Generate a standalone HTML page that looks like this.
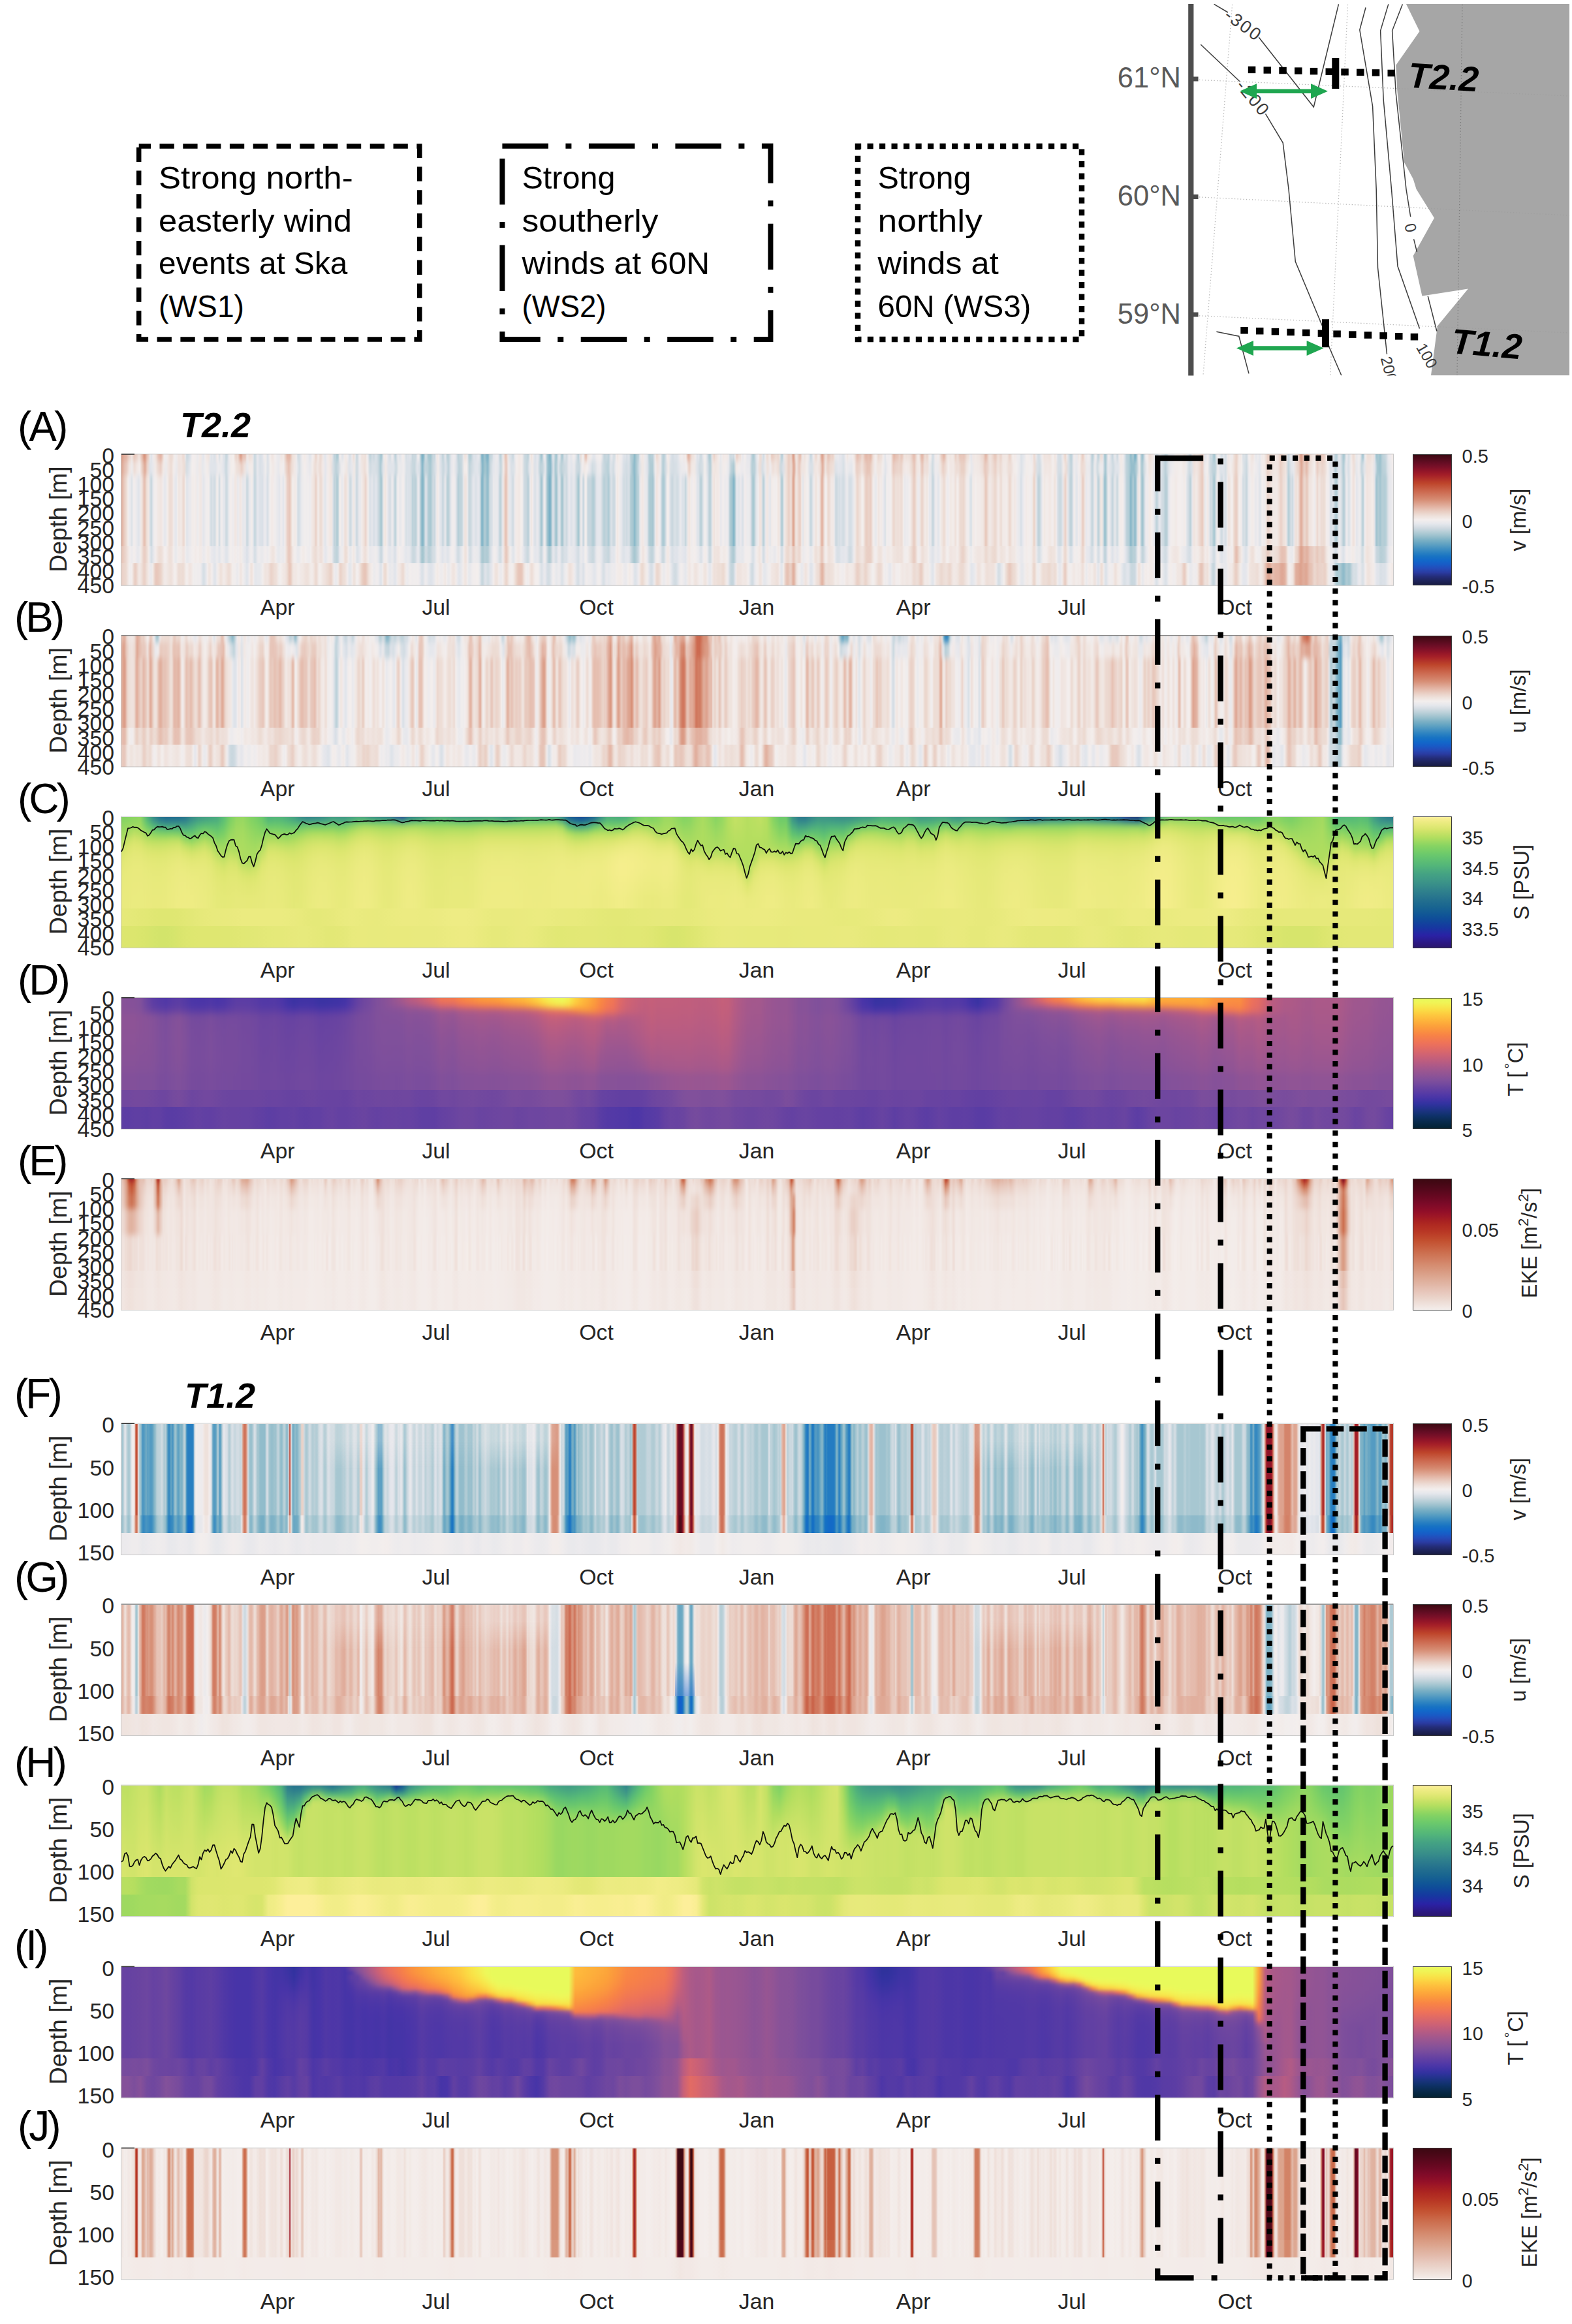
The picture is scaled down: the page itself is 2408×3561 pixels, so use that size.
<!DOCTYPE html><html><head><meta charset="utf-8"><title>Figure</title><style>
html,body{margin:0;padding:0;background:#fff}
body{width:2408px;height:3561px;position:relative;overflow:hidden;font-family:"Liberation Sans", sans-serif}
.p{position:absolute;overflow:hidden;left:186px;width:1948px;height:200.5px}
.p div{position:absolute;left:0;width:100%}
.bl{position:absolute;left:0;top:-40px;width:100%;height:280.5px;filter:url(#vb)}
.bl2{position:absolute;left:0;top:-40px;width:100%;height:280.5px;filter:url(#vb2)}
.cb{position:absolute;left:2164px;width:60px;height:201.5px;border:1px solid #3a3a3a;box-sizing:border-box}
svg{position:absolute;left:0;top:0}
text{font-family:"Liberation Sans", sans-serif}
</style></head><body>
<svg width="0" height="0"><defs><filter id="vb" x="0" y="-0.1" width="1" height="1.2" color-interpolation-filters="sRGB"><feGaussianBlur stdDeviation="0 5"/></filter><filter id="vb2" x="0" y="-0.1" width="1" height="1.2" color-interpolation-filters="sRGB"><feGaussianBlur stdDeviation="0 2.6"/></filter></defs></svg>
<div class="p" style="top:696.3px">
<div class="bl">
<div style="top:-5px;height:55px;background:linear-gradient(90deg,#d99781,#dda28e,#e0ac9a,#e1b09f,#e3b5a6,#e7c4b7,#ead0c6,#ecd9d1,#f0e6e2,#ead2c8,#e7c5b8,#e9cec4,#ead2c9,#eee0da,#eee0da,#e8cabf,#e4b8a8,#da9a84,#d8927a,#e1af9e,#e7c5b8,#ebd4cb,#eae9ec,#dde2e8,#eeebed,#f1e9e6,#efe4df,#ecd8d0,#e7c3b7,#e4b8a9,#e2b1a1,#e5beb0,#eddcd5,#f2eded,#edebed,#f2ebe9,#f0e5e1,#eddcd5,#ecdbd3,#ecdbd4,#f1e8e5,#f1eded,#edebed,#f1e9e7,#efe2dd,#f0e6e3,#f0e5e1,#ecdad3,#eddcd5,#eae9ec,#cbd8df,#cfdae1,#d8dfe6,#e0e4ea,#f0eced,#f3edec,#f0eded,#f2eceb,#eae9ec,#eeebed,#f1e9e6,#f1e8e5,#e7e7ec,#e3e5eb,#f1eded,#f1e8e5,#f0e5e1,#efe3de,#e7e8ec,#dce2e8,#e6e7ec,#d9e0e6,#dee2e9,#f1e8e5,#f2eded,#d5dde4,#ebeaec,#efeced,#dee2e9,#dee3e9,#c6d6dd,#c9d7de,#e3e5eb,#f1eded,#f2ebe8,#f2eded,#f3eeec,#ecdbd3,#ead3ca,#ecdad2,#e6c2b5,#db9d88,#dda18d,#e6c0b3,#e6c0b3,#e7c3b7,#f0e6e2,#f0e6e3,#edddd6,#efe2dd,#efe3de,#e5e6ec,#c6d6dd,#d3dce3,#e8e8ec,#e4e6ec,#d8dfe6,#dae0e7,#dfe3e9,#eeeced,#f2ebe9,#e9e9ec,#d8dfe6,#e8e8ec,#f3eeed,#f0e6e2,#f0e4e0,#f2eceb,#f3eeed,#edebed,#ebeaec,#e8e8ec,#f1e7e4,#f0e5e1,#f2ebe9,#eddcd5,#e8c9bd,#e3b5a5,#e3b6a6,#e2b4a4,#e8cabf,#eee1db,#efe3de,#f0e5e1,#f2eded,#d4dde4,#d1dbe2,#dce1e8,#eae9ec,#f3eeed,#f1e9e6,#f2ebe9,#eeebed,#ebeaec,#e1e4ea,#e4e6ec,#f0eced,#f2ebea,#efe3de,#ead1c7,#efe2dd,#f2eae7,#ecdbd3,#ecdad3,#f0e6e2,#eae9ec,#e0e4ea,#eceaed,#f2ebe9,#f1e8e4,#efe3df,#f0e7e3,#dbe1e8,#bdd2da,#c2d4dc,#a8c8d1,#b0cbd4,#eeebed,#f1eded,#dee3e9,#e6e7ec,#f2ebe8,#f1e9e6,#f1eded,#e5e7ec,#d6dee5,#e6e7ec,#f1e8e5,#ecdbd3,#edebed,#c8d7de,#d1dbe2,#edebed,#f0eced,#efe3de,#efe2dd,#efe3de,#edded8,#f3eeec,#e4e6ec,#c3d4dc,#c2d4dc,#d4dde4,#cad7df,#d0dbe2,#dce1e8,#d0dbe2,#c2d4dc,#b3ccd5,#9cc1ce,#c6d6dd,#f2eeed,#f0e6e2,#f3edec,#e6e7ec,#d8dfe6,#d6dee4,#eceaed,#edebed,#cdd9e0,#b8cfd8,#dce1e8,#ebeaec,#e0e4ea,#e5e7ec,#f1eded,#f2ebe9,#e9e9ec,#d5dde4,#dde2e8,#dce1e8,#e1e4ea,#dbe1e7,#c1d3db,#ced9e0,#c6d6dd,#d6dee5,#f2eeed,#edebed,#bad0d8,#86b6c8,#77afc4,#a5c6d0,#d5dee4,#c6d6dd,#a7c7d1,#a4c6d0,#a3c5cf,#bdd1d9,#cad8df,#c5d5dd,#ebe9ec,#f0e6e2,#f1eded,#dee3e9,#d7dfe5,#bed2da,#ccd9e0,#e9e8ec,#c9d7de,#b5ced6,#c5d5dd,#d9e0e6,#e9e9ec,#eceaed,#edebed,#e8e8ec,#d1dbe2,#b9cfd8,#c5d5dd,#c8d7de,#cdd9e0,#eae9ec,#eee1db,#efe3df,#eae9ec,#bcd1d9,#b1ccd5,#bcd1d9,#d2dce3,#dfe3ea,#dae0e7,#dee2e9,#e6e7ec,#e6e7ec,#c6d6dd,#7db2c6,#83b4c7,#9fc3ce,#91bccb,#78afc5,#81b4c7,#bfd2da,#c7d6de,#cbd8df,#e6e7ec,#e6e7ec,#eceaed,#eeebed,#dfe3ea,#bad0d8,#c8d7de,#e6e7ec,#eee0da,#e6c2b4,#e8cabe,#f0e6e2,#dfe3e9,#dce2e8,#d4dde4,#c6d6dd,#e3e6ec,#f1eded,#f1eded,#f2ebe8,#f1e9e6,#f2eceb,#f2ecea,#dae0e7,#c8d7de,#c9d7df,#bdd2da,#c4d5dd,#f2eeed,#eee0da,#f2ebe9,#e3e6ec,#d8dfe6,#e3e6ec,#e5e7ec,#d2dce3,#adcad3,#9cc1ce,#d6dee5,#f3eeed,#dce2e8,#a9c8d2,#92bccb,#7bb1c5,#93bdcb,#d7dee5,#dee3e9,#bed2da,#9bc1ce,#c5d5dd,#e7e8ec,#e0e4ea,#afcbd4,#aac8d2,#d8dfe6,#dbe1e7,#cdd9e0,#e1e4ea,#edebed,#e6e7ec,#e8e8ec,#f1eded,#efeced,#e4e6ec,#cfdae1,#b4cdd6,#dee2e9,#ecdbd4,#f2ecea,#eeebed,#e7c7ba,#e3b7a8,#eee0da,#f1e8e5,#f2ebe8,#efeced,#e6e7ec,#e2e5eb,#e9e9ec,#f1eded,#f0eded,#f3eeed,#f3edec,#e9e9ec,#d1dbe2,#c0d3db,#c7d6de,#c9d7df,#bbd0d9,#d1dbe2,#e9e9ec,#e2e5eb,#d5dee4,#d5dee4,#f3edec,#f0e5e1,#f3edeb,#f0eced,#efeced,#e5e7ec,#dce1e8,#e0e4ea,#d5dde4,#dee2e9,#dbe1e7,#b6ced7,#b3ccd5,#a8c8d1,#87b7c8,#a1c4cf,#b5cdd6,#b8cfd8,#e3e5ec,#f2ebe8,#f0e6e3,#f2eae8,#e9e8ec,#e9e9ec,#dbe1e7,#b7ced7,#b3ccd5,#b9cfd8,#b9cfd8,#d8dfe6,#f1e9e7,#ebd7ce,#eedfd9,#f0e5e1,#eceaed,#cad7df,#b6ced7,#bed2da,#d8dfe6,#f3eeec,#f1e8e5,#eae9ec,#dce1e8,#d3dce3,#d8dfe6,#dde2e9,#dae0e7,#dee3e9,#e8e8ec,#f2ebe9,#f1eded,#f0eced,#f1e7e4,#f3eeec,#ebd7cf,#e1af9d,#e3b4a4,#e9cdc3,#eee0da,#eee1dc,#f1e7e4,#edebed,#dce1e8,#e5e6ec,#d5dde4,#cbd8df,#dfe3e9,#edebed,#f3eeec,#e7e8ec,#d0dbe2,#afcbd4,#acc9d3,#d8dfe6,#eee1db,#e9cec4,#eedfd9,#efe2dd,#f1e9e7,#f2eeed,#e6e7ec,#f1eded,#f1e7e4,#f2ebe9,#f2eae8,#f1e8e5,#eeebed,#d0dbe2,#d0dbe1,#d5dee4,#ced9e0,#edebed,#ead1c7,#ead1c7,#eedfd9,#edded7,#f2eceb,#e6e7ec,#f1eded,#f3edec,#e7e7ec,#e5e7ec,#e6e7ec,#dae0e7,#b9cfd8,#a9c8d1,#bbd1d9,#dce2e8,#e7e8ec,#f3eeed,#ecdbd4,#eddcd5,#e0e4ea,#ced9e0,#eeebed,#eedfd8,#ecdbd3,#f0e7e3,#f1e8e4,#e8c9bd,#e9cdc2,#ead3c9,#ecd9d1,#ecdbd3,#ebd4cb,#efe2dd,#cfdae1,#adcad3,#dce2e8,#f1e8e5,#eee1db,#ecdad2,#e9ccc1,#ead0c6,#ecdad2,#dfaa98,#db9c87,#ebd7cf,#f0e5e1,#ecdad2,#e6c3b6,#e4baab,#eddcd5,#eeebed,#eee1db,#f0e5e1,#f2ebe9,#f2eae8,#dfe3ea,#c3d4dc,#d8dfe6,#f0eced,#efe2dd,#ebd5cc,#efe3de,#f2ecea,#edddd7,#e0ad9b,#dc9f8a,#e5bdaf,#ecdad2,#eddcd5,#e7c5b9,#e6c3b6,#e9cfc5,#ebd5cc,#ead0c6,#efe2dc,#eae9ec,#e9e9ec,#eceaed,#e4e6ec,#e7e7ec,#dee2e9,#dbe1e7,#e5e6ec,#f3eeed,#efe4df,#f2eceb,#f0eced,#eeebed,#f3eeed,#f1e9e6,#ecdbd3,#e7c5b9,#e5bbad,#e7c7bb,#e8c9be,#ebd7ce,#ecd8d0,#e7c5b8,#e4b8a9,#e4b8a9,#e5bfb1,#e4bbac,#e3b5a5,#e9cfc4,#efe2dd,#f2eae8,#f2eded,#eee1db,#ebd6cd,#eedfd9,#edded7,#f1e9e6,#eeebed,#dee3e9,#f2eded,#f0eced,#eeebed,#f2eeed,#eee1db,#e6c0b2,#e3b6a6,#e6c1b3,#e6c3b6,#e8c9bd,#ead3ca,#e8c9bd,#e7c6b9,#ecdbd4,#f0e5e1,#eedfd8,#efe1dc,#eee0da,#edded8,#ebd5cc,#e7c7bb,#e5bcae,#e8c8bc,#edddd6,#f2ebe9,#f1e7e4,#e8cbc0,#e3b4a4,#e5bdaf,#ebd6cd,#eddcd5,#ead2c9,#eee0da,#f1eded,#f3eeed,#d6dee5,#d4dde3,#eceaed,#f2eae7,#f0eced,#efeced,#eee0da,#e9ccc1,#e6c1b4,#e2b3a2,#e7c6ba,#eedfd9,#f1e8e5,#f1e7e4,#f0e5e0,#f1e9e6,#f1e9e6,#edddd6,#e9ccc1,#eddcd5,#ebd7cf,#e7c6ba,#e7c6b9,#e8c8bc,#e7c4b8,#e8c9be,#ebd6cd,#edded7,#eee1db,#ebe9ec,#e3e5eb,#f1e8e5,#f0e6e3,#f1e9e7,#f0e7e3,#f0e5e1,#f0e4e0,#eedfd9,#ecdbd3,#ecd8d0,#e7c7ba,#e2b3a3,#e6c2b5,#ecdad2,#efe3de,#eee1db,#ecd9d1,#e9cfc5,#e7c7ba,#e8cbc0,#eddcd4,#eedfd9,#ebd5cc,#ebd6ce,#f0e6e3,#f0e6e2,#f0e5e1,#f1e8e4,#efe2dc,#ead1c8,#ebd6cd,#f0e7e3,#f3eeed,#f1e8e6,#f2ebe9,#eceaed,#edebed,#ebeaec,#dbe1e7,#e0e4ea,#e4e6ec,#eae9ec,#f3eeed,#f3eeed,#f3edec,#efeced,#eae9ec,#f2ebe9,#ebd7cf,#efe3df,#e6e7ec,#d3dce3,#d4dde4,#e3e5eb,#eeebed,#f1e8e4,#eee1dc,#f0e4e0,#efe3df,#efe2dd,#efe1dc,#f0e7e3,#f1eded,#f3edec,#efe2dd,#f3edec,#dce1e8,#d5dee4,#d5dde4,#dfe3ea,#eceaed,#edded7,#ead3c9,#f1e9e6,#e0e4ea,#cdd9e0,#bcd1d9,#c1d3db,#e6e7ec,#f2ebe9,#eae9ec,#e8e8ec,#f0e5e1,#f2eeed,#eee0da,#e9ccc1,#ebd4cb,#f1e9e6,#e7e7ec,#f2eded,#f1eded,#e6e7ec,#c5d5dd,#b6ced7,#d9e0e6,#f3edeb,#e4e6ec,#bbd0d9,#cedae1,#eee1db,#eeded8,#e0e4ea,#a7c7d1,#aac8d2,#d4dde4,#f2eded,#e7e8ec,#d8dfe6,#c3d4dc,#d9e0e7,#eceaed,#d7dfe5,#ccd8df,#eceaed,#f2eae7,#f1e9e6,#f3edeb,#e3e6ec,#cedae1,#b6ced7,#b8cfd8,#afcbd4,#8bb9c9,#a1c4cf,#abc9d2,#7ab0c5,#7ab0c5,#c1d3db,#f1eded,#e9e8ec,#b3ccd5,#97bfcd,#b9cfd8,#e4e6ec,#f3eeed,#f3edec,#efe1dc,#edddd7,#efe4df,#f1e7e4,#efeced,#dde2e9,#c6d6dd,#d8dfe6,#e9e8ec,#e1e4ea,#d4dde4,#d4dde4,#c4d5dc,#bbd0d9,#c4d5dc,#e1e4eb,#e4e6ec,#e4e6ec,#e6e7ec,#eae9ec,#f1eded,#f2ebe9,#f2eceb,#f2ebe9,#f2ecea,#f3edec,#f2ecea,#efe2dd,#f0e5e1,#ebeaec,#e4e6ec,#d0dbe1,#c1d3db,#e7e7ec,#eee0db,#edddd6,#efe3de,#efe3df,#eee0d9,#ecdad3,#ead1c7,#e8c8bd,#eee1dc,#e1e4ea,#e8e8ec,#f2eded,#e4e6ec,#cad8df,#d0dbe2,#b9d0d8,#9dc2ce,#c6d6dd,#ebeaec,#f0eced,#ebeaec,#dbe1e7,#d2dce3,#e6e7ec,#dce2e8,#d4dde4,#edebed,#f0e6e3,#f2ebe9,#edebed,#efeced,#eee0da,#ebd8cf,#ead0c6,#ecdad2,#f2ebe9,#f1e7e4,#f3eeed,#d7dfe5,#dde2e8,#d5dee4,#d0dae1,#eeebed,#f2eceb,#f1e9e6,#efe2dd,#f0e5e1,#f0eced,#e3e6ec,#edebed,#ebeaec,#e5e6ec,#f0eced,#f1e9e6,#f3eeec,#efe3de,#ecdbd4,#e9ccc1,#e9cfc5,#ebd7ce,#ecdad2,#eee1db,#eee1db,#f0e5e1,#f1e7e3,#eee0db,#ebd7ce,#e8c8bc,#e9cec3,#ecdad2,#edded7,#efe3de,#dee3e9,#c8d6de,#e0e4ea,#ebeaec,#e1e4ea,#efeced,#ecd9d1,#ebd7ce,#edddd6,#e6c2b4,#dca08c,#dc9f8a,#e4baab,#e7c7bb,#e5bdaf,#e0ab99,#e5bcad,#ebd6ce,#eddcd5,#efe3de,#f0e5e1,#f2ebe9,#ecd9d1,#e6c0b3,#ead4ca,#ead0c6,#e7c4b7,#e8c9be,#e8cabe,#ecd9d1,#f1e8e5,#f2ecea,#f3edec,#e0e4ea,#dee2e9,#e4e6ec,#ccd8e0,#b8cfd8,#b6ced7,#e0e4ea,#e8e8ec,#d8dfe6,#bfd2da,#a5c6d0,#b6ced7,#e8e8ec,#e6e7ec,#d5dee4,#e5e7ec,#f2eae7,#edded8,#ecdbd4,#f1e8e5,#e7e8ec,#edebed,#f1eded,#e5e7ec,#bad0d9,#9dc2ce,#dbe1e7,#f2eeed,#eee1db,#eeded8,#eee0db,#eee1db,#f1e7e4,#efe2dd,#e1e5eb,#9fc3cf,#a4c5d0,#abc9d2,#97bfcc,#acc9d3,#bdd1da,#c1d4db,#c7d6de,#d1dbe2,#e5e6ec,#eceaed,#eeebed,#f3edec,#f1e9e7)"></div>
<div style="top:50px;height:22px;background:linear-gradient(90deg,#dca18c,#e4bbac,#e8cbc0,#f0e4e0,#edebed,#eddcd5,#f1e7e4,#f3edec,#e8cbbf,#dfaa97,#ebd6ce,#dfe3ea,#e8e8ec,#f1e9e7,#ecd9d1,#e9cec4,#f1e8e5,#ebeaec,#f0e4e0,#eddcd4,#f3edec,#eae9ec,#efe3df,#f0e5e1,#edddd6,#d5dee4,#e2e5eb,#f3eeed,#f2eded,#ebeaec,#f1e8e5,#e7e8ec,#efeced,#f2ebe8,#e1e4ea,#e0e4ea,#e0e4ea,#eceaed,#ebeaec,#e2e5eb,#cad8df,#e6e7ec,#f3edeb,#f3eeec,#eee1db,#eddcd5,#e9cfc5,#eee1dc,#e8e8ec,#f2ebe9,#f2ecea,#c8d7de,#e6e7ec,#dae0e7,#dfe3e9,#eeeced,#dbe1e7,#f3eeec,#f1e9e6,#efeced,#e8e8ec,#f3edeb,#f0eced,#ead3c9,#e6c0b2,#ecdad2,#f1e7e4,#ebeaec,#d5dee4,#ebeaec,#f3edec,#eeebed,#e8e8ec,#f2ebe9,#eddcd5,#f0e5e1,#ecdbd4,#f2eae8,#e5e6ec,#f2ebe9,#f0e5e1,#d3dce3,#bcd1d9,#ced9e0,#edebed,#f1eded,#f0e7e3,#dfe3e9,#e6e7ec,#f1e9e6,#cdd9e0,#eceaed,#f0e6e2,#edded7,#f3edec,#d0dbe2,#d9e0e6,#d9e0e6,#cfdae1,#acc9d3,#dee3e9,#f1e8e5,#e1e4ea,#e0e4ea,#e0e4ea,#ccd9e0,#ebeaec,#ebeaec,#efeced,#d9e0e6,#dce2e8,#ccd9e0,#c4d5dc,#e0e4ea,#d6dee5,#83b5c7,#c3d4dc,#bdd2da,#a7c7d1,#c7d6de,#dae0e7,#f2ebe9,#dde2e9,#c9d7df,#dce1e8,#bdd1da,#e5e6ec,#eeebed,#dce1e8,#bcd1d9,#c7d6de,#f2ecea,#f3edec,#c0d3db,#d1dbe2,#dee3e9,#e2e5eb,#d3dde3,#84b5c7,#a3c5cf,#8ab8c9,#cbd8df,#e2e5eb,#e9e9ec,#e4e6ec,#c3d4dc,#f2eae8,#e7c5b9,#eeebed,#dae0e7,#dce2e8,#f3edec,#f1e9e6,#f3edec,#d0dbe2,#c1d3db,#e4e6ec,#f1eae7,#dce1e8,#e6e7ec,#bed2da,#c4d5dd,#e5e7ec,#97bfcc,#88b7c9,#d9e0e7,#a5c6d0,#dbe1e7,#bcd1d9,#c9d7de,#d0dae1,#e9e8ec,#e3e6ec,#eae9ec,#cdd9e0,#c8d6de,#efeced,#f1e9e6,#f3eeed,#e5e6ec,#d1dce2,#d9e0e6,#eae9ec,#eceaed,#cedae1,#c2d4dc,#b7cfd7,#dee3e9,#d2dce3,#eeebed,#f2ecea,#eceaed,#d8dfe6,#d2dce3,#d8dfe6,#b0cbd4,#8cb9ca,#b1ccd5,#dbe1e8,#f0e7e3,#ebeaec,#dee2e9,#b0cbd4,#afcbd4,#eeebed,#efe3de,#eae9ec,#b2ccd5,#d3dce3,#f2ebe9,#d7dfe5,#d5dde4,#d7dfe5,#e1e4ea,#ebeaec,#eceaed,#f1eded,#e9cfc4,#f1e8e5,#f1e9e6,#dfe3e9,#cfdae1,#d6dee4,#f2eeed,#d8dfe6,#b2ccd5,#f1e7e4,#f0e5e0,#f1e9e6,#e7e8ec,#f2ecea,#f1eded,#e8e8ec,#bcd1d9,#aac8d2,#f2eae7,#f1eded,#eceaed,#efeced,#eae9ec,#e9e8ec,#b7cfd7,#bbd0d9,#e7e8ec,#edded7,#d6dee5,#e9e9ec,#eee1db,#eeebed,#eedfd9,#f0e5e1,#edddd6,#cbd8df,#dce1e8,#eee1db,#e9cec3,#ecdbd4,#dda38f,#f0e5e1,#e8c9be,#f0e5e1,#f0e5e1,#f3eeec,#dce1e8,#d9e0e6,#f0e5e1,#f1e8e5,#edddd6,#e0ac9a,#efe4df,#ead1c7,#eddcd4,#eee0da,#dde2e8,#e4e6ec,#e2e5eb,#d7dfe5,#eeebed,#e9e9ec,#e5e7ec,#f3eeed,#ead0c6,#ebd5cc,#efe2dd,#ead1c7,#e6c3b6,#e7c5b8,#edddd5,#f0eced,#f0e5e0,#f0e5e0,#f1eded,#e1e4ea,#f0eced,#f3edec,#e8cbc0,#ead2c9,#ebd6cd,#ead3c9,#f1e7e4,#f2eae8,#f1e8e4,#ecdbd3,#e7c6ba,#f0e5e0,#f1e9e6,#e7c5b9,#eee0db,#eedfd9,#ebeaec,#d0dbe1,#eceaed,#ebeaec,#f0e5e0,#ead0c6,#eddcd5,#f3edec,#f1e7e4,#f1e8e5,#eddcd5,#edddd6,#e9d0c5,#e9d0c5,#efe3de,#f1eded,#e8e8ec,#f1e9e7,#f1e9e6,#f0e6e3,#eee0db,#e8c9bd,#ead2c9,#f0e5e1,#eddcd4,#ead0c6,#efe3de,#ecdbd3,#f1e8e5,#f1e9e6,#edded8,#edded8,#f2ebe9,#f2eeed,#eae9ec,#dde2e8,#ebeaec,#f2edeb,#f2eeed,#f2eded,#ecdbd4,#d9e0e6,#d1dbe2,#efeced,#f0e6e2,#f1e7e4,#f0e6e2,#f3edec,#f1e7e3,#d7dee5,#d4dde4,#f2ebea,#edddd6,#d8dfe6,#bfd2da,#eeebed,#e7e7ec,#f3eeed,#ecdad2,#eedfd9,#ebeaec,#eae9ec,#c2d4dc,#edebed,#d0dbe1,#ebeaec,#eceaed,#a4c5d0,#e6e7ec,#dfe3e9,#cedae1,#e0e4ea,#e0e4ea,#f2ebe8,#ebeaec,#c3d4dc,#b1ccd5,#95becc,#96becc,#b5ced6,#efeced,#a6c6d0,#d4dde3,#f0eced,#efe4df,#f2ebe9,#dfe3ea,#cedae1,#e3e6ec,#d2dce3,#bbd0d9,#d7dfe5,#eae9ec,#efeced,#f2ebe9,#f2edeb,#f3eeed,#f1e9e6,#ebeaec,#d0dbe2,#dae0e7,#efe1dc,#f0e5e1,#ecdbd3,#e8cabf,#edebed,#f3eeed,#d4dde3,#c1d3db,#bed2da,#efeced,#dee3e9,#e0e4ea,#d7dfe5,#f1e8e5,#f2eded,#efe2dd,#e9d0c5,#f1e8e5,#f2eeed,#d9e0e6,#ccd9e0,#f0eced,#f1e8e5,#f1eded,#eceaed,#e3e6ec,#f3edec,#f1e9e6,#ead3c9,#ecdbd3,#efe4df,#f0e7e3,#efe3de,#e9cfc4,#eddcd4,#f0e4e0,#c1d3db,#e1e5eb,#e8e8ec,#eddcd5,#e9cec3,#dfa895,#e9cdc2,#e4bbac,#edddd6,#f0e5e1,#f2eeed,#e9cdc3,#eddcd4,#ebd4cb,#eddcd5,#f3eeed,#dfe3e9,#e3e5eb,#b8cfd8,#dce1e8,#dce2e8,#aecad4,#e8e8ec,#d8dfe6,#f3edec,#eedfd8,#e6e7ec,#f0eced,#c5d5dd,#e0e4ea,#efe3de,#f0e4e0,#f1eae7,#e1e4eb,#a6c6d0,#9dc2ce,#bad0d9,#bdd2da,#e0e4ea,#ebeaec,#f3edec)"></div>
<div style="top:72px;height:155px;background:linear-gradient(90deg,#dfaa98,#e4baab,#e8c9bd,#ead3c9,#edded7,#f2ecea,#eceaed,#e8e8ec,#dae1e7,#efeced,#f2eceb,#eceaed,#e8e8ec,#dfe3e9,#e6e7ec,#f1e8e5,#edddd7,#e7c6ba,#e5bfb1,#ecd9d0,#efe3de,#f1e8e5,#d3dce3,#c4d5dc,#e1e4ea,#efeced,#f1eded,#f2eceb,#f1e8e4,#f0e7e3,#f0e4e0,#f1e7e4,#efeced,#e5e6ec,#e7e8ec,#f3edec,#f0e5e0,#ecdbd4,#eddcd5,#eee0da,#f0eced,#e7e7ec,#e4e6ec,#f3eeed,#efe4df,#f1e8e5,#f1e8e5,#eddcd5,#ecd8d0,#f3eeed,#dfe3e9,#e4e6ec,#e9e8ec,#eae9ec,#f2ecea,#f2ebe8,#f2eded,#f2eae8,#ebeaec,#efeced,#f1e8e5,#f0e6e2,#e9e9ec,#e2e5eb,#ebeaec,#efeced,#f0eded,#f3edec,#dbe1e7,#d1dbe2,#dde2e8,#d0dbe2,#d7dee5,#f2ecea,#edebed,#ccd9e0,#e9e9ec,#f1eded,#e5e7ec,#e5e7ec,#cdd9e0,#cedae1,#e5e7ec,#f1eded,#f3edec,#edebed,#eeebed,#f0e5e0,#f1e8e5,#e8e8ec,#eceaed,#f0e4e0,#f1e9e7,#e6e7ec,#e8e8ec,#eae9ec,#c8d7de,#d1dbe2,#e9e8ec,#eceaed,#f2ecea,#e1e5eb,#c4d5dc,#cedae1,#e5e6ec,#e4e6ec,#dce1e8,#dce1e8,#d8dfe6,#e5e6ec,#eceaed,#e2e5eb,#d5dde4,#e8e8ec,#f1eded,#f2eae8,#f2eae8,#f0eced,#efeced,#eae9ec,#e7e8ec,#e0e4ea,#efeced,#eceaed,#e1e4ea,#f0eced,#efe3de,#ead0c6,#e8cbc0,#e7c5b9,#ecdbd3,#f2edeb,#f2ecea,#f1e8e5,#f2eded,#d6dee5,#d3dde3,#dee3e9,#e9e9ec,#edebed,#f0eced,#f0eded,#eeebed,#f1eded,#eceaed,#efeced,#f1e7e3,#f0e4e0,#edded8,#e9cec4,#efe3df,#f2eceb,#edddd6,#ecdad2,#f0e4e0,#eceaed,#e0e4ea,#eceaed,#f2eceb,#f2eae7,#f0e6e2,#f1e7e3,#dde2e8,#bfd2da,#c6d6dd,#afcbd4,#b9d0d8,#f2eeed,#f2eceb,#e6e7ec,#efeced,#eee0da,#eedfd8,#f1e9e6,#e7e7ec,#ccd9e0,#d3dde3,#eae9ec,#f0e7e3,#e8e8ec,#cad7df,#d5dde4,#eae9ec,#e8e8ec,#f2ecea,#f0e5e1,#eedfd8,#ead2c8,#efe2dd,#f1eded,#dce2e8,#dce1e8,#e6e7ec,#d8dfe6,#dae0e7,#e3e5ec,#d7dfe5,#c9d7de,#b7cfd7,#a1c4cf,#cad8df,#f2ecea,#efe3de,#f2ecea,#e6e7ec,#d8dfe6,#d5dde4,#eae9ec,#eae9ec,#c9d7df,#bbd1d9,#e5e7ec,#f3eeed,#e9e9ec,#e9e9ec,#f1eded,#f3edec,#e8e8ec,#d5dee4,#dee3e9,#dae0e7,#dbe1e7,#d4dde3,#b8cfd8,#c3d4dc,#b8cfd7,#c5d5dd,#e9e9ec,#e7e7ec,#b6ced7,#8cb9ca,#83b5c7,#b1ccd5,#e1e4ea,#d3dce3,#b2ccd5,#abc9d3,#a9c8d2,#c4d5dd,#d1dbe2,#c7d6de,#e9e9ec,#f1e8e5,#f1eded,#e2e5eb,#dfe3e9,#c7d6de,#d3dce3,#eceaed,#cbd8df,#b4cdd6,#c4d5dc,#dce1e8,#edebed,#f0eced,#f0eced,#e7e8ec,#ccd8e0,#b2ccd5,#bed2da,#c0d3db,#c6d6dd,#e8e8ec,#efe2dd,#efe3de,#eeebed,#ccd8df,#c7d6de,#d1dbe2,#e0e4ea,#e6e7ec,#dbe1e8,#dce1e8,#e5e6ec,#e4e6ec,#c3d4dc,#7eb2c6,#8dbaca,#b1cbd5,#abc9d2,#94bdcc,#97bfcc,#ccd9e0,#d4dde4,#d8dfe6,#edebed,#e8e8ec,#e9e9ec,#eae9ec,#d9e0e6,#b8cfd7,#cbd8df,#e8e8ec,#eedfd9,#e6c1b4,#e7c6ba,#efe1dc,#e6e7ec,#e3e6ec,#dae0e7,#ced9e0,#e8e8ec,#f2ebe9,#f2eae8,#f1e7e4,#f1e8e5,#f3eeed,#f3eeed,#dae0e7,#cbd8df,#ccd8df,#bbd0d9,#bdd1da,#edebed,#f0e5e1,#f2eded,#e0e4ea,#d9e0e6,#e6e7ec,#e8e8ec,#d8dfe6,#b5cdd6,#a0c3cf,#d6dee5,#f2eeed,#dbe1e7,#a6c6d0,#8cb9ca,#75aec4,#8cb9ca,#d1dce2,#dae0e7,#b9d0d8,#97bfcc,#c0d3db,#e3e5eb,#dae1e7,#aac8d2,#a6c6d0,#d4dde4,#d7dfe5,#c9d7de,#dee2e9,#eae9ec,#dfe3ea,#dde2e8,#e6e7ec,#e3e6ec,#d4dde3,#bdd2da,#9ec3ce,#c6d6dd,#f3edec,#dbe1e7,#c3d4dc,#efeced,#f3eeed,#ced9e0,#c4d5dd,#c8d6de,#bed2da,#b2ccd5,#b5cdd6,#cdd9e0,#e3e5eb,#e4e6ec,#e5e7ec,#e3e5eb,#d3dce3,#bfd2da,#b7cfd7,#c1d3db,#bfd2da,#abc9d3,#c0d3db,#dce2e8,#d3dce3,#cad8df,#d0dbe2,#f3eeed,#f0e6e2,#f2eeed,#eae9ec,#e7e8ec,#d8dfe6,#d0dbe1,#d6dee5,#cbd8df,#d6dee5,#d5dee4,#b0cbd4,#acc9d3,#a4c5d0,#85b6c8,#a0c4cf,#b4cdd6,#b7cfd7,#e3e5eb,#f2eae8,#f0e6e2,#f1eae7,#e9e9ec,#e9e9ec,#dbe1e7,#b3cdd6,#abc9d2,#abc9d2,#a4c5d0,#c3d4dc,#edebed,#efe2dd,#f1e9e7,#f2eded,#e2e5eb,#bad0d8,#a9c8d2,#b6ced7,#d6dee4,#f2eeed,#f3edec,#e0e4ea,#ced9e0,#c8d6de,#d4dde3,#dbe1e7,#d3dde3,#d2dce3,#dae0e7,#eae9ec,#e3e6ec,#dae0e7,#dde2e8,#c1d3db,#dae1e7,#f1e7e4,#efe4df,#f2ecea,#eeebed,#f3edec,#f2ebe9,#eeebed,#dee3e9,#e0e4ea,#c5d5dd,#b5ced6,#d0dbe2,#e8e8ec,#f2eeed,#eae9ec,#dde2e9,#c1d3db,#b7cfd7,#d6dee5,#f1eae7,#eee0db,#f2ecea,#f1e8e5,#f1e8e5,#f2ecea,#e7e7ec,#edebed,#f2eded,#eceaed,#eceaed,#eeebed,#e0e4ea,#b4cdd6,#a7c7d1,#9ac0cd,#7db2c6,#a9c8d2,#e3e6ec,#e6e7ec,#dee3e9,#eae9ec,#e3e5ec,#d8dfe6,#eeebed,#f2ebea,#eceaed,#ecebed,#ebeaec,#dce1e8,#b5cdd6,#a4c6d0,#bbd1d9,#dee3e9,#e8e8ec,#f1eded,#eee0db,#f0e6e2,#ccd9e0,#b6ced7,#e3e6ec,#f1e8e5,#f0e7e3,#e9e8ec,#e0e4ea,#f2eae8,#f2edeb,#f2eded,#f0eded,#f3eeed,#efe3de,#f1e8e5,#cad8df,#a8c8d1,#d7dfe5,#f1eae7,#eee1db,#ecdad3,#e9d0c5,#ebd7cf,#eee0da,#e2b4a3,#dda28e,#ecd9d0,#f0e6e2,#edded7,#ead0c6,#e9cfc4,#f2ebe9,#e1e5eb,#f1e9e6,#f2ebe9,#f1eded,#f3eeed,#dce2e8,#c2d4dc,#d6dee5,#ebeaec,#f2eae8,#eee1db,#f2ebe9,#efeced,#efe3de,#e4b9aa,#e2b2a2,#ebd7ce,#f3edec,#f2eeed,#eddcd5,#ecd9d1,#efe3df,#f2eae8,#f1e8e5,#ebeaec,#ccd9e0,#cdd9e0,#d9e0e6,#d4dde4,#dde2e9,#d4dde4,#d1dbe2,#d9e0e6,#e7e7ec,#ebeaec,#dbe1e7,#d4dde4,#d6dee5,#e0e4ea,#e9e9ec,#f1eae7,#eddcd5,#ebd5cb,#eee0da,#efe2dd,#f3edeb,#f3eeed,#eedfd9,#e9cfc5,#e9ccc1,#ead2c9,#ead1c7,#e9ccc1,#eee1dc,#f2eded,#ebeaec,#e7e8ec,#f2eceb,#efe3de,#f2ebe9,#f1e9e6,#eeebed,#e6e7ec,#d7dfe5,#f1eded,#f1eded,#efeced,#f0eded,#f1e9e6,#ecd8d0,#ebd7cf,#eee1db,#eedfd9,#edded7,#efe2dc,#eddcd5,#edded7,#f2eeed,#e7e8ec,#edebed,#eceaed,#f0eced,#f2edeb,#efe3de,#ecd8d0,#e8cbc0,#ead4ca,#f0e5e0,#eceaed,#eceaed,#efe2dc,#ead2c8,#ecd9d1,#f1e7e4,#f2ebe8,#efe4df,#f2eeed,#e3e6ec,#e9e8ec,#c9d7df,#c9d7df,#e6e7ec,#efeced,#e7e7ec,#e2e5eb,#f1eded,#f0e6e3,#efe3de,#ecd9d1,#efe2dd,#f1eded,#eceaed,#f2eded,#f1e8e4,#f2eae7,#f2eceb,#f0e6e2,#eedfd9,#f3edec,#f1eae7,#eddcd5,#ecd9d1,#ecd9d1,#ebd6cd,#edded7,#f1e9e7,#f0eced,#efeced,#dce2e8,#d8dfe6,#f2ecea,#f2eae7,#f3eeed,#f2ecea,#f2eae8,#f2ebe9,#f1eae7,#f1e8e4,#f0e6e2,#ecd9d1,#e7c5b8,#ead2c8,#efe3de,#f1e9e6,#f0e6e3,#efe2dc,#edded7,#ebd7ce,#ecdbd3,#f1e7e4,#f2ebe9,#eedfd9,#eddcd5,#f1eae7,#f2eae8,#f2eae8,#f2ecea,#f0e5e1,#ebd7ce,#ecd9d1,#f1e7e3,#f2eceb,#f0e6e3,#f2eae7,#eceaed,#e9e9ec,#e6e7ec,#d6dee5,#e4e6ec,#eceaed,#f2eded,#f1e9e7,#f3edeb,#f3edeb,#f1eded,#eeebed,#f0e5e0,#e9cfc4,#efe2dd,#e0e4ea,#c1d3db,#bfd2da,#d2dce2,#e6e7ec,#f3edec,#f0e7e3,#f2ecea,#f2ecea,#f2eae8,#f1e7e4,#f1e9e7,#f2eeed,#f2eae7,#eee0da,#f3edec,#dae0e7,#cfdae1,#c9d7df,#d2dce3,#e6e7ec,#edded7,#e9cdc3,#f0e4e0,#e3e6ec,#cdd9e0,#bdd1d9,#c3d4dc,#e6e7ec,#f3edeb,#e6e7ec,#e1e4eb,#f3edec,#eae9ec,#f0e6e2,#e9cec4,#ead2c8,#f1e7e4,#e5e7ec,#eeebed,#edebed,#e3e6ec,#cbd8df,#c5d5dd,#e6e7ec,#f1e8e5,#e6e7ec,#bad0d8,#cad8df,#f0e6e2,#f0e7e3,#d2dce2,#98bfcd,#a3c5cf,#d1dbe2,#f0eded,#e6e7ec,#d7dfe5,#c0d3db,#d5dee4,#e9e9ec,#d4dde3,#cad8df,#ebeaec,#f2ecea,#f2ecea,#f3edec,#e5e7ec,#d3dce3,#bad0d8,#b8cfd8,#aac8d2,#82b4c7,#9cc1ce,#b0cbd5,#90bbcb,#9bc1cd,#dae0e7,#f0e6e2,#eeebed,#b8cfd7,#9cc1ce,#bad0d8,#e1e4eb,#eeebed,#eceaed,#f2ebe9,#f1e8e4,#f3eeed,#efeced,#e5e7ec,#d0dbe2,#bbd1d9,#d2dce3,#e6e7ec,#dfe3e9,#d1dbe2,#d0dbe2,#bed2da,#b4cdd6,#bfd2da,#e3e6ec,#eceaed,#f2eded,#f2eceb,#f2edeb,#f1eae7,#f1e9e6,#f3edec,#f3eeed,#f3eeed,#f1eded,#f1eded,#f1eae7,#f2eded,#dee3e9,#d5dde4,#c3d4dc,#bad0d8,#e4e6ec,#f0e5e1,#f0e4e0,#f1eae7,#f0e6e3,#eeded8,#ebd7ce,#e9cfc4,#e8c8bc,#eedfd9,#e8e8ec,#f0eded,#f1e8e5,#e8e8ec,#cdd9e0,#d1dbe2,#bbd1d9,#a2c5cf,#ccd9e0,#eeebed,#f1eded,#eae9ec,#d6dee5,#ced9e0,#e4e6ec,#dce2e8,#d6dee5,#efeced,#efe2dd,#f0e6e2,#f2eeed,#f3edec,#ecdbd3,#ead0c6,#e9ccc1,#ecdad3,#f3eeed,#f2ecea,#eeebed,#d1dbe2,#d9e0e6,#cfdae1,#c5d5dd,#e7e8ec,#eeebed,#f1eded,#f2eae8,#f2ecea,#edebed,#e6e7ec,#efeced,#e8e8ec,#dde2e8,#ebeaec,#f3eeed,#eceaed,#f2ebe9,#efe2dd,#ead3ca,#ecd8d0,#eee0da,#f0e4e0,#f1eae7,#f1e8e4,#f1e9e6,#f1e9e7,#efe3de,#eddcd4,#ead0c6,#ebd7cf,#eee0da,#efe2dd,#f1e8e5,#d0dbe2,#b1ccd5,#c9d7de,#d8dfe6,#cbd8df,#e4e6ec,#efe2dd,#eee0da,#f0e6e2,#ead1c7,#e2b2a1,#e1af9e,#e8c8bd,#ebd7ce,#ead3c9,#e7c7ba,#ebd8cf,#f0e6e2,#f0e5e1,#f1e9e6,#f2eceb,#edebed,#f0e4e0,#ebd5cc,#f0e5e1,#efe3de,#ecdbd4,#edded7,#ecdbd3,#eee0db,#f3edec,#f0eced,#eeebed,#d8dfe6,#d9e0e6,#e2e5eb,#cad7df,#b5ced7,#b3cdd6,#dee3e9,#e9e9ec,#dee3e9,#cbd8df,#b3ccd5,#c1d3db,#eceaed,#e9e9ec,#d7dfe5,#e3e5eb,#f3eeed,#f0e4e0,#efe1dc,#f3edec,#e1e4ea,#e7e8ec,#efeced,#e9e9ec,#ccd9e0,#b4cdd6,#e8e8ec,#f2ebe9,#efe3df,#f0e5e2,#f1e8e5,#f1e8e4,#f3edeb,#f0e7e3,#dee3e9,#a0c3cf,#a8c7d1,#b2ccd5,#a1c4cf,#b1ccd5,#b8cfd8,#b3cdd5,#b3cdd6,#c0d3db,#dae1e7,#e7e7ec,#e8e8ec,#eceaed,#efeced)"></div>
</div>
<div style="top:140.5px;height:27px;background:linear-gradient(90deg,#e6c3b6,#e8c8bc,#e9cfc5,#ebd4cb,#eddcd5,#f0e4e0,#f2ebe9,#f0eced,#eceaed,#f1eded,#f3edec,#eeebed,#e8e8ec,#e7e7ec,#edebed,#f1e8e4,#edddd6,#ead0c6,#e9cdc3,#ebd7cf,#eee0da,#f2ebe9,#e2e5eb,#d4dde4,#dfe3e9,#eae9ec,#f1eded,#f1e8e5,#eee1dc,#edded7,#edddd6,#eee0da,#f1e7e4,#f3eeed,#f2eded,#f1e9e7,#efe3de,#eedfd8,#eee0da,#f0e5e1,#f2eeed,#eae9ec,#e9e9ec,#f0eded,#f2ebe9,#f2ebe9,#f1eae7,#f0e4e0,#f0e4e0,#f1eded,#e7e8ec,#e9e8ec,#edebed,#eeebed,#f1eded,#f3eeed,#f2ecea,#f2eae8,#f3edec,#f3edec,#f1e9e6,#f2eae8,#eeebed,#e9e9ec,#eeebed,#f3eeed,#f1eae7,#f1eae7,#efeced,#e9e8ec,#e7e7ec,#e3e6ec,#e6e7ec,#edebed,#e9e9ec,#e1e4ea,#e9e9ec,#efeced,#edebed,#e8e8ec,#e0e4ea,#e0e4ea,#e9e9ec,#f1eded,#f3eeed,#f0eced,#f1eded,#f2ebe9,#f3edeb,#eeebed,#f1eded,#f1e9e6,#f2ecea,#ebeaec,#e7e7ec,#e4e6ec,#dae0e7,#e0e3ea,#eae9ec,#efeced,#efeced,#e5e6ec,#d5dee4,#dae0e7,#e9e8ec,#eeebed,#edebed,#eae9ec,#eae9ec,#eeebed,#f2eded,#efeced,#eceaed,#f0eded,#f2eae8,#f0e5e1,#efe3de,#f0e5e1,#f2eceb,#eceaed,#e7e8ec,#e8e8ec,#edebed,#eceaed,#e9e8ec,#efeced,#f0e4e0,#ebd5cc,#e8c9be,#e8c8bd,#ebd6cd,#f0e4e0,#f2ecea,#f2eeed,#eeebed,#e8e8ec,#e9e9ec,#efeced,#f3edec,#f2ebe8,#f2ebe9,#f3eeed,#f0eced,#eeeced,#eeebed,#f2eeed,#f0e6e3,#eee1db,#edddd5,#ecdbd4,#efe3de,#f1e7e4,#efe2dd,#eedfd9,#f0e5e1,#eeebed,#e5e6ec,#e7e8ec,#efeced,#f2eceb,#f2ebe8,#efeced,#dce2e8,#c9d7de,#c4d5dc,#bdd2da,#c8d7de,#e5e6ec,#ecebed,#edebed,#f2ebe9,#eedfd8,#eddcd4,#efe3de,#f1eded,#e7e8ec,#e9e9ec,#f3edeb,#f0e6e2,#f0eded,#e0e4ea,#dbe1e7,#e4e6ec,#e9e9ec,#f2eded,#f1e7e4,#efe1dc,#eedfd9,#f0e6e2,#f2eded,#e9e9ec,#e9e8ec,#eceaed,#eceaed,#eeebed,#efeced,#eae9ec,#e2e5eb,#d2dce3,#c8d6de,#d8dfe6,#eeebed,#f2ecea,#f2eded,#eae9ec,#e5e6ec,#e4e6ec,#e9e9ec,#e7e8ec,#dce1e8,#dbe1e7,#eceaed,#f2ecea,#f3eeed,#f0eced,#f0eced,#edebed,#e7e8ec,#e4e6ec,#e7e8ec,#e7e8ec,#e4e6ec,#d8dfe6,#cbd8df,#cad8df,#cfdae1,#dce1e8,#e8e8ec,#e2e5eb,#c5d5dd,#a8c7d1,#a3c5cf,#b9d0d8,#d0dbe2,#ccd8e0,#bdd2da,#bbd0d9,#c1d3db,#cfdae1,#d4dde3,#d5dee4,#e6e7ec,#f1eded,#f1eded,#ebeaec,#e6e7ec,#dfe3ea,#e4e6ec,#e9e9ec,#e4e6ec,#dfe3e9,#e6e7ec,#eeebed,#f2eded,#f2eded,#eeeced,#e7e8ec,#d8dfe6,#d0dbe2,#d8dfe6,#e2e5eb,#e9e9ec,#f3edeb,#efe2dc,#efe2dd,#f2eded,#dfe3e9,#d3dde3,#dae0e7,#e6e7ec,#eceaed,#ebeaec,#e9e9ec,#e9e9ec,#e3e6ec,#cbd8df,#abc9d3,#a9c8d1,#b4cdd6,#b4cdd6,#afcbd4,#b6ced7,#cdd9e0,#dae0e7,#e6e7ec,#f0eced,#f1eded,#eeebed,#e8e8ec,#dce2e8,#d1dce2,#dae0e7,#eceaed,#efe1dc,#e9ccc1,#e7c7bb,#ebd7cf,#f0e7e3,#f1eded,#e8e8ec,#e0e4ea,#e7e8ec,#f1eded,#f2eae8,#f1e7e4,#f1e9e7,#f3eeed,#edebed,#e4e6ec,#dae0e7,#d3dce3,#cad8df,#d2dce2,#e9e9ec,#f3edec,#f0eded,#e8e8ec,#e4e6ec,#e6e7ec,#e7e7ec,#dce2e8,#cbd8df,#cad8df,#e5e6ec,#f2eded,#e9e9ec,#cfdae1,#b7ced7,#adcad3,#bdd1d9,#dce2e8,#e6e7ec,#dbe1e7,#d2dce3,#e1e4eb,#eceaed,#e8e8ec,#d4dde4,#cdd9e0,#d8dfe5,#dae0e7,#d9e0e6,#e4e6ec,#ebeaec,#eae9ec,#e8e8ec,#e7e8ec,#e5e6ec,#dfe3ea,#d8dfe6,#d2dce3,#e0e4ea,#ebeaec,#e6e7ec,#e4e6ec,#f1eded,#f2eeed,#e5e6ec,#d7dfe5,#d3dce3,#cdd9e0,#c8d7de,#ced9e0,#dee2e9,#eae9ec,#edebed,#eeebed,#eae9ec,#e3e6ec,#d6dee5,#cfdae1,#ced9e0,#cad8df,#c4d5dd,#d0dae1,#e0e4ea,#e4e6ec,#e1e5eb,#e7e8ec,#f3edec,#f1e7e4,#f2eceb,#edebed,#e6e7ec,#dfe3e9,#dee3e9,#e3e6ec,#e4e6ec,#e6e7ec,#e1e4ea,#cfdae1,#bfd2da,#b0cbd4,#a6c6d0,#b0cbd4,#bed2da,#ccd9e0,#e4e6ec,#f3edec,#f0e5e1,#f0e5e1,#f2ecea,#efeced,#e5e6ec,#d1dbe2,#c6d6dd,#c1d3db,#c2d4dc,#d4dde4,#eae9ec,#f3edec,#f3eeed,#eeebed,#e5e6ec,#d1dbe2,#c9d7de,#d5dee4,#eae9ec,#f1e8e5,#f1e8e5,#eceaed,#dee3e9,#d8dfe6,#dde2e8,#e1e4ea,#dfe3ea,#e1e4ea,#e6e7ec,#eae9ec,#e8e8ec,#e5e6ec,#e3e5ec,#dfe3ea,#eae9ec,#f1e9e7,#f0e7e3,#f2ecea,#f1eded,#f2eeed,#f3edec,#f1eded,#edebed,#eae9ec,#e1e4ea,#dbe1e7,#e6e7ec,#f1eded,#f2ebe9,#f2eded,#e7e8ec,#d2dce2,#cad7df,#dfe3e9,#f2ecea,#efe2dd,#efe4df,#efe3df,#efe2dd,#f0e5e1,#f2ecea,#f2eceb,#f1eae7,#f1e9e7,#f2ebe9,#f2eeed,#e6e7ec,#cedae1,#bcd1d9,#b1cbd5,#adcad3,#c4d5dd,#e1e5eb,#e8e8ec,#e8e8ec,#e9e9ec,#e7e8ec,#e6e7ec,#edebed,#f2eded,#f1eded,#f1eded,#f1eded,#eae9ec,#dde2e8,#d8dfe6,#e4e6ec,#efeced,#f2ecea,#f0e7e3,#efe3de,#f3edeb,#dde2e8,#d1dbe2,#e7e7ec,#f2eae8,#f1e8e4,#f0eced,#ebeaec,#efeced,#edebed,#e9e8ec,#e9e9ec,#f1eded,#f1e8e5,#f3edec,#dfe3e9,#d1dbe2,#e7e7ec,#f1e7e4,#edddd6,#ecd9d0,#ecd9d1,#eee0da,#efe1dc,#ead0c6,#e7c6ba,#ebd8cf,#eee0da,#eddcd5,#ebd7cf,#eddcd5,#f2ebe9,#ebeaec,#eeebed,#f0eced,#f2eded,#f3edec,#edebed,#e7e7ec,#ebeaec,#f2ecea,#efe3de,#eedfd8,#efe3de,#f0e5e0,#eddcd4,#e8c9bd,#e8c9be,#edded7,#f2ecea,#f3edec,#f0e5e0,#eee0da,#efe3de,#f0e5e1,#f1e7e3,#f1eded,#e3e6ec,#dae0e7,#d9e0e6,#dbe1e8,#e2e5eb,#e3e6ec,#e3e5eb,#e5e6ec,#e6e7ec,#e1e4ea,#d4dde4,#cfdae1,#d3dce3,#dfe3e9,#eceaed,#f1e8e5,#edddd6,#ecdad2,#eeded8,#efe2dd,#f0e5e1,#f0e4e0,#edddd6,#ead4ca,#e9cfc5,#e9cfc5,#e9cec4,#ead0c6,#edddd5,#f1e7e4,#f2eded,#f1eded,#f1e9e6,#efe2dd,#efe2dc,#efe4df,#f2eae8,#f0eced,#eeebed,#f2ebe9,#f1e8e5,#f1eae7,#f2ebe9,#f2eae7,#f0e5e1,#efe3de,#efe3de,#eee1db,#eee0db,#efe2dc,#eee0da,#eee1dc,#f1e9e6,#f1eded,#f1eded,#f3edec,#f1e9e6,#efe3de,#edddd5,#ead2c9,#e8cbc0,#ead1c7,#eee0db,#f3edec,#f1eded,#f1e8e6,#eee0da,#eedfd9,#efe4df,#f0e6e2,#f0e6e3,#f3eeec,#eae9ec,#e6e7ec,#dfe3e9,#e1e4ea,#eae9ec,#edebed,#e8e8ec,#e7e7ec,#eeebed,#f2ebe8,#efe4df,#eee0da,#f0e5e1,#f3edec,#f2eeed,#f1e9e7,#f0e4e0,#f0e5e1,#f1e7e4,#f1e7e3,#f1e7e4,#f2ecea,#f1e8e5,#eedfd9,#ebd7cf,#ead2c9,#ead2c8,#ecdad2,#efe2dd,#f1e8e5,#f2edeb,#edebed,#ebeaec,#f3eeed,#f2eae8,#f1e9e6,#f0e7e3,#f0e5e1,#f0e5e1,#f0e5e1,#f1e7e3,#f0e7e3,#eee0da,#ebd8cf,#ecdbd3,#eee1db,#efe3de,#eedfd9,#eddcd4,#ecd9d1,#ebd8cf,#edddd6,#f0e6e3,#f2eae8,#f0e5e1,#efe2dc,#efe4df,#f0e5e1,#f1e8e5,#f3edec,#f2ebe9,#efe4df,#efe2dc,#f0e5e1,#f0e7e3,#f0e7e3,#f2ebe9,#efeced,#eeebed,#eceaed,#e8e8ec,#e8e8ec,#edebed,#f2eeed,#f2ecea,#f3edec,#f2eeed,#f2eded,#f2ecea,#efe2dd,#eddcd4,#f0e4e0,#eae9ec,#d9e0e6,#d5dee4,#dfe3e9,#e9e9ec,#f1eded,#f3edec,#f3edec,#f2ebe9,#f0e6e2,#efe2dd,#eee1db,#efe3de,#efe3de,#efe4df,#f3eeed,#e6e7ec,#dfe3e9,#e1e4eb,#e9e9ec,#f2eceb,#edddd6,#ebd7ce,#efe2dd,#efeced,#e4e6ec,#dae0e7,#dee3e9,#eceaed,#f3edec,#f1eded,#f0eded,#f3edec,#f2ecea,#efe2dd,#ebd6cd,#ecdad2,#f2eae8,#e9e8ec,#e6e7ec,#e6e7ec,#dfe3e9,#d5dee4,#d8dfe6,#eae9ec,#f3eeed,#e9e9ec,#d5dde4,#dbe1e7,#efeced,#f0eded,#dbe1e7,#bfd2da,#c3d4dc,#e1e4eb,#f1eded,#f0eced,#e7e7ec,#dde2e8,#e5e6ec,#ebeaec,#e7e8ec,#e5e6ec,#ecebed,#f3eeed,#f3edec,#f2eded,#eceaed,#e4e6ec,#d7dfe5,#cfdae1,#bed2da,#acc9d3,#b1ccd5,#bad0d8,#b7cfd7,#c5d5dd,#e5e7ec,#f3eeed,#eceaed,#d3dce3,#c1d3db,#c8d7de,#dae0e7,#e7e7ec,#ecebed,#f3edec,#f1e9e6,#f1eae7,#f2ebe9,#f2eded,#e8e8ec,#dce2e8,#dee2e9,#e6e7ec,#e6e7ec,#e1e4ea,#dbe1e7,#d2dce3,#d1dbe2,#dce1e8,#ebe9ec,#f2eded,#f2ebe9,#f1e8e5,#f0e6e3,#f0e5e1,#f0e5e1,#f1e7e3,#f2eae7,#f3eeed,#eeebed,#ebeaec,#eae9ec,#e7e8ec,#dfe3e9,#d9e0e6,#d5dde4,#d8dfe6,#eae9ec,#f2ebe9,#f1e8e5,#f2ebe9,#f2ecea,#f1eae7,#f0e5e1,#eedfd9,#ecdbd3,#efe1dc,#f2ebe9,#f1e9e7,#f0e6e3,#f2eeed,#e8e8ec,#e3e5eb,#d6dee5,#cfdae1,#e0e3ea,#f0eced,#f3eeed,#ebeaec,#e1e4ea,#dfe3e9,#e6e7ec,#e6e7ec,#e7e8ec,#f0eced,#f1e9e7,#f2eceb,#efeced,#f3edec,#edddd5,#e7c6ba,#e5bcae,#e7c7bb,#ecdbd3,#efe2dd,#f2ebe8,#eae9ec,#e3e6ec,#dce2e8,#dfe3e9,#eeebed,#f1e9e6,#efe3de,#eedfd9,#eee1db,#f1e8e5,#f2eeed,#f1eded,#efeced,#efeced,#f1e9e6,#eee1db,#eedfd9,#eddcd4,#ead2c9,#e8cabf,#e9cfc4,#ecdad3,#eee0da,#efe2dd,#eee0da,#edded7,#eddcd5,#ecd8d0,#e9cec4,#e7c4b7,#e6c0b3,#e6c2b5,#e7c3b7,#e9cec3,#efe4df,#efeced,#eceaed,#ebeaec,#eae9ec,#f3edeb,#edddd6,#ebd5cb,#e9cfc5,#e5bcad,#dea592,#dda28d,#e1ae9d,#e4b8a9,#e3b6a6,#e1b09f,#e4b8a9,#e7c4b8,#e8c9be,#e9ccc2,#ead2c8,#ebd6cd,#e9cdc2,#e7c7bb,#e9d0c5,#ead3ca,#e9cfc5,#e9cdc2,#e9cfc5,#ecdad3,#f0e5e1,#f2ebe9,#f2eeed,#eceaed,#ebeaec,#e9e9ec,#dee3e9,#d5dde4,#dce2e8,#ebeaec,#f0eced,#eae9ec,#e2e5eb,#dbe1e7,#e5e7ec,#f2eded,#f2eeed,#edebed,#eeeced,#f3edec,#f1eae7,#f2ebe9,#efeced,#e9e9ec,#ebeaec,#edebed,#e7e8ec,#d5dee4,#d3dde3,#ebeaec,#f1e7e4,#efe2dc,#efe3de,#f0e6e2,#f1e8e5,#f2eae8,#f3eeec,#e5e7ec,#cbd8df,#c5d5dd,#c2d4dc,#b8cfd7,#b7ced7,#bad0d8,#bcd1d9,#c3d4dc,#d1dbe2,#e1e5eb,#eae9ec,#eeebed,#f1eded,#f2eeed)"></div>
<div style="top:167px;height:34.5px;background:linear-gradient(90deg,#e9cfc4,#ead2c9,#ebd6cd,#ebd7ce,#eddcd5,#f0e6e2,#f3eeed,#f0eced,#f3edec,#eedfd9,#e9cfc5,#e9cdc3,#ecd9d1,#f0e4e0,#f1e8e5,#efe3de,#eddcd4,#ead1c8,#ead1c7,#eddcd5,#efe4df,#f2eae8,#eceaed,#eae9ec,#f2ebe8,#ecdad2,#e8cabf,#e7c6ba,#e8c9bd,#e9cdc2,#ead1c7,#ecd9d1,#efe3de,#f1e9e7,#f1e9e7,#f0e7e3,#efe4df,#eee1db,#eee0da,#f0e4e0,#f2eae8,#f3eeed,#f2eae8,#eee1dc,#ecdbd4,#edddd5,#edddd6,#ecdbd3,#eedfd8,#f1e9e6,#f3eeed,#f2eae8,#f0e5e1,#f0e4e0,#f1e8e5,#f2eeed,#efeced,#f0eded,#efeced,#efeced,#f0eced,#ebeaec,#dde2e8,#d5dee4,#dce2e8,#e8e8ec,#f3edec,#efe4df,#f0e6e2,#f3edec,#eceaed,#e1e4ea,#e0e4ea,#edebed,#f2ebe9,#f0e6e2,#eee0da,#efe3de,#f2eae7,#f1e9e7,#f0e5e1,#eee0da,#eddcd4,#edddd6,#f0e4e0,#f3edeb,#f0eded,#f1eded,#edebed,#eae9ec,#f1eded,#f0e5e1,#f0e6e2,#f2eded,#eceaed,#e7e8ec,#dee3e9,#e5e6ec,#f2eded,#efe4df,#efe2dc,#f3edec,#e7e8ec,#e4e6ec,#e7e8ec,#e7e8ec,#e7e8ec,#ebeaec,#f1eded,#f1e9e6,#efe4df,#f0e4e0,#f0e4e0,#eeded8,#ebd6ce,#ead2c9,#ebd7ce,#eddcd5,#edded7,#efe1dc,#f1eae7,#f0eded,#f3eeed,#f2eae8,#f1e8e5,#f0e6e2,#efe2dd,#ecdbd3,#e9cdc2,#e7c4b8,#e9cfc4,#eee0da,#f1e8e4,#f1e7e4,#f1e8e4,#f2ecea,#f2ecea,#f1e9e7,#f1e8e5,#f1e7e3,#f0e4e0,#efe2dc,#eee0db,#efe2dc,#f0e7e3,#f2ebe9,#f2ebe9,#f1e7e4,#eedfd8,#ebd7cf,#eedfd9,#f2ebe9,#f3eeed,#f2ebe9,#f0e7e3,#efe3df,#efe1dc,#edddd7,#ecdad2,#ebd6cd,#ead1c7,#ebd4cb,#efe3df,#f0eced,#eae9ec,#ebeaec,#f2ebe9,#ecd8d0,#ead0c6,#ecd9d1,#edddd6,#eedfd8,#f0e4e0,#f3edec,#e8e8ec,#e2e5eb,#e9e9ec,#f2eae8,#eee0da,#efe4df,#f3eeed,#f2eded,#f1e7e4,#edded7,#ead2c8,#e8cabe,#e7c5b8,#e7c5b8,#e9cfc5,#eddcd4,#f0e4e0,#f1e9e6,#f3edeb,#edebed,#ebeaec,#f0eced,#f1eded,#eceaed,#e1e4ea,#dee2e9,#efeced,#eedfd9,#ecd9d0,#eee1db,#f3edec,#eae9ec,#e8e8ec,#ebeaec,#eae9ec,#e3e5eb,#e2e5eb,#eeebed,#f1e9e6,#f1e7e4,#efe2dd,#ecdbd3,#ecdad3,#f0e6e2,#eeeced,#eceaed,#efeced,#f2eeed,#f2eded,#efeced,#f1eded,#f1eded,#f0eded,#f2eded,#eeebed,#e5e6ec,#dbe1e7,#dce1e8,#e8e8ec,#efeced,#ebeaec,#e3e6ec,#dfe3e9,#dee2e9,#e1e4eb,#e6e7ec,#ebeaec,#f3edeb,#f1e9e6,#f3edec,#efeced,#eeebed,#efeced,#f2ebe9,#f0e6e2,#f3eeed,#eae9ec,#eae9ec,#f1eded,#f1e7e4,#efe4df,#f0e5e1,#f2ebe8,#eceaed,#e3e6ec,#e1e4ea,#e5e7ec,#eceaed,#f2ecea,#f0e5e0,#f0e6e3,#f1eded,#e7e8ec,#e7e8ec,#eceaed,#f0eded,#f2eded,#f2eded,#f3eeed,#f3eeed,#edebed,#dce2e8,#c6d6dd,#c9d7de,#dae0e7,#dfe3e9,#d7dfe5,#d3dde3,#dce1e8,#e2e5eb,#e9e8ec,#f3edec,#f0e5e1,#efe2dc,#efe4df,#f2eceb,#eceaed,#eceaed,#f2eded,#f0e4e0,#ecd9d0,#ebd4cb,#eedfd8,#f2ebe9,#f2eded,#f2eeed,#f2ecea,#efe3de,#ecd9d0,#e9cec3,#e7c6ba,#e7c3b7,#e7c4b7,#e8cabf,#eddcd4,#f1e7e4,#f3eeed,#efeced,#f1eded,#f0e4e0,#edddd6,#eee0da,#f1e8e5,#f3edec,#f3eeed,#f3eeed,#ecebed,#e0e4ea,#d9e0e6,#e4e6ec,#eae9ec,#e4e6ec,#d7dee5,#d3dde3,#d6dee4,#e0e4ea,#edebed,#f2eded,#edebed,#e7e8ec,#e9e9ec,#edebed,#e9e8ec,#dce2e8,#dce2e8,#e8e8ec,#edebed,#f0eded,#f1e8e5,#eee1db,#eee1dc,#f0e5e0,#f2eae8,#edebed,#e4e6ec,#d9e0e6,#d5dde4,#e1e4ea,#e9e9ec,#e1e4ea,#dae0e7,#e9e9ec,#f2eded,#efeced,#edebed,#edebed,#ebeaec,#e6e7ec,#e2e5eb,#e4e6ec,#ebeaec,#f1eded,#f2eeed,#edebed,#e2e5eb,#d7dfe5,#dbe1e7,#e7e7ec,#eae9ec,#e6e7ec,#e7e8ec,#ebeaec,#edebed,#eceaed,#eceaed,#f2eded,#f2ebe9,#f2ebe8,#f2eae8,#f2ebe9,#f1eded,#eceaed,#eae9ec,#eceaed,#f3eeed,#f2eae7,#f2ecea,#f2eded,#eae9ec,#dee3e9,#dde2e8,#e5e6ec,#edebed,#f1e7e4,#eddcd4,#ebd8cf,#edded7,#f0e6e2,#f2ebe9,#efeced,#e5e6ec,#dae0e7,#d6dee5,#dce1e8,#eceaed,#efe3de,#ebd7ce,#ebd7ce,#edddd6,#f0e5e1,#f1eded,#ebeaec,#eceaed,#f1eded,#f2eae8,#f2ebe8,#f0eced,#e7e8ec,#dde2e8,#d5dde4,#d1dbe2,#d4dde3,#dde2e8,#e8e8ec,#f0eced,#f1eded,#eeebed,#eae9ec,#e5e7ec,#ebeaec,#f1e9e7,#f0e5e1,#f1e9e7,#f3edec,#f2ebe8,#f0e4e0,#efe3de,#f0e6e3,#f2eae8,#f1eded,#efeced,#f3edec,#f0e7e3,#efe3de,#f1e8e4,#f0eced,#e6e7ec,#e4e6ec,#eeebed,#f0e6e2,#eee0da,#efe1dc,#eee0da,#edded7,#edded7,#eedfd8,#ecdbd3,#ecd9d0,#eedfd9,#f1e8e4,#f1eded,#e5e6ec,#d0dbe2,#c5d5dd,#c3d4dc,#cbd8df,#e5e6ec,#f1e9e7,#efe2dd,#efe3df,#efe3df,#f0e5e1,#f1e8e5,#f1e7e4,#f0e7e3,#f1e9e7,#f3eeed,#e9e9ec,#d9e0e6,#cfdae1,#d6dee5,#e6e7ec,#eeeced,#f2eded,#f1eae7,#efe2dd,#f0e4e0,#efeced,#e5e7ec,#e5e7ec,#eae9ec,#eeeced,#f1eded,#f2eceb,#f0e6e3,#f0e5e1,#f0e4e0,#efe2dc,#eee0da,#efe1dc,#f2ebea,#e6e7ec,#e2e5eb,#f3eeed,#ecdbd3,#e8c8bd,#e6c1b3,#e7c5b8,#ead0c6,#e9cec3,#e3b6a6,#e0ae9c,#e7c7bb,#eee0da,#f1eae7,#f2eeed,#edebed,#e7e7ec,#ebe9ec,#f1e8e5,#efe2dd,#f0e6e2,#f3edec,#e8e8ec,#dee2e9,#e2e5eb,#eceaed,#f2eae8,#efe2dd,#eedfd8,#eddcd5,#e9cec3,#e4b8a8,#e2b3a2,#e7c6b9,#ecdbd4,#eee1db,#edded8,#edded7,#eee0da,#eee1db,#efe2dd,#f1e8e5,#f3edeb,#f2ebe8,#f1e9e6,#f2eceb,#f2eded,#f0eced,#f0eced,#f3edec,#f1e7e4,#f0e5e1,#f1e8e5,#f2eae7,#f1eae7,#f1e8e6,#f0e5e1,#edddd7,#ead3c9,#e9cec4,#ead4ca,#ecdbd3,#eee0da,#eee0da,#ecd8d0,#ead3c9,#ecd9d1,#eee0da,#f0e4e0,#f1e9e6,#f2eeed,#f2eeed,#f2eae7,#f0e4e0,#edddd7,#ebd8cf,#ecd8d0,#eddcd5,#f0e5e0,#f3eeed,#eeebed,#f1eded,#eeebed,#e7e7ec,#e6e7ec,#efeced,#f1e8e6,#f1e7e4,#f2eceb,#f2eded,#f2eded,#f3eeed,#f2eae7,#f1e7e4,#f1e8e5,#f1e9e6,#f0e7e3,#f0e6e2,#f1e7e4,#f1e9e6,#f0e6e3,#eedfd9,#ecdad2,#ecdbd4,#edded8,#edddd6,#ebd6cd,#e9ccc2,#e9cec3,#eddcd4,#f1e7e4,#f2ebe9,#f1e9e6,#f2eae8,#f0eded,#e9e9ec,#e0e4ea,#e4e6ec,#f1eded,#f0e5e1,#efe2dc,#eee0da,#ecdbd3,#ebd7cf,#ecdbd3,#edded7,#eee0da,#eee0da,#eddcd5,#ebd7ce,#ecd9d0,#eee0db,#f1e8e4,#f1e9e6,#f1e7e4,#f0e6e2,#efe2dc,#eddcd4,#ecd9d1,#ecd9d1,#ecdbd4,#eee1db,#f0e6e3,#f1e9e7,#f3edec,#eae9ec,#e2e5eb,#e4e6ec,#e7e8ec,#eeebed,#f1e9e6,#efe2dd,#efe2dd,#f0e6e3,#f2ebe8,#f2eceb,#f1e8e6,#efe2dc,#eedfd9,#eee0da,#efe1dc,#efe2dd,#efe1dc,#efe2dc,#f0e6e2,#efeced,#dee3e9,#d3dde3,#dbe1e7,#e6e7ec,#ebeaec,#f3eeec,#efe3de,#ecdad2,#ead0c6,#e8c8bd,#e8cabf,#ead3c9,#ecd9d1,#ecdbd3,#eee0da,#f1e7e4,#f3edec,#eeebed,#e7e8ec,#e5e7ec,#e9e9ec,#f0eced,#f2ebe9,#f1eae7,#f2ecea,#f2eeed,#f2ebe8,#edded7,#ead3c9,#edddd6,#f2ecea,#eeeced,#f2eded,#f1e8e4,#eee1db,#edddd5,#eddcd5,#edddd6,#ecdbd4,#ebd8cf,#ebd8cf,#edddd5,#eee0db,#edded8,#ecdbd3,#efe2dc,#f1eded,#e8e8ec,#e6e7ec,#eeebed,#f0e5e1,#ead2c8,#e8cbc0,#edddd6,#f2ebe9,#f0eded,#f2eded,#f2ecea,#f1e8e5,#f1e8e5,#f2ecea,#f2ecea,#f1e9e7,#f2ebe9,#f0e6e2,#eeded8,#efe2dd,#f2eded,#e9e9ec,#efeced,#f2eae8,#f1e9e7,#f2edeb,#f2ebe8,#efe3de,#efe3df,#eeebed,#e1e4ea,#ebeaec,#efe1dc,#eddcd4,#f2eae7,#e5e7ec,#dae1e7,#e4e6ec,#eeebed,#f1eded,#efeced,#efeced,#f1e9e6,#eee0da,#efe3de,#f2eae7,#f2ecea,#f1eded,#e9e9ec,#e0e4ea,#d9e0e6,#dbe1e7,#e0e4ea,#e2e5eb,#dae1e7,#ccd9e0,#c8d7de,#cad8df,#cad7df,#d7dfe5,#efeced,#eee1db,#efe2dd,#f1eded,#e7e8ec,#eceaed,#f3edeb,#f2ebe9,#f3eeed,#f3edec,#f2eae8,#f1e9e6,#f2ebe9,#edebed,#e0e4ea,#d9e0e6,#e5e7ec,#f0eced,#f2eeed,#eeebed,#e7e8ec,#dee3e9,#dbe1e7,#e4e6ec,#efeced,#f3edec,#f3edeb,#f2eded,#efeced,#f1eded,#f1eae7,#f0e5e1,#f0e6e2,#f0e6e3,#eee1dc,#ebd4cb,#e8c9be,#ead3ca,#f0e5e0,#f2eeed,#eceaed,#e8e8ec,#ebeaec,#f0eced,#efeced,#eeebed,#f2eae8,#eddcd4,#e8cabf,#e6c3b6,#e7c7bb,#ebd7cf,#efe2dd,#eee1db,#eedfd9,#f1eae7,#e7e8ec,#d5dde4,#c6d6dd,#c7d6de,#dfe3e9,#f0eced,#f2ebe8,#f3eeec,#eceaed,#e8e8ec,#eae9ec,#e8e8ec,#e6e7ec,#eeebed,#f2ebe9,#f1e9e7,#f2eae8,#f0e6e2,#eddcd4,#ead0c6,#e9cec3,#ebd7cf,#efe3de,#f2ebe9,#edebed,#e5e7ec,#e4e6ec,#e5e6ec,#e8e8ec,#f3eeed,#f0e5e1,#efe2dc,#eee1dc,#eee1db,#eee0da,#edded8,#eddcd5,#efe1dc,#f1e8e5,#f1e8e5,#efe2dc,#ecd8d0,#e7c6ba,#e2b4a4,#dea692,#dda490,#e0ad9b,#e4b9a9,#e5beb0,#e4b9aa,#e3b5a5,#e3b5a5,#e3b5a6,#e1b1a0,#dfa997,#dfa795,#dfaa98,#e1b09e,#e6c0b2,#edddd6,#f2ecea,#f3edec,#f2eae8,#f0e6e2,#ebd6ce,#e4b9aa,#e0ac9a,#e0ac9a,#dea794,#dda28e,#dea592,#e0ac9a,#e0ac9a,#dea794,#dfa996,#e3b6a6,#e6bfb2,#e6c2b4,#e7c7bb,#ead1c8,#ecd8d0,#ead3c9,#e9cdc3,#ead1c8,#ead3ca,#ead3ca,#ebd5cc,#ead2c8,#ead1c7,#eddcd4,#f0e7e3,#f0eced,#e9e9ec,#eae9ec,#e8e8ec,#d5dee4,#bad0d8,#abc9d2,#adcad3,#aecad3,#a4c6d0,#96becc,#8dbaca,#99c0cd,#adcad3,#acc9d3,#a3c5cf,#aac8d2,#bfd3db,#d1dbe2,#d7dfe5,#d5dee4,#d7dfe5,#e3e5ec,#eae9ec,#e8e8ec,#dde2e8,#d9e0e6,#e8e8ec,#f3edec,#f0e5e1,#efe2dd,#efe4df,#f1e7e4,#f2eae8,#f2ebe8,#eeebed,#e4e6ec,#e1e4eb,#e0e4ea,#d9e0e6,#d8dfe6,#dce1e8,#dbe1e7,#dce1e8,#e3e6ec,#ebeaec,#f1eded,#f3edec,#f2eae7,#f1e8e5)"></div>
</div>
<div class="p" style="top:974px">
<div class="bl">
<div style="top:-5px;height:55px;background:linear-gradient(90deg,#e5bfb1,#e4bbac,#e1b09f,#e4b9aa,#ebd5cc,#efe1dc,#f0e4e0,#f0e6e3,#f0e6e3,#f0e6e2,#eedfd8,#e7c4b8,#e1ae9d,#e2b2a1,#e4bbac,#e9cdc2,#ead2c8,#e9cec4,#ecdbd4,#f0e4e0,#f2eeed,#f1e7e4,#e8cabf,#e8cbc0,#eee0da,#eceaed,#cad8df,#a5c6d0,#abc9d2,#d8dfe6,#f1e8e5,#eddcd5,#edded7,#edddd5,#eddcd4,#eddcd4,#ecdbd3,#eedfd9,#efe4df,#eee0da,#e9cfc4,#e8cbc0,#ebd6ce,#ecdbd3,#ecd8d0,#edded7,#f2ebe9,#eeebed,#f1e9e6,#eee0da,#edddd7,#f1e9e6,#f2eceb,#f1e7e4,#f2ebea,#edebed,#e8e8ec,#e7e7ec,#efeced,#f0e6e2,#eeded8,#f0e4e0,#f1eae7,#f2eeed,#efeced,#eeebed,#f2eeed,#f0e5e1,#efe2dd,#f0e4e0,#eeeced,#dde2e8,#eae9ec,#f0e5e1,#eee0da,#eee0da,#ead3ca,#e5bdaf,#e8c8bd,#f0e4e0,#eae9ec,#dde2e9,#c8d7de,#b4cdd6,#a0c4cf,#8ab8c9,#9bc1cd,#bcd1d9,#dce1e8,#f3edec,#f1e7e4,#f1eded,#e2e5eb,#eae9ec,#f0e6e2,#f0e6e3,#f0eced,#e8e8ec,#ebeaec,#f1eded,#f2ebe9,#f3edec,#eceaed,#efeced,#f3edeb,#f0e5e1,#eee0da,#eee0da,#eee0db,#f0e6e2,#edebed,#e4e6ec,#ebeaec,#efe3de,#e9ccc2,#e7c4b8,#e7c7bb,#e8c8bc,#ead2c8,#edddd7,#efe3de,#eee1db,#eee1db,#f0e6e2,#f1e9e7,#efeced,#e4e6ec,#dde2e9,#d3dce3,#bed2da,#bdd1da,#c9d7df,#bbd0d9,#90bbcb,#a6c6d0,#d3dce3,#e9e9ec,#f3edec,#f0e5e1,#eddcd5,#ebd7ce,#ead3c9,#ebd7ce,#eee1db,#eee1db,#ebd5cc,#ecd8d0,#edddd6,#ecdbd3,#eeded8,#f0e6e2,#eedfd9,#edded8,#f0e5e0,#f0e4e0,#f0e5e1,#eee0da,#f0e6e2,#e9e9ec,#e9e9ec,#f3eeed,#f1e9e7,#f3edeb,#e6e7ec,#cedae1,#bfd3db,#cfdae1,#e4e6ec,#edebed,#e9e9ec,#d9e0e6,#cdd9e0,#c7d6de,#d5dee4,#e1e4ea,#dde2e9,#d6dee4,#c5d5dd,#cfdae1,#e6e7ec,#eeebed,#f1e9e6,#f1e7e3,#f3edec,#f2eae8,#edded8,#efe3de,#f1eded,#f2eceb,#f1e8e5,#f2eeed,#f1eded,#f1eded,#f2eeed,#ebeaec,#e1e4eb,#dfe3ea,#cedae1,#b8cfd7,#bcd1d9,#cdd9e0,#cbd8df,#a9c8d2,#84b5c8,#83b5c7,#94bdcc,#b3cdd6,#c8d7de,#cdd9e0,#c2d4dc,#c2d4db,#cfdae1,#d4dde3,#cedae1,#c3d4dc,#bed2da,#c3d4dc,#d0dae1,#d2dce3,#d4dde4,#e3e5eb,#eae9ec,#f3eeed,#f1e7e4,#f1e9e6,#e9e9ec,#e1e4ea,#f2eceb,#ebd4cb,#e8cabf,#e7c6ba,#ebd7cf,#f1e9e6,#f0eded,#ebeaec,#dce1e8,#d3dce3,#d7dfe5,#d9e0e6,#d7dee5,#dbe1e7,#eceaed,#f2ecea,#f1eded,#edebed,#f1eded,#efeced,#e9e9ec,#e6e7ec,#edebed,#f2eae8,#eee0db,#eeded8,#f0e5e1,#eee1db,#efe1dc,#ebeaec,#dce1e8,#d3dde3,#d4dde4,#e6e7ec,#f0eced,#f2eae8,#f0e5e1,#f0e5e1,#f0e6e2,#eddcd4,#e7c4b7,#e6c2b5,#ecdbd4,#f0e5e1,#efe2dc,#edddd5,#ebd7ce,#e7c5b9,#e6c1b3,#eee1db,#ebeaec,#eae9ec,#eceaed,#efeced,#e8e8ec,#e8e8ec,#f2ebe9,#efe3de,#f1e7e4,#f0e4e0,#eee0da,#efe2dd,#f1e7e4,#f1eded,#dbe1e7,#c6d6dd,#d2dce2,#eae9ec,#eedfd8,#e7c7bb,#ead0c6,#ead2c8,#e8c8bc,#ebd6cd,#efe3df,#f1e8e5,#f3eeed,#efeced,#f2ecea,#f1e9e6,#f2ecea,#f1e7e4,#ebd7cf,#e8c9be,#e5beb0,#e4b8a9,#e6bfb2,#ebd6cd,#efe3df,#f1e8e5,#ebeaec,#e5e6ec,#f3eeed,#efe2dc,#ebd7cf,#ead1c7,#e8cbbf,#e8c8bc,#ead3ca,#f0e6e2,#f3eeed,#f2ecea,#efe3df,#ebd7cf,#e6c0b2,#e6c2b5,#edddd7,#f1e8e5,#efe3de,#eee0db,#f0e5e0,#f1e9e7,#ebeaec,#dce1e8,#c6d6dd,#afcbd4,#96becc,#96becc,#a8c8d1,#9bc1cd,#9bc1ce,#bed2da,#dfe3ea,#e8e8ec,#e1e4ea,#dfe3e9,#e6e7ec,#e6e7ec,#eae9ec,#f0eced,#f2eded,#eceaed,#e9e9ec,#f0e7e3,#ead0c6,#e8cbc0,#ebd6cd,#eedfd9,#eedfd9,#eddcd5,#ecdad2,#eddcd4,#ecdbd3,#ebd4cb,#ebd8cf,#e8cbbf,#e4b9aa,#e0ad9b,#e0ab98,#ead0c6,#f1e8e6,#f1eded,#efe3df,#e8c9bd,#e3b6a7,#e6c1b3,#e9cfc5,#e8c9bd,#e8cabe,#ecd9d1,#edddd6,#ebd6cd,#e8c9bd,#e4bbac,#e3b5a5,#ebd7ce,#f3edec,#f1e8e5,#efe2dc,#f2eae7,#f2eded,#f2eeed,#f1e7e4,#eee1db,#efe2dc,#efe2dd,#f2eae8,#f0eced,#f2ebe9,#ecdbd3,#e4bbac,#dfa895,#dfa896,#e3b7a7,#e3b4a4,#dfaa98,#e7c6ba,#edded7,#edded7,#edded7,#f0e6e2,#f2ebe8,#f1e8e5,#f2eded,#e5e7ec,#eeebed,#e9cdc2,#e0ad9b,#e2b1a0,#e5beb1,#e4baac,#e1b1a0,#e0ab99,#dea693,#e0ac9b,#e8c8bd,#eee0da,#eedfd9,#e9cdc2,#e5bcae,#e3b5a5,#dfa895,#da9983,#d0775d,#cd6b51,#cc694f,#cc674d,#cf7359,#d38269,#d78e75,#d78e76,#d78f77,#dca08b,#e4b8a9,#e6c2b4,#e6c2b5,#eee0da,#ead1c7,#e8cabf,#ebd5cc,#e9ccc1,#e6c1b4,#ead2c9,#efe2dd,#efe3de,#ecd9d1,#ecdad2,#f0e5e1,#f2eceb,#f2ebe9,#f0e5e1,#f1e8e5,#f3edec,#f3eeed,#efeced,#f0eded,#f3edeb,#f3edec,#f2ebe9,#f3eeed,#f3eeed,#f2ebea,#f3eeed,#f0e5e1,#f0e5e1,#f2eae8,#edded7,#ebd6cd,#ebd7cf,#ebd8cf,#ecdad2,#eeded8,#f0e6e2,#f2eceb,#f2ebe9,#f0e4e0,#eedfd8,#f0e6e3,#eeeced,#eae9ec,#f2eeed,#f0e6e2,#efe3df,#efe4df,#f2eceb,#f1e7e4,#efe4df,#f2eae8,#f2eae7,#f0e6e2,#f2ecea,#f0eced,#eeebed,#f1e9e6,#eee0da,#eee0db,#edddd7,#ecdad2,#ebd8cf,#eee0db,#f3eeed,#eeebed,#f2edeb,#f1e8e6,#f1e9e6,#e7e8ec,#d9e0e6,#eae9ec,#efe1dc,#eee0da,#f2ecea,#f2ecea,#f1e9e6,#f2ebe9,#e9e9ec,#e6e7ec,#f3eeed,#f1e8e4,#f2eae8,#f1eded,#edebed,#f2eae8,#eddcd5,#ebd5cc,#eddcd4,#efe3de,#eeebed,#ebeaec,#f3edec,#f2eae8,#f2eae8,#f3edec,#e1e4ea,#b8cfd8,#88b7c9,#68a6c3,#68a7c3,#80b3c7,#7bb1c5,#7bb1c5,#b0cbd4,#e4e6ec,#f1eded,#ebeaec,#e0e4ea,#e8e8ec,#f0eded,#e1e5eb,#d4dde3,#dfe3e9,#e5e7ec,#eeebed,#f2eae8,#f0eced,#e4e6ec,#dde2e8,#dde2e8,#dce2e8,#f2eded,#edded7,#eee1db,#f0e5e0,#f2eae8,#eeeced,#f2ebe8,#f0e5e1,#f2ebe8,#f2eded,#edebed,#eeeced,#f2eceb,#f3edec,#efeced,#e3e6ec,#ccd9e0,#c7d6de,#d8dfe6,#dae0e7,#ccd9e0,#c4d5dd,#cfdae1,#d8dfe6,#d5dde4,#dde2e8,#dce1e8,#dfe3e9,#eeeced,#f1e8e5,#eee0db,#edddd6,#eedfd8,#f3edec,#ebeaec,#e6e7ec,#edebed,#f1eded,#eae9ec,#f0eded,#f0e6e2,#f0e4e0,#f1e9e6,#f0eced,#eeebed,#e8e8ec,#eceaed,#f1e8e5,#f0e4e0,#f0e4e0,#efe3de,#eee0da,#e9cdc2,#ecdbd3,#cad8df,#65a5c3,#368ac0,#2c83c1,#3e8ec1,#85b6c8,#cad8df,#e3e6ec,#edebed,#efeced,#e4e6ec,#dfe3ea,#dde2e8,#e2e5eb,#f1eded,#efe3de,#f2ecea,#ebeaec,#ebeaec,#e0e4ea,#d7dfe5,#eae9ec,#f1e7e4,#f2eae8,#efeced,#eae9ec,#edebed,#eceaed,#dbe1e7,#e9e9ec,#edddd6,#ebd5cc,#eddcd4,#eddcd5,#efe3df,#f0e6e2,#f3edec,#eceaed,#efeced,#eeebed,#f3eeed,#f2eeed,#edebed,#eeebed,#f0eced,#f0eced,#efe2dd,#edddd6,#eee1db,#edded8,#f0e5e0,#f1eded,#e2e5eb,#d6dee5,#e4e6ec,#f3eeed,#efe4df,#efe2dd,#f1e7e4,#efe2dd,#ead2c8,#ecd9d1,#f0e4e0,#f1e7e4,#f2eded,#efeced,#f3edec,#f2eae7,#efe2dd,#eddcd5,#efe4df,#f2eded,#eceaed,#eae9ec,#f1eded,#f1eae7,#eee0d9,#ecdad2,#ecd8d0,#e9cec4,#e8c8bc,#ebd4cb,#f2ebe9,#e0e4ea,#dfe3ea,#e6e7ec,#dfe3e9,#dee3e9,#e7e7ec,#eae9ec,#f1eded,#f3eeed,#eceaed,#e5e7ec,#e2e5eb,#e0e4ea,#e2e5eb,#e4e6ec,#eceaed,#f2eae8,#f1e8e5,#efe2dd,#edddd6,#ead3c9,#ead0c6,#ecdbd3,#f1e9e6,#f2ebe8,#edded8,#edded8,#f1e7e4,#f3eeed,#f3eeed,#f2eded,#efeced,#f2eded,#f1e7e4,#efe3de,#efe3de,#f2ebe9,#e8e8ec,#e0e4ea,#e0e4ea,#e3e5eb,#e9e9ec,#eceaed,#e9e8ec,#e3e6ec,#d9e0e6,#dce1e8,#e7e8ec,#e6e7ec,#e2e5eb,#dde2e8,#d9e0e6,#e7e8ec,#f2eeed,#f0e4e0,#f3edec,#f1eded,#eedfd8,#e8c8bc,#ead2c8,#f3eeec,#eeebed,#efeced,#f1eded,#f1e8e5,#f0e5e2,#f1e9e7,#eae9ec,#d6dee5,#cedae1,#d9e0e6,#e7e7ec,#e9e8ec,#e0e4ea,#e6e7ec,#ebeaec,#e9e9ec,#f0eced,#f0e5e1,#efe1dc,#efe2dd,#f0e6e2,#f0e6e3,#f1e9e6,#f2ebe9,#f0e7e3,#f1e8e4,#eeebed,#eae9ec,#f2edeb,#f1e9e6,#eeebed,#e6e7ec,#ebeaec,#f2eded,#efeced,#ebeaec,#f1e8e4,#ead1c7,#eedfd9,#eae9ec,#e9e8ec,#f1eded,#eeebed,#e5e7ec,#e6e7ec,#edebed,#efe3de,#e8cabf,#e5beb0,#e8c9be,#ead0c6,#ecdad3,#f2eae8,#eceaed,#e6e7ec,#dde2e8,#dae0e7,#cbd8df,#bad0d8,#d1dbe2,#e5e7ec,#e8e8ec,#e6e7ec,#e9e9ec,#f1e8e4,#ebd6cd,#eddcd4,#f3edec,#e8e8ec,#dae1e7,#dfe3ea,#edebed,#f0e7e3,#efe3de,#f2eae8,#ebeaec,#d7dee5,#d2dce3,#e6e7ec,#f2eded,#edddd6,#e9cec3,#ead4ca,#ead3c9,#e9cdc3,#eddcd5,#f2ecea,#f3edec,#efe1dc,#eedfd9,#ecd9d0,#e8c8bc,#e9cfc4,#eee1db,#f2ecea,#f2ebea,#efe3df,#eddcd4,#ebd4cb,#ead1c7,#ead2c8,#edddd6,#edddd6,#ead1c7,#e9cdc2,#ebd7ce,#eddcd4,#eee0db,#f1eded,#edebed,#f1eded,#f2ecea,#eeebed,#e6e7ec,#ebeaec,#eceaed,#f0eced,#f0e5e1,#ecdad3,#e9cfc5,#e7c7ba,#e6c1b4,#e9cec4,#eee1db,#efe4df,#ecdbd3,#ebd7ce,#f0e5e0,#f0e5e0,#ebd5cb,#e3b5a5,#db9b85,#d4836a,#d0765c,#ce7056,#cc674d,#ce7057,#d4866d,#dea794,#e8c9bd,#ead4ca,#e6c1b4,#e4baab,#e8cbc0,#ebd5cc,#ebd5cc,#edddd6,#f0e6e3,#efe3de,#ecdbd4,#ead2c8,#ead3ca,#edebed,#cfdae1,#c4d5dc,#d1dbe2,#d7dfe5,#c9d7de,#aecad3,#97bfcc,#7cb1c5,#6da9c3,#aecad4,#d8dfe6,#cedae1,#d7dfe5,#d0dbe2,#cfdae1,#e6e7ec,#f1e9e6,#efe2dd,#edded7,#ecd9d1,#edded7,#ecd9d0,#e8c9bd,#e8c9bd,#eee1db,#f1e9e7,#f2eae8,#f1e9e6,#f3edec,#edebed,#f3edec,#f2ebe9,#f2ecea,#efe4df,#f1e9e6,#ebeaec,#e2e5eb,#d7dfe5,#b7ced7,#a3c5cf,#afcbd4,#d1dbe2,#e5e7ec,#dde2e9,#d1dbe2,#d5dee4,#e1e4ea,#e7e8ec,#ebeaec)"></div>
<div style="top:50px;height:24px;background:linear-gradient(90deg,#e1b09f,#dc9f8a,#e8cabf,#eee0da,#efe3df,#ecdad2,#dea794,#e5bdaf,#e8c8bc,#e8cabf,#efe3df,#e3b4a4,#ebd5cc,#eae9ec,#efeced,#e8c9bd,#e9cdc2,#e9ccc1,#ead2c8,#eee1db,#e6c2b4,#e7c4b7,#e6c2b5,#f1e8e5,#efe2dd,#e8cbc0,#ecdad1,#ecd8d0,#f1e8e5,#efe1dc,#e9ccc1,#f0e5e1,#f3eeec,#efe3de,#ead2c8,#f1e7e4,#efe2dd,#e8cabf,#e7c3b7,#e5bcad,#f1e9e6,#e8e8ec,#d3dde3,#c0d3db,#e3e5eb,#f1e8e5,#dee3e9,#f1e8e5,#efeced,#f0eded,#f0e6e3,#f2eeed,#efe2dd,#ebd5cb,#ead2c9,#f2ebe9,#f2eae8,#e7c5b9,#e7c4b8,#e8c7bc,#ead2c8,#e9cdc3,#eedfd9,#efeced,#eceaed,#f1eded,#eceaed,#dee3e9,#efe2dd,#e9cdc3,#e8c9be,#ead2c8,#ecdad2,#e8ccc0,#e8cabf,#eedfd8,#edddd6,#f0e7e3,#eedfd9,#ecebed,#f3eeed,#eae9ec,#c0d3db,#d9e0e7,#f3edec,#e1e5eb,#d8dfe6,#ebeaec,#e2e5eb,#e7e8ec,#f1e7e4,#eedfd9,#edddd6,#f0e4e0,#f2ebe8,#f1eded,#f1e8e5,#f3edec,#eeeced,#dce1e8,#eae9ec,#c9d7df,#c3d4dc,#dce1e8,#d7dfe5,#e7e7ec,#f2edeb,#d9e0e6,#d2dce3,#e0e4ea,#f2eeed,#ecdad3,#f1e8e4,#eeebed,#e7c4b8,#e8cabe,#f2edeb,#eceaed,#e5e7ec,#e6e7ec,#eceaed,#efe2dd,#f0e6e2,#f2ecea,#f2eded,#eee0da,#eee1db,#edddd7,#eae9ec,#dee3e9,#edebed,#f2ecea,#f0e5e1,#e6c2b5,#e8c9bd,#efe1dc,#ebd7cf,#e3b5a5,#f1e9e6,#f2ebe9,#f0e6e2,#efe1dc,#ecdbd3,#ecdbd3,#edddd6,#f0eced,#e0e4ea,#edddd6,#e5bfb1,#e7c4b7,#ebd6ce,#edddd6,#eeded8,#efe3de,#ebd8cf,#e6c2b5,#e4baac,#e9cdc2,#f0e5e1,#f1eded,#ead1c7,#e2b3a3,#e5bbad,#f3eeed,#f1e8e5,#e6c2b5,#ebd5cc,#eddbd4,#ebd8cf,#f1e8e4,#ebeaec,#cad8df,#dce1e8,#d7dfe5,#f2ecea,#f2ecea,#ebeaec,#edebed,#f0e5e0,#eeeced,#ead1c7,#e7c3b7,#e9ccc1,#e9ccc1,#ebd4cb,#ead0c6,#e1b0a0,#da9a84,#eee0da,#edddd5,#dea794,#e7c6ba,#e5bcae,#e7c4b7,#e2b1a0,#db9b86,#ecdbd3,#e9cdc2,#efe2dd,#efe2dc,#ecd8d0,#edddd6,#f1e7e4,#e5bdaf,#dc9f8a,#e0ac9a,#e3b5a5,#ebd7cf,#edddd7,#eee0da,#e7e7ec,#ead1c7,#e3b5a5,#e2b3a3,#d68c73,#d4866d,#e7c7bb,#e5bdaf,#dfaa98,#d8927a,#cd6a50,#cc6a50,#d4866d,#d9967f,#db9d87,#e4b9aa,#edded7,#e9cdc2,#ead2c8,#e9cdc2,#efe3de,#e9cfc5,#f0e4e0,#efe3de,#f3edec,#f3edec,#efe2dd,#eddcd5,#eee0da,#f1e7e3,#edddd6,#ebd6cd,#e8c9be,#e6c3b6,#eedfd8,#f0e7e3,#e9cdc2,#f1e9e6,#f0e6e2,#ecd9d1,#f1e8e4,#eee0da,#f1e8e5,#f2ebe9,#eae9ec,#ecdbd4,#ead2c9,#e8cabf,#f2ebea,#f3edeb,#f0e5e1,#e9e9ec,#e8c8bd,#efe1dc,#ecd9d1,#f2ebe9,#edded7,#efe3de,#eeebed,#ebd4cb,#ebd5cc,#eeebed,#f0e6e3,#edded7,#f3eeed,#cdd9e0,#d7dfe5,#dee2e9,#f0eded,#ecd9d1,#eae9ec,#f1e9e7,#d9e0e6,#f0eced,#eee0d9,#efeced,#eceaed,#f2eae7,#ecdbd4,#ecdad3,#eddcd5,#f0e5e1,#f1e9e7,#efe4df,#eeebed,#ccd9e0,#eae9ec,#e5e6ec,#e9e9ec,#e7e8ec,#e7e8ec,#f0e6e2,#ebd7ce,#eedfd8,#eceaed,#f0eced,#eeebed,#edded8,#efe2dd,#f2eded,#f3eeed,#eedfd8,#edded7,#e4bbac,#e5e7ec,#b8cfd8,#c6d6dd,#f0eced,#f2eae8,#eae9ec,#e7e7ec,#efe4df,#f3edeb,#e8e8ec,#dde2e9,#efe3df,#efeced,#eeebed,#dde2e8,#ead2c9,#ecdad2,#f1e8e5,#f3eeed,#f2ebe9,#f3eeed,#eeebed,#f0e6e2,#ead4ca,#edddd6,#f0e4e0,#eeebed,#f0e6e2,#edddd7,#f0e7e3,#ead1c7,#efe2dc,#f1e9e6,#f1e9e6,#eddcd5,#efe1dc,#f1eded,#f1e9e6,#ebd6ce,#e8cabf,#e6c2b5,#f3edeb,#efeced,#eae9ec,#ebeaec,#f2ebe8,#f3eeed,#eeebed,#ebeaec,#f0e6e2,#f0e5e1,#edded7,#ead1c7,#f1e7e4,#ecdad2,#f0e6e2,#f0e7e3,#f2ecea,#eeded8,#ecd8d0,#f3edec,#efeced,#f1e8e5,#f1e8e5,#f1e9e7,#eee1db,#f1e9e6,#f2ebe9,#edddd6,#f3edeb,#e9ccc1,#eee1db,#f2ebe9,#f0e5e0,#efe4df,#e8e8ec,#e7e8ec,#f0e5e1,#f1e9e6,#f0e6e2,#eddcd4,#ebd5cc,#eedfd8,#f1e9e6,#efe3de,#eeeced,#f0e5e1,#efeced,#f1e9e6,#eeebed,#e9cec3,#f1e7e4,#f1e9e6,#f2eeed,#eeeced,#e8c8bc,#e2b1a0,#e6c2b5,#f1e7e4,#eceaed,#e6e7ec,#e3e6ec,#f3edec,#eceaed,#e9cec3,#eee1db,#eae9ec,#efeced,#edddd6,#f2ebe9,#dfe3e9,#efe3de,#e3b7a8,#e7c6b9,#e7c5b8,#edddd6,#e9cec4,#e2b2a1,#e6c1b4,#eedfd9,#ead2c8,#e8c8bc,#ead1c8,#e6c1b4,#e6c2b5,#e9cdc3,#f1e9e7,#efe3de,#efeced,#f2ecea,#eee0da,#e9cfc4,#e3b6a7,#e9cec4,#e8c8bc,#ebd4cb,#e8cbbf,#e0ac9a,#e1af9e,#dda38f,#dda38f,#e8c7bc,#e3b7a8,#e4b9aa,#e7c6ba,#eedfd9,#ebd5cc,#ead1c8,#c2d4dc,#c3d4dc,#b1ccd5,#7cb1c5,#569cc2,#dae0e7,#e5e7ec,#d7dee5,#efe2dd,#ebd4cb,#eddcd5,#e6c1b4,#ebd7cf,#f0e5e1,#f3edeb,#f2eae8,#eeded8,#ebd6cd,#f1e9e6,#eceaed,#e4e6ec,#f3eeed,#dbe1e7,#ebeaec,#f3edeb)"></div>
<div style="top:74px;height:153px;background:linear-gradient(90deg,#e0ad9b,#dfa997,#db9c86,#dea491,#e7c7bb,#ecdad2,#edded7,#eee1db,#efe2dd,#efe2dd,#ecdad2,#e4bbac,#e0ab99,#e5bcad,#e7c7bb,#ead2c8,#e7c7bb,#e3b6a7,#e6c0b3,#e8cabe,#ecdbd4,#ead1c8,#dfaa98,#e2b2a1,#e9ccc1,#edded7,#efe3de,#edded7,#e7c7bb,#e2b3a2,#e0ad9b,#e3b6a7,#e6c3b6,#e6c1b4,#e6c3b6,#e8c9bd,#e9cec3,#ecdbd3,#eee1db,#ecdad2,#e5beb1,#e3b6a6,#e4bbac,#e3b7a7,#e2b3a3,#e7c7bb,#f0e5e0,#f1eded,#eee0da,#e9ccc1,#e5bdaf,#e7c7bb,#e7c7ba,#e4bbac,#e6c1b3,#e9cfc5,#ecd9d1,#edded7,#ebd5cc,#e6c3b6,#e5bdaf,#ead1c8,#eee0db,#f1e9e7,#f2eae8,#f0e6e2,#edddd6,#e8cbc0,#e7c4b7,#e6c2b5,#ecdad2,#f1e9e7,#ebd6cd,#e2b4a3,#e4b8a8,#e9ccc1,#e7c4b7,#dfa996,#e1af9e,#e8cabe,#ecdbd3,#eedfd8,#f0e4e0,#f0e5e1,#f1e8e5,#e9e9ec,#e1e4eb,#dde2e9,#e2e5eb,#f3eeed,#f0e6e2,#f3eeed,#dbe1e7,#e3e6ec,#f2ebe9,#f1eae7,#f0eded,#ecebed,#f3eeed,#f0e7e3,#efe2dd,#efe4df,#f2ebe9,#efe3de,#edded7,#ebd4cb,#e9cdc2,#e8cbc0,#e7c6b9,#e8c9be,#eedfd8,#f3edeb,#f1e9e6,#ecd9d0,#e7c7bb,#e8c9bd,#e8cbc0,#e6c1b4,#e6c1b3,#e7c7bb,#e7c7bb,#e4bbac,#e4baab,#e8c9bd,#ead0c6,#edded7,#f1e8e5,#f0e5e1,#eee1db,#efe2dd,#ebd5cc,#e4b8a8,#e6c1b4,#f2eae8,#f2eceb,#eedfd8,#ebd4cb,#e7c4b7,#e5bcae,#e5bdaf,#e7c5b8,#e7c6b9,#e8c9be,#ecdbd4,#edded7,#e8cabf,#e7c5b9,#e7c3b7,#e5bcad,#e8c9be,#edded7,#ebd6cd,#ecd8d0,#f0e6e2,#f1e9e6,#f2eae8,#eedfd9,#eedfd8,#f1eded,#efeced,#f3eeec,#f0eded,#eae9ec,#d9e0e6,#c4d5dc,#bbd1d9,#d7dee5,#efeced,#f0e5e0,#f1e7e4,#eeebed,#e6e7ec,#e1e4eb,#eceaed,#f2eceb,#f3eeed,#f2eded,#e8e8ec,#edebed,#f1e8e5,#f0e5e1,#ecdad2,#ebd4cb,#edded7,#eddcd4,#e8c9be,#ecdad2,#f2eded,#f2eceb,#f1e9e6,#efeced,#f2eded,#f0e6e3,#edddd6,#eee0da,#f0e7e3,#eee1db,#f0e5e1,#f1eded,#f3edec,#efe4df,#efe3de,#f1eded,#e7e8ec,#eceaed,#efeced,#f3eeed,#f0eced,#e9e8ec,#e4e6ec,#f0eced,#ecdbd3,#e9ccc1,#ecd8d0,#f3edec,#e1e4ea,#d9e0e6,#e5e7ec,#eae9ec,#eceaed,#f1e9e6,#edded8,#e9ccc1,#e7c5b8,#ead3ca,#f2eded,#e6e7ec,#efe4df,#e7c3b7,#e6bfb2,#e6c1b3,#ecd8d0,#f2ebe9,#f3eeed,#f2ebe9,#eeebed,#eeebed,#f3edec,#f3eeed,#eceaed,#ebeaec,#f0e5e1,#ebd6cd,#ecdad2,#edddd6,#eddcd4,#efe1dc,#f1e8e5,#f2ecea,#f0e5e0,#eee0da,#eddcd4,#edddd6,#f0e5e1,#eedfd8,#ecdad2,#f3edeb,#edebed,#e9e9ec,#e7e8ec,#efeced,#f0eded,#eeebed,#f3eeed,#f1e9e6,#efe4df,#e9cec3,#e2b1a0,#e3b6a6,#ebd7cf,#efe3de,#eee0da,#edddd6,#ebd6cd,#e4b9aa,#e0ac9a,#ebd8cf,#f1eded,#f1e9e6,#edddd6,#ead2c8,#eddcd5,#edded7,#e8cabf,#e7c5b9,#ecdad2,#ecdbd4,#ead3c9,#ebd4cb,#ecd9d1,#eedfd8,#f3eeed,#e9e9ec,#f0eced,#efe3de,#e6c3b6,#e0ac9a,#e6c2b5,#e8cbc0,#e6c0b2,#e8cbc0,#ebd5cb,#e9cdc3,#e9cdc2,#ead2c9,#e9cdc3,#ebd5cb,#efe2dd,#eee0db,#e9cdc2,#e8c8bc,#e8cabe,#e7c6b9,#e5beb0,#e5beb0,#e6c1b4,#e7c5b9,#f0e4e0,#eceaed,#f1e9e6,#ecdbd3,#e7c4b7,#e1b0a0,#dca08b,#db9e89,#e5bbad,#f0e6e2,#ebeaec,#eeeced,#f0e6e2,#ebd6cd,#e5bcad,#e6c2b5,#eee0d9,#efe3de,#e8cbc0,#e6c3b6,#ead2c8,#ecdbd3,#eee1db,#eee0db,#f0e4e0,#f3edeb,#e9e8ec,#efeced,#eeded8,#efe2dd,#f1e8e5,#eeded8,#e9cec4,#e9cec3,#eee1dc,#f3edeb,#f1eded,#ebeaec,#f3edec,#eee0da,#ecdbd3,#f0e6e2,#f0eced,#efe3de,#e8c8bc,#e5bdaf,#e5bdae,#e6bfb2,#e5bfb1,#e6c2b5,#e7c6ba,#e9cfc4,#ebd4cb,#e9cdc2,#ead0c6,#e6bfb2,#dfaa98,#db9c86,#d9967f,#e7c4b8,#efe4df,#f0e6e2,#e9cec3,#dfaa97,#dc9f8a,#e4b8a9,#e9ccc1,#e5bfb1,#e3b6a7,#e5bbad,#e2b3a3,#dea693,#dda38f,#db9b85,#d78e75,#e1af9e,#ead2c9,#e7c5b8,#e4b9ab,#e9cdc2,#ecdbd4,#eee0da,#eddcd5,#ead3c9,#ead1c7,#e8cabf,#ebd5cc,#efe2dd,#f0e4e0,#eddcd4,#e5beb0,#dea693,#dda38f,#e2b3a3,#e0ad9c,#da9983,#e3b7a8,#ebd6cd,#ebd4cb,#ead1c7,#ecdad2,#eddcd5,#ecd9d1,#f1e7e3,#e6e7ec,#edebed,#e9cdc2,#e3b5a5,#e6c3b6,#e9cdc2,#e2b3a3,#d79179,#d27f66,#d0765c,#d1785f,#d9947d,#e5bcad,#e6c3b6,#e2b2a2,#dfa996,#e0ab99,#dda28e,#da9781,#d0775e,#d0785e,#d27f65,#d17b62,#d4866d,#db9b85,#e0ac9a,#dfa996,#dca18c,#dfa896,#e4b9aa,#e4bbac,#e4b8a9,#efe2dd,#ebd6cd,#ebd5cc,#efe4df,#ecdbd3,#e6c2b5,#e9cfc5,#efe2dd,#f0e4e0,#ebd4cb,#e8cbbf,#ebd6ce,#eedfd9,#efe4df,#efe2dc,#f1e8e5,#f3edec,#f2eae8,#f1eae7,#efe3de,#ecdad2,#ebd7ce,#e9ccc2,#ead1c7,#ead3ca,#ebd6ce,#efe2dd,#ecdad2,#ebd7ce,#eedfd8,#ead1c7,#e8c9be,#e7c4b7,#e4b8a8,#e3b6a6,#e7c4b7,#ecdbd3,#f0e7e3,#f0e4e0,#ebd5cb,#e6c1b3,#e8cbc0,#efe1dc,#f2eae8,#eee0da,#ead1c7,#ead0c6,#ebd6ce,#f0e5e1,#eee0da,#edddd7,#f1e8e4,#f1e7e4,#eee1db,#f2ebe8,#eceaed,#e7e8ec,#f2eae8,#ecdad2,#ebd5cc,#e9cdc2,#e8c8bc,#e7c3b7,#ead2c8,#f1e8e5,#efeced,#f3eeec,#f1e8e5,#efe2dd,#f3edeb,#f2eeed,#ecd9d1,#e3b5a5,#e5beb0,#ecdad2,#ebd7ce,#e8c9bd,#e8c9bd,#eedfd9,#efe2dd,#e9cec3,#e8cabf,#eddcd5,#f2ecea,#eeebed,#f1e7e3,#ead3c9,#e8c8bc,#ead0c6,#edddd6,#efeced,#edebed,#efe3de,#ecd9d0,#ead2c8,#e9cec3,#eddcd5,#f0e5e1,#f1e9e6,#f0e5e1,#ead3c9,#e4b8a9,#e9ccc1,#eee0db,#e9cec4,#e1b1a0,#e4b8a9,#eddcd5,#f0eded,#f1e9e7,#eedfd8,#eeebed,#dee3e9,#ebeaec,#f2ebe9,#eedfd8,#ead3ca,#edded7,#f1e7e4,#f0e6e2,#f1e7e4,#ecebed,#f2ebe9,#ecdbd4,#ecdad1,#e8cbc0,#e7c5b8,#ead2c9,#e9cec3,#ead3ca,#eee1db,#eee1db,#efe1dc,#eedfd9,#eddcd4,#efe3de,#f3eeed,#e4e6ec,#d1dbe2,#dee2e9,#f2ebe9,#f0e4e0,#f2ecea,#f2eded,#f1e8e6,#f0e5e1,#f3eeed,#f3eeec,#efeced,#f0eded,#eee0da,#ebd5cc,#ead0c6,#ead3ca,#ecd9d1,#f2eae8,#efeced,#eae9ec,#f1eded,#f2ebe9,#efeced,#f1eae7,#ecdbd3,#ebd5cb,#ecd9d0,#efe2dc,#f1e7e3,#efeced,#f1eded,#eedfd8,#eddcd4,#edddd6,#edddd6,#ecd9d1,#e2b2a1,#dfa996,#ecdad2,#f2ebe9,#ecdbd4,#e8cbc0,#ecd9d0,#ecd9d1,#ecdad1,#efe2dd,#efe2dd,#efe3df,#f1eded,#f0eded,#eeebed,#eeebed,#efe3de,#ead2c9,#f0e5e1,#eae9ec,#ecebed,#e3e6ec,#d7dfe5,#edebed,#eedfd9,#efe3de,#f3eeed,#edebed,#f1eded,#eeebed,#d6dee5,#e9e9ec,#ead3c9,#e8cabf,#ecd9d1,#eedfd8,#f2ecea,#f3eeed,#f3eeed,#f2eae8,#efe2dd,#f1e9e7,#f2ecea,#efeced,#ebeaec,#f2ebe9,#edded8,#ecdbd3,#e8c8bc,#e9cfc4,#edddd7,#ecdbd3,#eedfd9,#f0e5e0,#f1e7e4,#f0e6e2,#ecdbd3,#ead0c6,#ebd5cc,#eee1db,#f2ecea,#f0e5e1,#e9d0c5,#ecd9d0,#efe2dd,#edddd7,#efe1dc,#f0e6e2,#f0e5e1,#f1e8e5,#eee1db,#ead1c7,#ebd6ce,#efe3de,#f1eae7,#f2ebea,#f1e7e4,#efe3df,#ecd8d0,#e9cec3,#e9ccc1,#e7c3b7,#e5bcae,#e7c5b8,#edded7,#f1eded,#f2ecea,#efe3de,#f2ecea,#efeced,#f0eced,#efeced,#f2ebe9,#efe3de,#f0e4e0,#f0e5e1,#f0e6e2,#f2ebe8,#f3eeed,#f3edec,#efe2dd,#ecd9d0,#efe3de,#f1e9e6,#f1eae7,#eeded8,#ead1c7,#ead4ca,#f0e5e1,#f1e7e3,#ebd7cf,#ecd8d0,#eee0db,#efe3df,#eee0da,#efe2dc,#f1e8e5,#f1e9e6,#eee0da,#ebd4cb,#e7c7bb,#e8cbc0,#edddd5,#efe3de,#f0e5e1,#f0e6e2,#eedfd9,#ecd9d1,#ecd8d0,#ebd6cd,#ebd5cc,#e9ccc1,#e6c0b2,#e8c9bd,#ead0c6,#ebd4cb,#eddcd5,#ebd8cf,#ebd5cc,#e9d0c5,#f0e5e1,#f2eeed,#eddcd4,#e6c1b4,#e9ccc1,#f2ebe9,#f1e9e6,#efe3de,#efe3de,#edded7,#eedfd9,#efe3de,#f3edec,#ebeaec,#eceaed,#f1e8e5,#ebd8cf,#e9cec3,#ecdbd3,#ebd5cc,#ead0c6,#ecdbd3,#ebd7cf,#e7c7bb,#e7c7bb,#e9cdc2,#ebd7ce,#ecdbd4,#f0e4e0,#f2ebe9,#efe3de,#eedfd8,#f2ebe9,#efeced,#f0e7e3,#eee0da,#f1e8e5,#f3eeed,#f0e6e2,#eee1db,#f2ebe9,#eceaed,#efe2dd,#e4b8a9,#e8c8bc,#f2ebe9,#f2eae8,#eddcd4,#edddd6,#f2eae8,#f2eded,#f3eeed,#eddcd5,#e4b8a9,#dda38f,#e0ab99,#e1af9e,#e4b9aa,#ebd5cc,#efe2dd,#f1e8e5,#f2ebe9,#f0e6e3,#f3eeed,#e8e8ec,#f2eae8,#edddd7,#efe4df,#f0eded,#efeced,#edddd6,#e5beb0,#e7c7bb,#efe1dc,#f1e8e5,#f1eded,#f0eded,#f2ecea,#eedfd9,#ebd6ce,#eddcd5,#f0e6e3,#eae9ec,#e9e9ec,#f0e4e0,#e9cec3,#e1ae9d,#dea592,#e5beb0,#e6c2b5,#e2b4a4,#e4bbac,#e9cec4,#e9cdc2,#e5bfb1,#e7c4b7,#e4bbac,#dc9e89,#db9e89,#e2b2a2,#e8cbc0,#ebd6ce,#ead1c7,#e8cabe,#e7c6ba,#e7c6ba,#e7c6ba,#e9cfc5,#e8c9bd,#e2b4a4,#e1ae9d,#e4bbac,#e5beb0,#e6c2b4,#eddcd5,#efe2dd,#edded8,#ecdbd4,#f0e5e1,#f3eeec,#f0e5e1,#f0e4e0,#efe2dd,#ecd9d1,#ead4ca,#ead2c8,#e7c6ba,#e2b1a0,#e2b2a2,#e7c7bb,#e9ccc1,#e4b9aa,#e2b2a1,#e9ccc1,#ead1c7,#e6c3b6,#e4b8a8,#e7c3b7,#ebd7cf,#f1e8e5,#f1eded,#efe1dc,#ebd4cb,#e8cabe,#e7c6ba,#ead2c8,#ead1c7,#e2b1a1,#dda18d,#e3b5a5,#e6c0b3,#e5bfb1,#e8cabe,#edddd6,#ecd9d1,#ead2c9,#e9cfc4,#ebd6cd,#e2e5eb,#b7cfd7,#b0cbd4,#c2d4dc,#c0d3db,#a3c5d0,#80b3c7,#75aec4,#65a5c3,#549cc2,#aac8d2,#e6e7ec,#e5e6ec,#f0eced,#e9e9ec,#e1e5eb,#f0eded,#eddcd4,#ead1c8,#e9cec4,#e9d0c5,#edded7,#ecd9d1,#e6c0b3,#e4b8a8,#ead3c9,#eedfd8,#efe2dd,#f0e4e0,#f3edeb,#eceaed,#f1e8e4,#eddcd5,#ead1c7,#e4baac,#e6c3b6,#ebd6cd,#ebd5cc,#e8cabf,#ebd4cb,#edddd7,#eee0da,#edded7,#efe1dc,#f0eced,#e6e7ec,#ebeaec,#f2edeb,#f1e8e5,#f0e5e1)"></div>
</div>
<div style="top:140.5px;height:27px;background:linear-gradient(90deg,#e5bfb1,#e5bcae,#e4b8a9,#e5bfb1,#ead4ca,#efe4df,#f3edeb,#f0eced,#f0eced,#f2ecea,#eee1dc,#ead4ca,#e9cfc4,#ebd7ce,#edddd6,#eddcd5,#ebd5cb,#e9ccc1,#e9cfc5,#ecdad2,#efe2dd,#eedfd9,#ead2c8,#e9cec3,#ebd6cd,#eddcd4,#ecdbd3,#ebd5cb,#e8cbc0,#e6c2b4,#e5bdaf,#e6c2b5,#e8cabf,#e9ccc1,#e8cabf,#e9cec4,#ecd8d0,#eee0da,#eee1dc,#ecd8d0,#e7c7bb,#e6bfb2,#e6c1b4,#e6c0b3,#e6c1b4,#e9cec4,#eedfd9,#f0e5e1,#eedfd9,#ead2c9,#e7c7bb,#e7c6ba,#e7c6ba,#e7c4b7,#e7c7bb,#e9cdc2,#ead3ca,#ecdad2,#eddcd5,#eddcd4,#edddd5,#efe1dc,#f0e6e2,#f0e6e3,#efe3de,#eedfd9,#edded7,#eddcd5,#ecdad2,#ebd8cf,#edddd6,#efe3df,#eee0da,#ebd6ce,#ebd6cd,#edded8,#eee1db,#eeded8,#edded8,#eee0da,#eee0db,#efe3df,#f2ebe8,#f0eced,#edebed,#edebed,#f0eced,#f2eded,#f2eeed,#f3edeb,#f2ecea,#f3eeed,#eeebed,#f1eded,#f1e9e6,#f0e7e3,#f1e8e5,#f2eae7,#f1eae7,#f1e8e5,#f0e6e2,#f0e5e1,#f0e7e3,#f0e6e2,#efe3de,#edded7,#ecdbd3,#edddd5,#eee1db,#f0e5e1,#f1e9e6,#f1e8e5,#efe3df,#eedfd9,#eedfd9,#efe1dc,#eee0db,#eddbd4,#ebd7ce,#ebd7ce,#ebd7ce,#ebd4cb,#ebd4cb,#ebd8cf,#ecd9d1,#ecdbd4,#edddd6,#edddd6,#eedfd8,#eee1db,#edddd6,#ebd6ce,#edddd7,#f2ecea,#f0eced,#f2ebea,#f0e4e0,#edded8,#ecdad3,#ebd7cf,#ebd7cf,#ecdbd4,#efe2dc,#f1e8e5,#f1e7e4,#edded7,#ebd6cd,#ead1c8,#ead0c6,#ead2c9,#ebd4cb,#ead3c9,#ecdbd3,#f0e5e1,#f2ebea,#f2eae8,#f0e5e1,#f0e6e2,#f3edec,#f0eced,#f0eced,#eeeced,#e9e9ec,#e0e3ea,#d8dfe6,#dde2e8,#eae9ec,#f2eeed,#f2eeed,#eceaed,#e7e8ec,#e9e9ec,#f0eced,#f2eae8,#f1e9e6,#f2ecea,#f1eded,#edebed,#f2eded,#f0e5e0,#eddcd5,#ebd6cd,#ebd8cf,#eddcd5,#eddcd5,#ecdbd4,#efe1dc,#f1e7e4,#f0e5e0,#efe2dd,#f0e4e0,#f0e4e0,#efe2dd,#eee1db,#efe2dd,#efe4df,#efe2dc,#eee0da,#eee0da,#eee1db,#f0e5e0,#f2ecea,#edebed,#e9e9ec,#eae9ec,#edebed,#f1eded,#f2eceb,#f2eae7,#f2eae7,#f1e7e3,#eedfd8,#ebd6cd,#ebd8cf,#efe3de,#f1eded,#e9e9ec,#e7e8ec,#e7e7ec,#e8e8ec,#eeeced,#f1e9e6,#edded8,#ebd7ce,#ecdad2,#efe4df,#f2eae8,#f0e5e1,#edddd6,#ecdbd4,#edded7,#f0e4e0,#f2eae8,#f1e9e6,#f0e6e2,#f0e6e3,#f1e9e7,#f2ecea,#f3eeec,#f3edec,#f0e7e3,#eddcd5,#ebd5cc,#ecdad2,#edded7,#edded7,#eedfd9,#efe3df,#f0e5e1,#efe3de,#eee0da,#eedfd9,#efe2dd,#f0e6e2,#efe3de,#efe2dc,#f1e8e5,#f2eeed,#edebed,#ebeaec,#edebed,#eeebed,#f1eded,#f1e9e6,#eee0da,#ebd7ce,#e8cabf,#e6c0b3,#e7c4b8,#ebd7ce,#efe3df,#f1e8e5,#f0e7e3,#eee1db,#ebd5cc,#e9cec3,#ecdad3,#f0e4e0,#efe3df,#edddd6,#ecdbd4,#eee1db,#f0e5e1,#efe2dd,#efe2dd,#f0e7e3,#f0e4e0,#edddd7,#edddd6,#efe2dd,#f0e7e3,#f1e8e5,#f1e7e4,#efe3de,#eddcd5,#e9cec4,#e7c7bb,#ead1c7,#ecdbd4,#edddd6,#edded7,#eddcd4,#ebd5cc,#ead2c8,#ead2c9,#ead2c8,#ebd6cd,#edddd6,#eedfd9,#eddbd4,#ecd9d0,#ebd6cd,#ead3ca,#ead2c9,#ecd8d0,#eedfd9,#f1e7e4,#f0eded,#eeebed,#f1e9e6,#eddcd4,#e9cdc2,#e7c4b8,#e6c1b4,#e6c3b6,#ead0c6,#efe2dc,#f2eceb,#f2eded,#f2ecea,#efe3de,#ebd6ce,#ead2c8,#edddd7,#f0e4e0,#efe3de,#eedfd9,#eedfd9,#eee1db,#efe4df,#f0e6e2,#f1e8e5,#f2ecea,#f3eeed,#f2eae7,#f0e4e0,#f0e6e2,#f1e8e5,#f0e5e1,#efe1dc,#efe3de,#f1eae7,#f2eeed,#f3eeed,#f2eae8,#f0e5e0,#efe2dd,#f0e6e2,#f2eded,#edebed,#f2ecea,#edddd6,#e9ccc1,#e7c6ba,#e9cdc2,#ebd7cf,#eedfd8,#efe2dd,#f0e4e0,#efe4df,#eee1db,#edded7,#ebd7ce,#e9cfc4,#e8cbc0,#ead1c7,#efe2dd,#f2eeed,#f2eded,#f0e4e0,#ebd6ce,#e9cfc4,#ead1c7,#ead0c6,#e7c6b9,#e5bdaf,#e4baab,#e3b7a7,#e4b7a8,#e5bdaf,#e6bfb2,#e5beb0,#e8c8bc,#ead3c9,#ead3ca,#ebd5cd,#eedfd9,#f0e4e0,#efe2dd,#ecd9d1,#e9cec3,#e8c9bd,#e8cbc0,#ebd6ce,#eee0da,#efe1dc,#edddd6,#ead4ca,#e9cec4,#ead1c7,#ebd6cd,#ead2c8,#e9ccc1,#ebd4cb,#edddd7,#eedfd9,#efe3de,#f2eae8,#f3eeed,#f2eded,#eceaed,#e6e7ec,#eeebed,#efe2dc,#ebd8cf,#ecdbd3,#ecd9d1,#e7c6ba,#e0ad9c,#db9d88,#da9983,#dc9f8a,#e2b3a2,#e9ccc1,#ecd9d1,#ebd4cb,#e8c9be,#e6c2b5,#e5bdaf,#e4b9a9,#e1b09f,#e1ae9d,#e1b09f,#e1ae9d,#e1b09f,#e3b5a6,#e4b9aa,#e4b8a9,#e4baab,#e7c5b8,#ead3ca,#ecdbd3,#edded7,#efe4df,#efe3de,#efe4df,#f1e8e5,#f0e5e0,#eedfd9,#efe2dd,#f2eae8,#f2eceb,#f1e9e6,#f1e8e4,#f2ebe8,#f3eeec,#f3edeb,#f1e9e6,#f1e9e6,#f2ebe9,#f2eae8,#f1e9e6,#f0e4e0,#ecdbd4,#e9cdc3,#e6c3b6,#e7c4b7,#e9cdc2,#ecd8d0,#eedfd8,#eedfd9,#eee1db,#efe2dd,#eedfd8,#ecd9d0,#ead2c8,#ead1c7,#ecd8d0,#efe2dd,#f2eae8,#f2ecea,#f0e5e1,#eddcd5,#ebd6cd,#eddcd4,#f0e6e3,#f3edec,#f2eae8,#efe4df,#eee0db,#efe2dd,#f0e5e1,#efe3de,#eedfd9,#eee0db,#eee1db,#eee0db,#efe4df,#f1e9e7,#f3eeed,#f2ebea,#f0e6e2,#eee1db,#ecdbd4,#ead3c9,#e9cec3,#ebd5cb,#efe2dd,#f2edeb,#f0eced,#efeced,#eeeced,#ebeaec,#efeced,#efe2dd,#e9cfc5,#ead1c7,#eee0da,#f1e7e4,#f0e6e2,#eee1dc,#edded7,#ecdad2,#ead4ca,#ebd8cf,#eee1db,#f1e8e5,#f2eae8,#f0e5e1,#eedfd9,#eedfd9,#f0e5e1,#f3eeec,#eceaed,#efeced,#f1e7e4,#eedfd8,#ecdbd3,#ecd9d1,#edded7,#f0e5e1,#f2ebea,#f3edeb,#efe4df,#ebd6cd,#ead1c8,#ebd6cd,#ebd4cb,#ead3ca,#edded7,#f1e9e7,#f3eeed,#f1e8e5,#f0e6e2,#f0eded,#e6e7ec,#e8e8ec,#f3eeed,#eee0db,#ecd9d0,#edded7,#f0e6e2,#f1e9e6,#f1e8e5,#f0e6e2,#eee0da,#edddd6,#eedfd8,#eee0da,#efe3dd,#f0e6e3,#f1e7e3,#f1e8e5,#f2ebe9,#f2eae8,#f0e6e2,#efe3de,#efe3de,#f1e8e5,#f2eded,#ebeaec,#e8e8ec,#eceaed,#f2ecea,#f1e7e3,#f2ebe8,#efeced,#ebeaec,#eae9ec,#edebed,#f1eded,#f2eeed,#f2eae8,#eeded8,#e9cfc4,#e8c8bc,#e9cec3,#ecdbd3,#f0e5e0,#f2ebe9,#f2eceb,#f1eae7,#f2eae8,#f0eced,#f0eced,#f1e9e6,#eee0db,#edded7,#eee0da,#efe1dc,#eee1dc,#edded7,#ecdbd3,#edddd6,#eedfd9,#eedfd9,#ecd8d0,#e7c7bb,#e7c4b7,#ebd5cc,#eedfd9,#edddd6,#ecdad2,#eddcd5,#eedfd9,#f0e4e0,#f3edeb,#efeced,#eceaed,#eae9ec,#eae9ec,#e9e9ec,#ebeaec,#f3edeb,#efe1dc,#efe2dc,#f1e9e7,#f0eced,#e7e8ec,#e3e5eb,#e9e9ec,#f1eded,#f0eded,#eae9ec,#e8e8ec,#eae9ec,#e7e8ec,#dfe3ea,#e6e7ec,#f1eded,#f2ecea,#f3edec,#f3eeed,#f1eded,#eeebed,#edebed,#f0eded,#f2eae8,#f1e8e5,#f2ebe8,#efeced,#eae9ec,#efeced,#f1e9e6,#eee1dc,#eddcd4,#edddd6,#eee0db,#efe4df,#f1e9e7,#f3edeb,#f2ebe8,#f0e4e0,#edddd6,#ecd9d1,#ecdbd4,#efe2dd,#f2eae8,#f2eae8,#f0e6e2,#f1e9e6,#f3edeb,#f2eae8,#f0e7e3,#f0e5e1,#f0e5e1,#f0e6e2,#efe2dd,#edded8,#eee1db,#f0e7e3,#f2ecea,#f3eeed,#f3edeb,#f1e8e5,#eee1db,#ecdbd4,#ecdad2,#ecdad2,#ecdbd3,#efe1dc,#f3edec,#eae9ec,#eae9ec,#eeebed,#efeced,#f0eced,#f3eeed,#f2ebe9,#f1e7e4,#f0e4e0,#efe3de,#efe2dd,#efe2dd,#efe4df,#efe4df,#eee1db,#edded7,#eee0da,#f1e8e5,#f3eeed,#f3edeb,#f0e5e1,#edded7,#eddcd5,#eee0da,#eeded8,#ecd9d0,#ecdbd3,#efe3de,#f1e9e6,#f2eae7,#f2ebe9,#f3edeb,#f2eceb,#f1e7e3,#eedfd9,#ecd9d0,#ebd6cd,#ebd7ce,#ecd9d0,#ecdbd4,#eedfd8,#efe1dc,#efe2dd,#eee1db,#edddd6,#eddcd4,#edddd6,#eedfd9,#efe4df,#f0e6e2,#efe4df,#eee0da,#ecdbd3,#ecd8d0,#edddd6,#f1e7e4,#f3edeb,#f0e6e3,#edddd6,#eddcd5,#efe3de,#f0e7e3,#f1e9e7,#f3edec,#f3eeed,#f2eeed,#f2eded,#efeced,#eeebed,#f1eded,#f2eae7,#f0e4e0,#f0e5e1,#f2ebe8,#f3edec,#f3eeed,#f2eded,#f2ecea,#f0e6e3,#f0e5e1,#f1e8e4,#f2eae8,#f2ebe9,#f3edeb,#f2ecea,#f1e8e5,#f1e9e6,#f0eced,#edebed,#f3edec,#f1e8e5,#f2ecea,#f2eeed,#f1eae7,#f0e5e0,#f1e8e5,#f2eded,#f2ebe9,#eee1dc,#eedfd9,#efe3de,#eee1db,#eedfd8,#efe4df,#f2eae7,#f2ebe9,#f1e8e5,#efe2dd,#edddd5,#ecdbd3,#eddcd5,#eddcd5,#eeded8,#efe4df,#f1e8e5,#f2ebe8,#f2eae8,#f1e8e5,#f2eae8,#f3eeed,#f2edeb,#f1e9e6,#f1e8e4,#f0e7e3,#efe4df,#edded7,#eddcd5,#efe4df,#f1eded,#e9e9ec,#e6e7ec,#e7e8ec,#efeced,#f0e7e3,#eedfd8,#eee0db,#f2eae8,#eceaed,#edebed,#f0e7e3,#ebd5cc,#e7c4b7,#e6c1b3,#e8c8bc,#e8cabe,#e8c8bc,#e9cec4,#ebd5cc,#ead3ca,#e9cec3,#e9cdc2,#e7c7bb,#e4bbac,#e3b7a7,#e6c0b2,#e9cfc5,#ecdbd4,#eedfd9,#eedfd9,#edddd7,#edddd6,#eee0da,#efe4df,#eee0da,#ead3ca,#e8cabf,#e9cec3,#ebd5cc,#edded7,#f1e9e7,#f0eded,#efeced,#eeebed,#eae9ec,#e8e8ec,#edebed,#f1eded,#f3edec,#f1eae7,#f0e5e1,#edded7,#e9cfc5,#e6c2b4,#e6c3b6,#e9cec3,#ead4ca,#ead1c7,#ead3ca,#edddd5,#eee1db,#eeded8,#ecdad3,#ecdbd4,#efe2dc,#f1e9e6,#f2eae7,#efe3de,#eddbd4,#ecd9d1,#edddd6,#eee1db,#eddcd4,#e7c6ba,#e5bbad,#e7c4b7,#e9cec4,#ead1c8,#ebd6cd,#ecdbd3,#ecdbd3,#ecdbd3,#eeded8,#f2eae7,#e1e4eb,#c7d6de,#c4d5dc,#cedae1,#d0dbe2,#c2d4dc,#afcbd4,#9cc1ce,#8bb9c9,#92bccb,#bfd2da,#e3e6ec,#eae9ec,#ebeaec,#e7e8ec,#e3e5eb,#e8e8ec,#f3eeed,#f0e6e2,#eee1db,#eedfd9,#eee1db,#edddd6,#ead1c7,#e8c9bd,#ead0c6,#edddd6,#f0e5e0,#f2eae7,#f3eeed,#f1eded,#f3edec,#f1e8e5,#efe1dc,#ebd6cd,#ead0c6,#ead3ca,#ebd7ce,#ecdad2,#eedfd9,#f0e5e1,#f1e8e5,#f1eae7,#f2eceb,#eeebed,#e9e9ec,#eae9ec,#edebed,#efeced,#f0eced)"></div>
<div style="top:167px;height:34.5px;background:linear-gradient(90deg,#e8cbc0,#e8c9be,#e7c6ba,#e9cdc3,#edded7,#f1e8e5,#f1e8e5,#efe4df,#efe3de,#f0e7e3,#f1e9e6,#f0e6e2,#efe4df,#f0e5e1,#f0e6e2,#efe4df,#ecdbd4,#e9cfc5,#ead0c6,#ecd9d1,#eedfd8,#eddcd5,#ecd9d0,#eedfd9,#f1e9e7,#f1eded,#f1eded,#f2ebe8,#efe3df,#efe2dd,#f1e8e5,#f3edec,#f2ecea,#f0e5e1,#efe2dd,#f0e4e0,#f1e7e4,#f1eae7,#f2eae8,#f1e9e6,#f0e7e3,#f0e6e2,#f0e4e0,#efe4df,#f0e6e2,#f2eae8,#f1eded,#f0eced,#f2eceb,#f0e5e1,#eedfd9,#eedfd8,#eeded8,#edded7,#efe3de,#f2eeed,#e7e7ec,#e7e7ec,#f2ebe9,#ecd9d1,#ead2c9,#eedfd8,#f2ebe9,#eceaed,#e9e9ec,#efeced,#f0e5e1,#ebd6cd,#e9ccc1,#ead2c8,#eedfd9,#f1e8e5,#f0e7e3,#efe2dd,#efe2dc,#eedfd9,#ebd5cb,#e8c8bc,#e9ccc1,#ecdbd3,#f0e6e3,#eeeced,#dfe3e9,#d0dae1,#cad8df,#c9d7de,#ccd8e0,#d1dce2,#dbe1e7,#e6e7ec,#ebeaec,#e8e8ec,#e5e6ec,#e8e8ec,#efeced,#f1eded,#f0eced,#edebed,#ecebed,#efeced,#f2eded,#f0eded,#eeebed,#f0eced,#f3edec,#f1e9e7,#f1e9e6,#f2eae8,#f1e9e6,#f0e7e3,#f1e8e5,#f2ebe8,#f1e8e5,#eee0da,#ebd7cf,#ebd5cc,#ebd6cd,#ead3ca,#ead0c6,#ead3ca,#ecdbd4,#eedfd9,#efe3df,#f2eae7,#f1eded,#eeebed,#f3eeed,#efe3de,#eddcd4,#ecd9d1,#ead3ca,#e9cec4,#ebd4cb,#eee0da,#f0e5e1,#f1e9e6,#f2ecea,#f2ecea,#f1e8e4,#efe2dc,#eedfd8,#edded8,#eee0db,#f0e6e2,#f1eae7,#f0e7e3,#efe2dd,#eedfd9,#edddd6,#eee0db,#f0e7e3,#f2eae8,#f3edec,#f0eced,#ebeaec,#e6e7ec,#e5e6ec,#e3e5eb,#dee3e9,#dfe3ea,#e7e8ec,#efeced,#f3edeb,#f2eceb,#f2eded,#edebed,#e9e9ec,#e9e8ec,#edebed,#f2eceb,#f1eae7,#f1eded,#e6e7ec,#e0e4ea,#e7e7ec,#ecebed,#efeced,#efeced,#f0eded,#f2ecea,#f0e6e2,#eedfd9,#edded7,#eee0da,#edddd6,#ebd5cc,#ebd4cb,#ebd7cf,#ebd5cb,#ead4ca,#ecd9d1,#edddd6,#eedfd9,#eedfd8,#edddd7,#eddcd5,#edddd6,#f0e5e1,#f2eded,#edebed,#efeced,#f0eced,#ecebed,#eae9ec,#eceaed,#e9e9ec,#e2e5eb,#dde2e8,#e2e5eb,#e8e8ec,#ebeaec,#ebeaec,#eceaed,#efeced,#f3edec,#f2eae8,#f1e9e6,#f2ecea,#eeeced,#eae9ec,#eceaed,#efeced,#f2ebe8,#efe4df,#f0e4e0,#f2eded,#e9e9ec,#eeebed,#f0e5e1,#ecd9d1,#ead0c6,#ebd4cb,#edded8,#f0e5e1,#f1e8e5,#f2ebe9,#f2eeed,#eeeced,#e8e8ec,#e5e7ec,#eae9ec,#f2eeed,#f3eeec,#eceaed,#e1e4ea,#d9e0e6,#dee2e9,#e9e9ec,#f3edec,#f0e6e2,#f0e5e0,#f1e8e5,#f2ebe9,#f2ecea,#f1e8e5,#f1e7e3,#f2eae8,#f1e9e7,#f0e6e2,#f0e6e2,#f1e8e5,#f2ebe9,#f2eded,#eceaed,#e8e8ec,#e8e8ec,#eceaed,#f1eded,#f0eced,#eceaed,#e9e9ec,#eceaed,#f3edec,#efe1dc,#ead3ca,#e9cec3,#ebd5cc,#ecd9d0,#ead2c8,#e9cec3,#ebd7ce,#f0e6e3,#eae9ec,#e0e4ea,#e2e5eb,#edebed,#efe4df,#ebd5cc,#e9cec3,#ead3c9,#eedfd9,#f2ebe9,#edebed,#ebeaec,#ebeaec,#f0eded,#f2ebe8,#f0e5e1,#edddd7,#ebd7cf,#edddd7,#f0e5e1,#f1e8e4,#f1e7e4,#f1e7e4,#f0e7e3,#f0e6e2,#efe1dc,#ecdad1,#ebd4cb,#ecdbd3,#eee1db,#eee1db,#eedfd9,#eee0da,#efe3de,#f1e9e6,#f0eced,#eeebed,#f1e7e4,#ebd6cd,#e7c6ba,#e6c3b6,#e6c3b6,#e8cabe,#edded7,#eeebed,#dbe1e7,#d9e0e6,#e6e7ec,#f1eded,#f2eae8,#f2ebe9,#f2eae8,#eedfd9,#e9cfc5,#e8cbc0,#ead3c9,#ebd7ce,#ebd6cd,#ecdad1,#efe2dd,#f2ebe9,#f1eded,#f2eeed,#f3eeed,#eeebed,#eae9ec,#eae9ec,#eceaed,#eceaed,#eceaed,#eeebed,#efeced,#edebed,#edebed,#efeced,#f0eced,#ebeaec,#e9e8ec,#eeebed,#f2ebe9,#f0e7e3,#f0e5e1,#efe4df,#f0e5e0,#f0e6e3,#efe4df,#edddd6,#ebd6cd,#ebd5cc,#ebd7cf,#ead0c6,#e6c1b4,#e3b6a7,#e4b9aa,#e8cabf,#edddd5,#f0e5e0,#f0e5e1,#edded7,#ebd4cb,#ead2c9,#ebd6cd,#ebd6ce,#ebd7cf,#eddcd5,#eee0da,#efe3df,#f0e4e0,#eee0da,#eddcd5,#efe1dc,#f1e7e4,#f0e7e3,#f0e5e1,#f1e8e5,#f0e7e3,#eedfd9,#eddcd4,#edded8,#eedfd8,#edddd6,#efe1dc,#f1e9e7,#f2eae8,#efe3df,#ecdbd3,#ead0c6,#e8cabe,#e7c7bb,#e7c4b7,#e7c4b8,#ead2c8,#eee0da,#f0e5e1,#f0e6e2,#efe2dd,#edddd6,#edddd6,#f1e7e4,#f0eced,#f3eeec,#edddd6,#e8c9be,#e7c7ba,#e8cbc0,#e8cbc0,#e7c7bb,#e7c6ba,#e8c9be,#ead0c6,#ecdad1,#edded7,#eee0da,#eee0da,#edddd6,#ebd4cb,#e7c4b8,#e3b6a6,#e0ad9c,#e2b3a3,#e5bfb1,#e7c4b8,#e7c7bb,#e9ccc1,#ead1c7,#e9cfc5,#e7c6ba,#e6c1b4,#e7c4b8,#e9cdc2,#edddd5,#f2eded,#e6e7ec,#e4e6ec,#eceaed,#f1e9e6,#efe1dc,#f0e4e0,#f1e9e7,#f1e9e6,#efe2dd,#eeded8,#eee0da,#efe2dc,#eee0da,#edddd7,#edded7,#eee0da,#eee1dc,#efe3de,#efe3de,#eddcd5,#e8c8bd,#e4baac,#e5bfb1,#e9cec3,#edded7,#f1e8e5,#f2ebe9,#f2eeed,#eeebed,#eeebed,#f3eeec,#efe3df,#ecdad3,#ecdbd3,#f0e4e0,#f3edeb,#f2ebe9,#edded8,#e8c9bd,#e3b6a7,#e1b09f,#e3b7a7,#e6c2b5,#e7c7bb,#e8c9be,#ead2c9,#efe1dc,#f3eeed,#f1eded,#f2ecea,#f2eae7,#f1e9e6,#f1e8e5,#f1e9e6,#f2eae8,#f1e9e6,#efe4df,#efe1dc,#efe2dd,#efe2dc,#eedfd9,#eeded8,#efe2dd,#f1eae7,#f1eded,#f0eced,#f3eeed,#f2eceb,#edebed,#e4e6ec,#e6e7ec,#f0eced,#f2ebe9,#f1eae7,#f2ebe9,#f2eded,#f0eced,#f3eeed,#efe3df,#ecd9d0,#ebd6cd,#edded7,#f0e6e2,#f1e9e6,#f0e6e3,#f0e5e0,#f2eae7,#f0eced,#edebed,#eceaed,#efeced,#f3eeed,#f2ecea,#f2eae8,#f1e9e7,#f2ebe9,#f3edeb,#f2eae8,#efe3df,#ecdad3,#ead1c7,#ebd7cf,#efe3de,#f2eae8,#f3edec,#f2eeed,#f3edec,#f1e8e4,#eee1db,#eee1db,#f1e8e5,#f3edeb,#f2eae8,#f1e8e5,#f2eae7,#f3eeec,#f2eded,#f2eae8,#efe2dd,#eee1dc,#f1e9e6,#f3eeed,#f3eeed,#f1e9e7,#eedfd9,#ebd6cd,#ead2c8,#ead0c6,#ebd6cd,#eee0da,#f0e6e2,#f1e8e5,#f1e9e7,#f3eeed,#eceaed,#ebeaec,#edebed,#f0eded,#f2ebea,#f1e7e4,#f1e8e5,#f1e9e6,#f0e5e0,#edddd6,#eddcd4,#efe3df,#f3eeed,#ebeaec,#e9e9ec,#f0eced,#f0e7e3,#edddd6,#ebd7ce,#ecdbd3,#efe2dd,#f2eae8,#eeeced,#e7e8ec,#e3e6ec,#e8e8ec,#f1e8e5,#ead2c8,#e8c8bc,#ebd4cb,#efe4df,#f2eceb,#f3edec,#f0e4e0,#ebd7ce,#e9cec4,#ebd7ce,#f0e4e0,#f2eceb,#f1e7e4,#eee0da,#eee0da,#efe3df,#f1e7e3,#f2eeed,#eae9ec,#ebeaec,#f3eeed,#f0e5e1,#eee1db,#efe3de,#f1e9e6,#f2ebe9,#f2ecea,#f2ecea,#f0e7e3,#efe2dd,#f0e6e2,#f1e9e7,#f1e9e6,#f3eeed,#eae9ec,#e6e7ec,#e5e7ec,#e4e6ec,#e4e6ec,#e8e8ec,#edebed,#eae9ec,#e6e7ec,#eeebed,#f0e6e2,#efe3de,#f2ebe9,#eceaed,#e7e7ec,#e8e8ec,#eceaed,#f2eded,#f1e9e6,#f1e8e5,#f2ebe9,#f2eded,#f0eded,#f3edec,#f1e7e4,#efe3de,#eee0da,#eee1db,#f0e4e0,#f2eae8,#ebeaec,#dbe1e7,#d4dde4,#e0e4ea,#f1eded,#eedfd9,#ebd4cb,#ebd6cd,#eedfd9,#f0e5e1,#f1e8e4,#f2eceb,#f0eced,#eeebed,#edebed,#f2eded,#f0e4e0,#ecdbd3,#ebd5cc,#ecdad1,#efe3de,#f2eceb,#f1eded,#f1eded,#f2ebe9,#f0e5e1,#eee0da,#eee0da,#eee1db,#edddd6,#ead2c8,#e8cbc0,#ead1c7,#edddd6,#f0e5e0,#f3edec,#ebeaec,#e7e7ec,#e5e6ec,#dee2e9,#d7dfe5,#dae0e7,#e3e5eb,#e9e8ec,#eceaed,#efeced,#f3edec,#f1e7e4,#efe1dc,#eedfd8,#efe2dd,#f0e5e1,#efe1dc,#ecdbd4,#ecdbd3,#f0e5e0,#eeeced,#e7e8ec,#e6e7ec,#e2e5eb,#e1e5eb,#e9e9ec,#f2eded,#f3eeed,#edebed,#e6e7ec,#e7e7ec,#eeebed,#f2ebe9,#f2ebe9,#eeeced,#eae9ec,#ebeaec,#eeebed,#f0eced,#f1eded,#f3edec,#f0e6e2,#ecdbd3,#e9cec3,#e8c8bc,#e8c8bd,#e8c9bd,#e8c8bd,#e8cbc0,#ead1c8,#ecd9d0,#ecdbd4,#edded7,#eee1dc,#efe4df,#f1e8e5,#f3eeed,#f1eded,#f2ecea,#f1e7e4,#f1e8e5,#f3eeed,#eae9ec,#e1e5eb,#dae0e7,#dce1e8,#e7e8ec,#f1eded,#f1e9e6,#f1e7e4,#f1e7e4,#f1e7e4,#f2eae8,#f2eded,#f1eded,#f2eae8,#efe3de,#eee0da,#efe4df,#f2ebe9,#efeced,#edebed,#f3edeb,#f0e4e0,#efe3df,#f1e7e4,#f1e9e6,#f1e9e6,#f2ebe9,#f2eceb,#f3edeb,#f0eded,#ebeaec,#edebed,#f0e6e2,#ecdbd3,#eee0da,#f3edec,#edebed,#eeebed,#edebed,#eae9ec,#e9e9ec,#edebed,#f1e9e7,#edded7,#ecdbd3,#eee0da,#f0e6e2,#f3edeb,#eae9ec,#e6e7ec,#edebed,#f0e5e1,#eddcd5,#efe2dd,#f1eded,#e8e8ec,#e7e8ec,#e9e9ec,#edebed,#f2ebe9,#edddd6,#e9cec3,#ead0c6,#eddcd4,#efe4df,#f2eae8,#f3edeb,#f2ebe9,#f2ebe8,#f1eded,#e7e8ec,#e4e6ec,#eae9ec,#f1eae7,#ecdbd4,#e9cec4,#e8c9be,#e9cdc3,#ecd8d0,#edded7,#eedfd8,#eee0da,#efe2dd,#efe2dd,#efe3de,#f0e5e1,#f0e5e0,#efe2dd,#f0e5e0,#f2ebe9,#f2eeed,#f2ecea,#efe1dc,#ead2c8,#e7c6ba,#e9ccc2,#edddd6,#f0e6e2,#eee1dc,#e9cdc2,#e4b9aa,#e3b6a6,#e6c1b4,#ecd8d0,#f2ecea,#e8e8ec,#e6e7ec,#ebe9ec,#edebed,#eceaed,#eae9ec,#e6e7ec,#e3e5eb,#e9e9ec,#f2ebe9,#edddd7,#e9cfc5,#e7c5b8,#e7c5b9,#ead0c6,#ebd7cf,#ebd8cf,#edddd6,#f1e8e5,#f3eeed,#f2eceb,#f2ecea,#efeced,#eae9ec,#ebe9ec,#edebed,#eeeced,#f1eded,#f1e7e4,#eeded8,#edded8,#efe4df,#f0e5e1,#efe1dc,#ecdbd3,#e9cec3,#e7c7bb,#ead3ca,#efe3de,#f1e8e5,#f1e7e4,#f1e9e7,#efeced,#dde2e8,#cedae1,#cedae0,#cfdae1,#cad8df,#c5d5dd,#bfd2da,#b6ced7,#b0cbd4,#bcd1d9,#dde2e8,#eeebed,#f1eded,#f2eceb,#f1e8e5,#efe4df,#edded7,#ecd9d1,#ebd7cf,#ebd7ce,#ebd7ce,#ebd7ce,#ead3c9,#e9cec3,#ebd4cb,#efe4df,#efeced,#e7e7ec,#e5e7ec,#e8e8ec,#ebeaec,#efeced,#f0eced,#f1eded,#f2eded,#edebed,#eae9ec,#edebed,#f0eced,#edebed,#eceaed,#f0eded,#f3edeb,#f1eded,#e9e9ec,#e4e6ec,#e7e7ec,#eae9ec,#eceaed,#edebed)"></div>
</div>
<div class="p" style="top:1251.5px">
<div class="bl">
<div style="top:0px;height:40.6px;background:linear-gradient(90deg,#80d164,#82d264,#87d462,#8dd562,#4eaf7d,#31848c,#1e6a8f,#166191,#176391,#186491,#226e8e,#32848b,#3c9388,#3f9986,#429f84,#46a582,#57bb77,#78ce67,#91d661,#95d761,#84d363,#78ce67,#67c76d,#4cad7e,#4eb07d,#4daf7d,#46a582,#409a86,#31848c,#27748e,#29778d,#2b7b8d,#32858b,#399089,#388e89,#378c8a,#3a9189,#3d9687,#368b8a,#27758d,#1a6690,#115895,#104a9a,#1c32a2,#2528a4,#135c93,#186490,#226e8e,#2e808c,#378d8a,#3b9288,#398f89,#32858b,#30828c,#31838c,#2f808c,#2e7f8c,#32858b,#34898b,#2f818c,#28768d,#29778d,#2f818c,#378d8a,#378d8a,#31848c,#2d7d8d,#2d7e8c,#2c7c8d,#26738e,#0e5198,#12439d,#1736a1,#11479b,#135b94,#30828c,#47a682,#47a682,#44a283,#46a482,#52b57a,#6bc96b,#7ed165,#7acf66,#84d363,#9ad861,#9bd961,#8cd562,#83d263,#87d462,#9cd961,#a8db60,#9ad861,#86d462,#93d761,#b3de5f,#c4e165,#bee063,#b6de60,#bbdf62,#c0e064,#b3de5f,#85d363,#6bc96b,#6ac86c,#3b9288,#28768d,#26738e,#30838c,#3a9189,#3a9189,#388e89,#368a8a,#368a8a,#358a8a,#378c8a,#399089,#399089,#3f9986,#45a383,#44a283,#44a183,#45a383,#43a084,#3e9887,#3c9488,#3c9588,#3e9887,#3e9887,#3b9288,#378d8a,#35898a,#34878b,#33878b,#34888b,#368a8a,#35898a,#33868b,#2d7d8d,#226e8e,#1a6690,#135c93,#0f4e99,#12429d,#0f4d99,#155f92,#186491,#186491,#1e6a8f,#24708e,#24708e,#206c8f,#1c6890,#156092,#115696,#105596,#10499b,#2a22a3,#2b1872,#2a186c,#135b94,#26738e,#34888b,#419d85,#46a582,#4cae7e,#51b47b,#55b978,#5ec072,#61c271,#62c370,#62c370,#60c172,#61c271,#63c46f,#64c56f,#65c56e,#64c46f,#67c76d,#74cc68,#81d164,#84d363,#7acf66,#76cd68,#81d164,#8cd562,#92d661,#9bd861,#a2da60,#7dd065,#4fb17c,#4fb17c,#51b37b,#53b779,#57bb77,#52b57a,#409a86,#31848c,#28768d,#236f8e)"></div>
<div style="top:40px;height:10.6px;background:linear-gradient(90deg,#86d362,#8ad562,#91d661,#94d761,#59bc76,#3e9787,#2f818c,#29778d,#2a798d,#2b7a8d,#2f818c,#3b9388,#43a084,#47a681,#4aab7f,#4eaf7d,#5ec073,#7ed065,#96d761,#9ad861,#88d462,#7dd065,#6fca6a,#56b978,#58bb76,#57ba77,#51b37b,#4aaa7f,#419d85,#3d9687,#3f9886,#409b86,#44a183,#49a980,#47a682,#47a682,#4eb07d,#58bb76,#5bbd75,#54b878,#52b67a,#52b67a,#52b57a,#44a183,#399089,#49a980,#51b47a,#56ba77,#5cbf74,#61c271,#63c370,#60c171,#5abd75,#57bb77,#57bb77,#58bb76,#5abd75,#5dbf73,#5cbf74,#57bb77,#52b57a,#54b879,#5abd75,#61c271,#63c46f,#64c46f,#65c56f,#66c66e,#66c66e,#46a582,#28778d,#1e6a8f,#176391,#206c8f,#2f808c,#43a084,#56ba78,#55b878,#53b779,#57bb77,#68c76d,#80d164,#8bd562,#84d363,#8cd562,#9ed960,#a0d960,#92d761,#87d462,#8cd562,#9fd960,#aadc60,#9cd961,#8bd562,#97d861,#b3de5f,#c2e164,#bee063,#b6de60,#badf61,#bfe063,#b3de5f,#89d462,#71cb69,#71cb69,#409c85,#31848c,#31838c,#3a9189,#409b85,#409a86,#3f9a86,#3e9887,#3e9787,#409a86,#43a084,#46a582,#48a781,#4daf7d,#53b679,#52b57a,#50b37b,#51b47b,#52b57a,#4cad7e,#46a482,#46a582,#49a880,#4cac7e,#4cae7e,#46a482,#44a183,#49a880,#4cad7e,#4aab7f,#49aa80,#49a980,#47a781,#43a084,#3d9687,#3b9388,#399089,#368b8a,#368a8a,#3c9488,#419c85,#429e85,#419d85,#43a084,#45a383,#45a283,#43a084,#419c85,#3e9787,#3a9189,#398f89,#34888b,#28768d,#206c8f,#1a6690,#35898a,#419c85,#59bc76,#87d462,#a2da60,#9ed960,#99d861,#96d761,#94d761,#8fd661,#85d363,#7cd066,#75cd68,#74cd68,#76cd68,#77ce67,#76cd68,#73cc69,#76cd68,#81d264,#8cd562,#8dd562,#82d264,#7dd065,#85d363,#91d661,#96d761,#9ed960,#a4da60,#81d264,#57ba77,#59bc76,#59bc76,#5abd75,#5ec072,#59bc76,#45a383,#3a9289,#35898a,#32858b)"></div>
<div style="top:50px;height:10.6px;background:linear-gradient(90deg,#94d761,#9bd861,#a1da60,#a1da60,#74cd68,#59bc75,#4daf7d,#49a980,#4aab7f,#4aaa80,#45a482,#4dae7e,#58bb76,#60c171,#5fc172,#5dbf73,#6ac96c,#89d462,#9ed960,#a0da60,#92d661,#86d462,#7dd065,#6eca6a,#70cb6a,#6dca6b,#68c76d,#66c66e,#6cc96b,#76cd68,#78ce67,#78ce67,#78ce67,#7dd065,#76cd68,#7ccf66,#90d661,#a3da60,#aedd5f,#addc5f,#a8db60,#a4da60,#a4da60,#a6db60,#a7db60,#addc5f,#aedd5f,#aadc60,#a4db60,#a1da60,#a0da60,#a2da60,#a3da60,#a2da60,#a1da60,#a4db60,#aadc60,#aedd5f,#aedd5f,#addc5f,#addc5f,#addd5f,#aedd5f,#aedd5f,#aedd5f,#afdd5f,#b0dd5f,#b2dd5f,#b3de5f,#a5db60,#61c271,#4dae7d,#48a781,#51b37b,#69c86c,#7dd065,#7ed065,#7acf66,#7ed065,#8ad562,#b0dd5f,#b5de5f,#acdc60,#a1da60,#9ed960,#a6db60,#a7db60,#9ed960,#93d761,#96d761,#a4da60,#acdc60,#a1da60,#94d761,#9dd961,#b3de5f,#bfe063,#bce062,#b6de60,#b8df61,#bbdf62,#b3de5f,#93d761,#7dd065,#7dd065,#4eb07c,#429f84,#44a183,#4bab7f,#4eb07c,#4cad7e,#4fb27c,#4fb27c,#4fb17c,#56ba77,#63c46f,#70cb6a,#78ce67,#7acf66,#79ce67,#75cd68,#72cb69,#6fcb6a,#7dd065,#75cd68,#62c370,#64c46f,#66c66e,#75cd68,#88d462,#76cd68,#71cb69,#94d761,#96d761,#8fd661,#8fd661,#91d661,#8fd661,#86d462,#87d462,#93d761,#96d761,#97d861,#96d761,#96d761,#95d761,#94d761,#93d761,#95d761,#99d861,#9ed960,#9ed960,#9cd961,#9ad861,#99d861,#98d861,#96d761,#96d761,#98d861,#98d861,#89d462,#9ed960,#b9df61,#c8e266,#c9e267,#c5e165,#c0e064,#bce062,#b8df61,#b7df60,#b9df61,#b9df61,#b7df60,#b6de60,#a3da60,#a4db60,#a1da60,#98d861,#97d761,#a0da60,#a4db60,#a0da60,#95d761,#8cd562,#92d661,#99d861,#9cd961,#a2da60,#a7db60,#8ad562,#69c86c,#71cb69,#6cc96b,#68c76d,#6cc96b,#67c76d,#53b679,#4bac7e,#4dae7d,#4dae7e)"></div>
<div style="top:60px;height:10.6px;background:linear-gradient(90deg,#a0da60,#a8db60,#bee063,#b6de60,#9ad861,#87d462,#7fd165,#7cd066,#7fd165,#7bcf66,#65c56f,#65c56e,#74cd68,#83d263,#7bcf66,#6fcb6a,#7bcf66,#96d761,#a4da60,#a5db60,#9ad861,#90d661,#8bd562,#8fd661,#90d661,#8cd562,#88d462,#90d661,#99d861,#a7db60,#addd5f,#afdd5f,#aedd5f,#addc5f,#a5db60,#aadc60,#b9df61,#c6e266,#cce368,#cbe367,#c6e266,#c2e164,#c1e164,#c4e165,#c7e266,#cbe368,#cbe368,#c7e266,#c3e164,#bfe063,#bfe063,#c1e164,#c2e164,#c1e164,#c1e164,#c3e165,#c8e267,#cbe368,#cce368,#cbe368,#cbe368,#cbe368,#cbe368,#cbe368,#cbe368,#cbe368,#cce368,#cde368,#cfe369,#c8e267,#b4de5f,#a3da60,#a0da60,#a7db60,#b5de5f,#b9df61,#b7df60,#b8df61,#c1e164,#c9e267,#d2e46a,#d4e46b,#cfe369,#c4e165,#acdc60,#acdc60,#b5de60,#a9db60,#9fd960,#9fd960,#a8db60,#addd5f,#a6db60,#9cd961,#a3da60,#b2de5f,#bbdf62,#badf61,#b5de5f,#b7df60,#b8df61,#b2de5f,#9cd961,#88d462,#88d462,#60c271,#56ba77,#5cbf74,#63c370,#61c271,#5bbe74,#65c56e,#67c66d,#66c56e,#79cf67,#9ad861,#addc5f,#b1dd5f,#afdd5f,#a9dc60,#a3da60,#a1da60,#9bd961,#addc5f,#a9dc60,#8bd562,#91d661,#92d661,#aedd5f,#bee063,#b5de5f,#afdd5f,#bbdf62,#bce062,#b7df60,#b2de5f,#b4de5f,#b7df60,#b9df61,#bbdf62,#bde062,#bee063,#bee063,#bce062,#bbdf61,#b9df61,#b9df61,#b8df61,#badf61,#bee063,#c3e164,#c3e165,#c1e164,#c0e063,#bfe063,#bee063,#bde062,#bde063,#bfe063,#c0e063,#bee063,#c6e266,#d6e56c,#dee770,#dee770,#dbe66e,#d6e56c,#d2e46a,#cee369,#cee369,#d0e46a,#d3e46b,#d5e56b,#d6e56c,#d7e56c,#d6e56c,#d1e46a,#c4e165,#bce062,#c3e164,#c9e267,#c1e164,#a8db60,#9ed960,#9dd961,#a0da60,#a2da60,#a6db60,#aadc60,#94d761,#82d264,#91d661,#85d363,#7bcf66,#7ed065,#79cf67,#64c46f,#63c46f,#72cc69,#77ce67)"></div>
<div style="top:70px;height:10.6px;background:linear-gradient(90deg,#aadc60,#c8e266,#d4e46b,#cfe369,#bde062,#b7df60,#b6de60,#b7df60,#bde062,#bde062,#98d861,#89d562,#9dd961,#afdd5f,#a0da60,#86d362,#8bd562,#a2da60,#a8db60,#a9dc60,#a0da60,#9ad861,#9cd961,#b1dd5f,#b1dd5f,#a9dc60,#a6db60,#addc5f,#badf61,#c4e165,#c9e267,#cbe368,#cae267,#c8e267,#c3e165,#c6e266,#d0e46a,#d9e56d,#dde66f,#dce66e,#d7e56c,#d3e46b,#d2e46a,#d5e56c,#d9e56d,#dde66f,#dce66e,#d9e56d,#d4e46b,#d1e46a,#d0e46a,#d2e46a,#d3e46b,#d3e46b,#d3e46a,#d5e56b,#d9e56d,#dde66f,#dde66f,#dde66f,#dde66f,#dde66f,#dde66f,#dce66e,#dce66e,#dce66e,#dde66f,#dde670,#dee771,#dce66f,#d1e46a,#c9e267,#c8e266,#cce368,#d3e46b,#d5e56b,#d5e56c,#d9e56d,#dee770,#e1e773,#e3e877,#e3e877,#e1e874,#dde66f,#d3e46b,#d2e46a,#d5e56b,#bfe063,#a9db60,#a7db60,#acdc60,#aedd5f,#a9dc60,#a4da60,#a8db60,#b2dd5f,#b8df60,#b7df60,#b4de5f,#b5de5f,#b5de5f,#b1dd5f,#a4db60,#97d861,#97d861,#78ce67,#73cc69,#81d264,#85d363,#78ce67,#6eca6a,#82d264,#88d462,#85d363,#acdc60,#c4e165,#cbe367,#cce368,#cae267,#c8e266,#c5e165,#c1e164,#bde062,#c9e267,#c8e266,#b7df60,#badf61,#bbdf62,#cbe368,#d6e56c,#d0e46a,#cce368,#d1e46a,#d0e46a,#cce368,#c9e267,#cbe368,#cee369,#d0e46a,#d3e46b,#d4e46b,#d4e46b,#d3e46b,#d1e46a,#cfe369,#cee369,#cde368,#cde368,#cfe369,#d3e46b,#d7e56c,#d8e56d,#d6e56c,#d5e56b,#d5e56b,#d4e46b,#d3e46a,#d3e46b,#d5e56b,#d6e56c,#d6e56c,#dce66f,#e3e876,#e7e97b,#e6e97a,#e3e877,#e0e773,#dee770,#dbe66e,#dbe66e,#dde670,#e0e773,#e3e876,#e4e978,#e5e978,#e4e978,#e1e874,#dbe66e,#d4e46b,#d8e56d,#dde66f,#dae66d,#cce368,#addc5f,#a7db60,#a7db60,#a7db60,#a9dc60,#acdc60,#9ed960,#a1da60,#b1dd5f,#a5db60,#8fd661,#93d761,#8dd562,#79ce67,#85d363,#addd5f,#b3de5f)"></div>
<div style="top:80px;height:10.6px;background:linear-gradient(90deg,#c5e165,#d9e56d,#dfe771,#dde66f,#d3e46b,#cfe369,#cee369,#d0e469,#d4e46b,#d6e56c,#c7e266,#badf61,#c3e165,#cde368,#bee063,#a3da60,#9fd960,#abdc60,#acdc60,#abdc60,#a6db60,#a2da60,#abdc60,#cbe368,#cce368,#c7e266,#c3e165,#c5e165,#cce368,#d4e46b,#d9e56d,#dbe66e,#dbe66e,#d8e56d,#d4e46b,#d6e56c,#dde670,#e2e875,#e4e977,#e3e876,#e0e772,#dde66f,#dce66e,#dee771,#e1e874,#e3e877,#e3e876,#e0e773,#dde670,#dbe66e,#dbe66e,#dce66f,#dde670,#dde66f,#dde66f,#dee771,#e1e874,#e3e877,#e4e877,#e3e877,#e3e877,#e3e877,#e3e877,#e3e876,#e2e876,#e3e876,#e3e877,#e4e877,#e5e979,#e4e978,#e0e773,#dde670,#dee770,#dfe772,#e2e875,#e2e875,#e3e877,#e6e97a,#e9ea7e,#ebeb80,#eceb81,#ebeb80,#e9ea7e,#e6e97a,#e3e876,#e3e876,#e4e877,#d9e56d,#b6de60,#aedd5f,#afdd5f,#afdd5f,#addc5f,#abdc60,#acdc60,#b1dd5f,#b4de5f,#b5de60,#b4de5f,#b4de5f,#b2de5f,#b1dd5f,#acdc60,#a5db60,#a5db60,#97d861,#9dd961,#b5de60,#b6de60,#97d861,#85d363,#a9db60,#abdc60,#acdc60,#cbe368,#d9e56d,#dce66e,#dbe66e,#dae66d,#d9e56d,#d7e56c,#d5e56b,#d2e46a,#d9e56d,#d9e56d,#cfe369,#d2e46a,#d2e46a,#dce66e,#e1e874,#dfe771,#dce66e,#dde670,#dce66e,#d9e56d,#d7e56c,#d9e56d,#dce66e,#dee770,#dfe772,#e0e773,#e0e772,#dfe771,#dde66f,#dbe66e,#dae66d,#d9e56d,#d9e56d,#dbe66e,#dee771,#e1e874,#e2e875,#e0e773,#e0e772,#dfe772,#dfe771,#dee771,#dfe771,#e0e772,#e0e773,#e1e874,#e5e979,#e9ea7e,#eceb81,#ebeb80,#e8ea7d,#e5e979,#e2e876,#e0e773,#e0e773,#e2e876,#e6e97a,#e9ea7e,#ebeb80,#eceb81,#ebeb80,#e8ea7d,#e3e877,#e0e773,#e1e874,#e4e978,#e4e978,#dfe771,#d0e469,#b6de60,#acdc60,#abdc60,#acdc60,#addd5f,#a6db60,#bce062,#cce368,#c2e164,#a7db60,#a8db60,#a5db60,#94d761,#b7df60,#cce368,#cfe369)"></div>
<div style="top:90px;height:10.6px;background:linear-gradient(90deg,#d8e56c,#e0e773,#e3e877,#e3e876,#dee771,#dde66f,#dce66e,#dde670,#e0e773,#e1e874,#dce66e,#d4e46b,#d9e56d,#dde66f,#d3e46b,#b7df60,#a6db60,#bce062,#b4de5f,#addd5f,#aadc60,#aadc60,#c0e064,#dbe66d,#dbe66e,#d8e56c,#d4e46b,#d3e46b,#d8e56c,#dde66f,#e0e773,#e2e875,#e1e875,#e0e773,#dee770,#dfe771,#e3e876,#e6e97a,#e8ea7c,#e7e97b,#e4e877,#e1e774,#e0e773,#e3e876,#e5e979,#e7ea7c,#e7e97b,#e4e978,#e1e875,#dfe772,#dfe772,#e0e773,#e1e874,#e1e874,#e1e874,#e2e876,#e5e979,#e7ea7b,#e8ea7c,#e7ea7c,#e8ea7c,#e8ea7c,#e7ea7c,#e7e97b,#e6e97b,#e7e97b,#e7ea7b,#e8ea7c,#e9ea7d,#e9ea7e,#e7e97b,#e5e979,#e6e97a,#e7ea7c,#e8ea7d,#e9ea7d,#eaeb7f,#edec83,#f0ec86,#f1ed87,#f1ed87,#f0ec85,#eeec83,#eceb81,#eaeb7f,#ebeb7f,#ebeb7f,#e3e877,#d1e46a,#c3e165,#c9e267,#bde063,#afdd5f,#b8df61,#b4de5f,#b0dd5f,#b1dd5f,#b3de5f,#b3de5f,#b2de5f,#c0e064,#c3e165,#c1e164,#b5de5f,#b0dd5f,#b6de60,#c1e164,#d1e46a,#d2e46a,#b9df61,#a4da60,#c1e164,#c8e267,#cae267,#dde66f,#e2e875,#e2e875,#e1e874,#e1e874,#e0e773,#e0e772,#dfe771,#dee770,#e0e773,#e0e773,#dde66f,#dee770,#dee771,#e3e876,#e6e97a,#e5e978,#e3e876,#e2e875,#e1e874,#dfe772,#dee770,#dfe772,#e1e874,#e3e877,#e5e978,#e5e979,#e5e978,#e4e877,#e2e875,#e0e773,#dfe772,#dfe772,#dfe772,#e0e773,#e3e876,#e6e97a,#e6e97a,#e5e979,#e4e978,#e4e978,#e4e977,#e3e877,#e4e877,#e4e978,#e5e979,#e7e97b,#eaea7f,#edec83,#efec85,#eeec83,#ebeb80,#e8ea7d,#e5e979,#e3e876,#e3e876,#e5e979,#e9ea7e,#edeb82,#efec85,#f0ec86,#efec85,#edeb82,#e8ea7d,#e5e979,#e6e97a,#e9ea7d,#e9ea7e,#e6e97a,#dfe772,#d2e46a,#b8df61,#aedd5f,#aedd5f,#afdd5f,#aedd5f,#d2e46a,#dbe66e,#d7e56c,#c6e266,#cae267,#c8e266,#b7df60,#d3e46b,#dde66f,#dee670)"></div>
<div style="top:100px;height:10.6px;background:linear-gradient(90deg,#e0e773,#e4e978,#e6e97a,#e6e97a,#e3e877,#e2e875,#e1e875,#e2e876,#e5e979,#e7e97b,#e4e978,#e1e774,#e2e875,#e3e876,#dee770,#cde369,#c3e165,#d0e469,#cce368,#a6db60,#aedd5f,#aadc60,#d3e46b,#e1e774,#e1e874,#dfe772,#dde66f,#dbe66e,#dde670,#e1e874,#e4e978,#e6e97a,#e5e979,#e4e877,#e2e875,#e2e876,#e6e97a,#e9ea7e,#ebeb7f,#e9ea7e,#e6e97a,#e3e876,#e3e876,#e5e979,#e8ea7d,#eaea7f,#e9ea7e,#e7e97b,#e4e978,#e2e875,#e2e875,#e3e876,#e4e977,#e4e877,#e4e877,#e5e979,#e8ea7c,#eaea7e,#eaeb7f,#eaea7f,#eaeb7f,#eaeb7f,#eaea7f,#e9ea7e,#e9ea7e,#e9ea7e,#e9ea7e,#eaeb7f,#ebeb80,#eceb81,#ebeb80,#eaea7f,#ebeb80,#eceb81,#eceb81,#eceb81,#eeec84,#f1ed88,#f4ee8b,#f4ee8b,#f3ed8a,#f2ed88,#f0ec86,#efec84,#eeec83,#eeec84,#eeec84,#e8ea7d,#dfe771,#d7e56c,#dce66e,#d7e56c,#cce368,#d4e46b,#d1e46a,#cbe368,#cce368,#b1dd5f,#b2de5f,#b1dd5f,#d8e56c,#dae66d,#d9e56d,#d1e46a,#cde368,#cfe369,#d6e56c,#dfe772,#e0e773,#d2e46a,#bee063,#d3e46b,#d8e56d,#dbe66e,#e3e877,#e6e97a,#e6e97a,#e5e978,#e4e978,#e4e978,#e4e877,#e3e876,#e2e875,#e4e877,#e4e977,#e2e876,#e3e876,#e3e877,#e6e97a,#e9ea7e,#e8ea7d,#e6e97a,#e5e979,#e4e877,#e2e875,#e1e874,#e2e875,#e4e978,#e7e97b,#e8ea7c,#e8ea7d,#e8ea7c,#e7e97b,#e5e978,#e3e876,#e2e876,#e2e875,#e2e875,#e3e877,#e6e97a,#e9ea7d,#e9ea7e,#e8ea7d,#e7ea7c,#e7ea7c,#e7e97b,#e6e97a,#e7e97b,#e8ea7c,#e8ea7d,#eaea7f,#edeb82,#f0ec86,#f1ed87,#f0ec86,#edeb82,#eaea7f,#e7ea7b,#e5e979,#e5e978,#e7ea7c,#ebeb80,#efec85,#f2ed88,#f2ed89,#f1ed88,#efec85,#ebeb80,#e8ea7c,#e8ea7d,#ebeb80,#eceb82,#eaeb7f,#e6e97a,#dfe772,#d2e46a,#bee063,#b0dd5f,#b0dd5f,#c5e165,#dee770,#e1e874,#e0e773,#dbe66e,#dee770,#dde66f,#d4e46b,#e0e773,#e3e877,#e3e877)"></div>
<div style="top:110px;height:10.6px;background:linear-gradient(90deg,#e4e877,#e6e97a,#e8ea7c,#e8ea7c,#e6e97a,#e5e978,#e4e978,#e5e979,#e8ea7c,#eaea7e,#e8ea7d,#e6e97a,#e6e97a,#e6e97a,#e2e876,#dae66d,#d3e46b,#dbe66e,#d9e56d,#c5e165,#bde063,#c7e266,#dee770,#e4e977,#e4e978,#e3e876,#e0e773,#dfe771,#e0e773,#e3e877,#e6e97b,#e8ea7c,#e8ea7c,#e6e97a,#e4e978,#e5e978,#e8ea7c,#ebeb80,#eceb81,#ebeb80,#e8ea7c,#e5e978,#e4e978,#e7e97b,#eaea7e,#ebeb81,#ebeb80,#e8ea7d,#e5e979,#e4e877,#e3e877,#e5e978,#e5e979,#e5e979,#e5e979,#e6e97b,#e9ea7e,#ebeb80,#eceb81,#eceb81,#eceb81,#eceb81,#ebeb80,#ebeb80,#eaeb7f,#ebeb7f,#ebeb80,#ebeb81,#edeb82,#edec83,#edeb82,#eceb82,#edec83,#eeec84,#eeec84,#eeec83,#f0ec85,#f3ed89,#f5ee8d,#f5ee8c,#f4ee8a,#f2ed89,#f1ed87,#efec85,#efec85,#f0ec86,#efec85,#eaeb7f,#e3e877,#e0e772,#e2e875,#e1e874,#dee770,#e0e773,#dfe772,#dde670,#dee770,#c4e165,#b1dd5f,#cee369,#e1e874,#e3e876,#e3e876,#dfe772,#dde66f,#dde66f,#e0e773,#e5e979,#e6e97a,#dfe772,#d3e46b,#dde670,#dfe772,#e2e875,#e7ea7b,#e9ea7e,#e8ea7d,#e7e97b,#e6e97a,#e6e97a,#e6e97a,#e5e979,#e5e979,#e6e97a,#e6e97a,#e5e979,#e6e97a,#e6e97a,#e9ea7d,#ebeb80,#eaeb7f,#e8ea7d,#e7ea7b,#e5e979,#e4e877,#e3e876,#e4e978,#e6e97a,#e9ea7d,#eaea7f,#eaeb7f,#eaea7f,#e8ea7d,#e7e97b,#e5e979,#e4e978,#e4e977,#e4e977,#e5e979,#e8ea7c,#ebeb7f,#ebeb80,#eaeb7f,#e9ea7e,#e9ea7e,#e9ea7d,#e8ea7d,#e9ea7d,#e9ea7e,#eaeb7f,#eceb81,#efec85,#f1ed88,#f2ed89,#f1ed87,#eeec84,#ebeb80,#e8ea7d,#e6e97a,#e6e97a,#e8ea7d,#edeb82,#f0ed87,#f3ed8a,#f4ee8a,#f3ed89,#f1ed87,#edeb82,#eaea7e,#eaea7f,#edeb82,#eeec84,#edeb82,#e9ea7e,#e5e979,#dfe771,#d4e46b,#cbe368,#c3e165,#d9e56d,#e2e875,#e4e977,#e5e978,#e3e877,#e5e979,#e5e979,#e2e875,#e6e97a,#e7ea7b,#e7e97b)"></div>
<div style="top:120px;height:10.6px;background:linear-gradient(90deg,#e6e97a,#e8ea7c,#e9ea7d,#e9ea7d,#e7ea7c,#e6e97a,#e6e97a,#e7ea7b,#eaea7e,#ebeb81,#ebeb80,#e9ea7e,#e9ea7d,#e8ea7d,#e5e979,#dfe772,#dce66e,#dfe772,#dfe772,#d6e56c,#d1e46a,#d7e56c,#e2e875,#e6e97a,#e6e97a,#e5e979,#e2e876,#e1e774,#e2e875,#e5e979,#e8ea7c,#e9ea7e,#e9ea7e,#e7ea7c,#e6e97a,#e6e97a,#e9ea7e,#eceb81,#edeb83,#eceb81,#e9ea7d,#e6e979,#e5e979,#e8ea7c,#ebeb80,#eceb82,#eceb81,#e9ea7e,#e6e97b,#e4e978,#e4e978,#e6e979,#e6e97b,#e6e97a,#e6e97a,#e7ea7c,#eaeb7f,#eceb81,#edeb82,#edeb82,#edeb82,#edeb82,#eceb82,#eceb81,#ebeb80,#ebeb80,#eceb81,#eceb81,#edec83,#eeec84,#eeec83,#eeec83,#eeec84,#efec85,#efec84,#eeec84,#f0ec86,#f3ed8a,#f5ee8c,#f5ee8c,#f3ed8a,#f1ed88,#f0ec86,#efec84,#efec85,#f0ec86,#efec85,#ebeb80,#e5e979,#e3e876,#e5e979,#e6e97a,#e4e978,#e5e979,#e5e978,#e4e977,#e5e978,#dae66d,#b1dd5f,#dde670,#e6e97a,#e8ea7c,#e8ea7c,#e5e979,#e2e876,#e2e876,#e5e978,#e9ea7d,#e9ea7e,#e4e978,#dee770,#e1e874,#e3e876,#e5e979,#e9ea7e,#ebeb7f,#e9ea7e,#e8ea7c,#e8ea7c,#e8ea7c,#e8ea7c,#e7ea7b,#e6e97b,#e7e97b,#e7ea7c,#e7ea7c,#e8ea7c,#e8ea7c,#eaea7f,#eceb81,#eceb81,#eaea7f,#e8ea7c,#e7e97b,#e5e979,#e4e978,#e5e979,#e7ea7c,#eaea7f,#ebeb80,#eceb81,#ebeb80,#eaea7e,#e8ea7c,#e6e97a,#e5e979,#e5e979,#e5e979,#e6e97a,#e9ea7e,#eceb81,#eceb82,#ebeb80,#ebeb7f,#eaeb7f,#eaea7f,#e9ea7e,#eaea7f,#ebeb80,#eceb81,#edec83,#f0ec86,#f2ed89,#f3ed89,#f2ed88,#efec84,#eceb81,#e9ea7d,#e7e97b,#e6e97b,#e9ea7e,#edec83,#f1ed87,#f4ee8b,#f4ee8b,#f4ee8a,#f1ed88,#eeec83,#ebeb80,#ebeb80,#eeec83,#efec85,#eeec84,#eceb81,#e8ea7d,#e4e977,#dfe772,#dce66f,#d9e56d,#e1e874,#e5e979,#e6e97a,#e7ea7b,#e7ea7c,#e9ea7e,#eaea7e,#e7ea7c,#eaea7e,#e9ea7e,#e8ea7d)"></div>
<div style="top:130px;height:10.6px;background:linear-gradient(90deg,#e7ea7c,#e8ea7d,#e9ea7e,#e9ea7e,#e8ea7d,#e7ea7c,#e7ea7b,#e8ea7d,#ebeb7f,#eceb82,#eceb82,#ebeb80,#eaeb7f,#e9ea7e,#e6e97a,#e2e875,#e0e772,#e2e875,#e2e875,#dee771,#dde66f,#dee771,#e4e977,#e7e97b,#e7ea7c,#e6e97a,#e4e877,#e2e875,#e3e876,#e6e97a,#e9ea7d,#eaeb7f,#eaea7f,#e8ea7d,#e7e97b,#e7ea7b,#eaea7f,#edeb82,#eeec83,#eceb82,#e9ea7e,#e6e97a,#e6e97a,#e8ea7d,#ebeb80,#edeb83,#eceb82,#eaea7f,#e7ea7b,#e5e979,#e5e979,#e6e97a,#e7ea7b,#e7ea7b,#e7e97b,#e8ea7c,#ebeb80,#edeb82,#edec83,#edec83,#edec83,#edec83,#edeb82,#eceb81,#eceb81,#eceb81,#eceb81,#edeb82,#eeec83,#eeec84,#eeec84,#eeec84,#efec85,#efec85,#eeec84,#eeec83,#efec85,#f2ed89,#f4ee8b,#f4ee8a,#f2ed88,#f0ec86,#eeec84,#edec83,#eeec83,#efec85,#eeec84,#eaeb7f,#e6e97a,#e4e978,#e6e97a,#e8ea7c,#e8ea7c,#e8ea7d,#e8ea7c,#e7ea7c,#e8ea7d,#e3e876,#cee369,#e3e877,#e9ea7d,#eaeb7f,#ebeb80,#e8ea7d,#e6e97a,#e5e979,#e7ea7b,#eaeb7f,#ebeb80,#e8ea7c,#e2e876,#e3e877,#e5e978,#e7ea7b,#ebeb7f,#eceb81,#eaeb7f,#e9ea7d,#e8ea7d,#e9ea7d,#e8ea7d,#e8ea7c,#e7ea7c,#e8ea7c,#e8ea7d,#e8ea7d,#e9ea7d,#e9ea7e,#ebeb80,#edeb82,#eceb82,#ebeb7f,#e9ea7d,#e7ea7b,#e6e979,#e5e979,#e6e97a,#e8ea7d,#ebeb80,#eceb81,#eceb82,#eceb81,#eaeb7f,#e8ea7d,#e7e97b,#e6e97a,#e6e97a,#e6e97a,#e7e97b,#eaea7e,#eceb82,#edeb83,#eceb81,#ebeb80,#ebeb80,#ebeb80,#eaeb7f,#ebeb7f,#ebeb80,#eceb82,#eeec84,#f1ed87,#f3ed89,#f3ed8a,#f2ed88,#efec85,#eceb81,#e9ea7e,#e7ea7b,#e7e97b,#eaea7e,#eeec83,#f2ed88,#f4ee8b,#f5ee8c,#f4ee8b,#f2ed88,#eeec84,#ebeb80,#ebeb81,#eeec84,#f0ec86,#efec85,#edeb82,#eaeb7f,#e7e97b,#e4e977,#e3e876,#e2e875,#e5e979,#e6e97a,#e7e97b,#e8ea7d,#eaea7f,#eceb81,#eceb81,#ebeb80,#eceb81,#eaeb7f,#eaea7e)"></div>
<div style="top:140px;height:10.6px;background:linear-gradient(90deg,#e8ea7c,#e9ea7d,#eaea7e,#eaea7f,#e9ea7e,#e8ea7c,#e8ea7c,#e9ea7d,#ebeb80,#edeb83,#edec83,#eceb81,#ebeb80,#eaea7f,#e7ea7c,#e4e877,#e2e875,#e3e876,#e4e877,#e2e875,#e1e774,#e2e875,#e5e979,#e7ea7c,#e8ea7c,#e7e97b,#e4e978,#e2e876,#e3e877,#e6e97a,#e9ea7e,#ebeb80,#ebeb80,#e9ea7d,#e7ea7b,#e8ea7c,#eaeb7f,#edeb83,#eeec84,#edeb82,#eaea7e,#e7e97b,#e6e97a,#e9ea7d,#eceb81,#eeec83,#edeb82,#eaeb7f,#e7ea7c,#e5e979,#e5e979,#e7e97b,#e7ea7c,#e7ea7c,#e7ea7b,#e8ea7d,#ebeb80,#edeb83,#eeec83,#eeec83,#eeec83,#eeec83,#edec83,#edeb82,#eceb81,#eceb81,#eceb82,#edeb82,#eeec83,#eeec84,#eeec84,#eeec84,#efec84,#efec85,#eeec84,#edeb82,#eeec84,#f1ed88,#f3ed8a,#f2ed89,#f0ed86,#eeec84,#edeb82,#eceb81,#eceb82,#eeec83,#edeb82,#eaea7e,#e6e979,#e4e978,#e7e97b,#e9ea7d,#e9ea7e,#e9ea7e,#e9ea7e,#e9ea7e,#eaeb7f,#e7ea7b,#dee770,#e7e97b,#eaeb7f,#eceb81,#eceb81,#eaeb7f,#e8ea7c,#e7ea7b,#e9ea7d,#eceb81,#eceb82,#e9ea7e,#e5e979,#e5e978,#e6e97a,#e8ea7d,#ebeb80,#eceb81,#ebeb80,#e9ea7e,#e9ea7d,#e9ea7e,#e9ea7d,#e8ea7d,#e8ea7c,#e8ea7d,#e9ea7d,#e9ea7e,#e9ea7e,#eaea7e,#ebeb80,#edeb83,#edeb82,#ebeb80,#e9ea7e,#e8ea7c,#e6e97a,#e5e979,#e6e97a,#e9ea7d,#ebeb80,#edeb82,#edeb82,#eceb82,#ebeb80,#e9ea7d,#e7ea7b,#e6e97b,#e6e97a,#e6e97a,#e7ea7c,#eaeb7f,#edeb82,#eeec83,#edeb82,#eceb81,#eceb81,#ebeb80,#ebeb80,#ebeb80,#eceb81,#edeb82,#efec84,#f1ed87,#f3ed8a,#f4ee8a,#f2ed89,#efec85,#eceb82,#e9ea7e,#e7ea7c,#e7ea7b,#eaea7f,#eeec84,#f2ed88,#f5ee8c,#f5ee8d,#f4ee8b,#f2ed89,#efec84,#eceb81,#eceb81,#eeec84,#f0ec86,#f0ec85,#eeec83,#ebeb80,#e9ea7d,#e6e97b,#e6e97a,#e6e97a,#e7ea7c,#e7ea7b,#e7ea7c,#e9ea7e,#ebeb80,#edec83,#eeec83,#edeb82,#edeb82,#ebeb80,#eaeb7f)"></div>
<div style="top:150px;height:10.6px;background:linear-gradient(90deg,#e9ea7d,#e9ea7e,#eaea7f,#eaeb7f,#e9ea7e,#e8ea7d,#e8ea7d,#e9ea7e,#eceb81,#edec83,#eeec83,#edeb82,#eceb81,#eaeb7f,#e8ea7c,#e4e978,#e3e876,#e4e877,#e5e978,#e4e877,#e3e876,#e4e877,#e6e97a,#e8ea7c,#e8ea7d,#e7ea7b,#e5e979,#e3e876,#e4e877,#e7e97b,#eaea7f,#ebeb80,#ebeb80,#e9ea7e,#e8ea7c,#e8ea7c,#ebeb80,#edec83,#eeec84,#edeb83,#eaea7f,#e7e97b,#e6e97b,#e9ea7d,#eceb81,#eeec83,#edeb82,#ebeb80,#e8ea7c,#e6e97a,#e6e97a,#e7e97b,#e8ea7c,#e8ea7c,#e7ea7c,#e9ea7d,#ebeb80,#edec83,#eeec83,#eeec83,#eeec84,#eeec83,#edec83,#edeb82,#eceb82,#eceb82,#eceb82,#edeb82,#eeec83,#eeec84,#eeec84,#eeec83,#efec84,#efec84,#edec83,#eceb82,#eeec83,#f1ed87,#f2ed89,#f1ed88,#efec85,#edeb82,#ebeb80,#ebeb7f,#ebeb80,#edeb82,#eceb81,#e9ea7d,#e5e979,#e4e978,#e7e97b,#e9ea7e,#eaea7f,#eaeb7f,#eaea7f,#eaeb7f,#ebeb81,#e9ea7e,#e4e877,#e8ea7d,#ebeb80,#edeb82,#edeb83,#ebeb80,#e9ea7d,#e8ea7c,#eaea7e,#eceb81,#edeb82,#eaeb7f,#e6e97a,#e6e979,#e6e97b,#e9ea7e,#eceb81,#eceb82,#ebeb80,#e9ea7e,#e9ea7e,#e9ea7e,#e9ea7e,#e9ea7d,#e8ea7d,#e8ea7d,#e9ea7e,#e9ea7e,#eaea7e,#eaeb7f,#eceb81,#edec83,#edec83,#ebeb80,#e9ea7e,#e8ea7c,#e6e97a,#e6e979,#e7e97b,#e9ea7e,#ebeb80,#edeb82,#edec83,#edeb82,#ebeb80,#e9ea7e,#e8ea7c,#e7e97b,#e6e97b,#e6e97b,#e8ea7c,#ebeb7f,#edec83,#eeec83,#edeb82,#eceb81,#eceb81,#ebeb81,#ebeb80,#ebeb80,#eceb81,#edeb82,#efec85,#f2ed88,#f3ed8a,#f4ee8b,#f2ed89,#f0ec86,#edeb82,#eaea7e,#e7ea7c,#e7ea7c,#eaea7f,#eeec84,#f2ed89,#f5ee8c,#f6ee8d,#f5ee8b,#f2ed89,#efec85,#eceb81,#eceb81,#efec84,#f0ed87,#f0ec86,#eeec84,#eceb81,#eaea7e,#e8ea7c,#e8ea7d,#e8ea7d,#e9ea7d,#e8ea7c,#e8ea7c,#eaea7e,#eceb81,#eeec84,#efec84,#eeec84,#edec83,#eceb81,#ebeb80)"></div>
<div style="top:160px;height:10.6px;background:linear-gradient(90deg,#e9ea7d,#e9ea7e,#eaea7f,#eaeb7f,#e9ea7e,#e9ea7d,#e8ea7d,#e9ea7e,#eceb81,#eeec83,#eeec84,#edec83,#eceb81,#ebeb80,#e8ea7d,#e5e979,#e3e877,#e4e978,#e5e979,#e5e979,#e4e978,#e5e978,#e6e97b,#e8ea7c,#e9ea7d,#e7ea7c,#e5e979,#e3e877,#e4e877,#e7e97b,#eaea7f,#ebeb81,#ebeb80,#e9ea7e,#e8ea7c,#e8ea7d,#ebeb80,#eeec83,#efec84,#edec83,#eaea7f,#e7ea7b,#e7e97b,#e9ea7e,#eceb81,#eeec84,#edec83,#ebeb80,#e8ea7c,#e6e97a,#e6e97a,#e7ea7b,#e8ea7c,#e8ea7c,#e8ea7c,#e9ea7d,#eceb81,#eeec83,#eeec84,#eeec84,#eeec84,#eeec84,#eeec83,#edeb82,#eceb82,#eceb82,#edeb82,#edeb82,#eeec83,#eeec84,#eeec84,#eeec83,#eeec84,#efec84,#edeb83,#eceb81,#edec83,#f0ec86,#f2ed88,#f1ed87,#eeec84,#eceb81,#eaeb7f,#eaea7e,#eaeb7f,#eceb81,#ebeb80,#e8ea7d,#e5e979,#e4e978,#e6e97b,#e9ea7e,#eaeb7f,#eaeb7f,#eaeb7f,#ebeb80,#eceb81,#ebeb80,#e7e97b,#eaea7e,#ebeb81,#edec83,#eeec83,#eceb81,#e9ea7e,#e9ea7d,#eaea7f,#edeb82,#edec83,#ebeb80,#e7ea7b,#e6e97a,#e7e97b,#e9ea7e,#eceb81,#edeb82,#ebeb80,#eaea7e,#e9ea7e,#eaea7e,#e9ea7e,#e9ea7e,#e9ea7d,#e9ea7d,#e9ea7e,#eaea7e,#eaea7f,#eaeb7f,#eceb81,#eeec83,#edec83,#eceb81,#eaea7e,#e8ea7c,#e6e97b,#e6e97a,#e7e97b,#e9ea7e,#eceb81,#edeb83,#edec83,#edeb82,#ebeb80,#e9ea7e,#e8ea7c,#e7e97b,#e7e97b,#e7e97b,#e8ea7c,#ebeb80,#edec83,#eeec84,#edeb82,#eceb81,#eceb81,#eceb81,#ebeb80,#eceb81,#eceb82,#edec83,#efec85,#f2ed88,#f4ee8a,#f4ee8b,#f3ed89,#f0ec86,#edeb82,#eaea7e,#e8ea7c,#e7ea7c,#eaeb7f,#eeec84,#f2ed89,#f5ee8c,#f6ee8d,#f5ee8c,#f2ed89,#efec85,#eceb81,#eceb81,#efec84,#f1ed87,#f0ec86,#eeec84,#eceb82,#eaeb7f,#e9ea7d,#e9ea7e,#eaea7f,#e9ea7e,#e8ea7c,#e8ea7c,#eaea7f,#edeb82,#efec84,#efec85,#efec84,#eeec83,#eceb81,#ebeb80)"></div>
<div style="top:170px;height:10.6px;background:linear-gradient(90deg,#e9ea7e,#e9ea7e,#eaeb7f,#eaeb7f,#eaea7e,#e9ea7d,#e8ea7d,#eaea7e,#eceb81,#eeec83,#eeec84,#edec83,#eceb82,#ebeb80,#e8ea7d,#e5e979,#e4e877,#e4e978,#e6e979,#e6e979,#e5e979,#e5e979,#e7e97b,#e8ea7d,#e9ea7d,#e8ea7c,#e5e979,#e3e877,#e4e978,#e7ea7b,#eaeb7f,#eceb81,#ebeb80,#eaea7e,#e8ea7c,#e8ea7d,#ebeb80,#eeec83,#efec84,#edec83,#eaeb7f,#e7ea7b,#e7e97b,#e9ea7e,#eceb82,#eeec84,#edec83,#ebeb80,#e8ea7c,#e6e97a,#e6e97a,#e7ea7b,#e8ea7c,#e8ea7c,#e8ea7c,#e9ea7e,#eceb81,#eeec83,#eeec84,#eeec84,#eeec84,#eeec84,#eeec83,#edeb82,#edeb82,#eceb82,#edeb82,#edeb82,#eeec83,#eeec84,#eeec84,#eeec83,#eeec84,#eeec84,#edeb82,#eceb81,#edeb82,#f0ec86,#f1ed87,#f0ec86,#eeec83,#eceb81,#eaea7f,#e9ea7e,#eaea7f,#ebeb80,#ebeb80,#e8ea7c,#e5e978,#e4e978,#e6e97a,#e9ea7e,#ebeb80,#ebeb80,#eaeb7f,#ebeb80,#eceb82,#eceb81,#e9ea7d,#eaeb7f,#eceb81,#edec83,#eeec84,#eceb82,#eaea7f,#e9ea7d,#eaeb7f,#edeb82,#eeec83,#ebeb80,#e8ea7c,#e6e97a,#e7ea7b,#eaea7e,#eceb82,#edeb82,#ebeb80,#eaea7e,#e9ea7e,#eaea7e,#eaea7e,#e9ea7e,#e9ea7d,#e9ea7d,#e9ea7e,#eaea7f,#eaea7f,#eaeb7f,#eceb81,#eeec83,#eeec83,#eceb81,#eaea7e,#e8ea7d,#e7e97b,#e6e97a,#e7ea7b,#e9ea7e,#eceb81,#edec83,#eeec83,#edeb82,#ebeb81,#eaea7e,#e8ea7c,#e7ea7b,#e7e97b,#e7e97b,#e8ea7c,#ebeb80,#eeec83,#eeec84,#edec83,#eceb82,#eceb81,#eceb81,#ebeb80,#eceb81,#edeb82,#edec83,#efec85,#f2ed88,#f4ee8a,#f4ee8b,#f3ed89,#f0ec86,#edeb82,#eaea7f,#e8ea7c,#e7ea7c,#eaeb7f,#eeec84,#f2ed89,#f5ee8c,#f6ee8d,#f5ee8c,#f3ed89,#efec85,#eceb81,#eceb81,#efec85,#f1ed87,#f0ec86,#eeec84,#edeb82,#ebeb7f,#e9ea7e,#eaeb7f,#ebeb80,#eaea7f,#e8ea7d,#e8ea7c,#eaeb7f,#edeb82,#efec85,#efec85,#efec85,#eeec84,#eceb81,#ebeb80)"></div>
<div style="top:160px;height:50.6px;background:linear-gradient(90deg,#e9ea7e,#e9ea7e,#eaeb7f,#eaeb7f,#eaea7e,#e9ea7d,#e9ea7d,#eaea7e,#eceb81,#eeec83,#eeec84,#eeec83,#eceb82,#ebeb80,#e8ea7d,#e5e979,#e4e978,#e5e978,#e6e97a,#e6e97a,#e6e979,#e6e97a,#e7e97b,#e8ea7d,#e9ea7d,#e8ea7c,#e5e979,#e3e877,#e4e978,#e7ea7b,#eaeb7f,#eceb81,#ebeb81,#eaea7e,#e8ea7c,#e8ea7d,#ebeb80,#eeec83,#efec85,#edec83,#eaeb7f,#e7ea7b,#e7e97b,#e9ea7e,#eceb82,#eeec84,#edec83,#ebeb80,#e8ea7c,#e6e97a,#e6e97a,#e7ea7b,#e8ea7c,#e8ea7c,#e8ea7c,#e9ea7e,#eceb81,#eeec83,#eeec84,#eeec84,#eeec84,#eeec84,#eeec83,#edeb82,#edeb82,#eceb82,#edeb82,#edeb82,#eeec83,#eeec84,#eeec84,#eeec83,#eeec84,#eeec84,#edeb82,#eceb81,#edeb82,#efec85,#f1ed87,#f0ec86,#edec83,#ebeb80,#eaea7e,#e9ea7d,#eaea7e,#ebeb80,#ebeb80,#e8ea7c,#e4e978,#e4e978,#e6e97a,#e9ea7e,#ebeb80,#ebeb80,#ebeb7f,#ebeb81,#edeb82,#eceb81,#eaea7f,#eaeb7f,#eceb81,#eeec83,#eeec84,#eceb82,#eaea7f,#e9ea7e,#eaeb7f,#edeb82,#eeec83,#ebeb81,#e8ea7c,#e6e97a,#e7ea7c,#eaea7f,#eceb82,#edeb82,#ebeb80,#eaea7f,#e9ea7e,#eaea7e,#eaea7e,#e9ea7e,#e9ea7d,#e9ea7d,#e9ea7e,#eaea7f,#eaeb7f,#ebeb7f,#eceb81,#eeec83,#eeec83,#eceb81,#eaea7f,#e8ea7d,#e7e97b,#e6e97a,#e7ea7b,#e9ea7e,#eceb81,#edec83,#eeec83,#edeb82,#eceb81,#eaea7e,#e8ea7c,#e7ea7b,#e7e97b,#e7e97b,#e8ea7d,#ebeb80,#eeec83,#eeec84,#edec83,#eceb82,#eceb82,#eceb81,#ebeb80,#eceb81,#edeb82,#edec83,#efec85,#f2ed88,#f4ee8a,#f4ee8b,#f3ed89,#f0ec86,#edeb82,#eaea7f,#e8ea7c,#e8ea7c,#eaeb7f,#eeec84,#f2ed89,#f5ee8c,#f6ee8e,#f5ee8c,#f3ed89,#efec85,#eceb81,#eceb81,#efec85,#f1ed87,#f0ec86,#eeec84,#edeb82,#ebeb80,#eaea7e,#eaeb7f,#ebeb80,#eaeb7f,#e8ea7d,#e8ea7d,#eaeb7f,#edeb83,#efec85,#f0ec86,#efec85,#eeec84,#eceb81,#ebeb80)"></div>
</div>
<div style="top:140.5px;height:27px;background:linear-gradient(90deg,#e6e97a,#e5e979,#e4e978,#e3e876,#e2e875,#e0e773,#dfe772,#dfe772,#dfe772,#e0e773,#e2e875,#e3e877,#e5e979,#e7e97b,#e8ea7c,#e8ea7d,#e9ea7d,#e9ea7e,#eaea7f,#ebeb80,#ebeb80,#ebeb80,#ebeb80,#ebeb80,#ebeb80,#ebeb80,#eaeb7f,#e9ea7e,#e8ea7c,#e6e97a,#e5e979,#e5e979,#e6e97a,#e7e97b,#e9ea7d,#eaeb7f,#ebeb80,#eaeb7f,#e9ea7e,#e9ea7d,#e8ea7d,#e9ea7e,#eaeb7f,#ebeb80,#eceb81,#eceb81,#eceb81,#ebeb80,#ebeb80,#eceb81,#eceb82,#edec83,#eeec84,#eeec84,#eeec84,#edeb83,#eceb81,#eaeb7f,#e9ea7e,#e9ea7e,#e9ea7e,#e9ea7e,#eaea7e,#eaea7f,#eaeb7f,#ebeb80,#ebeb80,#eaeb7f,#e9ea7e,#e8ea7d,#e8ea7c,#e8ea7c,#e7ea7b,#e6e97a,#e5e979,#e4e977,#e3e877,#e3e876,#e3e876,#e3e877,#e4e978,#e5e979,#e5e979,#e6e97a,#e6e97b,#e7e97b,#e7e97b,#e6e97a,#e6e97a,#e6e97a,#e7ea7b,#e8ea7d,#eaea7e,#eaeb7f,#ebeb7f,#ebeb80,#ebeb80,#ebeb80,#ebeb80,#eceb81,#eceb81,#eceb81,#ebeb80,#eaeb7f,#eaea7e,#e9ea7e,#e9ea7d,#e9ea7d,#e9ea7d,#e9ea7d,#e8ea7d,#e8ea7c,#e7ea7b,#e7e97b,#e7ea7b,#e7ea7b,#e8ea7c,#e9ea7d,#eaea7f,#ebeb80,#eceb82,#edeb82,#eceb81,#ebeb80,#e9ea7e,#e8ea7d,#e8ea7c,#e8ea7c,#e8ea7c,#e8ea7d,#e9ea7d,#e9ea7d,#e9ea7d,#e8ea7c,#e7e97b,#e7e97b,#e7e97b,#e8ea7c,#e9ea7e,#ebeb80,#eceb81,#edeb82,#edec83,#edeb83,#edeb82,#edeb82,#edeb82,#eceb81,#eceb81,#ebeb80,#eaea7f,#e9ea7d,#e8ea7c,#e7e97b,#e7e97b,#e7ea7c,#e9ea7d,#eaeb7f,#eceb81,#eceb81,#eceb81,#ebeb80,#eaeb7f,#eaea7f,#eaeb7f,#ebeb80,#eceb81,#eceb81,#eceb81,#eceb81,#eceb82,#edec83,#eeec83,#edec83,#eceb81,#eaea7f,#e8ea7c,#e7e97b,#e6e97a,#e6e97a,#e6e97a,#e6e979,#e6e97a,#e6e97a,#e6e97a,#e6e97a,#e6e97a,#e6e97a,#e6e97a,#e6e97a,#e6e97a,#e6e97a,#e6e97a,#e6e97a,#e6e97a,#e6e97a,#e5e979,#e4e978,#e4e977,#e4e977)"></div>
<div style="top:167px;height:34.5px;background:linear-gradient(90deg,#dde66f,#dce66e,#dce66e,#dae66d,#d8e56c,#d5e56c,#d3e46b,#d3e46b,#d5e56c,#d9e56d,#dce66f,#dee770,#dfe771,#dfe771,#dfe771,#dfe771,#dfe772,#dfe772,#e0e773,#e1e874,#e1e875,#e2e876,#e3e877,#e4e978,#e5e979,#e5e979,#e6e97a,#e7e97b,#e7ea7c,#e7ea7c,#e6e97a,#e5e979,#e3e877,#e3e876,#e4e877,#e5e979,#e8ea7c,#e9ea7d,#e9ea7d,#e8ea7d,#e8ea7d,#e8ea7d,#e9ea7d,#e9ea7d,#e9ea7d,#e9ea7d,#e9ea7e,#e9ea7e,#e9ea7e,#e9ea7e,#eaea7f,#ebeb80,#eceb81,#edeb82,#edeb82,#eceb81,#eaea7e,#e8ea7c,#e6e97a,#e6e97a,#e6e97b,#e8ea7c,#e9ea7e,#eaea7e,#e9ea7d,#e7ea7b,#e5e979,#e3e877,#e2e875,#e1e874,#e2e875,#e2e875,#e3e876,#e3e876,#e3e876,#e2e876,#e2e875,#e1e874,#e1e774,#e1e874,#e1e874,#e1e874,#e1e773,#dfe772,#dde66f,#dbe66d,#d8e56d,#d8e56d,#dae66d,#dde66f,#dfe772,#e2e875,#e4e978,#e6e97a,#e8ea7c,#e8ea7d,#e8ea7c,#e7ea7c,#e7ea7b,#e7ea7b,#e7ea7b,#e7ea7b,#e7ea7b,#e7e97b,#e7e97b,#e7ea7b,#e7ea7c,#e8ea7c,#e8ea7c,#e8ea7c,#e8ea7c,#e8ea7d,#e9ea7d,#e9ea7e,#e9ea7e,#e8ea7d,#e7e97b,#e6e97a,#e5e979,#e5e978,#e5e979,#e5e979,#e6e97a,#e6e97a,#e6e97a,#e5e979,#e5e979,#e5e979,#e7e97b,#e8ea7d,#e9ea7e,#e9ea7d,#e8ea7c,#e6e97a,#e6e97a,#e6e97a,#e8ea7c,#e9ea7d,#e9ea7e,#e8ea7d,#e7e97b,#e5e978,#e4e877,#e3e877,#e4e877,#e4e877,#e3e877,#e3e876,#e3e877,#e5e979,#e7ea7b,#e9ea7d,#e9ea7e,#e8ea7d,#e7ea7b,#e6e979,#e4e978,#e3e877,#e3e876,#e4e877,#e5e978,#e6e97a,#e7e97b,#e7ea7b,#e7e97b,#e6e97a,#e5e978,#e4e978,#e4e978,#e4e978,#e5e978,#e5e979,#e6e97a,#e6e97a,#e6e97a,#e5e979,#e4e877,#e2e875,#e0e773,#dee771,#dce66e,#dae66d,#d8e56d,#d7e56c,#d7e56c,#d7e56c,#d7e56c,#d9e56d,#dce66e,#dee771,#e1e774,#e2e875,#e3e876,#e3e876,#e3e876,#e3e876,#e3e876,#e3e876,#e3e876,#e3e876)"></div>
</div>
<div class="p" style="top:1529px">
<div class="bl">
<div style="top:0px;height:40.6px;background:linear-gradient(90deg,#875298,#865199,#845199,#80509b,#6b45a0,#5b3da4,#5439a6,#5038a6,#573ba5,#5a3ca4,#5339a6,#4a35a8,#4934a8,#4935a8,#4d36a7,#4934a8,#4c36a7,#543aa5,#5b3da4,#5c3da4,#5b3da4,#573ba5,#5138a6,#5138a6,#5239a6,#4c36a7,#4133a5,#3a33a3,#3e33a4,#3f33a5,#3d33a4,#3833a2,#3a33a3,#3b33a3,#3e33a4,#4233a6,#5339a6,#6441a2,#6f479f,#754a9e,#7f4f9b,#865199,#8e5395,#9a5691,#a8598a,#b75c82,#c05e7d,#cb6176,#d7656e,#e46c62,#f17754,#f27a50,#f47b4e,#f88645,#fa8e41,#fa933f,#fb9c3c,#fca03a,#fca13a,#fca63a,#fdae3b,#fdb53b,#feba3c,#fec03d,#fccb40,#fbd944,#f6e94d,#f0f557,#ebf95a,#e9fa5b,#f1f254,#fbd843,#fec13d,#fdb13b,#fc9f3b,#f98b42,#f57e4b,#f07655,#e06a66,#d36470,#cc6275,#c66079,#c25f7b,#c66079,#c25f7b,#c25f7b,#c25f7c,#c25f7c,#c05e7d,#c05e7d,#be5e7e,#bd5d7f,#be5e7e,#c05e7d,#c5607a,#c25f7b,#b65c83,#ac5a88,#a5588c,#a3588c,#a3588d,#9c5690,#985592,#955593,#955593,#8f5395,#875298,#885298,#83519a,#7f509b,#83519a,#84519a,#80509b,#744a9e,#6944a1,#593ca4,#4834a8,#4133a5,#3632a1,#3632a2,#3933a2,#3632a2,#3f33a5,#4534a7,#4a35a8,#4e37a7,#5339a6,#553aa5,#543aa5,#5038a6,#5239a6,#5239a6,#4c36a7,#4033a5,#3833a2,#4434a7,#4e37a7,#563aa5,#6b45a0,#7c4e9c,#905495,#a3588d,#b65c83,#cd6275,#e36b64,#f17753,#f88147,#f98a43,#fb993d,#fdac3b,#febe3c,#fdcb40,#fcd342,#fbdc44,#fbdb44,#fbdb44,#fae146,#f8e549,#f8e449,#f8e549,#f7e84c,#fbd843,#fdc53e,#fdb23b,#fdb13b,#fdb03b,#fdb03b,#fdae3b,#fdac3b,#fdaf3b,#fca73a,#fb9a3d,#fb963e,#fa943f,#fa9140,#fa9140,#f57e4b,#ed725a,#e56c62,#d46470,#bc5d7f,#b55b83,#af5a87,#ae5a87,#ac5a88,#a7598a,#a6588b,#aa5989,#ab5989,#aa5989,#ae5a87,#a95989,#a3588c,#9f578e,#9e578f,#9e578f,#995691,#965593,#945593,#935494)"></div>
<div style="top:40px;height:8.6px;background:linear-gradient(90deg,#875298,#865199,#855199,#80509b,#6b45a0,#5c3da4,#553aa5,#5138a6,#583ba5,#5b3da4,#543aa5,#4b36a7,#4a35a8,#4b35a7,#4e37a7,#4a35a8,#4d36a7,#553aa5,#5c3da4,#5c3da4,#5b3da4,#583ba5,#5239a6,#5238a6,#5339a6,#4d36a7,#4233a6,#3b33a3,#4033a5,#4133a5,#3f33a5,#3a33a3,#3b33a3,#3d33a4,#3f33a5,#4434a6,#543aa5,#6541a2,#6f479f,#764a9e,#7f4f9b,#855199,#8e5396,#995691,#a6588b,#b55b84,#bd5d7f,#c86178,#d46470,#e16b65,#ef7457,#f07754,#f17852,#f78147,#f98843,#fa8e41,#fb963e,#fb9a3c,#fb9c3c,#fca03a,#fda83b,#fdaf3b,#fdb43b,#feb93c,#fdc43e,#fcd142,#f9e348,#f3ef52,#eff658,#edf85a,#f4ed50,#fcd242,#febd3c,#fdae3b,#fb9c3c,#f98943,#f47c4d,#ef7556,#df6967,#d26471,#cb6176,#c5607a,#c25f7c,#c5607a,#c25f7c,#c25f7c,#c25f7c,#c15f7c,#c05e7d,#c05e7d,#be5e7e,#bd5d7f,#be5e7e,#c05e7d,#c5607a,#c25f7b,#b65c83,#ac5a88,#a5588c,#a3588c,#a3588d,#9c5690,#985592,#955593,#955593,#8f5395,#875298,#885298,#83519a,#80509b,#83519a,#84519a,#80509b,#754a9e,#6944a1,#593ca4,#4934a8,#4233a6,#3732a2,#3833a2,#3a33a3,#3833a2,#4033a5,#4734a7,#4b35a7,#4f37a7,#543aa5,#563aa5,#553aa5,#5138a6,#5339a6,#5339a6,#4d36a7,#4133a6,#3933a3,#4634a7,#4f37a6,#563ba5,#6b45a0,#7c4e9c,#8f5495,#a1578d,#b45b84,#c96177,#de6967,#ee7358,#f57d4c,#f88246,#fa9140,#fca33a,#fdb43b,#febf3c,#fdc83f,#fcd041,#fcd041,#fccf41,#fbd643,#fbdb44,#fbda44,#fbdc44,#fadf46,#fcce41,#febd3c,#fdac3b,#fdac3b,#fdab3b,#fdab3b,#fda93b,#fda83b,#fdaa3b,#fca33a,#fb963e,#fa9240,#fa9140,#fa8e41,#fa8e41,#f47c4d,#ec715b,#e46c63,#d36471,#bb5d80,#b55b83,#ae5a87,#ae5a87,#ab5988,#a7598a,#a6588b,#aa5989,#ab5989,#aa5989,#ae5a87,#a95989,#a3588c,#9f578e,#9e578f,#9d578f,#995692,#965593,#945593,#935494)"></div>
<div style="top:48px;height:8.6px;background:linear-gradient(90deg,#885298,#865199,#855199,#80509b,#6d46a0,#5e3ea3,#573ba5,#5339a6,#5a3ca4,#5d3ea3,#563ba5,#4e37a7,#4c36a7,#4d36a7,#5138a6,#4c36a7,#4f37a6,#573ba5,#5d3ea3,#5e3ea3,#5d3ea4,#593ca4,#5439a6,#5339a6,#543aa5,#4f37a7,#4434a7,#3e33a4,#4334a6,#4434a6,#4233a6,#3d33a4,#3e33a4,#4033a5,#4233a6,#4734a8,#563aa5,#6642a2,#6f479f,#764b9e,#7f4f9b,#855199,#8b5397,#935494,#985692,#a4588c,#a95989,#b15b85,#bb5d80,#c86178,#d8666c,#db676a,#dd6869,#e86e5f,#ed725a,#ef7556,#f27950,#f47c4d,#f57d4c,#f68049,#f98644,#f98d42,#fa9240,#fb983d,#fca43a,#fdb23b,#fdc53e,#fbd944,#f9e348,#f7e84c,#fadf45,#fdc63e,#fdb53b,#fca73a,#fb973e,#f88445,#f27852,#ed725a,#dc6869,#d06373,#c96177,#c45f7b,#c15e7c,#c45f7a,#c15f7c,#c15f7c,#c15f7c,#c15e7d,#bf5e7d,#c05e7d,#be5e7e,#bc5d7f,#bd5d7f,#bf5e7e,#c45f7a,#c25f7c,#b55b83,#ab5988,#a4588c,#a3588d,#a2588d,#9b5690,#985592,#955593,#955593,#8f5395,#875298,#885298,#83519a,#80509b,#83519a,#84519a,#80509b,#754a9e,#6a44a0,#5b3da4,#4b35a7,#4534a7,#3a33a3,#3b33a3,#3d33a4,#3b33a3,#4334a6,#4934a8,#4d36a7,#5038a6,#553aa5,#573ba5,#563ba5,#5239a6,#543aa5,#553aa5,#4f37a7,#4434a7,#3d33a4,#4834a8,#5138a6,#583ba5,#6c45a0,#7c4e9c,#8d5396,#9b5690,#a6588b,#b05a86,#b55b83,#c25f7c,#cd6275,#d26471,#dc686a,#e86e5f,#f07655,#f47c4d,#f78147,#f98844,#f98843,#f98943,#fa9140,#fb973e,#fb983d,#fb9c3c,#fca13a,#fc9d3b,#fb973d,#fa8e41,#fa9240,#fb953e,#fb983d,#fb993d,#fb9b3c,#fc9f3a,#fb9a3d,#fa8e41,#f98b43,#f98a43,#f98844,#f98943,#f27a50,#ea6f5e,#e16b65,#d16372,#ba5d81,#b45b84,#ae5a87,#ad5a87,#ab5989,#a7598b,#a6588b,#aa5989,#aa5989,#aa5989,#ae5a87,#a9598a,#a3588d,#9f578f,#9e578f,#9d578f,#985692,#955593,#945593,#935494)"></div>
<div style="top:56px;height:8.6px;background:linear-gradient(90deg,#895297,#885298,#875298,#83519a,#754a9e,#6a44a0,#6341a2,#603fa3,#6742a1,#6a44a0,#6341a2,#5b3da4,#5a3ca4,#5b3da4,#5f3fa3,#5b3da4,#5d3ea4,#6240a2,#6642a1,#6642a2,#6542a2,#6240a2,#5d3ea3,#5d3ea3,#5e3ea3,#5a3ca4,#5339a6,#5138a6,#553aa5,#553aa5,#5439a5,#5038a6,#5138a6,#5339a6,#553aa5,#593ca4,#6341a2,#6e469f,#754a9e,#794c9d,#80509b,#82519a,#84519a,#855199,#875298,#8c5396,#8b5397,#8d5396,#8f5495,#965593,#a0578e,#9f578f,#9d578f,#a8598a,#ac5a88,#ad5a88,#b15b85,#b25b85,#b05a86,#b25b85,#b75c83,#ba5d81,#bc5d80,#be5e7e,#c45f7a,#cd6275,#d9666c,#e36c63,#ea6f5e,#ed725a,#f27952,#f88246,#fa8f41,#fa933f,#f98c42,#f67e4a,#ee7358,#e86e5f,#d8666d,#cc6275,#c66079,#c15f7c,#bf5e7d,#c35f7b,#bf5e7d,#c05e7d,#c05e7d,#bf5e7d,#be5e7e,#bf5e7e,#bd5d7f,#bb5d80,#bc5d7f,#be5e7e,#c35f7b,#c15e7c,#b55b84,#ab5989,#a4588c,#a2588d,#a2588d,#9b5691,#975592,#945593,#955593,#8f5395,#875298,#885298,#83519a,#80509b,#845199,#855199,#81509b,#784c9d,#6f479f,#6240a2,#543aa5,#5138a6,#4a35a8,#4c36a7,#4d36a7,#4a35a8,#5138a6,#553aa5,#583ca5,#5b3da4,#5f3fa3,#613fa3,#603fa3,#5d3ea3,#603fa3,#6140a3,#5d3ea3,#563aa5,#5239a6,#5a3ca4,#603fa3,#6441a2,#73499e,#7c4e9c,#82509a,#845199,#84519a,#875298,#8b5297,#8e5396,#915494,#905495,#945593,#9b5691,#a2588d,#a6588b,#aa5989,#ae5a87,#aa5989,#a7598a,#ac5a88,#b05a86,#b05a86,#b25b85,#b55b83,#b55b84,#b45b84,#b25b85,#b85c82,#bd5e7f,#c35f7b,#c96177,#d26471,#de6968,#e36b64,#e26b64,#e96e5f,#ee7358,#f07654,#f37b4f,#ed7259,#e26b64,#db686a,#cb6275,#b75c83,#b25b85,#ac5a88,#ac5a88,#aa5989,#a6588b,#a5588b,#a95989,#a95989,#a95989,#ad5a88,#a8598a,#a2588d,#9e578f,#9d578f,#9d5790,#985692,#955593,#945593,#935494)"></div>
<div style="top:64px;height:8.6px;background:linear-gradient(90deg,#8d5396,#8d5396,#8d5396,#8a5297,#875298,#83519a,#7c4e9c,#794c9d,#7f509b,#83519a,#7c4e9c,#744a9e,#73499e,#744a9e,#784c9d,#744a9e,#72499e,#744a9e,#744a9e,#72489f,#71489f,#6f479f,#6a44a0,#6a44a0,#6c45a0,#6943a1,#6642a2,#6642a2,#6944a1,#6a44a1,#6843a1,#6441a2,#6541a2,#6642a2,#6843a1,#6b45a0,#70489f,#764b9d,#794c9d,#7b4d9c,#80509b,#82509a,#82519a,#83519a,#845199,#895298,#875298,#895298,#8a5297,#905495,#995691,#975592,#955593,#9e578f,#a2588d,#a2588d,#a6588b,#a6588b,#a4588c,#a5588c,#a9598a,#ac5a88,#ad5a88,#ae5a87,#b25b85,#b75c83,#bf5e7d,#c76079,#c86178,#c66079,#c35f7b,#c15f7c,#c56079,#cd6274,#d46470,#d16372,#c66079,#c5607a,#bb5d80,#b75c82,#b95c82,#b95c81,#bc5d7f,#c15f7c,#be5e7e,#be5e7e,#be5e7e,#be5e7e,#bd5d7f,#bd5e7f,#bb5d80,#ba5d81,#bb5d80,#bd5d7f,#c25f7c,#bf5e7d,#b35b84,#aa5989,#a3588d,#a1578d,#a1578e,#9b5691,#985592,#955593,#965592,#905495,#895298,#8a5297,#865199,#83519a,#875298,#895298,#855199,#80509b,#7d4e9c,#754a9e,#6d46a0,#6e46a0,#6b45a0,#6e469f,#6c46a0,#6743a1,#6b45a0,#6c45a0,#6d46a0,#6d46a0,#6e479f,#70479f,#70479f,#6d46a0,#70479f,#71489f,#6f479f,#6b45a0,#6843a1,#6d46a0,#6f479f,#71489f,#784c9d,#7b4d9c,#7e4f9b,#80509b,#7f509b,#82509a,#865199,#885298,#8a5297,#895298,#8b5397,#925494,#975592,#9a5691,#9e578f,#a1578d,#9d578f,#9a5691,#9e578f,#a2588d,#a1578d,#a2588d,#a5588b,#a4588c,#a3588d,#a0578e,#a4588c,#a7598b,#a95989,#ab5989,#ad5a87,#b35b85,#b05a86,#a9598a,#ab5989,#b05a86,#b35b85,#be5e7e,#bb5d80,#b85c82,#bb5d80,#b45b84,#a8598a,#a9598a,#a6588b,#a95989,#a95989,#a5588b,#a4588c,#a8598a,#a9598a,#a8598a,#ac5a88,#a7598a,#a1578d,#9d578f,#9d5790,#9c5690,#975592,#945593,#935494,#925494)"></div>
<div style="top:72px;height:8.6px;background:linear-gradient(90deg,#8d5396,#8d5396,#8d5396,#8a5297,#885298,#855199,#7e4f9b,#7b4d9c,#81509a,#855199,#7e4f9b,#764b9d,#754a9e,#764b9d,#7a4d9d,#764b9d,#744a9e,#764a9e,#754a9e,#73499e,#73499e,#70489f,#6c45a0,#6c45a0,#6d46a0,#6a44a0,#6843a1,#6843a1,#6b45a0,#6c45a0,#6a44a1,#6642a2,#6742a1,#6843a1,#6944a1,#6d46a0,#71489f,#774b9d,#794c9d,#7b4d9c,#80509b,#81509a,#82509a,#82509a,#83519a,#875298,#855199,#865199,#885298,#8d5396,#965593,#945593,#925494,#9a5691,#9d578f,#9e578f,#a1578d,#a1578d,#9f578f,#a0578e,#a4588c,#a6588b,#a7598a,#a9598a,#ac5a88,#b15b86,#b95c81,#c05e7d,#c15f7c,#bf5e7e,#bc5d80,#b95c81,#bb5d80,#bf5e7e,#c05e7d,#ba5d80,#b15b85,#b45b84,#ae5a87,#ae5a87,#b25b85,#b55b83,#ba5d81,#bf5e7d,#bc5d7f,#bd5d7f,#bc5d7f,#bc5d7f,#bb5d80,#bc5d80,#ba5d81,#b85c82,#ba5c81,#bb5d80,#c05e7d,#be5e7e,#b25b85,#a9598a,#a2588d,#a0578e,#a0578e,#9a5691,#975592,#955593,#965593,#905495,#895298,#8a5297,#865199,#84519a,#875298,#895298,#865199,#81509b,#7e4f9b,#774b9d,#70479f,#71489f,#6e479f,#71489f,#70479f,#6a44a0,#6d46a0,#6f479f,#6f479f,#6f479f,#70479f,#71489f,#71489f,#6e479f,#71489f,#73499e,#71489f,#6d46a0,#6a44a0,#6e469f,#71489f,#72489f,#784c9d,#7b4d9c,#7e4f9c,#7e4f9b,#7d4f9c,#80509b,#83519a,#855199,#875298,#855199,#875298,#8d5396,#925494,#955593,#985692,#9b5691,#975592,#945593,#985592,#9b5690,#9b5691,#9c5690,#9f578f,#9e578f,#9d578f,#9a5691,#9f578f,#a1578d,#a4588c,#a5588b,#a7598a,#ad5a88,#aa5989,#a2588d,#a4588c,#a7598a,#a95989,#b35b85,#af5a86,#ae5a87,#b45b84,#ae5a87,#a5588c,#a6588b,#a4588c,#a8598a,#a8598a,#a4588c,#a3588c,#a7598a,#a7598a,#a7598a,#ab5989,#a6588b,#a0578e,#9d5790,#9c5690,#9b5690,#975592,#945593,#935494,#915494)"></div>
<div style="top:80px;height:8.6px;background:linear-gradient(90deg,#8d5396,#8d5396,#8d5396,#8a5297,#885298,#855199,#7f4f9b,#7c4e9c,#82509a,#855199,#7f4f9b,#774b9d,#764b9d,#774b9d,#7b4d9c,#774b9d,#754a9e,#764b9d,#764b9e,#73499e,#73499e,#71489f,#6c45a0,#6c46a0,#6e469f,#6b45a0,#6943a1,#6944a1,#6c45a0,#6d46a0,#6b45a0,#6742a1,#6843a1,#6943a1,#6a44a0,#6d46a0,#72499e,#774b9d,#794c9d,#7b4d9c,#7f509b,#81509b,#81509b,#81509b,#82509a,#865199,#845199,#855199,#865199,#8b5397,#935494,#915494,#8f5495,#975592,#9a5691,#9a5691,#9e578f,#9d578f,#9b5691,#9c5690,#a0578e,#a2588d,#a3588d,#a4588c,#a7598a,#ac5a88,#b45b84,#ba5d80,#bb5d80,#b95c81,#b65c83,#b45b84,#b65c83,#bb5d80,#bb5d80,#b55b83,#ac5a88,#ae5a87,#aa5989,#ab5989,#af5a86,#b35b85,#b85c82,#bd5d7f,#ba5d81,#bb5d80,#bb5d80,#bb5d80,#ba5c81,#ba5d81,#b85c82,#b75c83,#b85c82,#ba5c81,#be5e7e,#bc5d7f,#b15b86,#a7598a,#a1578e,#9f578e,#9f578f,#995691,#965592,#945593,#955593,#905495,#885298,#8a5297,#865199,#83519a,#875298,#885298,#855199,#81509b,#7f4f9b,#784b9d,#70489f,#72489f,#70479f,#73499e,#71489f,#6b45a0,#6e469f,#6f479f,#70479f,#6f479f,#70489f,#72489f,#72489f,#6f479f,#72489f,#73499e,#71489f,#6d46a0,#6b45a0,#6f479f,#71489f,#72499e,#784c9d,#7b4d9c,#7d4e9c,#7d4e9c,#7c4e9c,#7e4f9c,#81509b,#82519a,#845199,#82509a,#845199,#895297,#8e5396,#915494,#945593,#965592,#935494,#905495,#935494,#975592,#965593,#975592,#9a5691,#995691,#995692,#965592,#9a5691,#9d5790,#9f578e,#a1578e,#a3588c,#a9598a,#a6588b,#9e578f,#a0578e,#a4588c,#a5588b,#af5a87,#ac5a88,#ab5988,#b15b85,#ac5a88,#a3588c,#a5588b,#a3588c,#a7598b,#a7598a,#a3588d,#a2588d,#a6588b,#a6588b,#a6588b,#aa5989,#a5588c,#9f578e,#9c5690,#9b5691,#9a5691,#965593,#935494,#925494,#915495)"></div>
<div style="top:88px;height:8.6px;background:linear-gradient(90deg,#8c5396,#8c5396,#8c5396,#895297,#885298,#855199,#7f4f9b,#7c4e9c,#82519a,#855199,#7f509b,#784c9d,#774b9d,#784c9d,#7b4d9c,#784c9d,#764b9e,#774b9d,#764b9d,#74499e,#73499e,#71489f,#6d46a0,#6d46a0,#6f479f,#6b45a0,#6944a1,#6a44a0,#6d46a0,#6d46a0,#6c45a0,#6843a1,#6944a1,#6944a1,#6b45a0,#6e469f,#73499e,#784b9d,#794c9d,#7b4d9c,#7f4f9b,#81509b,#80509b,#80509b,#81509b,#855199,#83519a,#83519a,#855199,#895297,#915495,#8f5395,#8d5396,#955593,#975592,#985592,#9a5691,#9a5691,#985692,#995692,#9c5690,#9e578f,#9f578e,#a1578e,#a3588c,#a7598a,#af5a86,#b65c83,#b75c83,#b45b84,#b15b85,#b05a86,#b25b85,#b65c83,#b85c82,#b15b86,#a7598a,#a9598a,#a7598b,#a7598a,#ac5a88,#b05a86,#b65c83,#bb5d80,#b85c82,#b85c82,#b85c82,#b95c82,#b85c82,#b85c82,#b65c83,#b55b83,#b65c83,#b85c82,#bd5d7f,#ba5d80,#af5a86,#a6588b,#9f578e,#9e578f,#9e578f,#985692,#955593,#935494,#945593,#8f5395,#885298,#895297,#855199,#83519a,#875298,#885298,#855199,#81509b,#7f4f9b,#784c9d,#71489f,#73499e,#70489f,#73499e,#71489f,#6c45a0,#6f479f,#70479f,#70489f,#70479f,#71489f,#72499e,#72499e,#6f479f,#72499e,#74499e,#72489f,#6e469f,#6c45a0,#70479f,#72489f,#73499e,#784c9d,#7a4d9c,#7c4e9c,#7c4e9c,#7b4d9c,#7c4e9c,#7f509b,#81509b,#82509a,#7f509b,#81509a,#875298,#8b5397,#8e5396,#905495,#935494,#905495,#8c5396,#905495,#935494,#925494,#935494,#965593,#965593,#955593,#935494,#975592,#995691,#9c5690,#9d578f,#9f578e,#a5588c,#a2588d,#9b5690,#9c5690,#a0578e,#a2588d,#ab5988,#a95989,#a9598a,#af5a87,#aa5989,#a1578d,#a4588c,#a2588d,#a5588b,#a6588b,#a2588d,#a1578e,#a5588c,#a5588c,#a5588c,#a8598a,#a4588c,#9e578f,#9b5691,#9a5691,#995691,#955593,#925494,#915494,#905495)"></div>
<div style="top:96px;height:8.6px;background:linear-gradient(90deg,#8c5396,#8c5397,#8c5397,#895298,#885298,#855199,#7f509b,#7d4e9c,#82519a,#855199,#80509b,#784c9d,#774b9d,#784c9d,#7c4e9c,#784c9d,#764b9d,#774b9d,#764b9d,#744a9e,#74499e,#71489f,#6d46a0,#6d46a0,#6f479f,#6c45a0,#6a44a0,#6b45a0,#6e46a0,#6e469f,#6c46a0,#6943a1,#6944a1,#6a44a0,#6c45a0,#6f479f,#73499e,#784c9d,#794c9d,#7b4d9c,#7f4f9b,#80509b,#80509b,#80509b,#80509b,#84519a,#82509a,#82509a,#83519a,#885298,#8f5395,#8d5396,#8b5397,#935494,#955593,#955593,#985692,#985592,#955593,#965593,#995691,#9b5690,#9c5690,#9d578f,#a0578e,#a4588c,#ab5989,#b15b85,#b25b85,#b05a86,#ad5a88,#ab5988,#ae5a87,#b35b85,#b45b84,#ac5a88,#a3588c,#a4588c,#a3588d,#a4588c,#a9598a,#ad5a88,#b35b85,#b85c82,#b55b83,#b65c83,#b65c83,#b65c83,#b65c83,#b65c83,#b45b84,#b35b84,#b45b84,#b65c83,#ba5d80,#b85c82,#ad5a87,#a4588c,#9e578f,#9d5790,#9c5690,#975592,#945593,#925494,#935494,#8e5396,#875298,#895298,#855199,#82519a,#865199,#875298,#845199,#80509b,#7e4f9b,#784c9d,#71489f,#73499e,#71489f,#744a9e,#72499e,#6d46a0,#6f479f,#70489f,#71489f,#70489f,#71489f,#72499e,#73499e,#70479f,#73499e,#744a9e,#72499e,#6f479f,#6d46a0,#70489f,#72499e,#73499e,#784c9d,#7a4d9c,#7b4e9c,#7b4d9c,#7a4d9d,#7b4d9c,#7e4f9c,#7f4f9b,#80509b,#7e4f9c,#7f509b,#845199,#895298,#8b5397,#8e5396,#905495,#8d5396,#8a5297,#8d5396,#905495,#8f5495,#905495,#935494,#935494,#925494,#905495,#945593,#965592,#995692,#9a5691,#9c5690,#a1578d,#9f578f,#985692,#995691,#9d578f,#9f578f,#a8598a,#a6588b,#a6588b,#ac5a88,#a8598a,#a0578e,#a2588d,#a0578e,#a4588c,#a4588c,#a0578e,#9f578e,#a3588c,#a3588c,#a3588c,#a7598b,#a2588d,#9d5790,#995691,#995691,#985692,#945593,#915494,#905495,#8f5495)"></div>
<div style="top:104px;height:8.6px;background:linear-gradient(90deg,#8b5397,#8b5297,#8b5397,#885298,#875298,#855199,#7f509b,#7d4e9c,#82519a,#855199,#80509b,#794c9d,#784b9d,#784c9d,#7c4e9c,#784c9d,#764b9d,#774b9d,#774b9d,#744a9e,#74499e,#72489f,#6e46a0,#6e46a0,#6f479f,#6c46a0,#6b45a0,#6b45a0,#6e479f,#6f479f,#6d46a0,#6944a1,#6a44a0,#6b45a0,#6d46a0,#6f479f,#73499e,#784c9d,#794c9d,#7a4d9c,#7e4f9b,#80509b,#7f509b,#7f509b,#80509b,#83519a,#81509b,#81509b,#82509a,#865199,#8d5396,#8b5397,#895297,#915495,#935494,#935494,#965593,#955593,#935494,#945593,#975592,#985692,#995691,#9a5691,#9c5690,#a0578e,#a7598a,#ad5a87,#ae5a87,#ac5a88,#a9598a,#a8598a,#aa5989,#af5a87,#b05a86,#a7598a,#a0578e,#a0578e,#9f578e,#a0578e,#a5588b,#aa5989,#b05a86,#b55b84,#b25b85,#b35b84,#b45b84,#b45b84,#b35b84,#b45b84,#b25b85,#b15b86,#b25b85,#b45b84,#b85c82,#b65c83,#ab5988,#a3588d,#9c5690,#9b5690,#9b5691,#965592,#935494,#915494,#925494,#8d5396,#875298,#885298,#845199,#82509a,#855199,#875298,#84519a,#80509b,#7e4f9b,#784c9d,#72489f,#73499e,#72489f,#754a9e,#73499e,#6d46a0,#70479f,#71489f,#71489f,#71489f,#71489f,#73499e,#73499e,#70479f,#73499e,#744a9e,#72499e,#6f479f,#6d46a0,#71489f,#73499e,#73499e,#784c9d,#7a4d9d,#7b4d9c,#7b4d9c,#794c9d,#7a4d9c,#7d4e9c,#7e4f9c,#7f4f9b,#7c4e9c,#7e4f9c,#83519a,#875298,#895298,#8b5397,#8e5396,#8a5297,#875298,#8a5297,#8d5396,#8d5396,#8e5396,#905495,#905495,#905495,#8e5396,#925494,#945593,#965592,#975592,#995691,#9e578f,#9c5690,#965593,#975592,#9a5691,#9c5690,#a5588b,#a4588c,#a4588c,#aa5989,#a6588b,#9e578f,#a0578e,#9e578f,#a2588d,#a3588d,#9f578f,#9e578f,#a1578d,#a2588d,#a2588d,#a5588c,#a1578e,#9b5690,#985692,#985592,#975592,#935494,#915495,#905495,#8e5395)"></div>
<div style="top:112px;height:8.6px;background:linear-gradient(90deg,#8a5297,#8a5297,#8a5297,#875298,#875298,#855199,#7f509b,#7d4e9c,#82509a,#855199,#80509b,#794c9d,#784c9d,#794c9d,#7c4e9c,#794c9d,#774b9d,#774b9d,#774b9d,#744a9e,#744a9e,#72489f,#6e46a0,#6e469f,#70479f,#6d46a0,#6b45a0,#6c45a0,#6f479f,#6f479f,#6e46a0,#6a44a1,#6b45a0,#6b45a0,#6d46a0,#70479f,#73499e,#784b9d,#794c9d,#7a4d9c,#7e4f9c,#7f4f9b,#7f4f9b,#7e4f9b,#7f4f9b,#82509a,#80509b,#80509b,#81509b,#855199,#8c5396,#8a5297,#885298,#8f5395,#915494,#915494,#945593,#935494,#915494,#925494,#955593,#965592,#975592,#985592,#9a5691,#9d578f,#a4588c,#aa5989,#aa5989,#a8598a,#a5588b,#a4588c,#a7598b,#ab5988,#ac5a88,#a3588d,#9d5790,#9c5690,#9c5690,#9c5690,#a1578d,#a6588b,#ac5a88,#b25b85,#b05a86,#b15b86,#b15b85,#b15b85,#b15b86,#b25b85,#b05a86,#af5a87,#b05a86,#b15b85,#b65c83,#b45b84,#a95989,#a1578e,#9b5691,#9a5691,#995691,#955593,#925494,#905495,#915494,#8c5396,#865199,#875298,#84519a,#81509a,#855199,#865199,#83519a,#80509b,#7e4f9c,#784c9d,#72499e,#74499e,#72499e,#754a9e,#73499e,#6e46a0,#70489f,#71489f,#71489f,#71489f,#72489f,#73499e,#73499e,#70489f,#73499e,#744a9e,#73499e,#6f479f,#6e46a0,#71489f,#73499e,#73499e,#784c9d,#794c9d,#7a4d9c,#7a4d9d,#784c9d,#794c9d,#7c4e9c,#7c4e9c,#7d4f9c,#7b4d9c,#7c4e9c,#81509b,#855199,#875298,#8a5297,#8c5397,#895298,#865199,#885298,#8b5397,#8b5297,#8c5397,#8e5396,#8e5396,#8e5396,#8c5396,#905495,#925494,#945593,#955593,#975592,#9b5690,#995691,#935494,#955593,#985692,#9a5691,#a2588d,#a1578d,#a1578d,#a7598a,#a3588c,#9c5690,#9e578f,#9d5790,#a0578e,#a1578e,#9d578f,#9c5690,#a0578e,#a0578e,#a0578e,#a3588c,#9f578f,#9a5691,#975592,#965592,#965593,#925494,#905495,#8f5395,#8e5396)"></div>
<div style="top:120px;height:8.6px;background:linear-gradient(90deg,#895297,#895297,#895297,#875298,#865199,#845199,#7f4f9b,#7d4e9c,#82509a,#855199,#7f509b,#794c9d,#784c9d,#794c9d,#7c4e9c,#794c9d,#774b9d,#774b9d,#774b9d,#744a9e,#744a9e,#72499e,#6e469f,#6e479f,#70479f,#6d46a0,#6c45a0,#6d46a0,#6f479f,#70479f,#6e46a0,#6a44a0,#6b45a0,#6c45a0,#6d46a0,#70479f,#73499e,#774b9d,#784c9d,#7a4d9d,#7d4f9c,#7f4f9b,#7e4f9b,#7e4f9c,#7e4f9b,#81509b,#7f509b,#7f509b,#80509b,#845199,#8a5297,#885298,#875298,#8d5396,#8f5495,#8f5495,#925494,#915494,#8f5495,#905495,#935494,#945593,#955593,#965593,#975592,#9a5691,#a1578e,#a6588b,#a7598b,#a4588c,#a2588d,#a1578e,#a3588c,#a8598a,#a9598a,#9e578f,#995691,#995691,#985692,#995691,#9d5790,#a2588d,#a8598a,#ae5a87,#ac5a88,#ae5a87,#ae5a87,#af5a87,#ae5a87,#af5a86,#ad5a87,#ac5a88,#ad5a87,#af5a87,#b35b84,#b15b85,#a7598b,#9f578f,#995691,#985692,#985692,#945593,#915494,#8f5395,#905495,#8b5397,#855199,#865199,#83519a,#81509b,#845199,#855199,#83519a,#7f509b,#7e4f9c,#784c9d,#72499e,#744a9e,#72499e,#754a9e,#73499e,#6e469f,#71489f,#71489f,#71489f,#71489f,#72489f,#73499e,#73499e,#70489f,#73499e,#744a9e,#73499e,#70479f,#6e469f,#71489f,#73499e,#73499e,#784c9d,#794c9d,#7a4d9d,#794c9d,#774b9d,#784c9d,#7b4d9c,#7b4e9c,#7c4e9c,#7a4d9d,#7b4d9c,#80509b,#83519a,#865199,#885298,#8a5297,#875298,#84519a,#865199,#895297,#895298,#8a5297,#8c5396,#8c5396,#8c5396,#8a5297,#8e5396,#905495,#925494,#935494,#955593,#995691,#975592,#915494,#935494,#965593,#975592,#a0578e,#9e578f,#9f578f,#a5588c,#a1578d,#9a5691,#9d5790,#9b5690,#9e578f,#9f578f,#9b5690,#9b5691,#9e578f,#9e578f,#9e578f,#a1578d,#9d578f,#985692,#965593,#955593,#945593,#915494,#8f5395,#8e5396,#8d5396)"></div>
<div style="top:128px;height:8.6px;background:linear-gradient(90deg,#895298,#885298,#885298,#865199,#865199,#845199,#7f4f9b,#7c4e9c,#81509a,#845199,#7f4f9b,#794c9d,#784c9d,#794c9d,#7c4e9c,#794c9d,#774b9d,#774b9d,#774b9d,#744a9e,#744a9e,#72499e,#6e479f,#6f479f,#70489f,#6d46a0,#6c45a0,#6d46a0,#70479f,#70479f,#6e479f,#6b45a0,#6c45a0,#6c45a0,#6e46a0,#70489f,#74499e,#774b9d,#784c9d,#794c9d,#7d4e9c,#7e4f9c,#7e4f9c,#7d4f9c,#7e4f9c,#81509b,#7e4f9b,#7f4f9b,#7f509b,#83519a,#895297,#875298,#855199,#8c5396,#8e5396,#8e5396,#905495,#905495,#8e5396,#8e5396,#915495,#925494,#935494,#945593,#955593,#985692,#9e578f,#a3588c,#a3588c,#a1578d,#9e578f,#9d578f,#a0578e,#a4588c,#a5588b,#9a5691,#975592,#965592,#965593,#965593,#995691,#9d578f,#a4588c,#aa5989,#a9598a,#aa5989,#ab5988,#ac5a88,#ac5a88,#ac5a88,#ab5989,#aa5989,#ab5989,#ac5a88,#b05a86,#ae5a87,#a5588c,#9d5790,#985592,#975592,#965592,#925494,#905495,#8e5396,#8f5395,#8a5297,#845199,#865199,#82519a,#80509b,#83519a,#845199,#82509a,#7f4f9b,#7d4e9c,#784c9d,#72499e,#744a9e,#73499e,#754a9e,#73499e,#6e479f,#71489f,#72489f,#72489f,#71489f,#72489f,#73499e,#73499e,#71489f,#73499e,#744a9e,#73499e,#70479f,#6f479f,#71489f,#73499e,#73499e,#774b9d,#784c9d,#794c9d,#794c9d,#774b9d,#784c9d,#7a4d9d,#7b4d9c,#7b4d9c,#794c9d,#7a4d9c,#7f4f9b,#82509a,#845199,#865199,#885298,#855199,#82519a,#855199,#885298,#875298,#885298,#8a5297,#8a5297,#8a5297,#895298,#8c5396,#8e5396,#905495,#915495,#925494,#975592,#955593,#8f5495,#915495,#945593,#955593,#9d5790,#9c5690,#9c5690,#a2588d,#9f578f,#995692,#9b5691,#995691,#9d5790,#9d5790,#9a5691,#995691,#9c5690,#9c5690,#9c5690,#9f578e,#9b5690,#975592,#945593,#945593,#935494,#905495,#8d5396,#8c5396,#8c5397)"></div>
<div style="top:136px;height:8.6px;background:linear-gradient(90deg,#885298,#875298,#875298,#855199,#855199,#83519a,#7e4f9b,#7c4e9c,#81509b,#83519a,#7f4f9b,#794c9d,#784c9d,#794c9d,#7b4e9c,#794c9d,#774b9d,#774b9d,#764b9d,#744a9e,#744a9e,#72499e,#6f479f,#6f479f,#70489f,#6e46a0,#6d46a0,#6d46a0,#70479f,#70479f,#6f479f,#6b45a0,#6c45a0,#6d46a0,#6e469f,#71489f,#74499e,#774b9d,#784c9d,#794c9d,#7c4e9c,#7d4f9c,#7d4e9c,#7d4e9c,#7d4e9c,#80509b,#7e4f9c,#7e4f9c,#7e4f9b,#82509a,#885298,#865199,#845199,#8a5297,#8c5396,#8c5396,#8e5395,#8e5396,#8c5396,#8c5396,#8f5395,#905495,#915495,#925494,#935494,#965593,#9b5690,#a0578e,#a0578e,#9e578f,#9b5690,#9a5691,#9d5790,#a1578e,#a2588d,#975592,#945593,#945593,#935494,#935494,#955593,#995691,#9f578e,#a6588b,#a5588b,#a7598a,#a8598a,#a9598a,#a9598a,#aa5989,#a8598a,#a7598b,#a8598a,#a95989,#ad5a87,#ab5988,#a2588d,#9b5691,#965593,#955593,#955593,#915495,#8e5395,#8d5396,#8e5396,#895297,#83519a,#855199,#82509a,#80509b,#83519a,#84519a,#81509b,#7e4f9b,#7d4e9c,#784c9d,#72499e,#744a9e,#73499e,#754a9e,#73499e,#6f479f,#71489f,#72489f,#72489f,#71489f,#72489f,#73499e,#73499e,#71489f,#73499e,#744a9e,#73499e,#70479f,#6f479f,#71489f,#73499e,#73499e,#774b9d,#784c9d,#794c9d,#784c9d,#764b9d,#774b9d,#794c9d,#7a4d9d,#7a4d9c,#784c9d,#794c9d,#7e4f9c,#81509b,#83519a,#855199,#875298,#845199,#81509b,#84519a,#865199,#865199,#865199,#885298,#885298,#885298,#875298,#8a5297,#8c5396,#8e5396,#8f5395,#905495,#945593,#935494,#8d5396,#8f5395,#915494,#935494,#9a5691,#995691,#9a5691,#a0578e,#9c5690,#975592,#995692,#975592,#9a5691,#9b5691,#985692,#975592,#9a5691,#9a5691,#9a5691,#9d5790,#995691,#955593,#935494,#925494,#925494,#8e5395,#8c5396,#8b5397,#8a5297)"></div>
<div style="top:144px;height:8.6px;background:linear-gradient(90deg,#865199,#865199,#865199,#845199,#845199,#83519a,#7e4f9c,#7c4e9c,#80509b,#83519a,#7e4f9b,#784c9d,#784b9d,#784c9d,#7b4d9c,#784c9d,#774b9d,#774b9d,#764b9d,#744a9e,#744a9e,#72499e,#6f479f,#6f479f,#70489f,#6e469f,#6d46a0,#6e46a0,#70479f,#70489f,#6f479f,#6c45a0,#6c46a0,#6d46a0,#6e479f,#71489f,#74499e,#774b9d,#774b9d,#794c9d,#7c4e9c,#7d4e9c,#7c4e9c,#7c4e9c,#7c4e9c,#7f4f9b,#7d4e9c,#7d4e9c,#7e4f9c,#81509b,#875298,#855199,#83519a,#895298,#8b5297,#8b5297,#8d5396,#8c5396,#8a5297,#8b5297,#8d5396,#8e5395,#8f5395,#905495,#915494,#945593,#985692,#9d5790,#9d578f,#9b5691,#995692,#985592,#9a5691,#9d578f,#9e578f,#945593,#915494,#915494,#905495,#905495,#925494,#955593,#9a5691,#a1578d,#a1578d,#a3588c,#a5588c,#a6588b,#a6588b,#a7598b,#a5588b,#a4588c,#a5588c,#a6588b,#aa5989,#a8598a,#a0578e,#995692,#945593,#935494,#935494,#8f5495,#8d5396,#8b5397,#8c5396,#885298,#83519a,#84519a,#81509b,#7f4f9b,#82509a,#83519a,#80509b,#7d4f9c,#7c4e9c,#774b9d,#72499e,#744a9e,#73499e,#754a9e,#73499e,#6f479f,#71489f,#72489f,#72489f,#71489f,#72489f,#73499e,#73499e,#71489f,#73499e,#744a9e,#73499e,#70489f,#6f479f,#71489f,#73499e,#73499e,#774b9d,#774b9d,#784c9d,#774b9d,#764a9e,#774b9d,#794c9d,#794c9d,#7a4d9d,#774b9d,#794c9d,#7d4e9c,#80509b,#82509a,#84519a,#855199,#83519a,#80509b,#82519a,#855199,#845199,#855199,#875298,#875298,#875298,#865199,#895298,#8a5297,#8c5396,#8d5396,#8e5395,#925494,#915495,#8c5397,#8d5396,#905495,#915494,#985692,#975592,#985592,#9d578f,#9a5691,#955593,#975592,#965593,#985692,#995691,#965592,#965593,#985692,#985692,#985692,#9b5691,#985592,#945593,#915494,#915495,#905495,#8d5396,#8b5397,#8a5297,#895297)"></div>
<div style="top:152px;height:8.6px;background:linear-gradient(90deg,#855199,#855199,#855199,#83519a,#83519a,#82509a,#7d4f9c,#7b4d9c,#80509b,#82509a,#7e4f9c,#784c9d,#774b9d,#784c9d,#7b4d9c,#784c9d,#764b9d,#774b9d,#764b9d,#744a9e,#744a9e,#72499e,#6f479f,#6f479f,#71489f,#6e479f,#6d46a0,#6e46a0,#70489f,#70489f,#6f479f,#6c45a0,#6d46a0,#6d46a0,#6f479f,#71489f,#73499e,#774b9d,#774b9d,#784c9d,#7b4d9c,#7c4e9c,#7c4e9c,#7b4e9c,#7c4e9c,#7e4f9b,#7c4e9c,#7c4e9c,#7d4e9c,#80509b,#855199,#84519a,#82509a,#885298,#895297,#895297,#8b5397,#8b5297,#895298,#895297,#8b5397,#8d5396,#8d5396,#8e5396,#8f5395,#915494,#965593,#9a5691,#9a5691,#985692,#965593,#955593,#975592,#9a5691,#9a5691,#915495,#8f5395,#8e5395,#8e5396,#8e5396,#8f5395,#915495,#965593,#9c5690,#9d578f,#a0578e,#a1578d,#a2588d,#a3588d,#a3588c,#a2588d,#a1578d,#a2588d,#a3588c,#a7598b,#a5588b,#9d5790,#975592,#925494,#925494,#915494,#8e5396,#8c5397,#8a5297,#8b5297,#875298,#82509a,#83519a,#80509b,#7e4f9c,#81509b,#82509a,#80509b,#7d4e9c,#7c4e9c,#774b9d,#72499e,#744a9e,#73499e,#754a9e,#73499e,#6f479f,#71489f,#72489f,#72489f,#71489f,#72489f,#73499e,#73499e,#71489f,#73499e,#74499e,#73499e,#70489f,#6f479f,#71489f,#73499e,#73499e,#764b9d,#774b9d,#774b9d,#774b9d,#754a9e,#764b9d,#784c9d,#784c9d,#794c9d,#774b9d,#784c9d,#7c4e9c,#7f4f9b,#81509b,#82519a,#845199,#81509a,#7f4f9b,#81509b,#83519a,#83519a,#84519a,#855199,#855199,#855199,#845199,#875298,#895298,#8a5297,#8b5397,#8d5396,#905495,#8f5395,#8a5297,#8b5397,#8e5396,#8f5395,#965593,#955593,#965593,#9a5691,#985592,#935494,#955593,#945593,#965592,#975592,#945593,#945593,#965593,#965592,#965592,#985692,#965593,#925494,#905495,#8f5495,#8f5395,#8c5396,#8a5297,#895298,#885298)"></div>
<div style="top:160px;height:8.6px;background:linear-gradient(90deg,#845199,#845199,#845199,#82519a,#82519a,#81509b,#7d4e9c,#7b4d9c,#7f4f9b,#81509b,#7d4e9c,#784c9d,#774b9d,#784c9d,#7a4d9c,#784c9d,#764b9d,#774b9d,#764b9e,#744a9e,#74499e,#72499e,#6f479f,#6f479f,#71489f,#6e479f,#6e46a0,#6e469f,#70489f,#71489f,#6f479f,#6d46a0,#6d46a0,#6e46a0,#6f479f,#71489f,#73499e,#764b9d,#774b9d,#784c9d,#7b4d9c,#7b4e9c,#7b4d9c,#7b4d9c,#7b4d9c,#7d4f9c,#7b4e9c,#7b4e9c,#7c4e9c,#7f509b,#845199,#82519a,#81509b,#865199,#885298,#885298,#895297,#895298,#875298,#885298,#8a5297,#8b5397,#8b5397,#8c5396,#8d5396,#8f5495,#945593,#975592,#975592,#965593,#935494,#925494,#945593,#975592,#975592,#8e5396,#8c5396,#8c5396,#8b5397,#8b5397,#8c5397,#8d5396,#915494,#975592,#995692,#9c5690,#9d578f,#9f578f,#9f578e,#a0578e,#9f578f,#9e578f,#9f578f,#a0578e,#a3588c,#a2588d,#9a5691,#945593,#905495,#905495,#8f5495,#8c5396,#8a5297,#885298,#895297,#865199,#81509b,#82509a,#7f4f9b,#7d4e9c,#80509b,#81509b,#7f4f9b,#7c4e9c,#7b4d9c,#774b9d,#72499e,#74499e,#73499e,#754a9e,#73499e,#6f479f,#71489f,#72489f,#71489f,#71489f,#71489f,#72499e,#72499e,#71489f,#73499e,#74499e,#72499e,#70489f,#6f479f,#71489f,#72499e,#73499e,#764b9e,#764b9d,#774b9d,#764b9d,#754a9e,#754a9e,#774b9d,#784c9d,#784c9d,#764b9d,#774b9d,#7b4d9c,#7e4f9c,#7f509b,#81509b,#83519a,#80509b,#7e4f9c,#80509b,#82509a,#82509a,#82519a,#845199,#845199,#845199,#83519a,#865199,#875298,#895298,#895297,#8b5297,#8e5396,#8d5396,#885298,#895297,#8c5397,#8d5396,#935494,#935494,#935494,#985692,#965593,#915494,#935494,#925494,#945593,#955593,#925494,#925494,#945593,#945593,#945593,#965592,#945593,#905495,#8e5396,#8e5396,#8d5396,#8a5297,#885298,#885298,#875298)"></div>
<div style="top:168px;height:8.6px;background:linear-gradient(90deg,#83519a,#83519a,#83519a,#81509b,#81509a,#80509b,#7c4e9c,#7a4d9c,#7e4f9b,#80509b,#7c4e9c,#774b9d,#774b9d,#774b9d,#7a4d9d,#784b9d,#764b9d,#764b9d,#764a9e,#74499e,#74499e,#72499e,#6f479f,#70479f,#71489f,#6f479f,#6e46a0,#6e479f,#70489f,#71489f,#6f479f,#6d46a0,#6d46a0,#6e46a0,#6f479f,#71489f,#73499e,#764b9e,#764b9d,#774b9d,#7a4d9d,#7b4d9c,#7a4d9c,#7a4d9c,#7a4d9c,#7c4e9c,#7b4d9c,#7b4d9c,#7b4d9c,#7e4f9b,#83519a,#81509b,#80509b,#855199,#865199,#865199,#885298,#875298,#865199,#865199,#885298,#895297,#895297,#8a5297,#8b5397,#8d5396,#915494,#955593,#955593,#935494,#915495,#905495,#915494,#945593,#935494,#8b5397,#8a5297,#895297,#895298,#895298,#895298,#8a5297,#8d5396,#925494,#945593,#975592,#9a5691,#9b5690,#9c5690,#9d5790,#9c5690,#9b5691,#9c5690,#9d5790,#a0578e,#9f578f,#975592,#925494,#8e5395,#8e5396,#8e5396,#8a5297,#885298,#875298,#885298,#845199,#80509b,#81509b,#7e4f9b,#7c4e9c,#7f4f9b,#80509b,#7e4f9c,#7b4d9c,#7a4d9c,#764b9d,#72499e,#74499e,#72499e,#754a9e,#73499e,#6f479f,#71489f,#71489f,#71489f,#71489f,#71489f,#72499e,#72499e,#70489f,#72499e,#73499e,#72499e,#70489f,#6f479f,#71489f,#72499e,#72499e,#754a9e,#764b9e,#764b9d,#764b9e,#744a9e,#754a9e,#774b9d,#774b9d,#784b9d,#764a9e,#774b9d,#7a4d9d,#7d4e9c,#7e4f9b,#80509b,#81509a,#7f4f9b,#7d4e9c,#7f4f9b,#81509b,#80509b,#81509b,#83519a,#83519a,#83519a,#82509a,#845199,#855199,#875298,#885298,#895298,#8c5396,#8b5297,#875298,#875298,#8a5297,#8b5397,#915495,#905495,#915494,#955593,#935494,#8f5395,#915495,#905495,#925494,#935494,#905495,#905495,#925494,#925494,#925494,#945593,#915494,#8e5396,#8c5396,#8c5396,#8b5397,#895298,#875298,#865199,#865199)"></div>
<div style="top:155px;height:50.6px;background:linear-gradient(90deg,#82509a,#82509a,#82509a,#80509b,#80509b,#7f509b,#7b4d9c,#7a4d9d,#7d4f9c,#7f509b,#7c4e9c,#774b9d,#764b9d,#774b9d,#794c9d,#774b9d,#764b9e,#764b9d,#754a9e,#74499e,#74499e,#72499e,#70479f,#70479f,#71489f,#6f479f,#6e469f,#6f479f,#71489f,#71489f,#70479f,#6d46a0,#6e46a0,#6e469f,#6f479f,#71489f,#73499e,#764a9e,#764b9d,#774b9d,#794c9d,#7a4d9c,#7a4d9d,#794c9d,#7a4d9d,#7c4e9c,#7a4d9d,#7a4d9d,#7a4d9c,#7d4e9c,#82509a,#80509b,#7f4f9b,#83519a,#855199,#855199,#865199,#865199,#845199,#855199,#865199,#875298,#885298,#885298,#895297,#8b5397,#8f5395,#925494,#925494,#905495,#8e5395,#8d5396,#8e5395,#915495,#905495,#885298,#875298,#875298,#865199,#865199,#865199,#875298,#895298,#8d5396,#8f5495,#935494,#965593,#985592,#985692,#995691,#985692,#985592,#985692,#995691,#9c5690,#9b5690,#955593,#905495,#8c5396,#8c5396,#8c5397,#895298,#875298,#855199,#865199,#83519a,#7f4f9b,#7f509b,#7d4e9c,#7b4e9c,#7e4f9c,#7f4f9b,#7d4e9c,#7a4d9c,#794d9d,#764b9e,#72499e,#73499e,#72499e,#744a9e,#73499e,#6f479f,#71489f,#71489f,#71489f,#71489f,#71489f,#72489f,#72499e,#70489f,#72499e,#73499e,#72499e,#70479f,#6f479f,#71489f,#72489f,#72499e,#754a9e,#754a9e,#764b9e,#754a9e,#74499e,#744a9e,#764b9d,#764b9d,#774b9d,#754a9e,#764b9d,#794c9d,#7c4e9c,#7d4e9c,#7f4f9b,#80509b,#7e4f9c,#7c4e9c,#7e4f9c,#80509b,#7f509b,#80509b,#81509b,#81509b,#81509b,#80509b,#83519a,#84519a,#855199,#865199,#875298,#8a5297,#895298,#855199,#865199,#885298,#895298,#8e5395,#8e5396,#8f5395,#935494,#915495,#8d5396,#8e5395,#8e5396,#905495,#905495,#8e5396,#8e5396,#905495,#905495,#905495,#925494,#8f5495,#8c5396,#8a5297,#8a5297,#8a5297,#875298,#855199,#855199,#845199)"></div>
</div>
<div style="top:140.5px;height:27px;background:linear-gradient(90deg,#71489f,#71489f,#74499e,#74499e,#73499e,#71489f,#6e46a0,#6e469f,#744a9e,#774b9d,#72499e,#6d46a0,#6f479f,#72489f,#72489f,#6f479f,#6c46a0,#6b45a0,#6b45a0,#6b45a0,#6b45a0,#6c45a0,#6b45a0,#6944a1,#6a44a1,#6944a1,#6743a1,#6742a1,#6843a1,#6a44a0,#6b45a0,#6944a1,#6943a1,#6843a1,#6843a1,#6742a1,#6a44a1,#6e46a0,#6c45a0,#6d46a0,#6f479f,#6e479f,#6f479f,#6e469f,#6f479f,#6f479f,#6b45a0,#6a44a1,#6a44a0,#6c45a0,#71489f,#71489f,#6f479f,#72499e,#73499e,#744a9e,#72499e,#71489f,#70479f,#71489f,#744a9e,#784c9d,#794c9d,#774b9d,#774b9d,#794c9d,#7c4e9c,#7e4f9c,#7e4f9b,#7e4f9b,#7b4d9c,#754a9e,#72489f,#744a9e,#6f479f,#6743a1,#6542a2,#6441a2,#6240a2,#6240a2,#6340a2,#6340a2,#6642a2,#6c45a0,#6f479f,#71489f,#744a9e,#7a4d9d,#7f509b,#81509b,#81509b,#7e4f9b,#7e4f9b,#7f509b,#81509b,#7d4e9c,#774b9d,#764b9e,#764b9d,#754a9e,#754a9e,#72499e,#73499e,#754a9e,#7b4d9c,#794c9d,#72499e,#6e46a0,#6b45a0,#6b45a0,#6f479f,#6f479f,#6b45a0,#6b45a0,#6b45a0,#6a44a0,#6a44a0,#6843a1,#6843a1,#6b45a0,#6c45a0,#6a44a1,#6a44a0,#6b45a0,#6c45a0,#6c45a0,#6843a1,#6843a1,#6843a1,#6642a2,#6843a1,#6843a1,#6541a2,#6341a2,#6240a2,#6240a2,#6441a2,#6642a1,#6843a1,#6a44a0,#6a44a1,#6944a1,#6944a1,#6a44a0,#6944a1,#6642a2,#6642a2,#6642a1,#6a44a0,#6e479f,#71489f,#71489f,#72499e,#70479f,#6b45a0,#6a44a1,#6b45a0,#6e469f,#72489f,#72499e,#744a9e,#73499e,#71489f,#6f479f,#70479f,#6f479f,#72489f,#71489f,#754a9e,#7b4d9c,#7a4d9c,#784c9d,#784c9d,#784c9d,#774b9d,#7a4d9d,#7a4d9d,#7b4d9c,#7e4f9b,#7f4f9b,#7b4e9c,#7a4d9d,#794c9d,#7a4d9c,#7d4e9c,#7f4f9b,#7c4e9c,#7c4e9c,#7d4e9c,#7c4e9c,#7c4e9c,#7b4d9c,#794c9d,#794c9d,#754a9e,#74499e,#744a9e,#754a9e,#774b9d,#774b9d)"></div>
<div style="top:167px;height:34.5px;background:linear-gradient(90deg,#5d3ea3,#5c3da4,#5f3fa3,#5f3fa3,#5d3ea3,#613fa3,#603fa3,#5a3ca4,#593ca4,#5b3da4,#5d3ea3,#613fa3,#6441a2,#6140a3,#613fa3,#6441a2,#6743a1,#6642a1,#6642a1,#6542a2,#6542a2,#6240a2,#603fa3,#5c3ea4,#5e3ea3,#6140a3,#6140a3,#6341a2,#5f3fa3,#5e3ea3,#6140a3,#6140a3,#6642a2,#6843a1,#6441a2,#6441a2,#6642a2,#6843a1,#6a44a0,#6642a1,#6441a2,#6642a2,#6742a1,#6743a1,#6542a2,#6642a2,#6341a2,#5f3fa3,#5f3fa3,#5f3ea3,#6441a2,#6642a1,#6944a1,#6d46a0,#6e469f,#6d46a0,#6944a1,#6a44a0,#6c45a0,#6d46a0,#6e469f,#6e469f,#6a44a0,#6b45a0,#6e46a0,#6d46a0,#6e46a0,#70479f,#70479f,#6f479f,#71489f,#6e46a0,#6743a1,#6542a2,#6340a2,#593ca4,#5439a5,#5339a6,#5138a6,#5038a6,#4c36a7,#4d36a7,#543aa5,#563ba5,#5a3ca4,#6441a2,#6944a1,#6843a1,#6b45a0,#73499e,#764b9d,#72489f,#70479f,#72489f,#744a9e,#744a9e,#6f479f,#6e46a0,#6b45a0,#6b45a0,#6e46a0,#6f479f,#6e46a0,#6a44a1,#6642a1,#6441a2,#6743a1,#6944a1,#6743a1,#6541a2,#6441a2,#6441a2,#6340a2,#6441a2,#6542a2,#6140a3,#5d3ea3,#603fa3,#6340a2,#6743a1,#6341a2,#5d3ea3,#6240a2,#6542a2,#6341a2,#5e3ea3,#5b3da4,#5f3fa3,#6441a2,#6140a3,#5e3ea3,#5e3ea3,#5f3fa3,#5d3ea3,#593ca4,#593ca4,#5c3da4,#6140a3,#6441a2,#6340a2,#6341a2,#6642a1,#6642a1,#6642a2,#6441a2,#6240a2,#6340a2,#6240a2,#5e3ea3,#5d3ea4,#603fa3,#6441a2,#6743a1,#6542a2,#6642a2,#6341a2,#6642a1,#6944a1,#6140a3,#5c3da4,#6140a3,#6843a1,#6b45a0,#6c45a0,#6b45a0,#6843a1,#6944a1,#6a44a1,#6c45a0,#6f479f,#6d46a0,#6a44a1,#6944a1,#6b45a0,#6e46a0,#71489f,#70479f,#6b45a0,#6f479f,#6f479f,#6c46a0,#6f479f,#73499e,#774b9d,#744a9e,#6d46a0,#6e469f,#754a9e,#71489f,#70479f,#73499e,#744a9e,#71489f,#6a44a1,#6c45a0,#73499e,#744a9e,#6f479f,#6943a1,#6541a2)"></div>
</div>
<div class="p" style="top:1806.5px">
<div class="bl">
<div style="top:-5px;height:47px;background:linear-gradient(90deg,#e7c9bd,#e3bbac,#dead98,#da9e86,#d28568,#c24d2e,#b12c22,#971128,#9d1725,#9e1725,#b63423,#cd7050,#d69075,#deab97,#e2b7a6,#e4beb0,#e4bdae,#e2b8a7,#e7c7bb,#ebd4cb,#ecd8d0,#ecd7cf,#ecd8d0,#e7c7bb,#ebd6ce,#e8cbc0,#dda993,#c55838,#9e1725,#b63323,#d7947a,#e9cdc2,#e8cabe,#e7c8bd,#e8cbc0,#e9cec4,#ebd6ce,#ecd8cf,#eeddd6,#f0e3de,#ecd7ce,#ebd4cb,#e5c3b6,#deac97,#d8997f,#dfad99,#e7c8bc,#ecd6ce,#f0e2dd,#eeded8,#eddbd3,#eedcd5,#ecd9d1,#e7c9be,#e7c9be,#e3baaa,#e7c7bb,#e8cabe,#eddbd4,#eddcd5,#ebd6ce,#ead1c7,#e9cdc3,#ead3ca,#eedfd9,#eedcd5,#ecd8d0,#ecd8d0,#f0e3de,#efe0da,#eedfd8,#eeded8,#ead3c9,#eddbd4,#e8cbbf,#e8ccc1,#e9cec4,#e9cec4,#f0e2dd,#eddad2,#eeded8,#f1e5e0,#ecd8d0,#eddbd4,#ebd6ce,#e5c1b4,#e5c2b5,#e8cabf,#ebd6cd,#eddbd4,#e9cec4,#e4beb0,#dfad99,#dba189,#dba38c,#da9f86,#da9e86,#da9f87,#e0b2a0,#e4bfb1,#e7c7bb,#ebd4cb,#eeddd6,#eddbd3,#ebd6ce,#eddad3,#ecd8d0,#eedfd8,#efdfd9,#eeddd6,#f2e9e6,#ecd9d1,#ebd5cd,#eddbd4,#eeddd6,#eeddd6,#eedcd5,#ead2c9,#ecd8d0,#efe0da,#efe1dc,#eeddd7,#ecd8d0,#ebd5cc,#eddcd5,#efe0db,#ecd8cf,#e6c6ba,#e5c1b3,#dfad99,#d69075,#d79379,#da9f87,#e0b19f,#e3b9aa,#ead1c7,#ebd6cd,#eeded7,#efe0da,#ead0c7,#ead2c8,#e9cfc5,#ead0c6,#ecd7ce,#efe1db,#f0e3dd,#ecd8d0,#f1e5e0,#eeded7,#efe0da,#eddbd4,#eeded7,#f1e5e0,#eddad3,#f1e5e1,#ecd7cf,#e7c6ba,#e6c5b8,#eeded8,#f1e6e2,#efe0da,#ebd5cc,#e9d0c6,#e6c4b7,#e9cdc3,#eddad3,#eedcd5,#ebd6cd,#ebd4cb,#eeded7,#efdfd9,#f1e5e0,#ebd5cd,#ecd8d0,#e7c9bd,#ebd4cc,#efdfd9,#f0e4df,#ecd7cf,#eeddd6,#eddcd5,#f2e8e5,#f2e9e6,#ebd5cd,#e8cbc0,#e7c9be,#ead2c8,#f2e9e5,#ebd4cb,#eeded8,#f2e7e4,#efe2dc,#f3ebe9,#ecd7cf,#e8cabf,#e2b6a6,#d38669,#d38669,#dfaf9c,#e3bcad,#e9cec4,#eddbd4,#eddbd3,#edd9d2,#ecd7cf,#ecd8d0,#efe0da,#efe0db,#eddcd5,#efe1db,#e8cdc2,#eddbd4,#e8ccc2,#e9cec4,#e8cbc0,#e9d0c6,#ecd7ce,#ecd9d1,#eeddd7,#eeded8,#efdfd9,#f0e3dd,#f0e3de,#edd9d2,#efdfd9,#ebd3ca,#eddcd5,#e9cfc5,#f3eae8,#efe1db,#ebd4cb,#efe1dc,#f1e6e2,#f2e9e5,#eddad2,#ecd8d0,#eeded8,#ebd4cb,#ecd7cf,#eedfd9,#ebd4cb,#eeddd6,#f1e7e3,#f1e6e2,#ecd8d0,#e7c8bc,#e1b5a4,#e5c0b2,#e8cbc0,#e7c7bc,#ead3c9,#ecd9d2,#f0e3dd,#f0e2dd,#edd9d2,#ecd7cf,#e9cfc4,#e7c7bb,#eddbd3,#eedfd9,#ecd7cf,#ecd8d0,#eddcd5,#efe0da,#ecd9d1,#ebd6cd,#ebd4cb,#eddbd4,#ead3c9,#eddbd4,#eeddd6,#f3eae7,#eddcd5,#eedcd5,#ebd6ce,#e8cabf,#e5c2b5,#dfae9b,#e3baab,#e7c6ba,#f0e2dd,#eddbd4,#f0e2dd,#ecd8d0,#ebd5cc,#efdfd9,#f0e4df,#ebd6ce,#e3bcad,#e3bbac,#ecd9d2,#e9cfc5,#ecd9d2,#f0e3df,#eeded8,#eddbd3,#ebd3ca,#f0e2dd,#eeded8,#ebd4cb,#eedfd9,#ecd8d0,#ecd9d1,#ebd4cb,#ebd4cb,#ecd9d1,#eedcd6,#ead1c8,#e1b4a2,#dfaf9c,#e3baab,#e5c2b5,#e9cec3,#e3bbac,#e0b19f,#e1b6a5,#e3baab,#ebd6ce,#efe1db,#ecd7ce,#e9cfc4,#e9cdc3,#eddcd5,#f1e6e2,#eddad3,#ecd9d1,#f0e2dd,#f2eae6,#f0e3de,#eeded8,#eeddd6,#f1e4e0,#f1e6e2,#eeddd7,#ebd3ca,#f2e9e6,#efe1dc,#efdfd9,#eeded7,#ead2c9,#ebd6ce,#eddcd5,#e8cabf,#e3baaa,#d79378,#cc6e4e,#ca6848,#cf7759,#d58d72,#e0b09d,#e5c3b6,#e9cfc6,#e9cfc4,#eedfd9,#efe0da,#ead2c8,#e9d0c6,#e6c6ba,#e6c3b6,#e7c6ba,#dda892,#d3886c,#d3876a,#dfad99,#e8ccc2,#ead1c7,#e9cfc5,#eddbd4,#ecd7ce,#e4bfb1,#d8977d,#d28568,#d8987e,#e2b9a9,#ebd4cb,#eeddd6,#eedfd9,#ecd8d1,#ebd3ca,#eeddd6,#efe1db,#f1e6e2,#eddad3,#eedcd5,#efdfd9,#f0e3de,#e9d0c6,#e8cbc0,#ecd8d0,#f1e7e3,#eeddd6,#efe0da,#ecd7cf,#ead1c8,#e9cdc3,#e9cec3,#e8ccc1,#eddad2,#ebd5cc,#ead3ca,#ead1c8,#ecd9d1,#f0e2dc,#f0e2dd,#ead2c9,#e7c6ba,#e6c5b9,#ead2c9,#e8cabf,#ebd6cd,#ead3ca,#efe0da,#f1e6e2,#eddbd4,#e9cfc4,#efe0da,#e7c8bd,#e5c1b4,#ebd4cb,#ebd3ca,#ecd6ce,#ebd5cd,#f0e2dd,#f0e3df,#eeddd6,#ead0c6,#ecd8d0,#e6c6ba,#dfb09c,#cd7151,#be452a,#c65a3a,#d69176,#e6c4b7,#ecd9d1,#eddbd4,#f0e2dd,#efe1db,#e8cabe,#efe0da,#ecd8d0,#ecd9d1,#ecd7ce,#ebd6cd,#e5c0b2,#e6c4b7,#e4bdaf,#da9e85,#d17f61,#d28164,#cb6b4b,#c96444,#cd7050,#d3886c,#deac98,#e4bdaf,#e6c4b7,#eddbd4,#ebd6ce,#ebd5cc,#ead2c9,#e9cfc6,#ead1c8,#ebd5cc,#ecd8d0,#eedfd8,#eeded8,#e4c0b2,#dfad99,#d69177,#d28265,#d3886b,#d3876b,#dba38b,#e3bbac,#e4bdaf,#e6c6b9,#ead0c7,#f1e6e2,#f2eae6,#eddbd4,#ecd8d0,#f0e3dd,#eddbd4,#f0e2dd,#ecd7cf,#ecd9d1,#f1e5e0,#efdfd9,#ead2c8,#e8cabe,#ead0c6,#eddad2,#ecd8d0,#ebd6ce,#e8cabf,#ead2c8,#ead1c8,#e4beb0,#d8977d,#da9e86,#e0b3a1,#ead3c9,#eeddd6,#efe1db,#f1e6e2,#ecd7cf,#ebd6ce,#eddbd4,#e8c9be,#e5c0b2,#e2b8a8,#d69076,#bb3d27,#c24e2e,#d7947a,#ebd4cc,#efe0db,#eeded8,#eddcd5,#ecd8d0,#eddbd4,#ead1c8,#ead1c8,#ebd4ca,#e9cdc2,#e9cdc2,#e7c7bb,#e3baab,#ebd4cb,#ead1c8,#f1e5e1,#efe0da,#ecd8d0,#ead3ca,#eeded7,#eeddd7,#ecd9d2,#eddcd5,#efe1db,#eeded8,#ebd6cd,#ecd7cf,#ecd8d1,#eddbd4,#eddbd4,#e5c2b5,#dca58e,#ca6848,#c24f2f,#cd7151,#d69278,#e5c0b3,#e6c3b7,#e6c4b7,#ead2c8,#ead1c7,#efe0db,#efdfd9,#eddad2,#ebd6cd,#ecd7cf,#e8ccc1,#ebd4cb,#ecd7cf,#e3baab,#d99d84,#d79479,#d8987e,#dda892,#e4bdae,#ead0c6,#ebd5cc,#e7c6ba,#ead3ca,#eeded7,#eddcd4,#e9d0c6,#eeded7,#ead0c6,#e7c9be,#eddbd4,#eddbd4,#efe1dc,#f0e2dc,#efe0da,#efe0da,#edd9d2,#efe0da,#e9cec3,#ecd9d1,#efe0da,#efe0da,#eedfd8,#ecd8d0,#efe0da,#ead2c9,#eddad2,#e7c8bd,#f1e6e2,#f2e7e3,#eddad3,#ecd7cf,#ead2c9,#ead2c9,#eeded7,#f1e6e2,#f2e9e6,#f1e5e0,#eddad3,#eddad3,#f1e7e3,#f1e7e3,#f1e6e1,#eeded8,#e6c5b9,#e0b19f,#da9d85,#d68f74,#dca68f,#e5c1b4,#ead3ca,#eddbd4,#eddad2,#eddbd4,#ebd4cc,#ebd3ca,#eddbd4,#ebd4cb,#e3bbab,#d48a6e,#bd4229,#ae2821,#c45535,#d79379,#e6c6b9,#ead0c6,#e5c2b5,#e5c1b4,#e9cec4,#e3baab,#e4bfb1,#dca48d,#d99c84,#dfae9a,#ead3ca,#e9cec4,#f0e2dd,#efdfd9,#eddbd3,#f0e3df,#ecd7cf,#e9d0c6,#ecd7cf,#f1e5e0,#eedfd9,#ead2c9,#ecd6ce,#e6c3b7,#ebd4cb,#eeddd6,#ebd5cc,#e6c5b9,#e6c5b9,#e6c4b7,#e6c5b9,#e4beb0,#e1b3a1,#e1b3a1,#dfad99,#e0b09d,#deab96,#dda994,#dfae9a,#e1b4a3,#dfad99,#e3baab,#e1b6a5,#e1b6a5,#e4bfb1,#e0b19e,#dfad9a,#e2b6a5,#e4bfb1,#e6c6ba,#e9cdc3,#ead3ca,#e8ccc1,#ead2c8,#e9d0c6,#e7c9bd,#e6c6ba,#ead3c9,#e7c9be,#ead1c7,#ebd4cb,#ead2c9,#ead3ca,#efe0da,#ecd9d2,#eddad2,#eedcd6,#f2e7e4,#eddcd5,#ead1c8,#eddad2,#eddbd4,#eddad3,#eddbd4,#f0e3de,#f2e9e6,#f2e7e3,#eedcd6,#ecd7cf,#f1e5e1,#ebd4cc,#f1e6e2,#ecd9d1,#f1e5e0,#f1e6e2,#efe0da,#ead2c9,#e5c0b2,#e9cfc5,#e8ccc2,#ead1c7,#e9cdc3,#f0e4df,#f0e2dd,#eeddd7,#f0e2dc,#eedcd5,#efe1dc,#efe0db,#eeddd7,#ecd8d0,#f0e2dd,#eddcd5,#f2e8e5,#efe1db,#ebd3ca,#dfaf9b,#d8977d,#daa088,#e4beb0,#ead2c9,#ebd6cd,#ecd8d0,#f1e4e0,#efdfd9,#ecd7cf,#ead2c8,#e8cbc0,#ead1c7,#ecd9d1,#f0e4e0,#ecd7cf,#ebd4cb,#ead2c9,#ead0c6,#e4bfb2,#dfaf9b,#e0b19e,#ead1c8,#edd9d2,#ecd9d1,#eddcd4,#eddcd5,#efe0da,#f1e5e0,#f2e7e4,#f2e8e4,#f1e6e2,#f1e5e1,#efe1db,#ecd8d0,#f1e4e0,#eedcd5,#eeddd7,#eddad2,#eedcd5,#efe1dc,#efe1db,#efe1dc,#efe0db,#efe1dc,#eddcd5,#ead1c7,#e8cbc1,#f2e9e5,#eedfd8,#f0e2dd,#e8cabf,#ebd5cc,#efe0da,#ecd9d1,#f0e2dd,#efe0da,#ead3c9,#e7c8bc,#efe1db,#efe1db,#ead2c8,#dfaf9c,#e4bcae,#e8cbc0,#e9cfc5,#eddcd5,#efe1db,#f2e8e5,#efe1dc,#ecd8d0,#f0e2dd,#eddbd4,#eddad2,#eedfd8,#efe1db,#eedfd9,#f1e5e1,#f1e6e2,#efe1db,#f1e5e0,#f1e5e0,#f0e2dd,#efe1db,#eeded8,#f0e3de,#ead2c9,#ebd6cd,#ecd8d0,#ecd8d0,#ecd9d1,#efdfd9,#ecd9d1,#efe0db,#ecd9d1,#f1e5e0,#f2e9e5,#f2e9e6,#f0e3de,#e9d0c6,#eeded7,#e7c8bd,#e8cabf,#e8cbc0,#e5c0b2,#e6c4b8,#eddbd4,#f1e6e1,#efe1dc,#ecd7ce,#e8ccc2,#e9cdc3,#eddad3,#ebd4cb,#ebd4cb,#ebd5cc,#f1e6e2,#efdfd9,#e4c0b2,#e6c4b7,#e9cdc2,#ead3ca,#ead2c9,#eddcd5,#f1e5e1,#edd9d2,#eddad3,#e7c8bd,#ecd9d1,#efdfd9,#e9cfc5,#e9cec4,#ead3ca,#f0e3de,#eeded8,#ead0c6,#ecd8d0,#efe1db,#e8ccc1,#e7c8bc,#e7c9be,#ead3c9,#eedcd5,#f2e8e5,#efe0da,#ecd7ce,#e9d0c6,#eddbd4,#edd9d2,#ebd4cb,#ecd7cf,#e9cfc5,#eddcd5,#eeddd6,#efe1db,#eddbd3,#e9cfc5,#e7c9be,#e8ccc1,#dda994,#d3876b,#d07b5d,#ca6949,#b93a25,#b22e22,#961028,#a41d23,#b32e22,#c24e2e,#d18063,#dca690,#e1b3a1,#e8ccc2,#ead3c9,#ebd3ca,#ebd4cb,#ecd7ce,#e8cbc0,#e8cabe,#ecd8d0,#efe0da,#eddad3,#efdfd9,#ead3c9,#ebd4cb,#eeded8,#e7c9bd,#ead1c7,#ead2c9,#eedfd9,#e9cfc5,#dca68f,#cf7758,#b32f22,#710924,#650820,#8d0e28,#bd4429,#d69176,#e2b8a7,#ebd4cb,#ecd9d1,#ebd5cd,#eddbd4,#f0e3dd,#eddad2,#ead1c7,#ebd6cd,#ebd6cd,#ecd7ce,#eddbd4,#eddbd4,#e7c7bb,#da9e86,#da9d85,#e1b5a4,#e8cabf,#e7c7bb,#ecd8d0,#eddad3,#f0e3de,#ecd7cf,#e8cabe,#e7c6ba,#e8cbc1,#ead0c7,#ead2c9,#e9cdc2,#e6c6ba,#ead1c7,#e8cabf,#dfad99,#d4896d,#d69075)"></div>
<div style="top:42px;height:9px;background:linear-gradient(90deg,#e9d0c6,#e3baab,#d99c84,#c65c3c,#c0492c,#c96646,#dca68f,#e5c1b4,#e6c5b9,#e9cfc5,#eddbd4,#eddbd4,#eddad3,#e1b5a4,#c14c2d,#deab97,#ead0c6,#ead1c8,#eddbd3,#efdfd9,#eddbd4,#e8cabf,#dfad99,#e9cec3,#f0e3df,#eeddd6,#eddbd4,#e9cfc5,#e9cec3,#efdfd9,#eddad2,#ebd4cb,#efe1dc,#eddcd5,#f0e4df,#efe0db,#ecd7cf,#ead1c8,#ebd4cb,#f0e3de,#f0e2dd,#eddcd5,#ecd8d0,#e9cdc2,#eddcd4,#ead3c9,#e3baaa,#e1b4a3,#e0b09d,#e5c1b4,#ead1c8,#efe0da,#eddad3,#eeded7,#efe1db,#f1e7e3,#eddbd4,#efe0da,#eeded7,#eeded7,#f0e3dd,#eddbd3,#efe0da,#ecd9d1,#e7c7bb,#dda791,#e1b6a5,#e8cabf,#eedcd5,#efdfd9,#ecd7ce,#ecd8d0,#f0e4df,#efe0da,#efe1dc,#efdfd9,#f0e4df,#f0e3de,#e9cfc4,#f0e3dd,#efe0da,#ead2c8,#ecd7cf,#eeded8,#eddcd5,#f0e3de,#eddbd4,#ead3ca,#f0e3df,#eeded7,#f0e3de,#f0e4df,#ead1c8,#eeded8,#eddcd5,#f1e7e3,#f1e6e1,#e8ccc2,#dba088,#e5c0b3,#ecd7cf,#eeded7,#eddcd5,#f0e3dd,#efe1db,#ecd7cf,#ebd4cb,#ebd4cb,#eedcd5,#efe1db,#f0e2dd,#efe1db,#eddcd5,#eddbd4,#f2e8e4,#eedfd9,#f2e9e5,#eeddd7,#eeded7,#eeded8,#eddbd4,#f2e7e4,#ecd7ce,#e7c7bb,#ead1c7,#eddbd4,#f1e5e0,#eddcd5,#ead0c7,#efe1db,#eedcd5,#efe1dc,#eedcd6,#eddcd4,#eedcd5,#f1e6e2,#eedfd8,#ebd6ce,#e6c3b6,#e8cbc0,#f0e2dc,#efdfd9,#efdfd9,#efe0da,#e7c7bb,#ecd9d1,#f0e2dd,#efe0da,#efdfd9,#eddcd5,#eedfd9,#ecd9d2,#eddad3,#eddad3,#e4bdae,#e8cabf,#e8cabf,#e5c1b4,#ebd4cb,#eeded7,#ebd5cc,#f1e5e1,#eeded7,#f2e8e5,#f0e3de,#f0e4e0,#f0e3de,#f1e4e0,#f0e2dd,#eddad2,#eedfd8,#e8c9be,#d8967d,#d79379,#e2b8a8,#ebd4cb,#eeded7,#eddad2,#ead1c7,#e9cfc4,#dda791,#e1b5a4,#ebd6cd,#eddcd5,#e8ccc2,#dba18a,#e4bfb2,#eedfd8,#eeddd6,#eedfd9,#f1e6e2,#efe0da,#f1e5e0,#ebd4cb,#f1e6e2,#f0e2dd,#ecd7ce,#ebd4cb,#eedcd6,#edd9d2,#eedcd5,#f1e4e0,#ead1c7,#ebd6cd,#ecd8d0,#efe1dc,#eeded8,#efdfd9,#e8cabf,#ecd9d1,#eddad3,#f1e5e0,#ecd7cf,#e9cfc5,#d8977d,#d18063,#e7c9bd,#eedfd9,#f0e2dd,#efe1dc,#eddcd5,#eddbd4,#e9cdc3,#e0b3a0,#da9d84,#d3886b,#dba088,#e7c7bb,#eeded7,#ecd9d2,#ebd5cc,#eddad3,#efe1db,#e8cbc0,#dda993,#da9f87,#e1b3a1,#e7c7bb,#ebd6cd,#f3eae7,#eddbd3,#eedfd9,#eedcd5,#f1e5e1,#ecd7cf,#ecd7ce,#eedcd6,#e9cfc5,#ecd7cf,#deab96,#e4bfb1,#efe1db,#f1e7e3,#ecd9d1,#ead1c7,#e5c1b4,#cb6c4c,#deac98,#f0e3de,#eedfd9,#eeddd7,#ebd6cd,#ebd4cb,#e9cec4,#ecd9d1,#f1e5e0,#eddad3,#efe1db,#eeddd6,#f0e2dd,#eddbd4,#eedcd5,#eddcd5,#dfae9a,#d07b5d,#deac98,#e9cdc2,#ecd7cf,#f0e3dd,#eeddd6,#ecd9d1,#ecd7cf,#e5c1b4,#dda994,#e3baab,#ebd5cd,#e9cfc5,#efe0da,#ecd8d0,#ebd5cd,#eedfd8,#f0e3de,#f0e3dd,#eeded8,#ebd5cc,#f0e2dd,#efe0da,#eedfd9,#eddbd3,#f1e7e3,#eeddd7,#ecd8d0,#f0e2dd,#f2e9e5,#eeded7,#f2e8e5,#f1e5e1,#e8cabf,#dfae9a,#e3bbac,#ecd8d0,#eedcd6,#ecd9d1,#eeded7,#e3bbac,#cb6a4a,#d58c70,#ead1c8,#e7c9be,#ead1c7,#e6c4b7,#e1b4a2,#ecd6ce,#f0e4df,#efe1db,#edd9d2,#efdfd9,#eeded8,#ebd6ce,#eddcd5,#ebd6cd,#e9cfc4,#e8ccc2,#e5c1b3,#e3bcae,#e2b9a9,#e4bfb1,#e5c0b3,#e5c3b6,#e6c6ba,#e4bfb1,#e8cbc0,#ecd6ce,#ebd5cc,#ebd4cb,#ead3ca,#ebd3ca,#ecd9d1,#eeddd6,#eeded7,#f0e4df,#eddcd5,#eedfd9,#efdfd9,#f2e7e4,#f0e4e0,#efe1db,#efe0da,#f0e2dc,#f1e5e1,#ead0c7,#ebd5cc,#ebd5cd,#f0e4df,#f0e3dd,#efe2dc,#f0e2dd,#efe0db,#f1e5e0,#eeddd6,#e1b4a2,#e4beb0,#ecd8d1,#efe1db,#eeded8,#ebd4cc,#edd9d2,#efe0da,#ecd8d0,#ead0c6,#e4beb0,#eddbd4,#efdfd9,#efe2dc,#f2e8e4,#f2e8e5,#f1e5e1,#f0e2dd,#efe0da,#efe0da,#f0e4df,#f0e3de,#f0e2dc,#ebd3ca,#f1e5e1,#ecd7cf,#efdfda,#f0e2dd,#eddad3,#eddbd3,#eddbd4,#e6c4b7,#ebd5cd,#f0e3de,#f1e6e2,#efe1dc,#eeded8,#f0e3de,#f1e5e1,#f1e5e0,#f1e7e3,#f0e3de,#f0e4df,#ecd9d1,#eeddd6,#efdfd9,#efe1dc,#f0e4df,#f2eae7,#eddad3,#ebd5cd,#ead3ca,#e8ccc1,#f1e5e1,#eeded8,#ebd5cc,#eddbd4,#edd9d2,#f0e3de,#e8cbc0,#ecd8cf,#eeded8,#efe0da,#ead2c9,#efe1dc,#ebd6ce,#f0e3de,#ecd7cf,#f0e2dd,#e9d0c6,#ecd7ce,#f2e7e3,#eedcd6,#eeded7,#eddad3,#ebd4cb,#efdfd9,#eeded8,#ead0c6,#e3bbac,#d8987f,#cd7050,#bf482b,#c65c3c,#d7967c,#e4beb0,#ecd7cf,#ecd8d0,#ead2c8,#eddad3,#eeded7,#ecd9d1,#eedfd9,#ebd5cc,#efe1db,#e2b8a8,#c96646,#ad2620,#cc6e4e,#e5c2b4,#eedcd5,#eeddd6,#eeded7,#ecd9d1,#ecd9d1,#eeded8,#e0b29f,#e5c1b4,#e9cec4,#eedcd6,#eddbd4,#e9cec4,#ebd6cd,#ebd4cb,#ecd7cf,#e3bbac,#dca68f)"></div>
<div style="top:51px;height:12px;background:linear-gradient(90deg,#ead2c8,#e4beb0,#da9e86,#cb6c4c,#c75d3d,#ce7556,#dca58f,#e5c1b4,#e8cbc0,#ebd6ce,#efdfd9,#efe0da,#eeded7,#e2b8a8,#c75f3f,#dfad99,#ecd7ce,#edd9d2,#efe0da,#f0e2dd,#efe0db,#ebd5cc,#e6c5b9,#ebd3ca,#f1e5e1,#eedfd9,#efdfd9,#ecd8d1,#ebd5cd,#f0e3df,#efdfd9,#eedcd6,#f0e4e0,#efe0da,#f1e5e0,#f0e3dd,#eddbd4,#eddad2,#eddcd5,#f1e5e0,#f1e5e1,#efe0db,#efdfd9,#ecd9d1,#efe1dc,#eddcd5,#e9cdc3,#e8cabf,#e7c6ba,#ead0c7,#eddbd4,#f0e4df,#eeded8,#f0e3de,#f0e3df,#f2e8e4,#efe0da,#f1e4e0,#f0e3de,#f0e2dd,#f1e5e1,#efdfd9,#f0e4df,#efdfd9,#ebd5cc,#e5c2b5,#e8ccc1,#ecd7ce,#efe1dc,#f0e3df,#eeded8,#efdfd9,#f1e7e3,#f1e5e0,#f1e5e0,#f0e3df,#f1e7e3,#f1e5e1,#eddad3,#f0e4e0,#f0e4df,#eddad2,#eedfd9,#f0e4df,#f0e2dd,#f1e6e2,#efe1dc,#eddbd4,#f1e6e2,#f0e3de,#f1e7e3,#f1e6e2,#eddad2,#f0e2dd,#efe1dc,#f2e9e6,#f2e8e5,#ecd9d1,#e4bfb2,#e9cfc5,#eddbd4,#f0e2dc,#efe0db,#f1e6e2,#f0e4df,#eeddd7,#eddcd5,#eedcd5,#f0e2dd,#f0e4e0,#f1e5e0,#f0e3de,#eedfd9,#efe2dc,#f2e9e6,#f0e4e0,#f2eae7,#f0e3de,#f0e3de,#f0e2dd,#efdfd9,#f2e9e5,#efe0da,#ecd6ce,#eddbd4,#f0e2dc,#f2e7e4,#efe1db,#ecd7cf,#f1e5e1,#f0e2dd,#f1e5e0,#f0e3de,#efe0da,#f0e3de,#f2e8e5,#f0e2dd,#eeded8,#ebd3ca,#ecd8d0,#f1e6e1,#f0e3de,#f1e5e0,#f1e4e0,#ecd7ce,#efe0da,#f1e6e1,#f0e4e0,#f0e3de,#efe1db,#f0e4df,#eeddd7,#eeded8,#efdfda,#e8ccc1,#ecd7cf,#ebd4cb,#ead2c9,#eeded7,#f0e2dd,#eeded7,#f2e8e4,#f0e4df,#f2eae7,#f1e6e2,#f1e7e3,#f1e7e3,#f1e7e3,#f1e5e1,#efdfd9,#f0e4df,#ecd7ce,#e2b9a9,#e2b8a8,#e9cdc3,#eeddd6,#f0e2dc,#efdfd9,#eddbd4,#eddad2,#e5c2b5,#e8ccc1,#eeddd6,#efe1db,#ebd5cd,#e4beb1,#ead1c7,#f0e3de,#efe0da,#f0e4df,#f2e8e4,#f1e5e0,#f2e7e3,#eedfd8,#f2e8e5,#f1e6e2,#eddcd5,#eddbd4,#f0e3de,#efe1dc,#f0e2dd,#f2e7e3,#eddbd4,#eedcd6,#eeddd6,#f1e6e1,#efe0db,#efe1dc,#ebd4cb,#efe1db,#efe1db,#f1e6e2,#eedfd8,#ecd7ce,#e2b9aa,#dfae9a,#ebd6cd,#f0e3de,#f0e4df,#f1e5e1,#efe0da,#efe1dc,#eddad2,#e7c9bd,#e3bcae,#dfaf9c,#e4beb0,#ebd5cc,#f0e3de,#efdfd9,#eddbd4,#efe1dc,#f0e4df,#ecd7cf,#e6c4b7,#e3bcad,#e7c9bd,#ebd4cb,#eeddd6,#f3eae7,#eeded8,#f0e3de,#f0e3de,#f1e6e2,#eeded7,#efdfd9,#efe1dc,#ebd6cd,#eeded8,#e6c4b7,#e8ccc2,#f1e5e0,#f2e8e4,#eddcd5,#eddbd4,#e9cec4,#dba088,#e6c4b7,#f1e5e1,#f0e3de,#efe1dc,#eddbd3,#eeddd6,#ecd8d0,#efe0da,#f1e5e0,#eeded7,#f1e5e0,#efe1db,#f0e3de,#efe1dc,#efe0da,#efe0da,#e5c2b5,#dda892,#e6c4b7,#ecd8d0,#eedfd9,#f1e5e1,#efe1dc,#eeddd7,#eddbd4,#e9cfc5,#e5c3b6,#e9cdc3,#eddbd3,#ecd7cf,#f0e3de,#efdfd9,#eeded8,#f0e2dd,#f1e5e1,#f1e6e1,#f0e2dd,#eddcd4,#f1e5e0,#f0e4df,#efe1dc,#efe1db,#f2e7e4,#f0e2dd,#efdfd9,#f1e5e1,#f2eae6,#f0e3dd,#f2e9e6,#f1e7e3,#ecd7cf,#e7c6ba,#e8ccc2,#eddbd4,#efdfd9,#efdfd9,#f0e3de,#e8ccc1,#dba189,#e1b4a2,#eddbd4,#ead2c9,#eddcd5,#ebd4cb,#e8cabf,#eeddd6,#f1e6e2,#f1e5e0,#efdfd9,#f0e3de,#f0e3de,#eeded8,#f0e2dd,#eeded7,#eddbd4,#ecd8d0,#ead2c9,#e9cfc4,#e8ccc1,#ead0c7,#ead2c9,#ead3ca,#ebd5cd,#ead1c8,#ecd6ce,#efdfd9,#eeddd7,#eeddd7,#eeddd6,#eddcd5,#efe0da,#f0e3de,#f0e3dd,#f1e7e3,#f0e2dd,#f0e4df,#f0e4e0,#f2eae6,#f1e7e3,#f0e4e0,#f1e5e0,#f1e6e2,#f2e8e4,#edd9d2,#eeddd7,#eeddd7,#f1e5e1,#f1e6e2,#f1e5e0,#f1e6e2,#f1e5e0,#f2e7e3,#efe1db,#e7c9be,#ead1c7,#eeded7,#f0e3de,#f0e2dd,#eedcd6,#eedfd9,#f0e3dd,#eeded8,#eddcd5,#ead1c7,#efe1db,#f1e5e0,#f1e6e1,#f2eae6,#f3eae7,#f2e8e4,#f1e6e1,#f0e4e0,#f1e5e0,#f2e7e3,#f1e6e2,#f1e6e2,#eddbd4,#f2e8e4,#eedcd6,#f0e4e0,#f1e6e2,#eeddd7,#eeded8,#efdfd9,#ebd4cb,#efdfd9,#f1e7e3,#f2e8e5,#f1e5e0,#f0e4df,#f1e7e3,#f2e8e4,#f2e8e4,#f2e9e6,#f1e5e0,#f2e7e3,#eeded8,#f0e3df,#efe2dc,#f1e5e1,#f2e7e4,#f3eae7,#efe1dc,#eedfd8,#eeded7,#ecd7cf,#f2e8e4,#f0e4df,#efdfd9,#f0e2dd,#efdfd9,#f1e5e1,#ebd6cd,#efdfd9,#f0e4df,#f1e4e0,#edd9d2,#f1e6e1,#efe0da,#f1e7e3,#eedcd6,#f1e6e2,#ecd9d1,#eeded8,#f2e8e5,#efe1dc,#f0e4df,#efe1dc,#ecd9d1,#f0e2dd,#f0e2dc,#ecd7cf,#e8cbc0,#e2b8a8,#dca38c,#d69075,#d7967c,#e1b5a4,#e9cec3,#eeded7,#eeddd6,#ecd8d0,#efe0da,#efe1db,#efdfda,#efe1db,#eddbd3,#f0e4df,#e8c9be,#da9e85,#cf7a5c,#dba38b,#ead1c7,#efe1db,#eedfd9,#f0e2dd,#eeded7,#eddbd4,#efe2dc,#e7c8bd,#ead2c9,#ecd7cf,#efdfd9,#efdfd9,#ecd8d0,#eedcd5,#eeddd7,#eeded8,#e9cdc2,#e5c0b2)"></div>
<div style="top:63px;height:22px;background:linear-gradient(90deg,#ebd4cb,#e5c2b5,#dba28a,#d07c5e,#cd7253,#d28468,#dda892,#e5c3b6,#ead0c6,#eedcd5,#f0e2dc,#f0e4df,#efe1db,#e3bcad,#ce7454,#e0b19e,#eddcd5,#efe0da,#f1e5e0,#f0e4df,#f1e5e0,#eeded7,#ecd8d0,#ecd7cf,#f1e7e3,#efe0db,#f0e3de,#efe0da,#eddbd4,#f1e7e3,#f0e4df,#f0e3de,#f1e7e3,#f0e4df,#f1e5e1,#f0e4e0,#eedfd9,#efe0da,#f0e2dd,#f1e6e2,#f2e8e4,#f0e4df,#f1e5e1,#f0e3de,#f1e5e1,#f0e3de,#eedcd6,#eddcd4,#ecd8cf,#eedcd6,#f0e3de,#f1e7e3,#efe1dc,#f2e7e4,#f1e5e1,#f2e9e5,#f0e4e0,#f2e8e4,#f1e7e3,#f1e6e2,#f2e8e4,#f0e2dd,#f1e7e3,#f1e5e0,#efe0da,#ecd7cf,#eeddd6,#efe1db,#f1e5e1,#f1e7e3,#f0e4df,#f1e5e0,#f2e9e6,#f2e9e5,#f2e8e4,#f1e7e3,#f2e9e6,#f1e7e3,#f0e3de,#f1e6e1,#f2e8e4,#efe0da,#f1e5e0,#f2e8e4,#f1e7e3,#f2e8e4,#f1e6e2,#efe1dc,#f2e9e5,#f2e8e4,#f2e9e6,#f2e8e4,#efe1db,#f1e6e2,#f1e5e1,#f3ebe8,#f3eae7,#f0e3de,#ecd8d0,#eddbd4,#eeded8,#f1e5e0,#f0e4e0,#f2e8e5,#f1e7e3,#f0e2dd,#f0e2dd,#f0e3de,#f1e6e2,#f1e7e3,#f1e6e2,#f1e5e1,#efe1dc,#f1e7e3,#f3eae7,#f2e9e5,#f3ebe8,#f2e7e4,#f1e7e3,#f1e5e0,#f0e2dd,#f2eae6,#f1e6e2,#f0e3de,#f0e3de,#f1e7e3,#f2e9e6,#f1e5e0,#eeddd6,#f2e9e5,#f1e6e2,#f2e7e4,#f2e8e5,#f0e3df,#f2e8e4,#f3eae7,#f0e4e0,#f1e5e0,#efe0da,#f0e3dd,#f2e9e5,#f1e6e1,#f2e9e6,#f2e8e4,#f0e3de,#f1e5e0,#f2e8e4,#f2e8e4,#f1e5e1,#f1e5e0,#f2e8e4,#efe0db,#efe1dc,#f0e4df,#ecd8d0,#f0e2dd,#eedcd6,#efdfd9,#f1e5e1,#f1e5e1,#f1e5e1,#f3eae7,#f2e8e5,#f3ebe8,#f2e9e6,#f2e9e6,#f2eae7,#f2e9e5,#f2e7e3,#f0e3de,#f2e8e4,#efe1db,#ead3ca,#ebd5cc,#eeded8,#f1e4e0,#f1e5e0,#f0e3df,#f0e4df,#f0e2dd,#ecd7cf,#eeddd7,#f0e3de,#f0e4df,#eedcd6,#ebd6cd,#efdfd9,#f1e6e2,#f0e2dd,#f2e8e4,#f2e9e6,#f2e8e5,#f2e9e6,#f1e7e3,#f3eae7,#f2e9e6,#efe0da,#efe1dc,#f2e8e5,#f1e7e3,#f2e7e3,#f2e9e6,#f0e4df,#efe2dc,#efe1db,#f2e9e6,#f0e2dd,#f0e3de,#eedcd5,#f1e6e2,#f1e6e1,#f1e7e3,#f0e4e0,#eedcd6,#ebd4cb,#e9cfc5,#eedfd9,#f0e3dd,#eddbd4,#ecd8d0,#ead3c9,#eddbd4,#eedfd8,#ecd9d1,#ebd5cc,#e8ccc2,#ebd6cd,#efe0da,#f1e7e3,#f0e3de,#efe0da,#f1e7e3,#f1e6e2,#efe1db,#ecd9d1,#ead1c8,#eddad2,#eeded7,#f0e2dd,#f3ebe8,#efe1db,#f1e7e3,#f2e8e4,#f1e6e2,#f0e3de,#f1e6e1,#f1e5e1,#eddbd4,#f0e3df,#ecd7cf,#ecd7ce,#f2e8e4,#f2e9e5,#eeded8,#f0e3de,#ecd8d0,#dead98,#d99a82,#f0e4df,#f1e6e1,#f0e4df,#eeded8,#f0e4df,#efe0da,#f1e5e1,#f1e5e0,#efe0da,#f2e7e4,#f0e4df,#f0e4e0,#f1e7e3,#f0e3de,#f0e3de,#ead1c8,#e7c9bd,#ecd7ce,#efe1db,#f0e2dd,#efe0da,#ecd7cf,#ebd4cb,#ecd7cf,#ecd8d0,#ebd6ce,#eedcd5,#eedfd8,#eeded8,#f1e5e1,#f1e5e1,#f1e5e0,#f1e5e1,#f1e6e2,#f2e8e5,#f1e6e1,#efe1db,#f1e7e3,#f1e7e3,#f0e3de,#f1e6e2,#f2e8e4,#f1e6e2,#f1e5e1,#f2e7e4,#f3eae7,#f1e6e2,#f3eae7,#f2e8e4,#efe1dc,#eddad2,#eddad3,#eeddd7,#efe1dc,#f0e4e0,#f1e7e3,#ecd9d1,#e7c8bd,#ead2c8,#f0e2dd,#ecd9d2,#f0e4df,#efe1db,#eddcd5,#efe1dc,#f2e9e5,#f2e8e4,#f0e4df,#f1e6e2,#f1e7e3,#f1e4e0,#f1e7e3,#f0e4df,#f1e5e0,#efe2dc,#efe0da,#eeddd6,#eddbd4,#eedfd8,#efe0da,#efe0da,#efe1dc,#efe0da,#efdfd9,#f1e6e1,#f0e4df,#f0e4e0,#f1e5e0,#f0e3de,#f1e5e1,#f2e7e3,#f1e6e2,#f2e9e6,#f1e7e3,#f2e8e4,#f2e8e5,#f3ebe8,#f2e9e6,#f1e7e3,#f2e8e5,#f2e9e6,#f2eae7,#efe1db,#f0e4df,#f0e3df,#f1e6e2,#f2e9e6,#f2e7e4,#f2e9e5,#f2e8e4,#f2e9e6,#f0e4df,#eddad3,#efdfd9,#f0e2dd,#f1e4e0,#f1e5e1,#f0e3de,#f0e3de,#f1e5e0,#f0e3de,#f1e5e0,#efe0da,#f1e5e1,#f2e9e6,#f2e9e5,#f3ebe8,#f3ece9,#f3eae7,#f2e8e5,#f2e7e4,#f2e9e5,#f2eae7,#f2e9e5,#f2eae6,#efe1db,#f3eae7,#efe1db,#f2e8e4,#f2e9e6,#efe0da,#efe1dc,#f0e3de,#efe1db,#f1e7e3,#f3ebe8,#f3eae7,#f1e7e3,#f2e8e4,#f2eae7,#f3eae7,#f2eae7,#f3ebe9,#f1e6e2,#f2eae6,#f0e2dd,#f2e8e5,#f0e3de,#f2e8e5,#f3eae7,#f3eae7,#f1e7e3,#f1e6e2,#f1e6e2,#efe0da,#f2eae6,#f2e9e5,#f2e7e4,#f2e8e4,#f0e4df,#f1e7e3,#eeded7,#f1e5e1,#f2e8e5,#f2e8e4,#efdfd9,#f2e9e6,#f2e7e4,#f3eae7,#efe1db,#f2e9e5,#efe1db,#f0e4e0,#f2e9e6,#f1e5e1,#f2e8e4,#f1e7e2,#eedcd5,#f1e5e0,#f0e4e0,#eeddd7,#ecd7cf,#ead0c6,#e7c8bc,#e4c0b2,#e4bdaf,#e9cdc3,#eddad2,#f0e3de,#efe1db,#eeddd6,#f0e4df,#f0e3de,#f1e5e0,#f0e2dd,#eedfd8,#f0e2dd,#e6c5b8,#d8967d,#ce7455,#d99b82,#e8cbc0,#efe1db,#efe0da,#f1e6e1,#efe1dc,#eeddd7,#f0e4df,#eddad3,#efdfd9,#eedfd9,#efe1dc,#f0e2dd,#efe0da,#efe1dc,#f1e4e0,#f0e4df,#eddbd3,#ebd4cb)"></div>
<div style="top:85px;height:40px;background:linear-gradient(90deg,#eeddd6,#ebd5cd,#e6c4b7,#e1b4a2,#e0b2a0,#e3b9aa,#e7c7bb,#ebd3ca,#edd9d2,#f0e2dc,#f0e4df,#f1e6e2,#f0e4e0,#ead3ca,#e1b6a5,#e8cdc2,#efe1db,#f0e4df,#f1e7e3,#f1e5e1,#f2e7e3,#f0e3de,#f0e2dd,#eddad3,#f2e8e4,#efe1dc,#f1e5e1,#f0e4df,#efdfd9,#f2e9e5,#f1e6e2,#f1e6e2,#f2e8e5,#f1e6e1,#f1e6e2,#f1e5e1,#efe1db,#f0e4df,#f1e5e1,#f2e7e4,#f2e9e6,#f1e6e1,#f2e8e5,#f2e8e4,#f2e8e5,#f1e7e3,#f1e5e1,#f1e6e1,#efe1dc,#f0e3de,#f2e8e4,#f2e8e5,#f0e3de,#f2eae7,#f1e7e3,#f2e9e6,#f1e7e3,#f2eae7,#f2e9e6,#f2e8e4,#f2e9e5,#f0e4e0,#f2e9e5,#f2e8e4,#f1e6e2,#f0e3de,#f1e7e3,#f1e6e2,#f2e7e4,#f2e9e6,#f1e7e3,#f2e8e4,#f3ebe8,#f3ebe8,#f2e9e6,#f2e9e5,#f3eae7,#f2e8e4,#f2e8e4,#f1e7e3,#f2e9e6,#f0e3de,#f2e8e4,#f3eae7,#f2e9e6,#f2e9e6,#f2e9e5,#f1e5e0,#f3eae7,#f3eae7,#f3ebe8,#f2e9e6,#f0e4e0,#f2e8e4,#f2e7e4,#f3ece9,#f3ebe9,#f2e9e5,#f1e6e2,#f0e2dd,#efe0da,#f1e7e3,#f1e6e2,#f2eae7,#f2e8e5,#f1e5e0,#f1e6e2,#f1e7e2,#f2e9e6,#f2e9e5,#f2e7e3,#f1e6e2,#f0e2dd,#f2e9e6,#f3ebe8,#f3ebe8,#f3ece9,#f2eae7,#f2e9e6,#f1e6e2,#f0e3df,#f3eae7,#f3eae7,#f2eae7,#f2e7e3,#f2eae6,#f3ebe8,#f1e7e3,#efe0da,#f3ebe8,#f2e9e5,#f2e9e6,#f3ebe9,#f1e6e1,#f3eae7,#f3ebe8,#f1e6e2,#f2e9e5,#f1e7e3,#f2e8e5,#f3ebe8,#f2e7e3,#f3ebe9,#f3eae7,#f2e9e6,#f2e8e4,#f2eae6,#f2eae7,#f1e7e3,#f1e7e3,#f2eae7,#f0e2dd,#f0e3de,#f1e6e2,#eedfd9,#f2e8e4,#efe1dc,#f1e7e3,#f2e9e6,#f2e7e3,#f2e9e5,#f3ece9,#f3ebe8,#f3ece9,#f3ebe8,#f3eae7,#f3ebe9,#f3eae7,#f2e8e5,#f1e5e1,#f3eae7,#f2e7e3,#f0e2dc,#f1e5e1,#f2e8e5,#f2e9e5,#f1e7e3,#f1e6e2,#f2e8e5,#f2e7e4,#f0e3de,#f1e7e3,#f1e6e2,#f1e6e2,#efe1db,#f0e2dd,#f1e7e3,#f2e9e5,#f0e4df,#f2eae7,#f3eae7,#f3eae7,#f3ebe8,#f3ebe9,#f3ebe8,#f3ebe8,#f0e2dd,#f1e5e0,#f3ebe8,#f3eae7,#f3eae7,#f3ebe8,#f2e9e5,#f1e5e0,#f0e3de,#f3ebe8,#f0e3de,#f0e4e0,#efe0db,#f2eae6,#f2e8e5,#f2e8e4,#f2e7e4,#efe0db,#f0e3de,#f0e2dc,#f1e4e0,#f0e2dd,#ebd6cd,#ead0c7,#e8cbc0,#ecd8d0,#efe1dc,#f0e2dd,#f0e3de,#eeddd7,#f0e3de,#f1e6e2,#f2e9e6,#f1e6e2,#f0e3de,#f2eae6,#f2e7e3,#f1e6e2,#f1e5e1,#eeded8,#f0e4df,#f0e3df,#f1e5e1,#f3ebe8,#f0e2dd,#f2e9e5,#f3eae7,#f1e6e2,#f1e6e2,#f2e9e6,#f2e8e4,#eeded7,#f1e7e3,#f0e2dd,#eeddd6,#f2eae6,#f2eae6,#efe0da,#f2e8e4,#eeded8,#e0b19f,#d17f62,#f0e3de,#f2e7e3,#f1e6e2,#efe1db,#f2e8e4,#f1e5e0,#f2e8e5,#f1e5e1,#f0e2dc,#f2e9e6,#f1e6e1,#f1e5e1,#f2e9e6,#f1e5e1,#f1e5e1,#eddad3,#eddbd3,#efe1dc,#f1e6e2,#f0e4df,#eeddd6,#ead1c8,#e9cec4,#ebd5cc,#eeddd7,#efe1dc,#f1e5e0,#efe1dc,#efe2dc,#f1e7e3,#f2e8e5,#f2e9e5,#f1e7e3,#f2e7e4,#f2eae6,#f2e7e3,#f0e3de,#f2e8e5,#f2e8e5,#f0e4e0,#f2e8e5,#f2e8e4,#f2e8e5,#f2e8e5,#f2e9e5,#f3ebe8,#f2e8e5,#f3ebe8,#f2e9e5,#f2e7e3,#f1e5e0,#f0e2dd,#efdfd9,#f0e3de,#f1e7e3,#f2e9e6,#efe1dc,#eeded7,#f0e3de,#f1e7e3,#eeddd7,#f2e9e6,#f2e8e5,#f1e6e1,#f0e4df,#f3eae7,#f2e9e6,#f1e7e3,#f2e8e4,#f2e9e5,#f2e8e4,#f2eae6,#f2e8e4,#f3eae7,#f1e7e3,#f2e7e3,#f1e5e1,#f0e3de,#f1e7e3,#f2e8e5,#f1e7e3,#f2e8e5,#f2e8e4,#f1e5e0,#f2eae6,#f2e8e4,#f2e8e5,#f2e9e6,#f1e6e2,#f2e8e4,#f2eae7,#f2e8e5,#f3ebe8,#f2e9e6,#f3eae7,#f3ebe8,#f3ecea,#f3eae7,#f2e9e5,#f3eae7,#f3ebe8,#f3ebe8,#f1e5e0,#f2e8e4,#f1e7e3,#f1e7e3,#f3ebe8,#f2e9e6,#f3ebe8,#f2eae6,#f3ebe8,#f1e6e1,#f0e4df,#f2e8e4,#f1e4e0,#f1e6e1,#f1e7e3,#f1e6e2,#f1e5e1,#f1e6e2,#f1e6e1,#f3eae7,#f2e8e4,#f2e8e5,#f3ece9,#f3eae7,#f3ece9,#f3edea,#f3ebe9,#f3eae7,#f2e9e6,#f3ebe8,#f3ebe9,#f3eae7,#f3ebe9,#f0e4df,#f3ece9,#f0e3de,#f3eae7,#f3ebe8,#efe2dc,#f0e3de,#f1e5e0,#f2e7e4,#f3ebe8,#f3edea,#f3ebe8,#f2e8e5,#f2eae7,#f3ebe9,#f3ebe8,#f3ebe8,#f3edea,#f1e7e3,#f3ebe8,#f0e4e0,#f3ebe8,#f1e4e0,#f3eae7,#f3ebe9,#f3ebe8,#f2eae6,#f2eae7,#f3ebe8,#f1e5e0,#f3ebe8,#f3ebe8,#f3ece9,#f3ebe8,#f1e7e3,#f2e8e5,#f0e2dd,#f2e8e5,#f3ebe8,#f3eae7,#f0e3dd,#f3ebe8,#f3ece9,#f3ece9,#f0e3de,#f3ebe8,#f1e5e0,#f2e8e4,#f2eae6,#f2e7e4,#f3ebe8,#f2e9e6,#eeded8,#f1e6e2,#f1e6e2,#efe1db,#eeded8,#eeded7,#eeddd6,#eddad2,#ebd3ca,#eddbd4,#efe1db,#f1e6e1,#f0e3de,#efe0da,#f1e6e2,#f1e5e0,#f2e7e3,#f0e4df,#efe1db,#f0e2dc,#e5c2b5,#d69075,#cc6d4d,#d7957b,#e7c8bc,#efe1db,#efe1db,#f2e7e4,#f0e3de,#eedfd8,#f1e6e1,#f0e4df,#f1e6e2,#f0e3de,#f0e3de,#f1e4e0,#f0e4e0,#f1e4e0,#f2e8e5,#f2e7e3,#f0e3de,#efe0da)"></div>
<div style="top:125px;height:100px;background:linear-gradient(90deg,#f0e3de,#f0e2dd,#f0e3de,#eeddd6,#eeddd6,#ecd9d1,#ecd7cf,#ecd7cf,#eddad3,#eedfd8,#eedcd6,#eeded8,#eeded8,#f1e5e1,#efe0da,#efe0da,#efdfd9,#efe0db,#f0e4df,#f1e7e3,#f1e5e0,#f1e5e1,#f1e7e3,#f1e7e3,#f1e6e2,#f1e7e3,#f1e5e0,#eeddd6,#efe0da,#efe1db,#efe1db,#f1e5e1,#f0e3de,#f1e5e0,#f0e4e0,#f0e3dd,#f2e8e4,#f1e5e1,#f1e5e1,#f1e7e3,#f2e8e4,#f2e7e4,#f0e4df,#f0e4df,#f0e4df,#eedfd8,#eddad3,#efe0da,#f2e9e6,#efe1db,#efe1dc,#f1e5e1,#f1e6e1,#f1e7e3,#f1e5e1,#f0e2dd,#efdfd9,#f0e4df,#f2eae6,#f2e8e4,#f1e6e2,#f2e8e5,#f1e7e3,#f1e7e3,#f2e9e6,#f1e6e2,#f1e5e1,#f3eae7,#f1e6e2,#f2e8e5,#f1e6e2,#efe1db,#efe0db,#f0e4df,#f1e5e0,#efe1dc,#f1e5e1,#f3eae7,#f2e8e4,#f1e7e3,#f2e9e6,#f2e9e6,#f1e7e3,#f0e3de,#f2eae7,#f0e4e0,#f2e9e6,#f1e7e3,#f2e9e6,#f2e8e4,#f2e8e5,#f2e7e3,#f1e7e3,#f1e7e3,#f2e8e4,#f1e6e2,#f0e4df,#efe1dc,#f0e4df,#f2e9e5,#f2e9e6,#f2e7e3,#f2eae7,#f1e6e1,#f0e2dd,#f1e6e2,#f3eae7,#f3ebe8,#f2e7e4,#f1e5e0,#f3ebe8,#f1e5e1,#f1e6e2,#f3eae7,#f3eae7,#f3ebe8,#f2eae7,#f2e9e6,#f2e8e4,#f3ebe8,#f3eae7,#f1e6e2,#f0e4df,#f1e7e3,#f2e9e6,#f2e9e6,#f2e8e5,#f2e9e6,#f2e9e6,#f0e4e0,#f1e5e0,#f2e8e4,#f2e9e5,#f2e9e6,#f2e8e4,#f1e6e2,#f2e7e4,#f2e9e6,#f3eae7,#f2e8e5,#f2e8e4,#f2e8e4,#f2e8e4,#f2eae7,#f3ebe8,#f3ece9,#f3eae8,#f3ece9,#f2e9e5,#f3ebe9,#f2e8e5,#f3eae7,#f3ebe8,#f3eae7,#f2e8e4,#f3eae7,#f3ebe8,#f1e4e0,#f1e4e0,#f3ecea,#f3ece9,#f1e6e2,#f0e4df,#f0e3de,#f1e7e3,#f3ece9,#f3ebe9,#f2e9e5,#f2e9e6,#f3ece9,#f2eae7,#f2e9e6,#f3eae7,#f2e7e3,#f1e5e0,#f1e6e2,#f3ece9,#f2e9e5,#f2eae7,#f3ebe9,#f3ece9,#f3ebe8,#f3eae7,#f2e8e5,#f1e6e2,#f0e4df,#f1e7e3,#f3ebe8,#f2e7e3,#f2e9e5,#f3ece9,#f3ecea,#f3ecea,#f3ebe8,#f3ebe9,#f2e8e5,#f2e7e4,#f2e9e6,#f1e6e1,#efe1db,#efdfd9,#f0e3de,#f1e7e3,#f2e8e4,#f1e7e3,#f1e6e2,#f3eae7,#f3eae7,#f2e8e4,#f2e9e6,#f1e5e1,#f1e5e0,#f1e6e2,#f1e7e3,#f1e6e2,#f2e9e5,#f2e9e6,#f2eae6,#f3eae7,#f2e8e4,#f2e8e4,#f1e7e3,#f1e6e2,#f1e7e3,#f0e3de,#f0e2dd,#f2e8e5,#f3ece9,#f3ece9,#f3ebe8,#f3eae7,#f3ecea,#f3ebe8,#f3ecea,#f3ebe9,#f2e9e6,#f2e9e6,#f3eae7,#f2e9e5,#f1e5e0,#f0e2dd,#f1e5e1,#f3ebe9,#f2eae6,#f3eae7,#f3ece9,#f3ebe8,#f3ebe8,#f3eae7,#f1e6e2,#f2eae6,#f3ebe8,#f3eae7,#f3ece9,#f2eae6,#f1e5e0,#efdfd9,#f0e2dd,#f3ebe8,#f3ece9,#f3ebe8,#f2e8e5,#f2e9e5,#f3eae7,#f3ebe8,#f4edea,#f1e7e2,#f1e6e1,#f2eae6,#f3ecea,#f3ebe8,#f3ece9,#f2e7e4,#f1e5e1,#f2e8e4,#f3eae7,#f2e8e5,#f2e8e4,#f1e7e3,#f3ebe8,#f3edea,#f3eae7,#f2e8e5,#f1e7e3,#f3ebe8,#f3ecea,#f3ece9,#f3eae7,#f3ecea,#f2e9e6,#f3ece9,#f1e7e3,#f2eae7,#f3eae7,#f3eae7,#f3eae7,#f1e5e0,#f2e9e5,#f3ebe8,#f1e5e1,#f1e7e3,#f3ecea,#f1e5e1,#efe1dc,#f0e2dd,#f0e4df,#f2e9e5,#f1e6e2,#eeded7,#efe2dc,#f3ece9,#f2e8e4,#f1e6e1,#efe0db,#f0e3de,#f3ebe8,#f2eae6,#f3eae7,#f2e9e5,#f2e7e3,#f2e8e4,#f3eae7,#f3ecea,#f3ecea,#f3ebe8,#f3ebe8,#f4edeb,#f3ebe9,#f3ebe8,#f3ebe8,#f3ebe8,#f3eae7,#f3edea,#f3ebe9,#f2e8e5,#f3ebe8,#f3eae7,#f2e8e4,#f1e5e0,#f1e6e2,#f3eae7,#f3ebe9,#f1e7e3,#f2e9e6,#f1e5e0,#f1e4e0,#f2e7e3,#f2e9e6,#f2e9e5,#f3ebe8,#f1e7e2,#f3ebe8,#f1e7e3,#f2e7e3,#f1e6e2,#f1e6e2,#f2e9e6,#f2e9e6,#f2e8e4,#f2e9e6,#f2e9e6,#f0e4df,#f0e4df,#f3ebe8,#f3ebe9,#f1e6e2,#f1e6e2,#f2e7e3,#f0e4df,#efe2dc,#f0e2dd,#f1e5e1,#f2eae7,#f2e8e5,#f2eae7,#f2e9e6,#f0e4df,#f0e4e0,#f3ebe8,#f3eae7,#f2e9e6,#f3eae7,#f3ebe8,#f3ebe8,#f2e9e5,#f3ece9,#f3ecea,#f3ece9,#f3ebe9,#f3ece9,#f3ebe8,#f3ebe9,#f0e4df,#f0e3dd,#f0e3de,#f1e6e2,#f3ebe8,#f3ecea,#f3ebe9,#f3ebe8,#f3ebe8,#f3eae8,#f3ece9,#f3ebe8,#f2e9e5,#f2eae6,#f2e9e6,#f1e5e0,#efdfd9,#f0e4df,#f3eae7,#f3ebe9,#f2e7e3,#f0e2dd,#f0e3de,#f1e5e1,#f0e3de,#efe1db,#f1e6e2,#f3ebe8,#f2e8e4,#f2e9e5,#f3ebe8,#f2e8e4,#f2e9e5,#f2e8e4,#f0e4e0,#efe1db,#f0e4df,#f1e6e2,#f1e7e3,#f1e5e1,#f2e8e4,#f1e7e3,#f1e6e2,#f1e5e1,#f1e5e0,#eddbd4,#ecd7cf,#eddbd3,#ebd6cd,#ebd5cc,#eddbd3,#efdfd9,#f0e4df,#f1e6e1,#f2e7e4,#f1e5e0,#f0e3de,#f1e6e2,#eeded8,#efe1db,#f1e5e0,#f1e6e1,#f2e7e4,#f2e7e3,#f0e4df,#f3eae7,#f1e6e2,#f1e6e2,#f2e7e3,#f0e3df,#f2e8e5,#f3eae7,#f3eae7,#f2e8e4,#f2e9e6,#f2e7e3,#f2e8e5,#f2e8e4,#f1e4e0,#efe1db,#efe1dc,#f1e6e2,#f1e7e3,#f1e5e0,#f0e3de,#f1e6e2,#f3eae7,#f3ebe8,#f1e6e2,#f0e2dd,#f1e6e2,#f2e9e6,#f1e7e3,#f3ebe8,#f3eae8,#f1e7e3,#f2eae7,#f1e7e3,#f2e8e5,#f3eae7,#f3eae7,#f2e8e5,#f0e3de,#eeded8,#f0e3de,#f2e8e4,#f0e3de,#f0e4df,#f0e3de,#eeded8,#f0e4e0,#f3eae7,#f2e9e5,#f3eae7,#efe1db,#efe0da,#f2e7e4,#f2e9e5,#f1e5e1,#efe1db,#ecd9d1,#e6c5b9,#dba088,#dca58e,#ead0c6,#f1e6e1,#f2e9e6,#f2e8e4,#f1e7e3,#f1e7e2,#f0e2dd,#efe1db,#f1e6e2,#f2e8e5,#f2e9e6,#f1e6e1,#f1e5e1,#f2e9e6,#f1e5e0,#f1e5e1,#f1e6e2,#f0e2dd,#f0e3de,#f2eae6,#f2e8e4,#f1e6e1,#f2e7e3,#f1e5e1,#f1e6e1,#f2eae6,#f2eae7,#f1e6e2,#f0e4df,#f1e7e3,#f0e2dc,#eedcd6,#eddbd4,#eeddd6,#f0e3de,#f0e3df,#f1e5e1,#f2e7e3,#f1e7e3,#f1e7e3,#f0e2dd,#f0e3dd,#eedcd6,#edd9d2,#eddad2,#ecd7cf,#ead2c8,#ecd7cf,#f0e4df,#efe0da,#eeded7,#f0e3de,#f1e6e2,#f1e6e2,#f2e8e5,#f0e3de,#efdfd9,#efe1dc,#f1e6e2,#f2e7e4,#f1e7e3,#f2e9e5,#f2eae7,#f2e9e6,#f2e9e6,#f1e7e3,#f3ebe8,#f2e8e4,#f2e8e4,#f3eae7,#f2e9e5,#f2e9e5,#f0e4df,#f0e3dd,#f2e8e5,#f2e9e5,#f2e8e4,#f2e9e6,#f2e7e4,#f0e4df,#f1e7e3,#f2eae7,#f1e6e2,#f2e8e4,#f3ebe8,#f2e9e6,#f2e8e4,#f2e8e5,#f3ebe8,#f2e9e5,#f3eae7,#f3ebe8,#f3ebe8,#f2e9e5,#f2e9e5,#f3ebe9,#f3ebe8,#f3eae7,#f1e7e3,#f2eae7,#f0e4e0,#f1e6e2,#f2e8e5,#f1e5e1,#efdfd9,#efdfd9,#efe1dc,#efe1db,#f2e9e5,#f1e7e3,#f2e8e5,#f3ebe8,#f2e9e5,#f0e3de,#f0e4df,#f0e3de,#eedfd9,#f1e6e2,#f1e6e2,#f2e9e5,#f2e9e5,#eeddd7,#efe0da,#f3ebe8,#f2e9e5,#f3eae7,#f3eae7,#f2e8e4,#f1e6e1,#f0e4df,#f2e7e3,#f3eae7,#f3ece9,#f3ebe8,#f2e7e3,#f1e6e2,#f2e9e5,#f2e8e4,#f2e9e5,#f2eae7,#f2e8e4,#f2e8e5,#f2e9e6,#f3eae7,#f3ebe8,#f2e8e5,#f2e9e5,#f3ebe8,#f3ebe9,#f2e8e5,#f2e8e5,#f3eae7,#f1e6e2,#f1e7e3,#f1e7e3,#f1e5e0,#f1e6e2,#f3eae7,#f1e6e1,#f3eae7,#f2eae6,#f2e8e5,#f2e9e6,#f3ebe8,#f2e9e6,#f3ebe8,#f2e8e4,#f1e4e0,#f2e7e4,#f2eae7,#f3ebe9,#f1e7e3,#f3ebe8,#f2e9e6,#f2e9e6,#f2e9e5,#f3ebe8,#f2e8e5,#f1e6e1,#f2e8e4,#f3eae7,#f3ebe8,#f2eae6,#f2e9e5,#f2e9e6,#f3eae7,#f3ece9,#f3ece9,#f2e7e3,#f3ecea,#f2e9e5,#f3eae7,#f3edea,#f3ece9,#f4edeb,#f4edeb,#f1e7e3,#f1e6e2,#f3ecea,#f2e9e5,#f3ecea,#f2e9e6,#f4edeb,#f3ebe9,#f3ebe8,#f1e7e2,#f0e4df,#f3ebe8,#f1e6e2,#f3ecea,#f0e2dd,#f0e4df,#f3eae7,#f3ecea,#f3eae7,#f2e8e5,#f3eae7,#f3ecea,#f2eae7,#f1e7e3,#f4edeb,#f2eae6,#f3ecea,#f2e9e5,#f0e4df,#f0e4df,#f2e7e3,#f2e9e5,#f2eae6,#f2e8e4,#f0e3de,#f0e4df,#f2e8e4,#f1e7e3,#f2e8e4,#f2e8e5,#f1e5e1,#f0e3de,#f2e8e5,#f3ebe8,#f0e3de,#f0e3dd,#f2e9e6,#f3ecea,#f3eae7,#f3ebe8,#f2e8e4,#f2e8e4,#f2eae6,#f3ecea,#f3ecea,#f4edeb,#f2e9e6,#f3ebe8,#f4edeb,#f3ece9,#f4edeb,#f3ebe8,#f3ecea,#f3ebe9,#f2eae7,#f3ebe8,#f2e8e5,#f3eae7,#f3ecea,#f4edeb,#f3ebe8,#f2e9e6,#f3ebe8,#f4edeb,#f3ebe8,#f1e4e0,#f1e4e0,#f3ebe9,#f3edea,#f1e6e2,#f0e2dc,#f1e6e2,#f4edeb,#f3ebe9,#f3ebe8,#f2e9e6,#eeded8,#efdfd9,#f1e6e2,#f1e7e3,#f1e5e0,#f1e7e2,#f2eae6,#f3ece9,#f3ece9,#f4edeb,#f4edeb,#f2eae7,#f3ecea,#f2e9e5,#f2e9e5,#f3ebe8,#f3eae7,#f3ebe8,#f3ece9,#f3ebe8,#f3ece9,#f3eae7,#f3ece9,#f4edeb,#f3edea,#f3ebe8,#f1e5e1,#f2e8e4,#f4edeb,#f1e5e0,#f1e5e0,#f3ebe8,#f3ece9,#f1e7e3,#f0e4df,#f1e5e0,#f3edea,#f3ece9,#f3ece9,#f3ebe8,#f3ebe8,#f3ebe8,#f2eae7,#f2eae7,#f3ebe8,#f3ecea,#f3ece9,#f1e7e3,#f1e5e1,#f2e8e5,#f3edea,#f3ece9,#f3ece9,#f3ecea,#f3ecea,#f3ece9,#f3ece9,#f2e7e3,#f2e7e3,#f4edeb,#f2e8e4,#f1e5e0,#f0e3dd,#f1e7e3,#f2eae7,#f3ebe9,#f3ebe8,#f3ebe8,#f3eae7,#f1e5e0,#f0e3dd,#f1e6e2,#f4edeb,#f3ebe8,#f4edea,#f3edea,#f3ecea,#f1e6e1,#f0e3de,#f2eae6,#f3ece9,#f3ebe8,#f0e4df,#f1e5e0,#f2e9e6,#f3eae7,#f3eae7,#f2e9e5,#f2e8e4,#f3ebe9,#f3ebe8,#f2e9e6,#f3eae7,#f0e4df,#eeddd7,#eeddd7,#f2e8e4,#f2e9e6,#f1e6e1,#f1e5e1,#efe1db,#eedfd8,#efe0da,#eeded7,#efe1dc,#f0e4e0,#efe1db,#efe1dc,#eedfd9,#ecd9d1,#ecd8d0,#eedcd6,#eeded8,#efe1db,#f0e3de,#f0e3de,#f1e7e3,#f1e4e0,#f0e3df,#f2e8e5,#efdfd9,#eedfd8,#f2e8e4,#f1e6e2,#f1e5e0,#f2eae6,#f2e7e4,#f2e8e4,#f0e4df,#efe0da,#f0e2dd,#f2e7e3,#f1e4e0,#eddcd5,#e9cec3,#e5c2b5,#dfb09c,#dba088,#d99b83,#dca68f,#e1b5a4,#e7c8bd,#ebd5cc,#efe1db,#f0e4df,#efe1db,#efe1dc,#f2e9e5,#f2e8e4,#f1e6e2,#f0e4df,#efe0da,#eedfd9,#efdfd9,#f1e7e3,#f2e8e4,#f1e5e1,#f1e5e1,#f2e8e4,#f0e4e0,#f0e3df,#f0e2dd,#f0e3de,#f2eae7,#f1e5e0,#f0e4df,#f1e5e1,#f0e4df,#f1e5e1,#f2e8e4,#f2e9e6,#f2e8e4,#f2e8e5,#f2e8e5,#f1e4e0,#efe1dc,#f0e2dd)"></div>
</div>
<div style="top:140.5px;height:27px;background:linear-gradient(90deg,#f1e5e1,#f0e4df,#efe1dc,#efdfd9,#efe0db,#f0e2dd,#f0e4df,#f0e4e0,#f0e4df,#f1e6e2,#f2e7e4,#f2e8e4,#f2e8e5,#f1e6e2,#f0e4df,#f1e6e1,#f1e7e3,#f1e7e3,#f2e7e4,#f2e8e4,#f2e8e5,#f1e7e3,#f1e4e0,#f0e3de,#f1e5e0,#f1e6e2,#f1e7e3,#f1e6e2,#f1e6e2,#f2e8e5,#f2e9e6,#f2e9e6,#f2e9e5,#f2e9e5,#f2e8e5,#f1e7e3,#f1e5e1,#f1e6e2,#f2e8e4,#f2e9e6,#f2e9e6,#f2e9e5,#f2e8e5,#f2e9e6,#f2eae6,#f2eae6,#f2e9e6,#f2e9e5,#f2e7e3,#f2e8e4,#f2e9e6,#f2e9e5,#f2e8e4,#f2e9e6,#f2e9e6,#f2e9e5,#f2e9e6,#f3ebe8,#f3ebe8,#f3eae7,#f2e9e6,#f2e8e5,#f2e9e6,#f3eae7,#f2e9e6,#f2e9e5,#f2eae7,#f2eae7,#f2eae7,#f3eae7,#f2eae7,#f3eae7,#f3ebe9,#f3ece9,#f3ebe8,#f3ebe8,#f3ebe8,#f3eae7,#f2e9e6,#f2eae6,#f2e9e6,#f2e8e4,#f2e9e6,#f3ebe8,#f3ebe8,#f3ebe8,#f2eae6,#f2e9e6,#f3eae7,#f3ebe8,#f3ebe9,#f3eae7,#f2e8e5,#f2e9e6,#f3eae7,#f3ece9,#f3ecea,#f3ebe8,#f2e9e6,#f1e7e3,#f1e6e1,#f2e8e4,#f2e9e6,#f3eae7,#f2e9e6,#f2e8e5,#f2e8e5,#f2e9e6,#f3eae7,#f2eae7,#f2e9e5,#f2e8e4,#f2e7e4,#f2eae7,#f3ece9,#f3ece9,#f3ecea,#f3ebe9,#f3eae7,#f2e8e5,#f2e8e4,#f3eae7,#f3ece9,#f3ece9,#f3ebe8,#f3ebe8,#f3ebe8,#f2e8e5,#f1e7e3,#f2eae7,#f3ebe8,#f3ebe8,#f3ebe8,#f3eae7,#f3ebe8,#f3ebe8,#f2eae7,#f2eae7,#f3eae7,#f3ebe8,#f3ebe8,#f3ebe8,#f3ece9,#f3ecea,#f3ebe9,#f3ebe8,#f3ebe8,#f3eae7,#f2eae6,#f2e9e6,#f2e9e5,#f1e7e3,#f1e6e2,#f1e7e3,#f1e7e2,#f2e8e4,#f2e7e4,#f2e9e5,#f3eae7,#f3eae7,#f3ebe8,#f3ece9,#f3ecea,#f3ecea,#f3ece9,#f3ece9,#f3ece9,#f3ebe8,#f2eae6,#f2e9e6,#f3eae7,#f2eae7,#f2e9e6,#f3eae7,#f3ebe8,#f3eae7,#f2e9e6,#f2e9e6,#f2eae7,#f3eae7,#f2e9e6,#f2eae6,#f2eae6,#f2e8e4,#f1e6e2,#f2e7e4,#f2eae7,#f2e9e6,#f2e9e5,#f3eae7,#f3ebe8,#f3ebe9,#f3ece9,#f3ecea,#f3ece9,#f3eae7,#f2e7e3,#f2e8e5,#f3ebe8,#f3ece9,#f3ece9,#f3ebe9,#f3eae7,#f2e8e4,#f2e7e4,#f2e9e6,#f2e7e3,#f1e6e2,#f1e6e2,#f2e9e6,#f3eae7,#f3eae7,#f2e8e5,#f1e7e3,#f2e8e4,#f2e9e5,#f2e9e6,#f2e8e4,#f0e3df,#efdfd9,#efdfd9,#f0e4df,#f2e8e5,#f2e9e5,#f1e7e3,#f1e6e2,#f2e8e4,#f2e9e5,#f2e9e5,#f2e8e5,#f2e8e5,#f2eae7,#f3eae7,#f2eae7,#f2e8e5,#f1e6e2,#f1e7e3,#f2e8e4,#f2e9e5,#f2e9e6,#f2e8e4,#f2e9e5,#f3eae7,#f3eae7,#f2eae6,#f3eae7,#f2e8e5,#f1e6e1,#f1e6e2,#f1e6e2,#f1e6e2,#f2e8e5,#f2e8e4,#f1e7e2,#f2e7e4,#f1e4e0,#ebd3ca,#e5c1b4,#f2e8e4,#f2e9e6,#f2e7e3,#f1e7e3,#f2e8e5,#f2e9e5,#f2e8e5,#f2e7e4,#f1e7e3,#f2e8e4,#f2e8e5,#f2e8e5,#f2e9e6,#f2e8e5,#f1e6e2,#f0e3de,#f0e3de,#f1e7e3,#f2e9e5,#f2e8e4,#f1e5e0,#efe0da,#eeded7,#efe1db,#f0e4e0,#f1e6e2,#f2e8e4,#f1e6e2,#f1e6e2,#f2e8e5,#f2eae7,#f3eae7,#f3eae7,#f2eae7,#f2eae7,#f2e8e5,#f2e8e4,#f2e9e6,#f2e9e6,#f2e8e5,#f2e9e6,#f2eae7,#f3eae7,#f3eae7,#f3ebe8,#f3ebe8,#f3ebe8,#f3ebe8,#f3ebe8,#f2e9e6,#f2e8e5,#f1e6e2,#f0e4e0,#f1e6e2,#f2e9e6,#f2eae6,#f2e8e4,#f1e6e2,#f2e8e4,#f2e8e5,#f1e7e3,#f2e9e6,#f3eae7,#f2e9e6,#f2e9e6,#f3eae8,#f3eae7,#f2e9e6,#f2eae6,#f3eae7,#f3eae7,#f3ebe8,#f3ebe8,#f3ebe8,#f3ebe8,#f3eae7,#f2e9e6,#f2e9e5,#f2eae7,#f3eae7,#f3ebe8,#f3ebe8,#f3eae7,#f2e9e6,#f3eae7,#f3ebe8,#f3ebe8,#f3ebe8,#f2eae7,#f3eae7,#f3ebe8,#f3ebe8,#f3ebe9,#f3ebe9,#f3ebe8,#f3ece9,#f3ecea,#f3ebe8,#f3eae8,#f3ebe9,#f3ece9,#f3ebe8,#f2e9e6,#f2e9e6,#f2e9e5,#f2e9e6,#f3ebe8,#f3ebe8,#f3ebe8,#f3ebe8,#f3ebe8,#f2e9e6,#f2e8e5,#f2e9e6,#f2e8e5,#f2e8e4,#f2e9e5,#f2e8e5,#f2e8e5,#f2e8e5,#f2e9e6,#f3ebe8,#f3ebe8,#f3ebe8,#f3ecea,#f3ecea,#f3ecea,#f4edea,#f3ecea,#f3ece9,#f3ebe8,#f3ece9,#f3ece9,#f3ece9,#f3ebe8,#f2e9e6,#f2eae6,#f2e9e5,#f3eae7,#f3eae7,#f1e7e3,#f1e6e2,#f2e8e4,#f3eae7,#f3ecea,#f3edea,#f3ece9,#f3ebe8,#f3ebe8,#f3ece9,#f3ece9,#f3ecea,#f3ecea,#f3eae7,#f2eae6,#f2e9e6,#f2eae7,#f2e9e5,#f3eae7,#f3ece9,#f3ece9,#f3ebe9,#f3ece9,#f3ebe8,#f2eae7,#f3ebe8,#f3ecea,#f3edea,#f3ebe9,#f3eae7,#f2e9e6,#f2e8e4,#f2eae7,#f3ebe9,#f3eae7,#f2e8e5,#f3eae7,#f3ecea,#f3ebe8,#f2e9e6,#f3eae7,#f2e9e6,#f2e9e6,#f3eae7,#f3ebe8,#f3ebe8,#f2e9e5,#f1e5e1,#f1e6e2,#f2e7e4,#f1e5e1,#f0e4df,#f1e5e0,#f1e5e1,#f0e3de,#efe1db,#f0e3de,#f1e5e1,#f1e7e3,#f1e7e3,#f1e5e1,#f1e6e2,#f2e8e5,#f2e8e5,#f1e7e3,#f1e6e2,#f1e6e2,#eddbd4,#e7c8bc,#e4bdae,#e8cabf,#eeded7,#f1e6e1,#f1e7e3,#f2e8e4,#f1e6e2,#f0e4df,#f1e6e2,#f2e8e4,#f2e8e4,#f1e7e3,#f1e7e3,#f2e7e4,#f1e7e3,#f2e8e4,#f2e9e6,#f2e9e6,#f2e7e4,#f1e6e2)"></div>
<div style="top:167px;height:34.5px;background:linear-gradient(90deg,#f1e6e2,#f1e5e0,#f0e2dd,#efe1db,#f0e2dc,#f0e4df,#f1e5e0,#f1e5e1,#f1e5e0,#f1e6e2,#f2e8e4,#f2e8e5,#f2e9e5,#f1e7e3,#f1e5e1,#f1e6e2,#f2e7e3,#f2e7e3,#f2e8e4,#f2e8e5,#f2e9e5,#f2e8e4,#f1e5e1,#f0e4df,#f1e6e1,#f1e6e2,#f2e7e4,#f1e7e3,#f1e6e2,#f2e9e5,#f2e9e6,#f2e9e6,#f2e9e6,#f2e9e6,#f2e9e5,#f2e7e3,#f1e6e2,#f1e7e2,#f2e8e5,#f2eae7,#f2eae7,#f2e9e6,#f2e9e5,#f2e9e6,#f3eae7,#f3eae7,#f2eae6,#f2e9e6,#f2e8e4,#f2e8e5,#f2eae7,#f2e9e6,#f2e8e5,#f2eae6,#f2eae6,#f2e9e6,#f2eae7,#f3ebe8,#f3ebe8,#f3ebe8,#f2eae7,#f2e9e5,#f2eae7,#f3eae7,#f2eae6,#f2e9e6,#f3eae7,#f3eae7,#f3eae7,#f3eae7,#f3eae7,#f3ebe8,#f3ece9,#f3ece9,#f3ebe9,#f3ebe8,#f3ebe8,#f3ebe8,#f2eae7,#f3eae7,#f2eae7,#f2e8e5,#f2eae7,#f3ebe8,#f3ebe8,#f3ebe8,#f3eae7,#f2e9e6,#f3eae8,#f3ebe9,#f3ece9,#f3eae7,#f2e9e5,#f2e9e6,#f3ebe8,#f3ece9,#f3ecea,#f3ece9,#f2eae7,#f2e7e4,#f1e6e2,#f2e8e4,#f2e9e6,#f3eae7,#f2eae7,#f2e9e5,#f2e9e5,#f2eae6,#f3eae8,#f3eae7,#f2e9e6,#f2e8e5,#f2e8e4,#f3eae7,#f3ece9,#f3ecea,#f3ecea,#f3ece9,#f3ebe8,#f2e9e5,#f2e8e5,#f3ebe8,#f3ece9,#f3ece9,#f3ebe8,#f3ebe8,#f3ebe8,#f2e9e5,#f2e7e4,#f3eae7,#f3ebe8,#f3ebe8,#f3ebe8,#f3eae7,#f3ebe8,#f3ebe8,#f3eae7,#f3eae7,#f3eae7,#f3ebe8,#f3ebe9,#f3ebe8,#f3ece9,#f3ecea,#f3ece9,#f3ebe8,#f3ebe8,#f3eae8,#f2eae7,#f2eae7,#f2e9e6,#f2e7e4,#f1e7e3,#f2e7e3,#f1e7e3,#f2e9e5,#f2e8e4,#f2e9e6,#f3ebe8,#f3eae8,#f3ebe8,#f3ecea,#f3ecea,#f3ecea,#f3ece9,#f3ece9,#f3ece9,#f3ebe8,#f3eae7,#f2e9e6,#f3ebe8,#f3eae7,#f2eae6,#f3ebe8,#f3ebe9,#f3ebe8,#f2eae6,#f2e9e6,#f3eae7,#f3eae7,#f2eae6,#f3eae7,#f3eae7,#f2e8e5,#f1e7e3,#f2e8e4,#f3eae7,#f2eae7,#f2e9e6,#f3eae7,#f3ebe9,#f3ebe9,#f3ece9,#f3ecea,#f3ecea,#f3eae7,#f2e8e4,#f2e9e5,#f3ebe9,#f3ecea,#f3ece9,#f3ece9,#f3eae7,#f2e8e5,#f2e8e4,#f2e9e6,#f2e8e4,#f1e7e3,#f1e7e3,#f2e9e6,#f3ebe8,#f3eae7,#f2e9e5,#f2e8e4,#f2e9e5,#f2eae6,#f3eae7,#f2e9e5,#f1e5e0,#efe1dc,#efe1dc,#f1e5e1,#f2e9e6,#f2e9e6,#f2e8e4,#f1e7e3,#f2e9e5,#f2e9e6,#f2e9e6,#f2e9e5,#f2e9e5,#f3eae7,#f3ebe8,#f3eae7,#f2e9e6,#f2e7e3,#f2e8e4,#f2e8e4,#f2e9e6,#f2eae6,#f2e8e5,#f2e9e6,#f3eae7,#f3eae7,#f3eae7,#f3eae7,#f2e9e5,#f1e6e2,#f1e7e3,#f1e7e2,#f1e6e2,#f2e9e5,#f2e8e5,#f1e7e3,#f2e8e4,#f1e5e1,#ecd7ce,#e7c8bd,#f2e8e5,#f2e9e6,#f2e8e4,#f1e7e3,#f2e9e5,#f2e9e6,#f2e9e5,#f2e8e4,#f2e7e3,#f2e8e5,#f2e9e5,#f2e9e5,#f2e9e6,#f2e9e5,#f1e7e3,#f0e4df,#f0e4e0,#f2e7e4,#f2e9e6,#f2e9e5,#f1e6e2,#f0e2dd,#efe0da,#f0e2dd,#f1e5e1,#f1e7e3,#f2e8e5,#f1e7e3,#f1e6e2,#f2e9e5,#f3eae7,#f3eae7,#f3eae7,#f3eae7,#f3eae7,#f2e9e5,#f2e8e5,#f2e9e6,#f2e9e6,#f2e9e5,#f2e9e6,#f3eae7,#f3eae7,#f3eae8,#f3ebe8,#f3ebe9,#f3ebe8,#f3ebe8,#f3ebe8,#f2eae6,#f2e9e5,#f1e7e3,#f1e5e1,#f1e7e3,#f2e9e6,#f3eae7,#f2e8e5,#f2e7e3,#f2e9e5,#f2e9e5,#f2e7e4,#f2e9e6,#f3ebe8,#f2eae7,#f2e9e6,#f3ebe8,#f3ebe8,#f2eae6,#f3eae7,#f3eae7,#f3ebe8,#f3ebe8,#f3ebe8,#f3ebe9,#f3ebe8,#f3eae7,#f2e9e6,#f2e9e6,#f3eae7,#f3ebe8,#f3ebe8,#f3ebe9,#f3ebe8,#f3eae7,#f3ebe8,#f3ebe8,#f3ebe8,#f3ebe8,#f3eae7,#f3eae7,#f3ebe8,#f3ebe8,#f3ebe9,#f3ebe9,#f3ebe9,#f3ece9,#f3edea,#f3ebe9,#f3ebe8,#f3ebe9,#f3ece9,#f3ebe9,#f2eae7,#f2eae6,#f2e9e6,#f2eae6,#f3ebe8,#f3ebe9,#f3ebe8,#f3ebe9,#f3ebe8,#f2e9e6,#f2e9e6,#f2eae7,#f2e9e5,#f2e8e5,#f2e9e6,#f2e9e5,#f2e9e5,#f2e9e5,#f2e9e6,#f3ebe9,#f3ebe8,#f3ebe9,#f3ecea,#f3ecea,#f3ecea,#f4edea,#f3ecea,#f3ece9,#f3ebe9,#f3ece9,#f3ecea,#f3ece9,#f3ebe8,#f2eae7,#f3eae7,#f2e9e6,#f3eae7,#f3ebe8,#f2e7e3,#f1e6e2,#f2e8e5,#f3eae7,#f3ecea,#f4edea,#f3ece9,#f3ebe8,#f3ebe9,#f3ece9,#f3ecea,#f3ecea,#f3ecea,#f3ebe8,#f3eae7,#f2eae6,#f3eae7,#f2e9e6,#f3eae7,#f3ece9,#f3ece9,#f3ece9,#f3ece9,#f3ebe9,#f3eae7,#f3ebe9,#f4edea,#f4edea,#f3ece9,#f3ebe8,#f2eae7,#f2e8e5,#f3eae7,#f3ebe9,#f3eae7,#f2e9e5,#f3ebe8,#f3ecea,#f3ebe9,#f2eae6,#f3eae7,#f2eae6,#f2eae7,#f3ebe8,#f3ebe8,#f3ebe8,#f2e9e6,#f1e6e1,#f1e7e3,#f2e8e4,#f1e6e1,#f1e4e0,#f1e6e1,#f1e6e2,#f0e4e0,#f0e2dd,#f0e4df,#f1e6e2,#f2e7e3,#f2e7e3,#f1e6e2,#f1e7e3,#f2e9e5,#f2e9e5,#f2e7e3,#f1e7e3,#f1e7e3,#eeded8,#e9cdc3,#e6c4b8,#e9d0c6,#efe0da,#f1e6e2,#f2e7e3,#f2e8e5,#f1e6e2,#f1e5e0,#f1e7e3,#f2e9e5,#f2e8e5,#f1e7e3,#f2e7e4,#f2e8e4,#f2e7e4,#f2e8e5,#f2eae7,#f2eae7,#f2e8e4,#f1e7e2)"></div>
</div>
<div class="p" style="top:2181.5px">
<div style="top:0px;height:141px;background:linear-gradient(90deg,#bed2da,#9bc1cd,#d0dae1,#e8e8ec,#c5d5dd,#aecad3,#a6c7d1,#c6d6dd,#efeced,#f2eded,#f2ecea,#c6593f,#c14b31,#eeebed,#a2c5cf,#9bc1cd,#4d97c1,#4e98c1,#5da1c2,#73acc4,#5a9fc2,#63a4c3,#539bc2,#549bc2,#60a2c2,#82b4c7,#93bdcb,#b6ced7,#bed2da,#bed2da,#c2d4dc,#d4dde3,#bcd1d9,#aac8d2,#bbd0d9,#71abc4,#388bc0,#378ac0,#6ba8c3,#4592c1,#64a4c3,#a1c4cf,#90bccb,#66a5c3,#5da1c2,#84b5c8,#7ab0c5,#8bb8c9,#c2d4dc,#a8c8d1,#398bc0,#277fc1,#277fc1,#277fc1,#277fc1,#2d83c1,#d2dce3,#f2eeed,#f0eded,#efeced,#efeced,#edebed,#efeced,#f1e8e5,#eee1db,#eee1db,#eee1db,#f2eae8,#efeced,#d6dee5,#66a5c3,#549bc2,#559cc2,#7eb2c6,#c1d3db,#5b9fc2,#5ca0c2,#aecad4,#e2e5eb,#e6e7ec,#d9e0e6,#dae0e7,#bad0d8,#b0cbd4,#cfdae1,#dae1e7,#cfdae1,#c4d5dd,#d1dbe2,#d3dce3,#d2dce2,#c5d5dd,#d3dce3,#db9e88,#cf735a,#cf735a,#dda28e,#d9e0e6,#a4c5d0,#97bfcc,#9dc2ce,#bdd1da,#dce2e8,#cbd8df,#a7c7d1,#a5c6d0,#93bdcb,#91bccb,#91bccb,#91bccb,#91bccb,#ccd9e0,#d7dee5,#a8c7d1,#9cc2ce,#95becc,#97bfcc,#a0c3cf,#9bc1cd,#b0cbd4,#c7d6de,#b0cbd4,#91bccb,#91bccb,#b5ced6,#bfd2da,#a0c4cf,#81b3c7,#d4dde4,#b73a2a,#eceaed,#7db1c6,#73adc4,#95becc,#81b4c7,#88b7c9,#a7c7d1,#b2ccd5,#ead2c8,#ead2c8,#cedae1,#b0cbd4,#aac8d2,#bcd1d9,#d2dce3,#cad8df,#b3ccd5,#b4cdd6,#bdd1d9,#b1ccd5,#b1ccd5,#cbd8df,#d7dfe5,#dde2e8,#d5dde4,#b5ced6,#abc9d2,#bcd1d9,#d7dfe5,#dbe1e7,#cfdae1,#cad8df,#c9d7df,#c8d7de,#abc9d2,#a7c7d1,#a7c7d1,#a7c7d1,#a7c7d1,#aecad4,#b6ced7,#b3cdd6,#c2d4dc,#cfdae1,#cad7df,#b7ced7,#b7ced7,#c6d6dd,#d6dee5,#d4dde4,#d0dbe2,#b2ccd5,#b5cdd6,#e9cfc5,#e9cec3,#e3e5eb,#e0e4ea,#bfd2da,#afcbd4,#d0dae1,#dae0e7,#dce1e8,#eceaed,#ebeaec,#bed2da,#9ac1cd,#7ab0c5,#539ac2,#64a4c3,#539bc2,#80b3c7,#b9d0d8,#d6dee5,#d2dce2,#c5d5dd,#dae0e7,#e3e5eb,#e5e6ec,#e4e6ec,#d9e0e6,#bfd2da,#bbd1d9,#dde2e8,#d5dde4,#e5e7ec,#dde2e8,#b1ccd5,#91bccb,#aecad4,#cbd8df,#d8dfe6,#e9e9ec,#e3e5eb,#cfdae1,#c1d3db,#c6d6dd,#e1e4ea,#d3dde3,#c4d5dd,#c8d6de,#c9d7de,#e1e4eb,#cedae1,#b7cfd7,#cad7df,#ccd8e0,#c6d6dd,#c0d3db,#afcbd4,#b6ced7,#dae0e7,#dee2e9,#c5d5dd,#cedae1,#dae0e7,#dbe1e7,#b1ccd5,#6ca9c3,#85b6c8,#a2c4cf,#a7c7d1,#89b8c9,#599ec2,#277fc1,#277fc1,#71abc4,#acc9d3,#c4d5dc,#b0cbd4,#91bccb,#91bccb,#92bccb,#92bccb,#a8c7d1,#b4cdd6,#a6c6d0,#95becc,#9ec2ce,#94bdcc,#aac8d2,#c1d3db,#a6c6d0,#c6d6dd,#c7d6de,#9ac0cd,#9ac1cd,#bad0d8,#bfd3db,#c6d6dd,#cfdae1,#bdd2da,#bed2da,#b6ced7,#a6c7d0,#aac9d2,#a8c7d1,#aac8d2,#b2ccd5,#a5c6d0,#99c0cd,#b3cdd6,#cfdae1,#b0cbd4,#a8c7d1,#b0cbd4,#d4dde4,#dde2e8,#b4cdd6,#c3d4dc,#cad7df,#b2ccd5,#a5c6d0,#a4c6d0,#b5ced7,#bed2da,#a8c8d1,#adcad3,#a1c4cf,#9cc1ce,#9cc1ce,#b5cdd6,#eae9ec,#d6dee5,#dee3e9,#dbe1e8,#e2e5eb,#e8e8ec,#d6dee5,#aecad4,#9cc2ce,#9cc1ce,#c4d5dd,#c2d4db,#b8cfd8,#a3c5cf,#9ec3ce,#a8c7d1,#c5d5dd,#f3edec,#e1af9e,#d79078,#d79078,#d79078,#d79078,#d79078,#e3b6a6,#f3eeed,#c6d6dd,#cdd9e0,#ccd9e0,#69a7c3,#4f98c1,#5ea1c2,#277fc1,#277fc1,#6ea9c3,#76aec4,#4a95c1,#71abc4,#b3cdd5,#8ab8c9,#9cc2ce,#9cc1ce,#a5c6d0,#c4d5dc,#b6ced7,#a5c6d0,#c3d4dc,#bfd2da,#9fc3cf,#9cc1ce,#a3c5cf,#b7cfd7,#e4e6ec,#b2ccd5,#b4cdd6,#b9cfd8,#c5d5dd,#d0dae1,#bed2da,#b2ccd5,#dfe3e9,#ebeaec,#c7d6de,#adcad3,#9cc1ce,#9cc1ce,#bad0d9,#b9cfd8,#a2c5cf,#9cc1ce,#9dc2ce,#c9d7de,#dae0e7,#d4dde4,#cedae1,#b0cbd4,#b6ced7,#c4d5dc,#bbd0d9,#9cc1ce,#b3cdd6,#cc694f,#b73a2a,#cd6a50,#bad0d9,#b0cbd4,#b1ccd5,#b0cbd4,#b0cbd4,#b0cbd4,#b0cbd4,#bcd1d9,#c5d5dd,#c3d4dc,#c4d5dd,#b3cdd6,#b0cbd4,#b0cbd4,#c0d3db,#ced9e0,#c7d6dd,#b3cdd6,#bed2da,#d4dde4,#e4e6ec,#e8e8ec,#eeebed,#cedae1,#c5d5dd,#d3dce3,#e3e5ec,#dde2e8,#cbd8df,#e6e7ec,#dca08c,#901528,#640d23,#640d23,#640d23,#8b1428,#d5876e,#eee0da,#f0eced,#efeced,#c96046,#710e28,#710e28,#c96147,#f2eeed,#eae9ec,#e6e7ec,#e9e9ec,#e2e5eb,#d4dde4,#d4dde4,#d4dde4,#d8dfe6,#dbe1e7,#d9e0e6,#d6dee5,#d5dde4,#dce1e8,#e3e5eb,#e8e8ec,#dae0e7,#d7dee5,#f3eeed,#da9882,#cf735a,#cf735a,#cf735a,#da9983,#f2eded,#e4e6ec,#dfe3e9,#c5d5dd,#cad8df,#c3d4dc,#bcd1d9,#b8cfd7,#bad0d8,#cad8df,#d8dfe6,#c6d6dd,#adcad3,#b0cbd4,#cbd8df,#d7dee5,#c9d7de,#c2d4dc,#c1d3db,#b7cfd7,#c2d4dc,#bed2da,#aecad4,#a9c8d2,#a9c8d1,#b9cfd8,#bdd2da,#aecad3,#a7c7d1,#a7c7d1,#a7c7d1,#a6c7d1,#aac8d2,#e4e6ec,#bed2da,#bcd1d9,#b0cbd4,#a4c6d0,#adcad3,#b0cbd4,#c5d5dd,#b7cfd7,#c7d6de,#e4b9aa,#dea692,#dea692,#f0e5e0,#bad0d9,#c1d3db,#cedae1,#c9d7df,#d4dde4,#b2ccd5,#9ec2ce,#9ec2ce,#b8cfd8,#cedae0,#c9d7de,#bad0d8,#96becc,#6eaac3,#3488c0,#2079c2,#2079c2,#76aec4,#5da1c2,#217ac2,#217ac2,#4a95c1,#569cc2,#4894c1,#4995c1,#67a6c3,#81b3c7,#86b6c8,#4c97c1,#237bc2,#3589c0,#237cc2,#247cc2,#247cc2,#247cc2,#247cc2,#247dc2,#5099c1,#8bb9c9,#4a95c1,#257dc2,#589ec2,#72acc4,#9ec3ce,#93bdcb,#5a9fc2,#4592c1,#277ec2,#2980c1,#85b6c8,#a5c6d0,#84b5c7,#9cc1ce,#accad3,#bdd1da,#a0c3cf,#9cc1ce,#b1ccd5,#bdd1da,#abc9d2,#9cc1ce,#9dc2ce,#d5dde4,#e7c5b8,#e2b4a4,#e2b4a4,#efe1dc,#c7d6de,#a0c3cf,#a7c7d1,#a2c5cf,#9cc1ce,#9cc1ce,#9cc1ce,#9cc1ce,#9cc1ce,#a9c8d2,#a6c6d0,#9ec2ce,#b9d0d8,#cad8df,#d1dbe2,#c1d3db,#e2e5eb,#b1ccd5,#9cc1ce,#9cc1ce,#b0cbd5,#bcd1d9,#b8cfd7,#b2ccd5,#b1ccd5,#c3d4dc,#bdd1da,#c0d3db,#bf472d,#bf472d,#bed2da,#b3cdd6,#bdd1da,#c3d4dc,#c3d4dc,#bbd1d9,#d7dfe5,#e0e4ea,#cbd8df,#b8cfd8,#c0d3db,#cbd8df,#c0d3db,#d9e0e6,#ebd6cd,#e8c9bd,#e8c9bd,#ead3ca,#f1eded,#c8d7de,#b6ced7,#b5cdd6,#b5cdd6,#bed2da,#bdd1da,#b9cfd8,#b5cdd6,#b5cdd6,#d9e0e6,#e3e5eb,#c1d3db,#c0d3db,#d9e0e6,#dae0e7,#cedae1,#cad8df,#c2d4dc,#bed2da,#b6ced7,#bfd2da,#b6ced7,#b9cfd8,#c5d5dd,#dde2e9,#dce1e8,#d9e0e6,#e8cbbf,#d38066,#d27f65,#d27f65,#d68a71,#eedfd9,#d5dee4,#abc9d2,#b2ccd5,#ccd8df,#a9c8d2,#91bccb,#a6c6d0,#d6dee5,#d1dbe2,#b1ccd5,#91bccb,#98c0cd,#aac9d2,#a4c6d0,#a2c4cf,#94bdcc,#93bdcb,#acc9d3,#dce2e8,#d2dce2,#a2c4cf,#92bccb,#96bfcc,#91bccb,#99c0cd,#aac8d2,#b3cdd6,#afcbd4,#b6ced7,#cbd8df,#bbd0d9,#d4dde3,#c7d6de,#afcbd4,#b7cfd7,#d7dfe5,#afcbd4,#a3c5d0,#91bccb,#91bccb,#a5c6d0,#dae1e7,#c6d6dd,#92bccb,#d8dfe6,#afcbd4,#b4cdd6,#a2c4cf,#acc9d3,#bdd1da,#b0cbd4,#bfd2da,#adcad3,#96becc,#b4cdd6,#a2c5cf,#91bccb,#9ac1cd,#b8cfd8,#a9c8d2,#9ac1cd,#bad0d8,#c4d5dc,#cbd8df,#b6ced7,#91bccb,#9cc2ce,#bfd2da,#d6dee4,#d5dee4,#c2d4db,#91bccb,#91bccb,#a2c4cf,#91bccb,#91bccb,#91bccb,#a0c4cf,#c2d4db,#ccd9e0,#cfdae1,#abc9d2,#9fc3ce,#9ec2ce,#b4cdd6,#bdd1d9,#d8dfe6,#ced9e0,#b1ccd5,#afcbd4,#c5d5dd,#d0dae1,#efe3de,#c5573d,#efe3de,#b5ced7,#dae0e7,#ced9e0,#d0dbe2,#d4dde4,#c5d5dd,#bbd1d9,#b0cbd4,#b7cfd7,#d2dce2,#d9e0e6,#e7e8ec,#f2eded,#f2eded,#e5e6ec,#d7dfe5,#cbd8df,#c9d7df,#b4cdd6,#b0cbd4,#cedae1,#d2dce3,#b0cbd4,#b0cbd4,#a2c4cf,#b7ced7,#7ab0c5,#4e98c1,#3b8dc0,#64a4c3,#76aec4,#aac8d2,#dce2e8,#d7dee5,#b3cdd6,#a9c8d2,#acc9d3,#c3d4dc,#dfe3e9,#aac8d2,#a7c7d1,#a7c7d1,#a7c7d1,#a7c7d1,#b4cdd6,#d4dde3,#ccd8df,#cfdae1,#dee3e9,#e8e8ec,#d7dee5,#bdd1da,#c9d7de,#d7dfe5,#bcd1d9,#a7c7d1,#a7c7d1,#a7c7d1,#a7c7d1,#a7c7d1,#b4cdd6,#b8cfd8,#a7c7d1,#acc9d3,#aecad4,#a7c7d1,#a7c7d1,#a7c7d1,#a7c7d1,#a7c7d1,#a7c7d1,#a7c7d1,#adcad3,#a7c7d1,#a7c7d1,#a7c7d1,#b2ccd5,#d5dee4,#d8dfe6,#c6d6dd,#cdd9e0,#dde2e8,#e1e4ea,#d2dce3,#c4d5dc,#bcd1d9,#bdd2da,#d1dbe2,#d1dbe2,#afcbd4,#abc9d2,#c1d3db,#ccd9e0,#d8dfe6,#d8dfe6,#c3d4dc,#d0dbe2,#eae9ec,#c7d6de,#a7c7d1,#a7c7d1,#a7c7d1,#a7c7d1,#a7c7d1,#afcbd4,#cedae1,#cfdae1,#c7d6de,#99c0cd,#8cb9ca,#8cb9ca,#388bc0,#4c96c1,#80b3c7,#3e8ec1,#3187c0,#3d8dc1,#4c96c1,#5ea1c2,#94bdcc,#cad8df,#e3e6ec,#d78f77,#9f1828,#8e1428,#8e1428,#8e1428,#9d1728,#cf7258,#ebd4cb,#efeced,#f1e8e5,#e2b3a2,#dea592,#dda28e,#dda38f,#dda38f,#d4866c,#d4846b,#d4846b,#d4846b,#d4866c,#dfa895,#e6bfb2,#dea692,#dea692,#dea692,#ead3c9,#eeebed,#e8e8ec,#e5e6ec,#e8e8ec,#eeebed,#edebed,#e4e6ec,#e7e8ec,#edebed,#e9e9ec,#e6e7ec,#e9e9ec,#eae9ec,#e4e6ec,#e4e6ec,#e6e7ec,#d8dfe6,#d5886f,#af2d29,#af2d29,#f1eded,#60a2c2,#83b4c7,#76aec4,#3589c0,#287fc1,#277fc1,#277fc1,#64a4c3,#b2ccd5,#adcad3,#cbd8df,#b5cdd6,#a7c7d1,#afcbd4,#cfdae1,#b7ced7,#a7c7d1,#bbd1d9,#d2dce3,#b8cfd8,#c0d3db,#e4b9a9,#a21b28,#a21b28,#ad2c29,#f2eded,#7fb2c6,#7cb1c6,#77afc4,#589ec2,#78afc5,#79afc5,#68a6c3,#69a7c3,#599ec2,#549bc2,#549bc2,#549bc2,#6ea9c3,#8ebaca,#6da9c3,#549bc2,#6eaac3,#a0c3cf,#9cc2ce,#82b4c7,#8dbaca,#c5d5dd,#e0ab99,#b73a2a,#b73a2a,#b73a2a)"></div>
<div style="top:0px;height:70px;background:linear-gradient(90deg,rgba(244,240,239,0.00),rgba(244,240,239,0.00),rgba(244,240,239,0.00),rgba(244,240,239,0.00),rgba(244,240,239,0.00),rgba(244,240,239,0.00),rgba(244,240,239,0.00),rgba(244,240,239,0.00),rgba(244,240,239,0.00),rgba(244,240,239,0.00),rgba(244,240,239,0.00),rgba(244,240,239,0.00),rgba(244,240,239,0.00),rgba(244,240,239,0.00),rgba(244,240,239,0.00),rgba(244,240,239,0.00),rgba(244,240,239,0.00),rgba(244,240,239,0.00),rgba(244,240,239,0.00),rgba(244,240,239,0.12),rgba(244,240,239,0.29),rgba(244,240,239,0.32),rgba(244,240,239,0.32),rgba(244,240,239,0.32),rgba(244,240,239,0.32),rgba(244,240,239,0.32),rgba(244,240,239,0.27),rgba(244,240,239,0.14),rgba(244,240,239,0.14),rgba(244,240,239,0.14),rgba(244,240,239,0.14),rgba(244,240,239,0.14),rgba(244,240,239,0.14),rgba(244,240,239,0.14),rgba(244,240,239,0.37),rgba(244,240,239,0.42),rgba(244,240,239,0.42),rgba(244,240,239,0.42),rgba(244,240,239,0.42),rgba(244,240,239,0.42),rgba(244,240,239,0.33),rgba(244,240,239,0.06),rgba(244,240,239,0.03),rgba(244,240,239,0.00),rgba(244,240,239,0.00),rgba(244,240,239,0.00),rgba(244,240,239,0.00),rgba(244,240,239,0.00),rgba(244,240,239,0.00),rgba(244,240,239,0.00),rgba(244,240,239,0.00),rgba(244,240,239,0.00),rgba(244,240,239,0.00),rgba(244,240,239,0.00),rgba(244,240,239,0.00),rgba(244,240,239,0.00),rgba(244,240,239,0.00),rgba(244,240,239,0.00),rgba(244,240,239,0.00),rgba(244,240,239,0.00),rgba(244,240,239,0.00),rgba(244,240,239,0.00),rgba(244,240,239,0.00),rgba(244,240,239,0.00),rgba(244,240,239,0.00),rgba(244,240,239,0.00),rgba(244,240,239,0.00),rgba(244,240,239,0.00),rgba(244,240,239,0.00),rgba(244,240,239,0.00),rgba(244,240,239,0.00),rgba(244,240,239,0.00),rgba(244,240,239,0.00),rgba(244,240,239,0.00),rgba(244,240,239,0.00),rgba(244,240,239,0.00),rgba(244,240,239,0.00),rgba(244,240,239,0.00),rgba(244,240,239,0.00),rgba(244,240,239,0.03),rgba(244,240,239,0.21),rgba(244,240,239,0.32),rgba(244,240,239,0.32),rgba(244,240,239,0.32),rgba(244,240,239,0.33),rgba(244,240,239,0.33),rgba(244,240,239,0.33),rgba(244,240,239,0.34),rgba(244,240,239,0.34),rgba(244,240,239,0.34),rgba(244,240,239,0.35),rgba(244,240,239,0.18),rgba(244,240,239,0.00),rgba(244,240,239,0.00),rgba(244,240,239,0.00),rgba(244,240,239,0.00),rgba(244,240,239,0.00),rgba(244,240,239,0.00),rgba(244,240,239,0.00),rgba(244,240,239,0.00),rgba(244,240,239,0.00),rgba(244,240,239,0.00),rgba(244,240,239,0.00),rgba(244,240,239,0.00),rgba(244,240,239,0.00),rgba(244,240,239,0.00),rgba(244,240,239,0.00),rgba(244,240,239,0.00),rgba(244,240,239,0.00),rgba(244,240,239,0.00),rgba(244,240,239,0.00),rgba(244,240,239,0.00),rgba(244,240,239,0.00),rgba(244,240,239,0.00),rgba(244,240,239,0.00),rgba(244,240,239,0.00),rgba(244,240,239,0.00),rgba(244,240,239,0.00),rgba(244,240,239,0.00),rgba(244,240,239,0.00));-webkit-mask-image:linear-gradient(180deg,#000 0%,#000 35%,transparent 100%);mask-image:linear-gradient(180deg,#000 0%,#000 35%,transparent 100%)"></div>
<div style="top:140.5px;height:27px;background:linear-gradient(90deg,#9ac0cd,#9dc2ce,#bad0d8,#cdd9e0,#b8cfd8,#9fc3ce,#9dc2ce,#bbd1d9,#e0e4ea,#eeeced,#ead0c6,#d0765c,#d0765c,#efe4df,#a8c7d1,#6eaac3,#4291c1,#3388c0,#408fc1,#4a96c1,#4492c1,#3f8fc1,#388ac0,#388bc0,#4894c1,#63a4c3,#7cb1c6,#9ac0cd,#a9c8d1,#adcad3,#b3cdd6,#b8cfd8,#abc9d2,#9cc1ce,#8bb9c9,#599ec2,#2b82c1,#287fc1,#3689c0,#378ac0,#4e98c1,#6faac3,#6ca9c3,#539bc2,#4d97c1,#5ea1c2,#67a6c3,#7ab0c5,#95becc,#74adc4,#2f85c0,#146fc4,#136cc6,#136cc6,#146ec5,#3488c0,#a4c5d0,#e3e5eb,#eae9ec,#e9e9ec,#e8e8ec,#e8e8ec,#eceaed,#f3edec,#f0e7e3,#f0e5e1,#f1e7e4,#f2eded,#e4e6ec,#b4cdd6,#64a4c3,#3d8ec1,#4291c1,#67a6c3,#7cb1c5,#599ec2,#579dc2,#91bccb,#c7d6de,#d5dde4,#cfdae1,#c3d4dc,#aecad4,#a9c8d1,#bad0d8,#c5d5dd,#c0d3db,#bad0d8,#bfd2da,#c2d4dc,#bfd3db,#bfd3db,#e7e8ec,#e2b3a3,#d17b62,#d27c62,#e3b5a5,#e3e6ec,#9dc2ce,#83b5c7,#8cb9ca,#aac9d2,#bfd3db,#b4cdd6,#99c0cd,#88b7c9,#7cb1c5,#76aec4,#75adc4,#76aec4,#88b7c9,#aecad3,#b6ced7,#9bc1ce,#84b5c8,#7db1c6,#7eb2c6,#82b4c7,#88b7c9,#9ac1cd,#a8c7d1,#98bfcd,#80b3c6,#81b3c7,#98bfcd,#9fc3cf,#89b8c9,#8fbbca,#efeced,#dc9f8a,#f1e9e6,#8bb9c9,#66a5c3,#6da9c3,#6da9c3,#73acc4,#8cb9ca,#bfd2da,#f2ecea,#f1e8e5,#d1dbe2,#a6c6d0,#9cc1ce,#abc9d2,#b9d0d8,#b4cdd6,#a6c7d0,#a2c4cf,#a4c6d0,#a0c3cf,#a5c6d0,#b7cfd7,#c7d6de,#cbd8df,#bfd3db,#a9c8d1,#9ec3ce,#adcad3,#c2d4dc,#c8d7de,#c1d3db,#bbd0d9,#b8cfd7,#afcbd4,#9bc1ce,#90bbcb,#8ebaca,#8ebaca,#91bccb,#98bfcd,#9fc3ce,#a5c6d0,#b0cbd4,#b9cfd8,#b5cdd6,#a9c8d2,#a9c8d1,#b5ced7,#c2d4dc,#c4d5dc,#bad0d8,#abc9d2,#c6d6dd,#f1e9e7,#efe2dd,#e7e8ec,#cdd9e0,#b3cdd6,#aac8d2,#bad0d8,#cad8df,#d4dde4,#dfe3e9,#d7dfe5,#b0cbd5,#82b4c7,#5ea1c2,#4391c1,#3f8fc1,#4693c1,#69a7c3,#9ec3ce,#bdd1da,#c0d3db,#bed2da,#cad8df,#d5dde4,#d9e0e6,#d6dee4,#c8d7de,#b5cdd6,#b4cdd6,#c5d5dd,#cdd9e0,#d3dce3,#c6d6dd,#a3c5cf,#89b8c9,#9ac0cd,#b6ced7,#ccd9e0,#d9e0e6,#d4dde3,#c2d4dc,#b6ced7,#bcd1d9,#c9d7de,#c4d5dc,#b9cfd8,#b7cfd7,#bfd2da,#c8d7de,#bdd2da,#b0cbd5,#b5cdd6,#b8cfd8,#b4cdd6,#abc9d2,#a2c5cf,#acc9d3,#c3d4dc,#c9d7de,#bed2da,#c0d3db,#c8d7de,#c0d3db,#96becc,#6aa8c3,#6ca9c3,#80b3c7,#82b4c7,#67a6c3,#388bc0,#1974c3,#1e78c3,#5099c1,#89b8c9,#a4c5d0,#97bfcc,#7fb3c6,#76aec4,#76aec4,#7db1c6,#8dbaca,#96becc,#8cb9ca,#81b4c7,#7fb3c6,#82b4c7,#92bccb,#a0c3cf,#a0c3cf,#abc9d3,#a9c8d1,#8ebaca,#8bb8c9,#9fc3cf,#adcad3,#b5ced6,#b7cfd7,#b0cbd4,#a9c8d2,#a0c3cf,#94bdcc,#91bccb,#91bccb,#94bdcc,#95becc,#8dbaca,#8bb9c9,#9fc3cf,#adcad3,#a1c4cf,#97bfcc,#a4c6d0,#bdd1d9,#c1d4db,#b1ccd5,#afcbd4,#afcbd4,#a0c4cf,#91bccb,#91bccb,#9ec2ce,#a2c5cf,#98bfcd,#91bccb,#89b8c9,#84b5c7,#8bb9c9,#abc9d3,#cdd9e0,#d0dbe2,#d0dae1,#d1dbe2,#d6dee5,#d7dfe5,#c3d4dc,#a1c4cf,#89b8c9,#8fbbca,#a7c7d1,#acc9d3,#a1c4cf,#8fbbca,#89b8c9,#99c0cd,#c0d3db,#f2eeed,#e5bcae,#d99780,#d68d74,#d68c73,#d68d74,#da9882,#e6c0b2,#f1eded,#cad8df,#b9d0d8,#a0c4cf,#60a2c2,#3b8cc0,#2d83c1,#1974c3,#1d77c3,#3e8ec1,#4c97c1,#4291c1,#5da0c2,#7db2c6,#7db1c6,#7eb2c6,#84b5c8,#93bdcb,#a5c6d0,#a1c4cf,#9bc1cd,#a7c7d1,#a4c6d0,#8fbbca,#86b6c8,#8fbbca,#aac9d2,#bdd1da,#acc9d3,#a2c5cf,#a8c7d1,#b2ccd5,#b7cfd7,#aecad4,#b0cbd4,#cbd8df,#d4dde4,#bad0d9,#9bc1cd,#88b7c9,#8bb9c9,#9dc2ce,#9ec2ce,#8ebaca,#85b6c8,#91bccb,#b1ccd5,#c5d5dd,#c4d5dd,#b8cfd7,#a6c7d1,#a5c6d0,#abc9d2,#a2c5cf,#9bc1cd,#e2e5eb,#d5886f,#c35036,#d5876d,#e7e8ec,#a6c6d0,#9bc1ce,#9ac1cd,#9ac0cd,#9ac1cd,#9ec3ce,#a8c8d1,#b0cbd4,#b1ccd5,#adcad3,#a3c5d0,#9cc2ce,#a0c3cf,#adcad3,#b7ced7,#b2ccd5,#a9c8d1,#b0cbd4,#c4d5dc,#d6dee5,#dfe3ea,#dde2e8,#c8d6de,#bcd1d9,#c5d5dd,#d0dbe2,#cdd9e0,#ccd9e0,#f1eded,#d68b72,#a01928,#590c1e,#4b0a18,#570c1d,#961628,#cf745b,#ead2c9,#f3eeed,#ebd5cc,#c96046,#831228,#831228,#c96046,#ebd6cd,#e8e8ec,#dfe3e9,#dde2e8,#d5dde4,#cad8df,#c6d6dd,#c7d6de,#cbd8df,#cdd9e0,#cbd8df,#c9d7de,#c9d7df,#cfdae1,#d7dee5,#d9e0e6,#d2dce2,#d8dfe6,#f1e8e5,#dea592,#d0785f,#ce6e54,#d1785f,#dea693,#f0e6e3,#dfe3e9,#ced9e0,#bdd1da,#b6ced7,#b1ccd5,#abc9d2,#a7c7d1,#acc9d3,#b9cfd8,#c0d3db,#b3cdd6,#a1c4cf,#a3c5d0,#b6ced7,#c0d3db,#bad0d8,#b2ccd5,#adcad3,#a9c8d2,#acc9d3,#a8c7d1,#9bc1ce,#93bdcc,#96becc,#a1c4cf,#a5c6d0,#9ac0cd,#91bccb,#8ebaca,#8ebaca,#90bbcb,#a4c6d0,#bdd1da,#b5ced6,#a7c7d1,#9ac1cd,#92bccb,#95becc,#9fc3cf,#aac8d2,#afcbd4,#d8dfe5,#ebd5cc,#e1ae9d,#e4baac,#f2eae8,#c5d5dd,#b3cdd6,#b9d0d8,#bcd1d9,#b8cfd8,#a2c5cf,#8cb9ca,#8dbaca,#a4c5d0,#b5ced6,#b4cdd6,#a0c4cf,#79afc5,#4d97c1,#217ac2,#136cc6,#1873c4,#398bc0,#3186c0,#1470c4,#146ec5,#247cc2,#2f84c0,#2d83c1,#3186c0,#4894c1,#5fa1c2,#599ec2,#3085c0,#1672c4,#146fc5,#136cc6,#136ac7,#136ac7,#136ac7,#136bc7,#1470c4,#3186c0,#4c97c1,#3085c0,#1f79c3,#3287c0,#5a9fc2,#72acc4,#6aa7c3,#4491c1,#267ec2,#1571c4,#227ac2,#589dc2,#77afc4,#76aec4,#81b3c7,#94bdcc,#9cc1ce,#8ebaca,#8ab8c9,#98bfcd,#a0c4cf,#94bdcc,#88b7c9,#98c0cd,#d5dde4,#eddcd4,#e5bcae,#e7c4b8,#f1e9e7,#c4d5dd,#97bfcc,#8cb9ca,#88b7c9,#83b5c7,#81b4c7,#81b4c7,#81b4c7,#85b6c8,#8cb9ca,#8cb9ca,#8fbbca,#a4c5d0,#b6ced7,#bbd1d9,#bcd1d9,#bfd2da,#a6c6d0,#8ab8c9,#88b7c9,#98bfcd,#a4c5d0,#a4c5d0,#9fc3cf,#a2c5cf,#abc9d2,#b4cdd6,#f1eded,#d17960,#d17a60,#efeced,#adcad3,#aac8d2,#afcbd4,#b0cbd4,#b3cdd6,#c4d5dc,#cad8df,#bbd1d9,#adcad3,#afcbd4,#b4cdd6,#bad0d8,#dae0e7,#f0e5e0,#ead1c7,#ead0c6,#eeded8,#eae9ec,#c3d4dc,#a9c8d1,#a2c4cf,#a4c5d0,#a9c8d2,#a9c8d2,#a6c6d0,#a3c5cf,#acc9d3,#c3d4dc,#cad8df,#b9d0d8,#b6ced7,#c4d5dc,#c8d7de,#c0d3db,#b8cfd8,#b1ccd5,#abc9d2,#a7c7d1,#a8c7d1,#a6c6d0,#a9c8d2,#b7cfd7,#c9d7de,#d0dbe2,#e6e7ec,#e9cec4,#d68d75,#d17b62,#d27e65,#db9b86,#edded8,#d2dce2,#a7c7d1,#a4c5d0,#a9c8d2,#96becc,#85b5c8,#98bfcd,#b7cfd7,#b8cfd8,#9dc2ce,#82b4c7,#81b4c7,#8bb9c9,#8bb9c9,#85b6c8,#7db1c6,#81b4c7,#9ec3ce,#bdd1da,#b7ced7,#94bdcc,#7db1c6,#79afc5,#79afc5,#81b4c7,#90bbcb,#99c0cd,#9dc2ce,#a6c7d0,#b0cbd5,#b3cdd6,#bad0d8,#b2ccd5,#a5c6d0,#abc9d2,#b4cdd6,#a2c4cf,#89b8c9,#7bb0c5,#7cb1c6,#98bfcd,#b6ced7,#aecad3,#9dc2ce,#adcad3,#a6c7d0,#99c0cd,#91bccb,#97bfcd,#a1c4cf,#a2c5cf,#a3c5cf,#95becc,#8bb9c9,#91bccb,#89b8c9,#7db2c6,#86b6c8,#96becc,#92bccb,#8fbbca,#a1c4cf,#b0cbd5,#b1ccd5,#9ec2ce,#85b6c8,#8bb9c9,#aac8d2,#bfd2db,#c0d3db,#a9c8d2,#85b6c8,#7bb0c5,#7eb2c6,#79afc5,#75aec4,#7ab0c5,#8dbaca,#a9c8d2,#b8cfd7,#b3cdd6,#9bc1ce,#89b8c9,#8bb9c9,#9cc1ce,#afcbd4,#bed2da,#b8cfd7,#a5c6d0,#a2c5cf,#b3ccd5,#d4dde4,#ebd8cf,#da9a84,#eddcd4,#cdd9e0,#c1d3db,#c1d4db,#c1d3db,#c0d3db,#b5ced6,#a9c8d2,#a2c4cf,#aac8d2,#bed2da,#cfdae1,#dee3e9,#e9e9ec,#e8e8ec,#dce1e8,#cbd8df,#bed2da,#b3cdd6,#a6c7d1,#a6c7d1,#b6ced7,#b7cfd7,#a5c6d0,#97bfcc,#92bccb,#89b8c9,#62a3c2,#378ac0,#2d83c1,#4290c1,#64a4c3,#94bdcc,#bdd2da,#bfd2da,#a7c7d1,#97bfcc,#9cc2ce,#b2ccd5,#bbd0d9,#a3c5cf,#90bbcb,#8ebaca,#8ebaca,#93bdcb,#a5c6d0,#b9cfd8,#bed2da,#c3d4dc,#d0dbe2,#d6dee5,#c8d7de,#b7ced7,#b9d0d8,#bdd1d9,#abc9d2,#96becc,#8ebaca,#8ebaca,#8ebaca,#92bccb,#9cc1ce,#9dc2ce,#95becc,#94bdcc,#94bdcc,#90bbcb,#8ebaca,#8ebaca,#8ebaca,#8ebaca,#8ebaca,#90bbcb,#92bccb,#90bbcb,#8ebaca,#92bdcb,#a5c6d0,#bdd1da,#c3d4dc,#bcd1d9,#c0d3db,#ccd9e0,#cfdae1,#c3d4dc,#b5cdd6,#adcad3,#b0cbd5,#bbd1d9,#b7cfd7,#a3c5d0,#9ec2ce,#accad3,#bbd1d9,#c6d6dd,#c4d5dd,#bcd1d9,#c6d6dd,#d0dbe1,#b8cfd8,#9ac0cd,#8fbbca,#8ebaca,#8ebaca,#91bccb,#a0c4cf,#b5ced6,#bbd0d9,#acc9d3,#89b8c9,#73acc4,#5ca0c2,#3388c0,#3589c0,#4492c1,#2c82c1,#1e78c3,#227bc2,#2e84c1,#4a95c1,#79b0c5,#b6ced7,#f1eded,#d5886f,#aa2629,#7f1128,#770f28,#7d1128,#a31c28,#cd6a50,#e7c4b7,#f2ebe8,#efe4df,#e6c0b3,#dfa895,#dda28d,#dca08c,#da9882,#d5876e,#d38067,#d38066,#d38167,#d58970,#dda28e,#e2b2a2,#e0ab98,#dea693,#e2b2a2,#ebd7cf,#efeced,#e2e5eb,#dde2e8,#e1e4ea,#e6e7ec,#e5e6ec,#dfe3e9,#e0e4ea,#e4e6ec,#e2e5eb,#dfe3ea,#e1e4ea,#e0e4ea,#dce1e8,#dae0e7,#dbe1e7,#f3eeed,#d68d74,#bc412a,#c6593f,#efe4df,#7fb2c6,#5ea1c2,#4c96c1,#257dc2,#146fc5,#136dc6,#1b75c3,#4995c1,#82b4c7,#9fc3ce,#abc9d3,#a3c5cf,#97bfcc,#a0c4cf,#aecad4,#a5c6d0,#9bc1ce,#a9c8d2,#b5cdd6,#b2ccd5,#d9e0e6,#dfa997,#b63829,#9e1828,#c35036,#eedfd8,#92bccb,#64a4c3,#579dc2,#4b96c1,#569cc2,#599ec2,#5099c1,#4794c1,#3d8dc1,#3689c0,#3589c0,#3c8dc0,#539ac2,#61a3c2,#539ac2,#4592c1,#599ec2,#75adc4,#7ab0c5,#71abc4,#84b5c8,#d4dde3,#e0ac9a,#c24e34,#af2e29,#ad2b29)"></div>
<div style="top:167px;height:34.5px;background:linear-gradient(90deg,#ebeaec,#eceaed,#efeced,#efeced,#e9e9ec,#eceaed,#edebed,#efeced,#eeebed,#e8e8ec,#e9e9ec,#edebed,#eceaed,#e9e9ec,#efeced,#f3eeed,#f1eded,#ebeaec,#e7e8ec,#ebeaec,#efeced,#f2eded,#f0eded,#eceaed,#e8e8ec,#eae9ec,#efeced,#eeebed,#eceaed,#ebe9ec,#edebed,#efeced,#eceaed,#e9e9ec,#eceaed,#eeebed,#ebeaec,#eceaed,#ebeaec,#ebeaec,#ebeaec,#eeebed,#eeeced,#edebed,#efeced,#f3eeed,#f2eeed,#f1eded,#f1eded,#f3eeed,#f3edec,#efeced,#edebed,#efeced,#efeced,#eceaed,#edebed,#eeebed,#efeced,#f1eded,#f1eded,#efeced,#edebed,#ebeaec,#eceaed,#f0eced,#eceaed,#e9e8ec,#eeebed,#edebed,#e9e9ec,#ebeaec,#eeebed,#f0eded,#eeebed,#eeebed,#f2eded,#efeced,#eceaed,#ebeaec,#edebed,#f3edec,#f3edeb,#efeced,#eae9ec,#e9e9ec,#eceaed,#eae9ec,#e8e8ec,#e8e8ec,#eae9ec,#edebed,#e9e9ec,#eae9ec,#f0eced,#f0eced,#f2eeed,#f2eded,#f1eded,#f1eded,#ecebed,#eeebed,#f0eded,#f2eeed,#f2ebe9,#f1e8e5,#f2eae8,#f1eae7,#f1eded,#edebed,#edebed,#edebed,#f3eeed,#f1eae7,#f1eded,#eeebed,#efeced,#f1eded,#f1eded,#f1eded,#f0eced,#eeebed,#eeebed,#f0eded,#f3eeed,#f3eeed,#f2eeed,#f1eded,#edebed,#eae9ec,#ebeaec,#eae9ec,#ebeaec,#eae9ec,#e8e8ec,#e8e8ec,#ebe9ec,#ebeaec,#eeebed,#f2eded,#f0eced,#f1eded,#f0eded,#eeebed,#efeced,#f1eded,#f3eeed,#f3eeed,#f1eded,#f1eded,#efeced,#eceaed,#eae9ec,#edebed,#f0eced,#eeebed,#eae9ec,#ebeaec,#ebeaec,#efeced,#f3eeed,#f3eeed,#f0eded,#efeced,#ebeaec,#eceaed,#ecebed,#e9e9ec,#eae9ec,#eeebed,#f0eced,#edebed,#eeebed,#f1eded,#f2eded,#eae9ec,#eae9ec,#eeebed,#eceaed,#edebed,#edebed,#e8e8ec,#e8e8ec,#edebed,#f1eded,#f3eeed,#f2eded,#eceaed,#efeced,#f1eded,#f0eced,#f2eeed,#f2eded,#f0eced,#eeebed,#eeebed,#eeebed,#f1eded,#f3edec,#f2eeed,#eceaed,#eae9ec,#eceaed,#eeebed,#f1eded,#f2eeed,#f0eced,#efeced,#f2eeed,#f1eded,#ebeaec,#ebeaec,#ebeaec,#eceaed,#edebed,#f3eeed,#f1e9e6,#f2ebe9,#f2ecea,#f2ebe9,#f2eae8,#f3eeed,#f0eced,#eeeced,#edebed,#f1eded,#f2eded,#eae9ec,#e7e8ec,#e9e9ec,#efeced,#f2ebe8,#f1eae7,#f0eced,#ebeaec,#ebeaec,#edebed,#f0eded,#f2eded,#f2ebea)"></div>
</div>
<div class="p" style="top:2458.5px">
<div style="top:0px;height:141px;background:linear-gradient(90deg,#e7c4b8,#e1af9e,#ead1c7,#efe3de,#e9cdc2,#e5beb0,#e4b9aa,#e9cfc5,#f2ecea,#f1eded,#eeebed,#a7c7d1,#a1c4cf,#f1eae7,#e3b5a5,#e0ab99,#d17a60,#d0775d,#d38067,#d9957f,#d79078,#db9d88,#d8927a,#d78f76,#d8947c,#dfa794,#e1ae9d,#e6c0b3,#e7c4b7,#e6c3b6,#e7c4b8,#e9d0c5,#e5bfb1,#e2b2a1,#e6c0b2,#db9c86,#d38369,#d4866d,#dea591,#d5876e,#d9947d,#e3b6a6,#e0ab99,#d78e76,#d4856c,#d99780,#d79078,#dc9f8a,#e8c8bc,#e5bcad,#d27c63,#ce6f55,#cd6c52,#cc6a50,#cd6a50,#cf7259,#ecdbd4,#eeebed,#f0eded,#f2ebe9,#f1e8e4,#f0e6e3,#f2ebe9,#eeebed,#ebeaec,#efeced,#f3eeed,#f0e7e3,#eedfd8,#e7c6ba,#d38269,#d17b61,#d27c63,#d8947c,#e6c0b2,#d58a71,#d9957e,#e9ccc2,#f0e5e1,#eedfd8,#e8cbbf,#e8c9bd,#e4b9aa,#e5bbad,#ebd5cc,#edddd7,#ecdad2,#ebd4cb,#ecd9d1,#ead4ca,#e9ccc1,#e6c1b4,#e8cbc0,#e3e5eb,#cedae1,#ced9e0,#e0e4ea,#eddcd4,#e5beb0,#e4b8a8,#e4baab,#e9ccc1,#eedfd9,#ebd6cd,#e5bdaf,#e3b7a7,#dea793,#dc9f8a,#db9c87,#dc9e89,#dda38f,#e9cec3,#ecd9d1,#e5bcad,#e3b5a5,#e1b1a0,#e2b3a3,#e5bbad,#e5bcae,#e8c8bc,#ead2c8,#e5beb0,#dfa997,#dea794,#e4baab,#e5beb0,#dfa895,#d8927b,#e6c2b4,#bbd1d9,#ecd9d1,#d8927b,#d79179,#dda490,#da9882,#dc9e89,#e2b4a3,#e5bdae,#efeced,#f0eced,#e9ccc1,#e5bcad,#e4b9aa,#e6c2b5,#e9ccc1,#e6c2b4,#e1b1a0,#e3b5a5,#e6c0b3,#e5bdae,#e5bdae,#e9ccc1,#ebd4cb,#ecd8d0,#ead2c8,#e5bcae,#e3b6a6,#e6c2b4,#ebd7ce,#ecdbd4,#ebd5cc,#ead0c6,#e9ccc1,#e8cabf,#e4b9aa,#e4b9aa,#e5bcae,#e5bdae,#e3b6a7,#e1b09f,#e0ad9c,#e0ac9a,#e4baac,#e7c7bb,#e7c5b8,#e3b7a7,#e3b5a5,#e5bfb1,#e9cdc2,#e9cfc4,#e9cdc2,#e4b8a9,#e4b9aa,#f0eced,#efeced,#eddcd4,#ecdbd3,#e7c6ba,#e5bfb1,#ebd8cf,#eee0da,#efe2dc,#f1e9e7,#efe2dd,#e4b8a9,#db9e89,#d79077,#d27f66,#d68c73,#d4856c,#dda28d,#e7c3b7,#ebd6ce,#ead2c8,#e7c7bb,#ead1c7,#ead3ca,#ebd5cb,#ecd8d0,#ebd6cd,#e7c7bb,#e7c6ba,#edddd5,#ecdad2,#f0e5e1,#efe4df,#e9ccc1,#e3b5a5,#e6c1b4,#ead2c8,#ecdad3,#efe3de,#eddcd4,#e9ccc1,#e6c3b6,#e7c4b8,#ead4ca,#e7c7bb,#e6c2b5,#e9cec4,#ebd7ce,#efe4df,#ebd6cd,#e6c2b5,#e8cabe,#e7c7bb,#e6c0b3,#e5bdaf,#e3b6a6,#e5bcae,#ebd7ce,#ecdbd3,#e8cabe,#e9cdc2,#ead0c6,#e9cdc2,#e1af9d,#d58a71,#dc9e89,#e2b1a1,#e3b4a4,#dca18c,#d4846a,#cd6a50,#ce6d54,#db9d88,#e7c5b9,#ecd8d0,#e8cbbf,#e2b3a3,#e0ab99,#dda390,#dc9e8a,#e0ac9a,#e4baab,#e4b8a9,#e3b6a6,#e5beb0,#e4b9aa,#e6c2b5,#e9cec4,#e5bdae,#ead3ca,#ebd6ce,#e4bbac,#e4b9aa,#e7c7bb,#e7c7bb,#e8cabf,#ead2c8,#e8c9bd,#e8cabf,#e7c6ba,#e5beb1,#e6c0b3,#e4baab,#e4b8a9,#e5beb1,#e4b9aa,#e3b5a5,#e7c7bb,#ecdbd3,#e8c8bd,#e6c1b3,#e6c1b3,#ead2c9,#ebd6cd,#e4b9ab,#e7c4b8,#e8c9be,#e4b9ab,#e1ae9d,#e0ac9b,#e4b9aa,#e6c1b3,#e2b3a2,#e2b4a4,#dfaa97,#dea491,#dda38f,#e2b2a1,#eddcd5,#ead0c6,#ecdbd3,#ecdbd4,#edddd6,#eee0db,#ebd4cb,#e4baab,#e1af9d,#e0ad9b,#e7c5b9,#e7c4b7,#e6bfb2,#e2b2a1,#e1b09f,#e4b8a9,#e9cec4,#f3eeed,#dee2e9,#d3dde3,#d5dde4,#d3dde3,#d2dce3,#d2dce3,#e4e6ec,#f1e8e5,#e7c4b8,#e8c8bc,#e7c7bb,#d58970,#d0785e,#d38066,#cc684e,#ce6d54,#d8937c,#d78f77,#cf7157,#d4846a,#dfa895,#d78e75,#d99780,#da9882,#dda28e,#e5bcae,#e4b8a9,#e1b1a0,#e7c7bb,#e6c3b6,#dfa997,#dda38f,#dfa996,#e5bcad,#edddd5,#e4bbac,#e4baab,#e5beb0,#e9ccc1,#ecdbd3,#ead3c9,#e8c9bd,#eee1db,#f1e7e4,#ead1c7,#e6bfb2,#e2b1a0,#e0ac9a,#e5beb0,#e6bfb2,#e1b1a0,#e0ab99,#e0ab99,#e8c8bc,#ead3ca,#e9cdc2,#e7c4b8,#e0ab98,#e0ac9a,#e3b7a7,#e2b3a3,#dca18c,#e1b09f,#ccd9e0,#a6c6d0,#bcd1d9,#e7c5b9,#e4baab,#e4b9ab,#e5bcae,#e6c0b3,#e7c3b7,#e7c6ba,#ead0c6,#ebd5cc,#e9cfc5,#e8c9be,#e4b8a9,#e2b3a3,#e3b6a6,#e7c4b8,#e9cfc4,#e8cabe,#e5beb0,#e8cbbf,#eddcd5,#efe2dd,#eee1db,#eee1dc,#e8c8bc,#e7c7ba,#ebd7ce,#efe3de,#efe1dc,#ebd7ce,#efe2dd,#dce2e8,#83b4c7,#69a7c3,#69a7c3,#6ba8c3,#7fb2c6,#cdd9e0,#ebeaec,#f2eeed,#f3eeed,#abc9d2,#66a5c3,#6da9c3,#bdd1da,#f1e8e4,#efe2dd,#edded7,#eee0db,#edddd6,#ebd5cc,#ead3ca,#ead2c8,#ebd6cd,#ecd9d0,#ebd5cc,#ead2c8,#ead2c8,#ebd7cf,#eddcd4,#eee0da,#ecd9d1,#ecdad2,#f2eded,#cad7df,#b2ccd5,#b8cfd7,#c0d3db,#dae0e7,#f1e8e5,#edddd6,#ecdbd4,#e8cabf,#ead0c6,#ead0c6,#e9cfc4,#e8c9be,#e7c6ba,#e9cec3,#ebd6cd,#e8c8bc,#e4b9ab,#e6c1b4,#ebd6cd,#ecdbd4,#e9cdc2,#e6c3b6,#e6c0b2,#e5bbad,#e7c6ba,#e7c4b8,#e4b8a8,#e2b2a2,#e2b2a2,#e5beb0,#e6c2b5,#e3b6a7,#e2b2a1,#e2b4a4,#e4b8a9,#e4baac,#e5bcae,#edded8,#e6c2b5,#e6c0b3,#e5beb0,#e5beb0,#e8c9bd,#e9ccc2,#ebd7cf,#e9cdc3,#ebd8cf,#dbe1e7,#d4dde4,#d2dce3,#e8e8ec,#ebd8cf,#ecdad2,#edded7,#ecdbd4,#eeded8,#e6c1b4,#dfab98,#dea693,#e3b7a7,#e7c5b9,#e6c0b2,#e3b4a4,#dc9f8a,#d78e75,#d0765c,#ce6d54,#cf7258,#e0ab99,#db9b86,#cf7259,#cd6c52,#d27e65,#d38168,#d0775d,#cf7359,#d38168,#d9957e,#dca08c,#d38269,#cc6a50,#d0755b,#cd6b51,#cd6c53,#ce6e54,#ce6e54,#cd6d53,#cd6b52,#d38168,#dda28d,#d27f66,#ce6f55,#d78e75,#dca08b,#e3b7a7,#e0ac9b,#d5886e,#d27c63,#cc6a50,#cc684e,#d9957e,#dda38f,#d79078,#dda28d,#e2b1a1,#e6c0b3,#e0ad9b,#dea794,#e2b2a2,#e5bcae,#e2b4a3,#e0ab99,#dfa996,#e8c8bc,#f2eded,#eceaed,#e9e9ec,#f2ecea,#e7c7bb,#e1b09f,#e4b8a9,#e3b7a7,#e1ae9d,#dea692,#dca18c,#dda38f,#dea794,#e2b2a1,#e2b3a3,#e1b1a0,#e6c0b2,#e7c6ba,#e8c9bd,#e5bfb1,#ecdbd3,#e5beb0,#e2b4a4,#e2b3a3,#e5bdae,#e6c3b6,#e6c3b6,#e6c3b6,#e6c3b6,#e9cec4,#e8cbc0,#e9cec3,#a0c3cf,#a0c3cf,#e8cbbf,#e5bcae,#e4baab,#e4baab,#e5bdaf,#e6c0b3,#ecd9d0,#eddcd5,#e8c9bd,#e4bbac,#e6c2b5,#e9cec4,#e9ccc1,#edddd6,#edebed,#eeeced,#f2eeed,#f2ebe9,#eee0da,#e6c3b6,#e4b9aa,#e3b6a7,#e3b4a4,#e5bdae,#e6c1b4,#e6c2b4,#e5beb1,#e4baab,#e9ccc1,#e8cabf,#e0ab98,#dfaa98,#e6c2b5,#e8cbc0,#e8c9bd,#e8cabe,#e7c6ba,#e7c6ba,#e7c5b9,#e9ccc1,#e6c1b4,#e5bcad,#e6bfb2,#e9cfc5,#e9cfc5,#ead2c8,#ebe9ec,#c9d7de,#c9d7df,#cad7df,#d0dae1,#eeeced,#ecd9d1,#e5beb0,#e6c3b6,#ead0c6,#e3b6a7,#dea794,#e3b5a6,#ecd9d0,#ebd6cd,#e6c2b5,#e2b1a1,#e4b7a8,#e5bfb1,#e3b4a4,#e1ae9d,#dea693,#dfaa98,#e5beb0,#edded7,#ebd6cd,#e2b1a1,#dea794,#e0ae9c,#e2b1a0,#e3b7a8,#e5bcad,#e4baab,#e3b5a5,#e5bfb1,#ead3c9,#e8c8bd,#ead2c9,#e6c0b3,#dfa895,#dfaa98,#e6c2b5,#e0ad9b,#e1af9e,#e1b09f,#e3b5a6,#e5bfb1,#eddcd4,#e8cbc0,#e0ab99,#ecdad2,#e6c0b2,#e6c2b5,#e3b7a7,#e5bfb1,#e9ccc1,#e7c4b8,#e9ccc1,#e5bcae,#e0ac9a,#e5bcae,#e2b1a1,#dfa895,#dfaa98,#e3b7a8,#e0ab99,#dea592,#e5beb0,#e8cabf,#ead2c8,#e7c4b7,#dfaa98,#e1ae9d,#e7c3b7,#ead2c8,#ead1c7,#e7c6b9,#e0ad9b,#e2b1a1,#e5bdaf,#e2b4a3,#e2b4a4,#e2b4a4,#e5bdaf,#ead2c8,#ead3ca,#e8cbc0,#e0ac9a,#dda18d,#dda28e,#e2b3a3,#e5beb0,#ebd6cd,#ead2c8,#e6c1b4,#e6bfb2,#e9cdc2,#ead4ca,#f2eeed,#b7cfd7,#f2eceb,#e5beb0,#ebd7cf,#e9cdc2,#e9cdc2,#e9cec4,#e7c4b7,#e5bfb1,#e4b9aa,#e5bdaf,#e9cdc2,#ead1c8,#edddd6,#f1e7e4,#f1e8e4,#edddd6,#ead2c9,#e8c8bd,#e7c6ba,#e4baab,#e4b9aa,#e9cdc2,#e9cec3,#e3b6a7,#e4b9aa,#e2b4a3,#e6c2b5,#db9c86,#d27e65,#d0755c,#d68d75,#dc9e89,#e5bcad,#ecdbd3,#ead4ca,#e5bdaf,#e5bcad,#e7c4b7,#ebd6cd,#f0e4e0,#e7c4b8,#e6c0b2,#e4bbac,#e2b2a2,#dfab98,#e1af9e,#e7c5b9,#e6c2b5,#e7c5b9,#ead1c7,#edddd6,#ead4ca,#e7c3b7,#e8c8bd,#ead0c6,#e5bdaf,#e1ae9d,#e1af9e,#e3b4a4,#e4bbac,#e6bfb2,#e8c9be,#e9ccc1,#e5bfb1,#e6c0b3,#e6c1b4,#e5bbad,#e5bbad,#e5bbad,#e4bbac,#e4b8a9,#e2b3a2,#e1ae9c,#e1b1a0,#e1af9e,#e2b2a1,#e1b1a0,#e3b4a4,#e7c7bb,#e7c7bb,#e5bdaf,#e8c9be,#ecdad3,#edded7,#ead2c8,#e6c3b6,#e5bcad,#e5beb0,#e9cec4,#e9cec4,#e3b5a6,#e1b09f,#e5bcae,#e6c3b6,#e9cdc3,#ead1c7,#e7c4b8,#e9cdc3,#efe2dc,#e9cec4,#e5bcae,#e4b8a9,#e1af9d,#dea692,#dca18c,#dea592,#e4baab,#e4b9aa,#e3b6a6,#db9d88,#db9c87,#dea592,#d27e65,#d78e76,#e1b1a0,#d4836a,#d0765d,#d17a60,#d38168,#d68b72,#dfaa98,#e9ccc1,#edddd7,#d3dce3,#85b6c8,#7bb1c5,#7eb2c6,#81b4c7,#8bb9c9,#c5d5dd,#ebeaec,#f2eceb,#eeebed,#dfe3e9,#e5e7ec,#ebeaec,#eceaed,#e9e9ec,#d9e0e6,#d3dce3,#cad8df,#bed2da,#b5ced7,#c3d4dc,#d0dbe2,#cad8df,#d3dce3,#dee3e9,#f3edec,#eddcd4,#ebd7cf,#ecdbd4,#efe3de,#f1e9e6,#f0e5e1,#ecdbd3,#ecdbd4,#efe3de,#f1e7e4,#f1e9e7,#f2eceb,#f3edec,#f1e9e6,#f1e8e5,#f1e7e3,#ecdbd4,#d4dde3,#a1c4cf,#a0c4cf,#f0e6e2,#d5886f,#db9c86,#d9967f,#d0765c,#ce7056,#ce6f55,#cd6c52,#d58a71,#e3b7a7,#e3b6a7,#e9cfc5,#e6c3b6,#e4baab,#e5bfb1,#ead3c9,#e6c2b5,#e4b7a8,#e6c3b6,#ead0c6,#e5beb0,#e6c3b6,#e7e7ec,#88b7c9,#82b4c7,#8dbaca,#f3edeb,#dda38f,#db9b85,#d79078,#d17b62,#d78e75,#d9947d,#d68d75,#d78e75,#d38369,#d38067,#d38269,#d4856c,#db9b85,#e3b4a4,#dda490,#d8917a,#db9c87,#e2b2a1,#e0ab99,#db9d87,#dea693,#e8cbbf,#e2e5eb,#a9c8d2,#aecad4,#b0cbd4)"></div>
<div style="top:0px;height:70px;background:linear-gradient(90deg,rgba(244,240,239,0.00),rgba(244,240,239,0.00),rgba(244,240,239,0.00),rgba(244,240,239,0.00),rgba(244,240,239,0.00),rgba(244,240,239,0.00),rgba(244,240,239,0.00),rgba(244,240,239,0.00),rgba(244,240,239,0.00),rgba(244,240,239,0.00),rgba(244,240,239,0.00),rgba(244,240,239,0.00),rgba(244,240,239,0.00),rgba(244,240,239,0.00),rgba(244,240,239,0.00),rgba(244,240,239,0.00),rgba(244,240,239,0.00),rgba(244,240,239,0.00),rgba(244,240,239,0.00),rgba(244,240,239,0.12),rgba(244,240,239,0.29),rgba(244,240,239,0.32),rgba(244,240,239,0.32),rgba(244,240,239,0.32),rgba(244,240,239,0.32),rgba(244,240,239,0.32),rgba(244,240,239,0.27),rgba(244,240,239,0.14),rgba(244,240,239,0.14),rgba(244,240,239,0.14),rgba(244,240,239,0.14),rgba(244,240,239,0.14),rgba(244,240,239,0.14),rgba(244,240,239,0.14),rgba(244,240,239,0.37),rgba(244,240,239,0.42),rgba(244,240,239,0.42),rgba(244,240,239,0.42),rgba(244,240,239,0.42),rgba(244,240,239,0.42),rgba(244,240,239,0.33),rgba(244,240,239,0.06),rgba(244,240,239,0.03),rgba(244,240,239,0.00),rgba(244,240,239,0.00),rgba(244,240,239,0.00),rgba(244,240,239,0.00),rgba(244,240,239,0.00),rgba(244,240,239,0.00),rgba(244,240,239,0.00),rgba(244,240,239,0.00),rgba(244,240,239,0.00),rgba(244,240,239,0.00),rgba(244,240,239,0.00),rgba(244,240,239,0.00),rgba(244,240,239,0.00),rgba(244,240,239,0.00),rgba(244,240,239,0.00),rgba(244,240,239,0.00),rgba(244,240,239,0.00),rgba(244,240,239,0.00),rgba(244,240,239,0.00),rgba(244,240,239,0.00),rgba(244,240,239,0.00),rgba(244,240,239,0.00),rgba(244,240,239,0.00),rgba(244,240,239,0.00),rgba(244,240,239,0.00),rgba(244,240,239,0.00),rgba(244,240,239,0.00),rgba(244,240,239,0.00),rgba(244,240,239,0.00),rgba(244,240,239,0.00),rgba(244,240,239,0.00),rgba(244,240,239,0.00),rgba(244,240,239,0.00),rgba(244,240,239,0.00),rgba(244,240,239,0.00),rgba(244,240,239,0.00),rgba(244,240,239,0.03),rgba(244,240,239,0.21),rgba(244,240,239,0.32),rgba(244,240,239,0.32),rgba(244,240,239,0.32),rgba(244,240,239,0.33),rgba(244,240,239,0.33),rgba(244,240,239,0.33),rgba(244,240,239,0.34),rgba(244,240,239,0.34),rgba(244,240,239,0.34),rgba(244,240,239,0.35),rgba(244,240,239,0.18),rgba(244,240,239,0.00),rgba(244,240,239,0.00),rgba(244,240,239,0.00),rgba(244,240,239,0.00),rgba(244,240,239,0.00),rgba(244,240,239,0.00),rgba(244,240,239,0.00),rgba(244,240,239,0.00),rgba(244,240,239,0.00),rgba(244,240,239,0.00),rgba(244,240,239,0.00),rgba(244,240,239,0.00),rgba(244,240,239,0.00),rgba(244,240,239,0.00),rgba(244,240,239,0.00),rgba(244,240,239,0.00),rgba(244,240,239,0.00),rgba(244,240,239,0.00),rgba(244,240,239,0.00),rgba(244,240,239,0.00),rgba(244,240,239,0.00),rgba(244,240,239,0.00),rgba(244,240,239,0.00),rgba(244,240,239,0.00),rgba(244,240,239,0.00),rgba(244,240,239,0.00),rgba(244,240,239,0.00),rgba(244,240,239,0.00));-webkit-mask-image:linear-gradient(180deg,#000 0%,#000 35%,transparent 100%);mask-image:linear-gradient(180deg,#000 0%,#000 35%,transparent 100%)"></div>
<div style="left:848px;width:30px;top:88px;height:53px;background:linear-gradient(180deg,rgba(17,98,204,0),rgba(17,98,204,.5))"></div>
<div style="top:140.5px;height:27px;background:linear-gradient(90deg,#e3b6a6,#e3b7a8,#e8c9be,#ebd5cc,#e8c8bc,#e4b8a9,#e3b7a8,#e8cabf,#eee0db,#f2eae8,#e7e8ec,#bbd0d9,#bbd0d9,#eeeced,#e5beb0,#db9d87,#d38269,#d17b62,#d38168,#d4866d,#d4836a,#d38167,#d27d64,#d27e64,#d4856c,#d9957e,#dea592,#e3b6a6,#e5beb0,#e6c1b4,#e7c5b9,#e8c8bc,#e6c0b2,#e3b7a7,#e0ae9c,#d78e76,#d0765c,#cf7359,#d27c63,#d27d63,#d5886f,#db9d88,#db9b86,#d68b72,#d5886f,#d89179,#da9781,#dda490,#e2b3a3,#dca18c,#d1795f,#cb644a,#c96046,#c96046,#ca6349,#d17b62,#e5bbad,#efe2dc,#f1e7e4,#f0e6e3,#f0e6e2,#f0e6e2,#f1e8e5,#f3eeed,#f0eced,#efeced,#f0eced,#f3edec,#efe3de,#e7c6b9,#d9957e,#d38067,#d38369,#da9781,#dea591,#d78e75,#d68d74,#e2b1a0,#ead2c8,#ecdbd3,#ebd7ce,#e9cfc5,#e6c2b5,#e5beb0,#e8c9be,#ead1c7,#e9cdc2,#e8c9be,#e9ccc1,#e9cfc4,#e9cdc2,#e9cdc2,#f0e5e1,#dce1e8,#bed2da,#bfd2da,#dde2e8,#efe2dd,#e4b8a8,#dfa997,#e1ae9d,#e6bfb2,#e9cdc2,#e7c6b9,#e3b5a6,#e0ac9a,#dea591,#dda28d,#dda18d,#dda28e,#e0ac9a,#e6c1b4,#e7c7bb,#e3b7a7,#dfaa97,#dea592,#dea693,#dfa896,#e0ac9a,#e3b6a6,#e5bdaf,#e3b5a5,#dea794,#dfa895,#e3b5a5,#e4b9aa,#e0ad9b,#e1b09f,#f2ebe9,#d3dce3,#f1eded,#e0ad9c,#d99780,#db9b86,#db9b86,#dca08b,#e1ae9d,#e9ccc1,#f2eeed,#f0eded,#ecd8d0,#e5bcae,#e3b7a7,#e6bfb2,#e8c9bd,#e7c6b9,#e5bcae,#e4baab,#e5bbad,#e4b9aa,#e5bcad,#e7c7bb,#ead2c8,#ebd5cb,#e9cdc2,#e5beb0,#e4b8a9,#e6c1b4,#e9cec4,#ead2c9,#e9cec3,#e8cabe,#e8c8bc,#e6c2b5,#e3b7a7,#e1b09f,#e1af9e,#e1af9e,#e1b1a0,#e3b5a5,#e4b9a9,#e5bcad,#e6c3b6,#e8c9bd,#e7c6ba,#e5bfb1,#e5beb0,#e7c6ba,#e9cfc4,#ead0c6,#e8c9bd,#e6c0b2,#ead1c7,#f1eded,#eeebed,#f0e5e1,#ebd6cd,#e7c5b9,#e5bfb1,#e8c9be,#ead4ca,#ecdbd3,#eee0da,#eddcd4,#e6c3b6,#dfa896,#d8927a,#d3836a,#d38167,#d4846b,#da9983,#e4b8a9,#e8cbc0,#e9cdc2,#e9ccc1,#ead4ca,#ecdbd3,#edddd6,#ecdbd4,#ead2c9,#e7c6ba,#e7c6b9,#ead0c6,#ebd6cd,#ecdad2,#ead1c7,#e4baac,#e0ad9b,#e3b6a6,#e7c7bb,#ebd5cc,#edddd6,#ecdad2,#e9cec4,#e7c7bb,#e8cbbf,#ead3ca,#ead0c6,#e8c8bd,#e7c7bb,#e9ccc1,#ead2c9,#e8ccc0,#e6c3b6,#e7c6ba,#e8c8bc,#e7c5b9,#e6c0b2,#e4baac,#e6c0b3,#e9cfc5,#ead3c9,#e9ccc1,#e9cdc2,#ead2c9,#e9cdc2,#e2b4a3,#da9a84,#db9b85,#dea794,#dfa896,#da9781,#d27e64,#cc694f,#cd6c53,#d58970,#e0ac9a,#e5bbad,#e2b4a4,#dea794,#dda28e,#dda28e,#dea592,#e1ae9d,#e2b3a3,#e1ae9d,#dfa895,#dea794,#dfa896,#e2b2a1,#e4b9aa,#e4b9aa,#e6c0b2,#e5beb0,#e1af9e,#e0ad9c,#e4b9aa,#e6c1b4,#e7c6ba,#e8c8bc,#e6c3b6,#e5bfb1,#e4b9aa,#e2b2a2,#e1b1a0,#e1b1a0,#e2b2a2,#e2b3a3,#e1ae9d,#e0ad9c,#e4b9aa,#e6c1b4,#e4baab,#e2b4a4,#e5bbad,#e8cbc0,#e9cec4,#e7c3b7,#e6c2b5,#e6c3b6,#e4b9aa,#e1b1a0,#e1b1a0,#e4b8a9,#e4baac,#e3b5a5,#e1b1a0,#e0ac9a,#dfa997,#e0ad9c,#e6c0b2,#ebd6cd,#ecd8d0,#ebd7cf,#ecd9d1,#eddcd4,#eddcd5,#e9cfc5,#e4b9ab,#e0ad9b,#e1b09e,#e5bdaf,#e6c0b3,#e4baab,#e1b09f,#e0ad9b,#e3b5a5,#e9cdc2,#f3edec,#e0e4ea,#cfdae1,#cad8df,#cad7df,#cad8df,#d0dae1,#e2e5eb,#f3edeb,#ead4ca,#e8c9bd,#e4b9aa,#d8937b,#d27f65,#d0775d,#cc694f,#cd6b51,#d38067,#d5876e,#d38269,#d79078,#dea693,#dea592,#dea693,#dfaa97,#e2b2a1,#e5bcad,#e4baab,#e3b6a7,#e5bdaf,#e5bbad,#e1af9e,#dfaa98,#e1b09f,#e6bfb2,#e8cbc0,#e6c1b3,#e4baac,#e5beb0,#e7c4b8,#e7c7bb,#e6c2b4,#e6c3b6,#ebd4cb,#ecdad3,#e8cabe,#e3b6a7,#e0ac9a,#e0ae9c,#e4b7a8,#e4b8a9,#e1af9e,#dfaa98,#e1b1a0,#e7c4b7,#ead0c6,#ead0c6,#e8c8bc,#e5bdaf,#e5bcae,#e6c0b2,#e4baac,#e3b6a6,#efe1dc,#c7d6dd,#a1c4cf,#c6d6dd,#f0e5e0,#e5bcae,#e3b7a7,#e3b6a6,#e3b6a6,#e3b6a6,#e4b8a9,#e5beb0,#e6c3b6,#e7c4b7,#e6c1b4,#e4bbac,#e3b7a8,#e4b9aa,#e6c1b4,#e7c7bb,#e7c4b7,#e5beb1,#e7c4b7,#ead1c7,#edddd6,#efe3de,#efe3de,#eddcd5,#ecdbd3,#efe4df,#f2eeed,#edebed,#e6e7ec,#b7cfd7,#67a6c3,#1b76c3,#1163cb,#1360ca,#1163cb,#1571c4,#4e97c1,#86b6c8,#9fc3ce,#88b7c8,#3f8fc1,#146ec5,#1571c4,#549bc2,#aecad3,#dce2e8,#ebeaec,#f2eeed,#f0e6e2,#edddd6,#ecd8d0,#ebd6cd,#ebd6ce,#ebd7ce,#ebd5cc,#ead3ca,#ead3ca,#ebd7cf,#eddcd4,#edddd6,#ecd9d1,#eddcd5,#f0eded,#d5dee4,#bcd1d9,#b6ced7,#bcd1d9,#d6dee5,#f0eced,#eee0da,#ebd6cd,#e8cbc0,#e7c7bb,#e7c4b7,#e6bfb2,#e5bdaf,#e6c0b2,#e8c9bd,#e9cdc3,#e7c5b8,#e4baab,#e4bbac,#e7c7bb,#e9cdc3,#e8c9be,#e7c4b7,#e6c1b3,#e5bfb1,#e6c0b3,#e5beb0,#e3b6a7,#e2b2a2,#e2b4a3,#e4baab,#e5bcad,#e3b6a6,#e1b1a0,#e1af9e,#e1af9e,#e1b09f,#e5bbad,#e8cbc0,#e7c6ba,#e5bdaf,#e3b6a6,#e2b1a0,#e2b3a3,#e4b9aa,#e5bfb1,#e6c2b5,#eddcd5,#e9e8ec,#dae0e7,#dfe3e9,#f1eded,#ead1c7,#e7c5b8,#e8c9bd,#e8cbbf,#e8c8bd,#e4baac,#e1ae9c,#e1ae9d,#e4bbac,#e7c6ba,#e7c5b9,#e4b9aa,#dda38f,#d5886f,#ce6f55,#c96046,#cc684e,#d27e64,#d17a60,#cb654b,#ca6349,#ce7157,#d0785e,#d0775d,#d17a60,#d4856c,#d8927a,#d78e76,#d1795f,#cc674d,#ca644a,#c96046,#c85d43,#c85d43,#c85d43,#c85e44,#cb654b,#d17a60,#d5876e,#d1795f,#cd6d53,#d17b61,#d78e76,#dc9f8b,#da9983,#d4836a,#cf7258,#cb664c,#ce6f55,#d68d74,#dda28e,#dda28d,#dfa895,#e2b3a2,#e3b7a7,#e1af9e,#e0ad9b,#e3b5a5,#e4b9aa,#e2b3a2,#e0ac9a,#e3b5a5,#ecdbd3,#ebeaec,#e0e4ea,#e4e6ec,#f1eded,#ead0c6,#e3b4a4,#e1ae9c,#e0ac9a,#dfa996,#dfa895,#dfa895,#dfa895,#dfaa98,#e1ae9c,#e1ae9c,#e1b09f,#e5bbad,#e7c7ba,#e8cabf,#e8cbc0,#e9ccc2,#e5bcae,#e0ad9b,#e0ac9a,#e3b5a5,#e5bbad,#e4bbac,#e4b9aa,#e4baac,#e6c0b2,#e7c5b9,#f3edeb,#bdd1da,#bdd2da,#f2ebe9,#e6c1b4,#e5bfb1,#e6c2b5,#e6c3b6,#e7c5b9,#e9d0c5,#ead4ca,#e8cabf,#e6c1b4,#e6c2b5,#e7c6b9,#e8c9be,#edddd7,#efeced,#e7e8ec,#e7e8ec,#eceaed,#f1e7e4,#e9cfc4,#e5beb0,#e4baab,#e4bbac,#e5beb0,#e5bfb1,#e5bcae,#e4bbac,#e6c0b3,#e9cfc5,#ead4ca,#e8c9bd,#e7c7bb,#ead0c6,#ead2c9,#e9cdc3,#e8c8bc,#e7c4b7,#e6c0b2,#e5bdaf,#e5beb0,#e5bcae,#e5bfb1,#e8c8bc,#ead3ca,#ecd8d0,#efe3df,#e7e7ec,#cad8df,#bed2da,#c0d3db,#d1dbe2,#eceaed,#ecd9d1,#e5bdaf,#e5bbad,#e5bfb1,#e2b3a3,#dfaa97,#e3b5a5,#e8c7bc,#e8c8bc,#e4b7a8,#dfa896,#dfa895,#e0ad9c,#e0ad9c,#dfaa98,#dea592,#dfa895,#e4b8a9,#e8cbc0,#e7c7bb,#e2b2a2,#dea692,#dda38f,#dda390,#dfa895,#e1b09f,#e3b5a6,#e3b7a8,#e5bdae,#e6c3b6,#e7c5b8,#e8c9bd,#e7c4b8,#e5bcad,#e6bfb2,#e7c5b9,#e4baab,#e0ad9b,#dea491,#dea592,#e3b5a5,#e7c7bb,#e6c1b4,#e4b8a8,#e6c1b4,#e5bdae,#e3b5a5,#e1b1a0,#e3b4a4,#e4baab,#e4baac,#e4bbac,#e2b3a3,#e0ad9c,#e1b1a0,#e0ac9a,#dea693,#e0ab98,#e2b3a3,#e2b1a0,#e1af9e,#e4baab,#e6c3b6,#e7c4b7,#e4b8a9,#dfaa98,#e0ae9c,#e5bfb1,#e9cdc2,#e9cdc2,#e5beb0,#dfaa98,#dea491,#dea693,#dda390,#dda18d,#dda490,#e1ae9d,#e5bfb1,#e8c8bc,#e7c5b8,#e3b7a7,#e0ad9b,#e0ad9c,#e3b7a7,#e6c2b5,#e9ccc1,#e8c8bc,#e5bcae,#e4baac,#e7c5b8,#ecdbd3,#e9e9ec,#d0dbe2,#ebeaec,#ebd5cd,#e9cec3,#e9cec4,#e9cec3,#e9cdc2,#e7c6ba,#e5beb0,#e4baab,#e5bfb1,#e9ccc1,#ebd7ce,#eedfd9,#f0e6e2,#f0e6e2,#edded8,#ebd4cb,#e9ccc1,#e7c5b8,#e5bdae,#e5bdae,#e7c7bb,#e8c8bc,#e5bcae,#e3b4a4,#e2b1a0,#e0ad9b,#d9947d,#d27d64,#d0775d,#d38269,#d9957e,#e2b2a2,#e9ccc1,#e9ccc2,#e5bdaf,#e2b4a4,#e3b7a8,#e7c4b7,#e8cabe,#e4bbac,#e1b0a0,#e1af9e,#e1af9e,#e2b2a1,#e5bcae,#e8c9bd,#e9ccc1,#e9cfc5,#ecd8d0,#eddbd4,#ead2c9,#e7c7bb,#e8c9bd,#e8cbc0,#e6c0b2,#e2b3a3,#e1af9e,#e1af9e,#e1af9e,#e2b1a1,#e3b7a7,#e4b8a8,#e2b3a3,#e2b2a2,#e2b3a2,#e1b09f,#e1af9e,#e1af9e,#e1af9e,#e1af9e,#e1af9e,#e1b09f,#e2b1a1,#e1b09f,#e1af9e,#e2b2a1,#e5bcad,#e8cbc0,#e9cfc5,#e8cbc0,#e9cdc3,#ebd5cc,#ebd7ce,#e9cfc5,#e7c6ba,#e6c1b3,#e6c3b6,#e8cabf,#e8c7bc,#e4bbac,#e4b8a8,#e6c1b3,#e8cabf,#ead1c7,#ead0c6,#e8cbc0,#ead1c7,#ebd8cf,#e8c8bc,#e3b6a6,#e1af9e,#e1af9e,#e1af9e,#e2b1a0,#e4b9aa,#e7c6ba,#e8cabe,#e6c0b3,#e0ad9b,#dc9f8b,#d79078,#d17b61,#d17c62,#d4836a,#d0765d,#cd6d53,#ce6f56,#d0785e,#d4866d,#dda490,#e7c7ba,#f2eceb,#c7d6de,#82b4c7,#66a5c3,#62a3c2,#65a5c3,#7ab0c5,#b3cdd6,#e4e6ec,#f1eded,#eeeced,#e2e5eb,#d7dee5,#d4dde4,#d3dce3,#cfdae1,#c6d6dd,#c2d4dc,#c1d3db,#c2d4dc,#c8d6de,#d4dde4,#dbe1e7,#d8dfe6,#d6dee5,#dbe1e7,#e9e9ec,#f2ebe9,#efe1dc,#eedfd8,#eee1db,#efe3df,#efe3de,#eee0da,#eee0da,#efe2dd,#efe1dc,#eee0da,#eee1db,#eee0db,#edded8,#edddd6,#edded7,#f3eeed,#cad8df,#95becc,#a8c7d1,#eeeced,#dea793,#d8927a,#d5876e,#cf7157,#ca6349,#c96147,#cd6a50,#d4866d,#dfa996,#e4b9a9,#e6c0b2,#e4bbac,#e2b4a4,#e4b9aa,#e6c2b4,#e5bcae,#e3b7a7,#e5bfb1,#e7c6ba,#e7c4b8,#edddd6,#d7dfe5,#8fbbca,#76aec4,#a1c4cf,#eceaed,#e2b1a0,#d9957f,#d68d74,#d5876e,#d68c73,#d78e76,#d58970,#d4856c,#d38066,#d27c63,#d27c62,#d38066,#d68a71,#d8947c,#d68b71,#d4846b,#d78e75,#dda18d,#dda490,#dc9e8a,#dfaa97,#ecdad2,#d8dfe6,#9fc3cf,#87b7c8,#85b6c8)"></div>
<div style="top:167px;height:34.5px;background:linear-gradient(90deg,#efe3df,#efe3de,#f0e5e1,#f0e6e3,#efe3de,#f0e4e0,#f1e7e4,#f0e6e2,#f0e5e1,#f0e5e1,#f1e7e4,#f2ebe8,#f1e8e5,#f0e6e3,#f2ebe8,#f0eced,#f3eeec,#f1e9e7,#f1e7e4,#efe3de,#efe4df,#f1e7e4,#f1e9e6,#f2ecea,#f2eceb,#f2eae8,#f0e5e1,#f0e5e1,#f0e6e3,#f1e7e4,#f1e7e4,#f1e7e4,#f0e6e3,#f0e7e3,#f2eae8,#f1e8e4,#f0e4e0,#f0e5e1,#f0e7e3,#f1e8e5,#f0e4e0,#f0e4e0,#f2eae7,#f2ebea,#f0e7e3,#f0e5e1,#f0e5e0,#f0e7e3,#f0e7e3,#f0e6e2,#f1e9e6,#f2ebe9,#f1e8e5,#f1e8e5,#f1e8e5,#f0e6e3,#f0e4e0,#efe3de,#efe3de,#f1e9e6,#f2ebe9,#f1e8e5,#f0e6e2,#f1e8e5,#f2ebe9,#f2eae8,#f1e7e4,#f0e5e1,#f0e7e3,#f2ecea,#f3edeb,#f2eae8,#f1e7e4,#f1e7e3,#f2ebea,#f2eceb,#f1e9e7,#f0e7e3,#efe3df,#f0e5e1,#f1e8e5,#f2eded,#f3eeed,#f1e9e7,#f0e6e2,#f0e4e0,#f0e7e3,#f2ecea,#f3eeed,#f2ebea,#f0e5e1,#f0e7e3,#f2eae8,#f2ebe9,#f2ebe9,#f2eceb,#f2eded,#f1eded,#f2eeed,#f3eeec,#f2ebe9,#f1e8e5,#f1e9e6,#f2eae7,#f2eceb,#f1eded,#f2ebe9,#f2eeed,#f2eae7,#f0e6e2,#f0e5e1,#f0e6e2,#f1e8e5,#f2ebe9,#f2ebe9,#f2eae8,#f0e6e2,#f1e7e3,#f1eae7,#f0e4e0,#efe3de,#f0e6e3,#f0e7e3,#f0e6e2,#f1e9e6,#f2eae8,#f1e9e6,#f1e7e4,#f2eae8,#f1e8e5,#efe3de,#f0e5e1,#f1e8e5,#f0e4e0,#efe4df,#f1e8e6,#f0e6e2,#f0e4e0,#f0e4e0,#f0e7e3,#f1e9e7,#f2eceb,#f2ebe9,#f2eae8,#f1e8e5,#f0e6e3,#f0e7e3,#f1e7e3,#f2ecea,#f1e9e6,#f0e6e2,#f0e4e0,#efe4df,#f1e7e4,#f2eae7,#f2ebe9,#f2eae8,#f1e8e5,#f0e6e2,#f0e5e0,#f1e8e5,#f2ecea,#f1e9e7,#f0e6e2,#f0e5e0,#f0e5e1,#f0e7e3,#f1e7e3,#f0e7e3,#f1e7e4,#f0e4e0,#f0e6e3,#f0e6e2,#f0e6e2,#f1e7e4,#f0e5e1,#efe4df,#f0e6e3,#f1e8e5,#f2ebe9,#f2ebe9,#f1e9e7,#f1e8e5,#f1e9e7,#f1e9e6,#f2eae8,#f2ecea,#f2eae7,#f1e9e6,#f1e7e4,#f1e9e7,#f1e9e6,#f1e7e4,#f0e6e3,#efe3df,#efe3de,#f1e7e4,#f2eae8,#f1e9e6,#f0e5e1,#efe3de,#efe4df,#f2eae8,#f2eae8,#f1e7e4,#f1e9e6,#f2ebe9,#f3edec,#f2ebe9,#f2eae8,#f2eae7,#f1e9e6,#f1e7e4,#f1e7e3,#f2ebe9,#f0eced,#eeeced,#f3eeed,#f2ecea,#f2eeed,#f2eded,#f3eeed,#f2eae8,#f1e7e4,#f2eae8,#f3eeed,#f3edec,#f0e6e2,#f1e9e6,#f2eae7,#f1e8e5,#f2ecea,#f2eded,#f1e9e6,#f0e4e0,#f0e4e0,#eee1db,#eee0db,#f1e9e6,#f2eeed)"></div>
</div>
<div class="p" style="top:2735.7px">
<div class="bl">
<div style="top:0px;height:40.6px;background:linear-gradient(90deg,#bfe063,#bde062,#c4e165,#cbe368,#cce368,#badf61,#abdc60,#c5e165,#bde062,#bbdf62,#c6e266,#cce368,#badf61,#a2da60,#a6db60,#bce062,#c3e165,#c3e165,#bde062,#aadc60,#a7db60,#9fd960,#87d462,#75cd68,#60c271,#4dae7d,#2b7a8d,#236f8e,#226e8e,#28768d,#29788d,#28778d,#226e8f,#196590,#25728e,#30828c,#378c8a,#419c85,#43a084,#3b9388,#33868b,#2b7b8d,#216d8f,#2b1b8e,#0f4e99,#2f818c,#3c9488,#439f84,#4aab7f,#4fb17c,#52b57a,#58bb76,#61c271,#68c76c,#6bc96b,#66c66e,#5fc172,#60c171,#63c46f,#61c271,#5fc072,#5dbf73,#5cbe74,#5fc072,#5cbe74,#57bb77,#4fb17c,#46a582,#44a283,#419c85,#3f9986,#429d85,#44a283,#47a681,#4dae7d,#54b878,#55b978,#46a582,#3c9488,#30818c,#43a084,#54b879,#6ac86c,#80d164,#9bd861,#afdd5f,#b2dd5f,#afdd5f,#b3de5f,#c0e063,#cce368,#cae267,#c2e164,#c8e266,#d3e46b,#dae66d,#d6e56c,#c8e267,#badf61,#bbdf62,#d4e46b,#c0e064,#8ed662,#7ed065,#98d861,#acdc60,#b5de60,#b0dd5f,#aadc60,#b6de60,#c4e165,#d0e469,#d5e56b,#a0d960,#62c370,#4aab7f,#419c85,#3d9687,#3d9588,#3d9687,#3b9388,#378d8a,#388d89,#3b9288,#3d9687,#409c85,#44a283,#45a383,#44a283,#43a084,#45a482,#49a980,#4aaa80,#4bac7f,#4fb17c,#52b57a,#53b779,#5dbf73,#57bb77,#409a86,#368b8a,#34888b,#34898b,#31848c,#358a8a,#409b86,#45a383,#4cae7e,#54b879,#60c171,#69c86c,#5ec073,#4cad7e,#44a183,#47a681,#48a781,#419c85,#378d8a,#30828c,#2a798d,#27758d,#2c7c8d,#31848c,#34898b,#31838c,#2e808c,#2e7f8c,#2f818c,#32858b,#33878b,#34888b,#3a9189,#44a283,#50b37b,#4fb27c,#50b27c,#53b679,#56ba77,#59bc76,#59bc75,#5cbf74,#66c66e,#73cc69,#7bcf66,#83d263,#8cd562,#88d462,#79ce67,#69c86c,#65c56e,#64c46f,#63c470,#6dca6b,#7ed065,#85d363,#80d164,#81d264,#88d462,#95d761,#9ed960)"></div>
<div style="top:40px;height:10.6px;background:linear-gradient(90deg,#c0e063,#bee063,#c5e165,#cce368,#cde368,#bce062,#addc5f,#c6e266,#bee063,#bde062,#c7e266,#cde368,#bbdf62,#a5db60,#a9dc60,#bee063,#c4e165,#c4e165,#bee063,#addc5f,#aadc60,#a3da60,#8dd562,#7dd065,#66c66e,#51b47a,#30828c,#2a798d,#2b7b8d,#368b8a,#3e9887,#3f9986,#368b8a,#2f818c,#368c8a,#3d9687,#429e84,#4eb07d,#52b57a,#46a582,#3e9787,#399089,#358a8a,#0f5397,#206c8f,#3d9687,#47a682,#50b27c,#58bb76,#5cbe74,#5ec073,#62c370,#6bc96b,#75cd68,#76cd68,#71cb69,#69c86c,#6dc96b,#70cb6a,#6dca6b,#6dca6b,#6dca6b,#69c86c,#69c86c,#65c56e,#62c370,#59bc76,#4eb07c,#4aaa7f,#46a482,#44a183,#46a482,#4aaa80,#4dae7e,#52b57a,#59bc75,#5abd75,#4bac7f,#419c85,#368c8a,#48a781,#5abd75,#6fcb6a,#82d264,#9ad861,#addc5f,#b1dd5f,#aedd5f,#b3de5f,#c0e063,#cce368,#cae267,#c3e165,#c8e267,#d3e46b,#dae66d,#d6e56c,#c9e267,#bbdf62,#bce062,#d4e46b,#c1e164,#92d661,#82d264,#9dd961,#afdd5f,#b7df60,#b2de5f,#acdc60,#b7df60,#c5e165,#d0e46a,#d5e56b,#a2da60,#65c56e,#4eaf7d,#44a183,#419c85,#409b85,#419d85,#419c85,#3e9787,#3d9588,#3e9887,#419c85,#44a283,#47a781,#49a880,#4aaa7f,#4fb17c,#50b37b,#4fb17c,#4fb17c,#51b37b,#54b878,#5bbe74,#60c171,#68c86c,#66c56e,#4daf7d,#43a084,#419d85,#439f84,#439f84,#47a681,#52b57a,#58bb76,#5fc172,#65c56e,#71cb69,#7acf66,#70cb6a,#5fc072,#53b679,#55b978,#55b978,#4daf7d,#45a383,#3f9a86,#388d89,#35898a,#3d9687,#439f84,#45a383,#429f84,#429d85,#429d85,#439f84,#44a183,#429f84,#409a86,#429e84,#4cae7e,#58bb76,#57ba77,#57ba77,#5abd75,#5cbe74,#5ec073,#5fc072,#61c271,#6ac86c,#77cd67,#7ed165,#86d462,#8fd661,#8ad562,#7bcf66,#6dc96b,#67c76d,#66c56e,#65c56e,#6fcb6a,#7fd165,#86d462,#81d164,#82d264,#89d562,#95d761,#9ed960)"></div>
<div style="top:50px;height:10.6px;background:linear-gradient(90deg,#c2e164,#c0e063,#c6e266,#cde368,#cee369,#bee063,#b1dd5f,#c7e266,#c0e064,#bfe063,#c9e267,#cee369,#bde062,#aadc60,#afdd5f,#c0e064,#c6e266,#c7e266,#c2e164,#b2de5f,#b0dd5f,#a9dc60,#99d861,#8fd661,#75cd68,#5bbe74,#3a9189,#378c8a,#3d9588,#52b67a,#83d363,#91d661,#65c56f,#5abd75,#5bbd75,#5dbf73,#61c271,#79ce67,#82d264,#6bc96b,#56ba77,#57bb77,#62c370,#4bac7e,#4bac7f,#5dbf73,#6bc96b,#78ce67,#7fd165,#81d164,#7cd066,#7dd065,#86d462,#91d661,#90d661,#89d562,#87d462,#91d661,#91d661,#90d661,#9cd961,#a8db60,#95d761,#88d462,#80d164,#7ed165,#73cc69,#61c271,#58bb76,#53b679,#50b27b,#52b57a,#56ba77,#58bb76,#5dbf73,#63c370,#63c370,#55b978,#4bab7f,#439f84,#54b878,#66c66e,#7acf66,#86d462,#9ad861,#aadc60,#afdd5f,#addc5f,#b3de5f,#c0e064,#cde368,#cce368,#c5e165,#cae267,#d3e46b,#d9e56d,#d6e56c,#cae267,#bee063,#bfe063,#d5e56b,#c3e164,#9ad861,#8cd562,#a5db60,#b4de5f,#bbdf62,#b6de60,#b0dd5f,#b9df61,#c6e266,#d0e46a,#d5e56b,#a7db60,#6cc96b,#55b878,#4bac7f,#49a880,#49a880,#4bab7f,#4fb17c,#4cad7e,#45a383,#46a582,#4aaa80,#4eaf7d,#50b27c,#51b47b,#59bc76,#74cc68,#6dca6b,#5cbe74,#5cbe74,#5ec072,#61c271,#71cb69,#83d263,#8dd562,#91d661,#7bcf66,#69c86c,#65c56e,#6eca6a,#7fd165,#9dd961,#a8db60,#addc5f,#aadc60,#9fd960,#a8db60,#a8db60,#b0dd5f,#a9dc60,#85d363,#80d164,#7cd066,#74cc68,#74cd68,#68c76d,#52b57a,#4fb17c,#66c56e,#7fd165,#83d263,#84d363,#89d562,#90d661,#93d761,#8dd562,#70cb6a,#5ec073,#58bb76,#60c171,#6ac96c,#67c76d,#67c76d,#69c86c,#68c76d,#68c76d,#69c86c,#6bc96b,#73cc69,#7ed065,#85d363,#8ed562,#94d761,#8ed662,#81d264,#74cd68,#6dca6b,#6ac86c,#69c86c,#73cc69,#82d264,#88d462,#83d263,#84d363,#8bd562,#96d761,#9fd960)"></div>
<div style="top:60px;height:10.6px;background:linear-gradient(90deg,#c4e165,#c2e164,#c7e266,#cee369,#cfe369,#c0e064,#b5de5f,#c9e267,#c3e164,#c1e164,#cae267,#cee369,#bfe063,#afdd5f,#b5de5f,#c3e165,#c9e267,#c9e267,#c5e165,#b7df60,#b5de5f,#b0dd5f,#a5db60,#a6db60,#86d362,#66c66e,#43a084,#429e84,#4daf7d,#8bd562,#c8e267,#c6e266,#c3e165,#c0e064,#b7df60,#a8db60,#a8db60,#c5e166,#c9e267,#bce062,#80d164,#9fd960,#bfe063,#c3e165,#b2de5f,#a8db60,#b7df60,#c0e064,#bee063,#bbdf62,#b1dd5f,#a3da60,#afdd5f,#b8df60,#b3de5f,#addc5f,#b4de5f,#c3e164,#c0e063,#c0e063,#bee063,#bce062,#bee063,#b7df60,#aadc60,#acdc60,#9fd960,#7bcf66,#68c76d,#63c46f,#60c172,#61c271,#65c56e,#65c56e,#68c76c,#6eca6a,#6dca6b,#61c271,#58bc76,#52b57a,#64c46f,#77cd67,#84d363,#8bd562,#99d861,#a8db60,#addc5f,#acdc60,#b3de5f,#c1e164,#cee369,#cee369,#c7e266,#cbe368,#d3e46b,#d9e56d,#d7e56c,#cce368,#c0e064,#c2e164,#d5e56b,#c4e165,#a2da60,#99d861,#aedd5f,#b9df61,#bfe063,#badf61,#b4de5f,#bce062,#c8e266,#d1e46a,#d4e46b,#abdc60,#74cc68,#5dbf73,#54b779,#53b679,#54b779,#58bb76,#62c270,#5fc172,#51b47b,#51b37b,#55b978,#59bc76,#59bc76,#5bbd75,#6ac86c,#bde062,#9ed960,#6bc96b,#6ac86c,#6fca6a,#70cb6a,#91d661,#bbdf61,#bfe063,#c4e165,#c1e164,#bce062,#b8df60,#c5e165,#c8e266,#c7e266,#c7e266,#c8e267,#c6e266,#c8e266,#c9e267,#c7e266,#c6e266,#c6e266,#c5e165,#c2e164,#c0e064,#c0e064,#c3e165,#c0e064,#82d264,#7dd065,#c3e165,#c5e165,#bfe063,#b7df60,#b7df60,#bee063,#c0e064,#badf61,#bce062,#a0da60,#7acf66,#7cd066,#84d363,#80d164,#7fd165,#7ed065,#79cf67,#76cd68,#78ce67,#79ce67,#7dd065,#85d363,#8ed662,#96d761,#98d861,#93d761,#86d462,#7cd066,#74cc68,#70cb6a,#6eca6a,#77ce67,#84d363,#8bd562,#85d363,#86d462,#8ed562,#97d861,#9fd960)"></div>
<div style="top:70px;height:10.6px;background:linear-gradient(90deg,#c6e266,#c4e165,#c8e267,#cfe369,#d1e46a,#c3e164,#b8df61,#cbe367,#c5e165,#c4e165,#cce368,#cfe369,#c1e164,#b4de5f,#badf61,#c6e266,#cbe368,#cce368,#c8e267,#bce062,#badf61,#b7df60,#b0dd5f,#bbdf62,#9dd961,#75cd68,#4eb07c,#50b27b,#66c66e,#c7e266,#c8e267,#c6e266,#c3e165,#c4e165,#c6e266,#c2e164,#c3e165,#c8e267,#c9e267,#c5e165,#bee063,#bbdf62,#bfe063,#c3e165,#c0e063,#bce062,#bde062,#c3e164,#c1e164,#bde062,#c0e063,#c4e165,#c5e166,#c3e164,#c0e063,#c3e165,#c9e267,#cae267,#c9e267,#c5e165,#bee063,#bce062,#bee063,#bbdf62,#b7df60,#b3de5f,#afdd5f,#a3da60,#80d164,#79ce67,#73cc69,#73cc69,#79ce67,#77ce67,#79ce67,#7cd066,#7bcf66,#6fcb6a,#68c76c,#66c56e,#78ce67,#88d462,#90d661,#91d661,#99d861,#a5db60,#abdc60,#aadc60,#b3de5f,#c1e164,#cfe369,#cfe369,#c9e267,#cce368,#d3e46b,#d8e56d,#d7e56c,#cde368,#c3e165,#c5e165,#d5e56b,#c6e266,#a9dc60,#a5db60,#b6de60,#bee063,#c2e164,#bee063,#b8df60,#bee063,#c9e267,#d1e46a,#d4e46b,#b0dd5f,#7cd066,#66c66e,#5ec072,#5fc172,#61c271,#67c66d,#7cd066,#7bcf66,#5fc172,#5dbf73,#63c370,#66c66e,#63c46f,#65c56e,#83d363,#cfe369,#cee369,#80d164,#7ed065,#84d363,#83d263,#bce062,#bee063,#c2e164,#c4e165,#c1e164,#bfe063,#c0e063,#c6e266,#c8e266,#c7e266,#c7e266,#c8e267,#c6e266,#c8e266,#c9e267,#c7e266,#c6e266,#c6e266,#c5e165,#c3e164,#c6e266,#c8e267,#c3e165,#c1e164,#c6e266,#c8e267,#c5e166,#c5e165,#bfe063,#b7df60,#b7df60,#bee063,#c0e064,#badf61,#bce062,#badf61,#b7df60,#abdc60,#aadc60,#a0da60,#9ed960,#99d861,#8cd562,#85d363,#87d462,#86d462,#87d462,#8fd661,#98d861,#9ed960,#9dd961,#97d861,#8ed662,#83d363,#7bcf66,#76cd68,#74cc68,#7bcf66,#87d462,#8ed662,#87d462,#89d462,#8fd661,#98d861,#9fd960)"></div>
<div style="top:80px;height:10.6px;background:linear-gradient(90deg,#c8e267,#c5e166,#c9e267,#d0e46a,#d2e46a,#c5e165,#bbdf62,#cce368,#c7e266,#c6e266,#cde368,#d0e46a,#c3e165,#b9df61,#bee063,#c8e267,#cde368,#cee369,#cce368,#c0e064,#bfe063,#bce062,#badf61,#d0e46a,#b4de5f,#85d363,#5dbf73,#62c370,#8ed662,#c7e266,#c8e267,#c6e266,#c3e165,#c4e165,#c6e266,#c2e164,#c3e165,#c8e267,#c9e267,#c5e165,#bee063,#bbdf62,#bfe063,#c3e165,#c0e063,#bce062,#bde062,#c3e164,#c1e164,#bde062,#c0e063,#c4e165,#c5e166,#c3e164,#c0e063,#c3e165,#c9e267,#cae267,#c9e267,#c5e165,#bee063,#bce062,#bee063,#bbdf62,#b7df60,#b3de5f,#afdd5f,#a7db60,#9ad861,#97d861,#93d761,#8ed662,#96d761,#90d661,#8ed562,#8bd562,#87d462,#81d264,#7fd165,#85d363,#97d861,#a1da60,#9cd961,#97d861,#98d861,#a2da60,#a9db60,#a9dc60,#b3de5f,#c2e164,#d0e469,#d1e46a,#cbe368,#cde369,#d3e46b,#d8e56c,#d7e56c,#cfe369,#c5e166,#c7e266,#d5e56b,#c7e266,#b1dd5f,#b1dd5f,#bde063,#c3e165,#c6e266,#c1e164,#bbdf62,#c0e064,#cbe368,#d2e46a,#d4e46b,#b4de5f,#85d363,#71cb69,#69c86c,#6eca6a,#72cb69,#7cd066,#a4da60,#a8db60,#72cc69,#6bc96b,#74cd68,#78ce67,#70cb6a,#73cc69,#a6db60,#cfe369,#cee369,#9cd961,#97d861,#a1da60,#9cd961,#bee063,#bee063,#c2e164,#c4e165,#c1e164,#bfe063,#c0e063,#c6e266,#c8e266,#c7e266,#c7e266,#c8e267,#c6e266,#c8e266,#c9e267,#c7e266,#c6e266,#c6e266,#c5e165,#c3e164,#c6e266,#c8e267,#c3e165,#c1e164,#c6e266,#c9e267,#c5e166,#c5e165,#bfe063,#b7df60,#b7df60,#bee063,#c0e064,#badf61,#bce062,#badf61,#bde062,#c4e165,#c5e165,#c0e063,#bfe063,#bce062,#a6db60,#99d861,#9dd961,#9ad861,#94d761,#99d861,#a1da60,#a7db60,#a2da60,#9bd961,#96d761,#8dd562,#82d264,#7ccf66,#79cf67,#7fd165,#8ad562,#91d661,#8bd562,#8bd562,#91d661,#99d861,#9fd960)"></div>
<div style="top:90px;height:10.6px;background:linear-gradient(90deg,#cae267,#c7e266,#cae267,#d1e46a,#d3e46b,#c7e266,#bfe063,#cee369,#c9e267,#c8e267,#cee369,#d1e46a,#c5e165,#bde062,#c3e165,#cbe368,#cfe369,#d1e46a,#cfe369,#c5e165,#c4e165,#c2e164,#c4e165,#d3e46b,#cce368,#9cd961,#6eca6a,#7ccf66,#c2e164,#c7e266,#c8e267,#c6e266,#c3e165,#c4e165,#c6e266,#c2e164,#c3e165,#c8e267,#c9e267,#c5e165,#bee063,#bbdf62,#bfe063,#c3e165,#c0e063,#bce062,#bde062,#c3e164,#c1e164,#bde062,#c0e063,#c4e165,#c5e166,#c3e164,#c0e063,#c3e165,#c9e267,#cae267,#c9e267,#c5e165,#bee063,#bce062,#bee063,#bbdf62,#b7df60,#b3de5f,#afdd5f,#a7db60,#9ad861,#98d861,#9dd961,#9ed960,#9dd961,#99d861,#9bd861,#9fd960,#9cd961,#9bd961,#a0da60,#a3da60,#a3da60,#a1da60,#9cd961,#9bd861,#98d861,#a0d960,#a7db60,#a8db60,#b3de5f,#c2e164,#d0e46a,#d3e46a,#cde368,#cfe369,#d3e46b,#d7e56c,#d8e56c,#d0e46a,#c8e266,#cae267,#d5e56b,#c8e267,#b8df60,#bce062,#c5e165,#c8e266,#cae267,#c5e165,#bfe063,#c3e165,#cce368,#d2e46a,#d3e46b,#b8df61,#8fd661,#7ed065,#79ce67,#81d164,#86d462,#98d861,#c7e266,#cae267,#89d462,#7fd165,#8ad562,#8dd562,#7fd165,#82d264,#c8e266,#cfe369,#cee369,#bee063,#b9df61,#bfe063,#bbdf62,#bee063,#bee063,#c2e164,#c4e165,#c1e164,#bfe063,#c0e063,#c6e266,#c8e266,#c7e266,#c7e266,#c8e267,#c6e266,#c8e266,#c9e267,#c7e266,#c6e266,#c6e266,#c5e165,#c3e164,#c6e266,#c8e267,#c3e165,#c1e164,#c6e266,#c9e267,#c5e166,#c5e165,#bfe063,#b7df60,#b7df60,#bee063,#c0e064,#badf61,#bce062,#badf61,#bde062,#c4e165,#c5e165,#c0e064,#c0e063,#c4e165,#c1e164,#aedd5f,#b4de5f,#addd5f,#a2da60,#a3da60,#acdc60,#aadc60,#a3da60,#a0da60,#9ed960,#98d861,#89d462,#81d264,#7fd165,#82d264,#8ed662,#94d761,#8ed662,#8ed662,#93d761,#9ad861,#a0d960)"></div>
<div style="top:100px;height:10.6px;background:linear-gradient(90deg,#cce368,#c9e267,#cbe368,#d3e46a,#d5e56b,#c9e267,#c2e164,#cfe369,#cbe368,#cae267,#d0e469,#d2e46a,#c7e266,#c2e164,#c8e266,#cde369,#d1e46a,#d3e46b,#d2e46a,#c9e267,#c8e267,#c8e266,#cfe369,#d3e46b,#cfe369,#b2de5f,#85d363,#a5db60,#c3e165,#c7e266,#c8e267,#c6e266,#c3e165,#c4e165,#c6e266,#c2e164,#c3e165,#c8e267,#c9e267,#c5e165,#bee063,#bbdf62,#bfe063,#c3e165,#c0e063,#bce062,#bde062,#c3e164,#c1e164,#bde062,#c0e063,#c4e165,#c5e166,#c3e164,#c0e063,#c3e165,#c9e267,#cae267,#c9e267,#c5e165,#bee063,#bce062,#bee063,#bbdf62,#b7df60,#b3de5f,#afdd5f,#a7db60,#9ad861,#98d861,#9dd961,#9ed960,#9dd961,#99d861,#9bd861,#9fd960,#9ed960,#9fd960,#a2da60,#a3da60,#a3da60,#a1da60,#9cd961,#9bd861,#98d861,#9dd961,#a5db60,#a6db60,#b3de5f,#c2e164,#d1e46a,#d4e46b,#cfe369,#d0e469,#d3e46b,#d7e56c,#d8e56d,#d2e46a,#cae267,#cde368,#d5e56b,#cae267,#bee063,#c6e266,#cce368,#cce368,#cde368,#c9e267,#c2e164,#c5e165,#cde369,#d3e46b,#d3e46b,#bce062,#9cd961,#8cd562,#89d562,#99d861,#a2da60,#bee063,#c8e266,#cae267,#b0dd5f,#98d861,#a9db60,#a9db60,#91d661,#96d761,#c9e267,#cfe369,#cee369,#cae267,#c1e164,#c0e063,#c2e164,#bee063,#bee063,#c2e164,#c4e165,#c1e164,#bfe063,#c0e063,#c6e266,#c8e266,#c7e266,#c7e266,#c8e267,#c6e266,#c8e266,#c9e267,#c7e266,#c6e266,#c6e266,#c5e165,#c3e164,#c6e266,#c8e267,#c3e165,#c1e164,#c6e266,#c9e267,#c5e166,#c5e165,#bfe063,#b7df60,#b7df60,#bee063,#c0e064,#badf61,#bce062,#badf61,#bde062,#c4e165,#c5e165,#c0e064,#c0e063,#c4e165,#c7e266,#c3e164,#c2e164,#bee063,#b2dd5f,#afdd5f,#aedd5f,#aadc60,#a3da60,#a2da60,#a6db60,#a4da60,#92d761,#87d462,#84d363,#86d462,#92d661,#97d761,#91d661,#91d661,#95d761,#9bd861,#a0da60)"></div>
<div style="top:110px;height:10.6px;background:linear-gradient(90deg,#cee369,#cbe368,#cce368,#d4e46b,#d6e56c,#cbe368,#c5e165,#d1e46a,#cde368,#cde368,#d1e46a,#d2e46a,#c9e267,#c6e266,#cde368,#d0e469,#d3e46b,#d5e56b,#d5e56b,#cee369,#cde368,#cde368,#d3e46b,#d3e46b,#cfe369,#cce368,#a7db60,#c7e266,#c3e165,#c7e266,#c8e267,#c6e266,#c3e165,#c4e165,#c6e266,#c2e164,#c3e165,#c8e267,#c9e267,#c5e165,#bee063,#bbdf62,#bfe063,#c3e165,#c0e063,#bce062,#bde062,#c3e164,#c1e164,#bde062,#c0e063,#c4e165,#c5e166,#c3e164,#c0e063,#c3e165,#c9e267,#cae267,#c9e267,#c5e165,#bee063,#bce062,#bee063,#bbdf62,#b7df60,#b3de5f,#afdd5f,#a7db60,#9ad861,#98d861,#9dd961,#9ed960,#9dd961,#99d861,#9bd861,#9fd960,#9ed960,#9fd960,#a2da60,#a3da60,#a3da60,#a1da60,#9cd961,#9bd861,#98d861,#9cd961,#a3da60,#a5db60,#b3de5f,#c3e165,#d2e46a,#d6e56c,#d1e46a,#d1e46a,#d3e46b,#d6e56c,#d8e56d,#d3e46b,#cde368,#cfe369,#d5e56b,#cbe368,#c4e165,#d2e46a,#d2e46a,#d1e46a,#d0e46a,#cce368,#c5e166,#c7e266,#cfe369,#d3e46b,#d3e46b,#c0e063,#a7db60,#9ed960,#a1da60,#b8df60,#c4e165,#cae267,#c8e266,#cae267,#c6e266,#bbdf62,#c4e165,#c5e166,#a7db60,#abdc60,#c9e267,#cfe369,#cee369,#cae267,#c1e164,#c0e063,#c2e164,#bee063,#bee063,#c2e164,#c4e165,#c1e164,#bfe063,#c0e063,#c6e266,#c8e266,#c7e266,#c7e266,#c8e267,#c6e266,#c8e266,#c9e267,#c7e266,#c6e266,#c6e266,#c5e165,#c3e164,#c6e266,#c8e267,#c3e165,#c1e164,#c6e266,#c9e267,#c5e166,#c5e165,#bfe063,#b7df60,#b7df60,#bee063,#c0e064,#badf61,#bce062,#badf61,#bde062,#c4e165,#c5e165,#c0e064,#c0e063,#c4e165,#c7e266,#c4e165,#c2e164,#bee063,#b9df61,#b3de5f,#aedd5f,#aadc60,#a3da60,#a2da60,#a8db60,#aadc60,#9cd961,#8fd661,#8bd562,#8bd562,#95d761,#99d861,#94d761,#94d761,#97d861,#9cd961,#a0da60)"></div>
<div style="top:120px;height:10.6px;background:linear-gradient(90deg,#d0e469,#cde368,#cde368,#d5e56b,#d7e56c,#cde369,#c8e267,#d2e46a,#cfe369,#cfe369,#d3e46b,#d3e46b,#cbe368,#cae267,#d1e46a,#d2e46a,#d5e56b,#d7e56c,#d8e56d,#d2e46a,#d1e46a,#d3e46b,#d3e46b,#d3e46b,#cfe369,#d1e46a,#cde369,#c7e266,#c3e165,#c7e266,#c8e267,#c6e266,#c3e165,#c4e165,#c6e266,#c2e164,#c3e165,#c8e267,#c9e267,#c5e165,#bee063,#bbdf62,#bfe063,#c3e165,#c0e063,#bce062,#bde062,#c3e164,#c1e164,#bde062,#c0e063,#c4e165,#c5e166,#c3e164,#c0e063,#c3e165,#c9e267,#cae267,#c9e267,#c5e165,#bee063,#bce062,#bee063,#bbdf62,#b7df60,#b3de5f,#afdd5f,#a7db60,#9ad861,#98d861,#9dd961,#9ed960,#9dd961,#99d861,#9bd861,#9fd960,#9ed960,#9fd960,#a2da60,#a3da60,#a3da60,#a1da60,#9cd961,#9bd861,#98d861,#9cd961,#a3da60,#a3da60,#b4de5f,#c3e165,#d3e46a,#d7e56c,#d3e46b,#d2e46a,#d3e46b,#d6e56c,#d9e56d,#d4e46b,#cfe369,#d2e46a,#d5e56b,#cce368,#cce368,#d4e46b,#d2e46a,#d5e56c,#d4e46b,#cfe369,#c9e267,#c9e267,#d0e46a,#d4e46b,#d3e46a,#c3e165,#b3de5f,#b0dd5f,#b8df61,#cce368,#c9e267,#cae267,#c8e266,#cae267,#c6e266,#c2e164,#c5e165,#c7e266,#c2e164,#c4e165,#c9e267,#cfe369,#cee369,#cae267,#c1e164,#c0e063,#c2e164,#bee063,#bee063,#c2e164,#c4e165,#c1e164,#bfe063,#c0e063,#c6e266,#c8e266,#c7e266,#c7e266,#c8e267,#c6e266,#c8e266,#c9e267,#c7e266,#c6e266,#c6e266,#c5e165,#c3e164,#c6e266,#c8e267,#c3e165,#c1e164,#c6e266,#c9e267,#c5e166,#c5e165,#bfe063,#b7df60,#b7df60,#bee063,#c0e064,#badf61,#bce062,#badf61,#bde062,#c4e165,#c5e165,#c0e064,#c0e063,#c4e165,#c7e266,#c4e165,#c2e164,#bee063,#b9df61,#b3de5f,#aedd5f,#aadc60,#a3da60,#a2da60,#a8db60,#aadc60,#a8db60,#98d861,#92d761,#91d661,#99d861,#9cd961,#97d861,#96d761,#99d861,#9dd961,#a1da60)"></div>
<div style="top:130px;height:10.6px;background:linear-gradient(90deg,#d2e46a,#cee369,#cee369,#d6e56c,#d9e56d,#d0e469,#cbe368,#d3e46b,#d1e46a,#d1e46a,#d4e46b,#d4e46b,#cde368,#cee369,#d6e56c,#d5e56b,#d7e56c,#dae66d,#dbe66e,#d6e56c,#d6e56c,#d3e46b,#d3e46b,#d3e46b,#cfe369,#d1e46a,#d0e46a,#c7e266,#c3e165,#c7e266,#c8e267,#c6e266,#c3e165,#c4e165,#c6e266,#c2e164,#c3e165,#c8e267,#c9e267,#c5e165,#bee063,#bbdf62,#bfe063,#c3e165,#c0e063,#bce062,#bde062,#c3e164,#c1e164,#bde062,#c0e063,#c4e165,#c5e166,#c3e164,#c0e063,#c3e165,#c9e267,#cae267,#c9e267,#c5e165,#bee063,#bce062,#bee063,#bbdf62,#b7df60,#b3de5f,#afdd5f,#a7db60,#9ad861,#98d861,#9dd961,#9ed960,#9dd961,#99d861,#9bd861,#9fd960,#9ed960,#9fd960,#a2da60,#a3da60,#a3da60,#a1da60,#9cd961,#9bd861,#98d861,#9cd961,#a3da60,#a3da60,#b4de5f,#c3e165,#d3e46b,#d9e56d,#d5e56b,#d4e46b,#d3e46b,#d6e56c,#d9e56d,#d5e56c,#d1e46a,#d5e56b,#d5e56b,#cee369,#cfe369,#d4e46b,#d2e46a,#d6e56c,#d8e56d,#d4e46b,#cde368,#cce368,#d1e46a,#d4e46b,#d2e46a,#c7e266,#bde062,#c4e165,#cee369,#cce368,#c9e267,#cae267,#c8e266,#cae267,#c6e266,#c2e164,#c5e165,#c7e266,#c6e266,#c5e165,#c9e267,#cfe369,#cee369,#cae267,#c1e164,#c0e063,#c2e164,#bee063,#bee063,#c2e164,#c4e165,#c1e164,#bfe063,#c0e063,#c6e266,#c8e266,#c7e266,#c7e266,#c8e267,#c6e266,#c8e266,#c9e267,#c7e266,#c6e266,#c6e266,#c5e165,#c3e164,#c6e266,#c8e267,#c3e165,#c1e164,#c6e266,#c9e267,#c5e166,#c5e165,#bfe063,#b7df60,#b7df60,#bee063,#c0e064,#badf61,#bce062,#badf61,#bde062,#c4e165,#c5e165,#c0e064,#c0e063,#c4e165,#c7e266,#c4e165,#c2e164,#bee063,#b9df61,#b3de5f,#aedd5f,#aadc60,#a3da60,#a2da60,#a8db60,#aadc60,#acdc60,#a0da60,#9ad861,#96d761,#9cd961,#9fd960,#9ad861,#99d861,#9bd861,#9ed960,#a1da60)"></div>
<div style="top:140px;height:10.6px;background:linear-gradient(90deg,#d3e46b,#d0e46a,#cfe369,#d7e56c,#dae66d,#d2e46a,#cee369,#d5e56b,#d3e46b,#d3e46b,#d5e56c,#d4e46b,#cfe369,#d4e46b,#dbe66e,#d8e56d,#d9e56d,#dce66e,#dee770,#dce66e,#d6e56c,#d3e46b,#d3e46b,#d3e46b,#cfe369,#d1e46a,#d0e46a,#c7e266,#c3e165,#c7e266,#c8e267,#c6e266,#c3e165,#c4e165,#c6e266,#c2e164,#c3e165,#c8e267,#c9e267,#c5e165,#bee063,#bbdf62,#bfe063,#c3e165,#c0e063,#bce062,#bde062,#c3e164,#c1e164,#bde062,#c0e063,#c4e165,#c5e166,#c3e164,#c0e063,#c3e165,#c9e267,#cae267,#c9e267,#c5e165,#bee063,#bce062,#bee063,#bbdf62,#b7df60,#b3de5f,#afdd5f,#a7db60,#9ad861,#98d861,#9dd961,#9ed960,#9dd961,#99d861,#9bd861,#9fd960,#9ed960,#9fd960,#a2da60,#a3da60,#a3da60,#a1da60,#9cd961,#9bd861,#98d861,#9cd961,#a3da60,#a3da60,#b4de5f,#c3e165,#d3e46b,#dae66d,#d7e56c,#d5e56b,#d3e46b,#d5e56b,#d9e56d,#d7e56c,#d5e56b,#d7e56c,#d5e56b,#cee369,#cfe369,#d4e46b,#d2e46a,#d6e56c,#d9e56d,#d6e56c,#cfe369,#cee369,#d3e46b,#d4e46b,#d2e46a,#cce368,#cbe367,#d0e469,#cfe369,#cce368,#c9e267,#cae267,#c8e266,#cae267,#c6e266,#c2e164,#c5e165,#c7e266,#c6e266,#c5e165,#c9e267,#cfe369,#cee369,#cae267,#c1e164,#c0e063,#c2e164,#bee063,#bee063,#c2e164,#c4e165,#c1e164,#bfe063,#c0e063,#c6e266,#c8e266,#c7e266,#c7e266,#c8e267,#c6e266,#c8e266,#c9e267,#c7e266,#c6e266,#c6e266,#c5e165,#c3e164,#c6e266,#c8e267,#c3e165,#c1e164,#c6e266,#c9e267,#c5e166,#c5e165,#bfe063,#b7df60,#b7df60,#bee063,#c0e064,#badf61,#bce062,#badf61,#bde062,#c4e165,#c5e165,#c0e064,#c0e063,#c4e165,#c7e266,#c4e165,#c2e164,#bee063,#b9df61,#b3de5f,#aedd5f,#aadc60,#a3da60,#a2da60,#a8db60,#aadc60,#acdc60,#aadc60,#a4db60,#9bd861,#a0d960,#a1da60,#9dd961,#9cd961,#9dd961,#9fd960,#a1da60)"></div>
<div style="top:150px;height:10.6px;background:linear-gradient(90deg,#d6e56c,#d3e46a,#d1e46a,#d8e56d,#dbe66e,#d4e46b,#d3e46a,#d6e56c,#d5e56c,#d6e56c,#d7e56c,#d5e56b,#d1e46a,#d7e56c,#dbe66e,#d9e56d,#dce66e,#dde670,#dfe771,#dde66f,#d6e56c,#d3e46b,#d3e46b,#d3e46b,#cfe369,#d1e46a,#d0e46a,#c7e266,#c3e165,#c7e266,#c8e267,#c6e266,#c3e165,#c4e165,#c6e266,#c2e164,#c3e165,#c8e267,#c9e267,#c5e165,#bee063,#bbdf62,#bfe063,#c3e165,#c0e063,#bce062,#bde062,#c3e164,#c1e164,#bde062,#c0e063,#c4e165,#c5e166,#c3e164,#c0e063,#c3e165,#c9e267,#cae267,#c9e267,#c5e165,#bee063,#bce062,#bee063,#bbdf62,#b7df60,#b3de5f,#afdd5f,#a7db60,#9ad861,#98d861,#9dd961,#9ed960,#9dd961,#99d861,#9bd861,#9fd960,#9ed960,#9fd960,#a2da60,#a3da60,#a3da60,#a1da60,#9cd961,#9bd861,#98d861,#9cd961,#a3da60,#a3da60,#b4de5f,#c3e165,#d3e46b,#dae66d,#d9e56d,#d6e56c,#d3e46b,#d5e56b,#dae66d,#d8e56d,#d5e56b,#d7e56c,#d5e56b,#cee369,#cfe369,#d4e46b,#d2e46a,#d6e56c,#d9e56d,#d6e56c,#cfe369,#cfe369,#d4e46b,#d5e56b,#d2e46a,#cee369,#cfe369,#d0e469,#cfe369,#cce368,#c9e267,#cae267,#c8e266,#cae267,#c6e266,#c2e164,#c5e165,#c7e266,#c6e266,#c5e165,#c9e267,#cfe369,#cee369,#cae267,#c1e164,#c0e063,#c2e164,#bee063,#bee063,#c2e164,#c4e165,#c1e164,#bfe063,#c0e063,#c6e266,#c8e266,#c7e266,#c7e266,#c8e267,#c6e266,#c8e266,#c9e267,#c7e266,#c6e266,#c6e266,#c5e165,#c3e164,#c6e266,#c8e267,#c3e165,#c1e164,#c6e266,#c9e267,#c5e166,#c5e165,#bfe063,#b7df60,#b7df60,#bee063,#c0e064,#badf61,#bce062,#badf61,#bde062,#c4e165,#c5e165,#c0e064,#c0e063,#c4e165,#c7e266,#c4e165,#c2e164,#bee063,#b9df61,#b3de5f,#aedd5f,#aadc60,#a3da60,#a2da60,#a8db60,#aadc60,#acdc60,#aadc60,#a6db60,#a2da60,#a4da60,#a5db60,#a1da60,#9fd960,#9fd960,#9fd960,#a1da60)"></div>
<div style="top:160px;height:10.6px;background:linear-gradient(90deg,#d7e56c,#d3e46b,#d1e46a,#d9e56d,#dce66e,#d4e46b,#d4e46b,#d8e56d,#d8e56c,#d7e56c,#d9e56d,#d6e56c,#d3e46a,#d7e56c,#dbe66e,#d9e56d,#dce66e,#dde670,#dfe771,#dde66f,#d6e56c,#d3e46b,#d3e46b,#d3e46b,#cfe369,#d1e46a,#d0e46a,#c7e266,#c3e165,#c7e266,#c8e267,#c6e266,#c3e165,#c4e165,#c6e266,#c2e164,#c3e165,#c8e267,#c9e267,#c5e165,#bee063,#bbdf62,#bfe063,#c3e165,#c0e063,#bce062,#bde062,#c3e164,#c1e164,#bde062,#c0e063,#c4e165,#c5e166,#c3e164,#c0e063,#c3e165,#c9e267,#cae267,#c9e267,#c5e165,#bee063,#bce062,#bee063,#bbdf62,#b7df60,#b3de5f,#afdd5f,#a7db60,#9ad861,#98d861,#9dd961,#9ed960,#9dd961,#99d861,#9bd861,#9fd960,#9ed960,#9fd960,#a2da60,#a3da60,#a3da60,#a1da60,#9cd961,#9bd861,#98d861,#9cd961,#a3da60,#a3da60,#b4de5f,#c3e165,#d3e46b,#dae66d,#d9e56d,#d7e56c,#d3e46b,#d4e46b,#dae66d,#d8e56d,#d5e56b,#d7e56c,#d5e56b,#cee369,#cfe369,#d4e46b,#d2e46a,#d6e56c,#d9e56d,#d6e56c,#cfe369,#cfe369,#d4e46b,#d5e56b,#d2e46a,#cee369,#cfe369,#d0e469,#cfe369,#cce368,#c9e267,#cae267,#c8e266,#cae267,#c6e266,#c2e164,#c5e165,#c7e266,#c6e266,#c5e165,#c9e267,#cfe369,#cee369,#cae267,#c1e164,#c0e063,#c2e164,#bee063,#bee063,#c2e164,#c4e165,#c1e164,#bfe063,#c0e063,#c6e266,#c8e266,#c7e266,#c7e266,#c8e267,#c6e266,#c8e266,#c9e267,#c7e266,#c6e266,#c6e266,#c5e165,#c3e164,#c6e266,#c8e267,#c3e165,#c1e164,#c6e266,#c9e267,#c5e166,#c5e165,#bfe063,#b7df60,#b7df60,#bee063,#c0e064,#badf61,#bce062,#badf61,#bde062,#c4e165,#c5e165,#c0e064,#c0e063,#c4e165,#c7e266,#c4e165,#c2e164,#bee063,#b9df61,#b3de5f,#aedd5f,#aadc60,#a3da60,#a2da60,#a8db60,#aadc60,#acdc60,#aadc60,#a6db60,#a3da60,#a7db60,#a7db60,#a4da60,#a1da60,#9fd960,#9fd960,#a1da60)"></div>
<div style="top:170px;height:10.6px;background:linear-gradient(90deg,#d7e56c,#d3e46b,#d1e46a,#d9e56d,#dce66e,#d4e46b,#d4e46b,#d8e56d,#d8e56c,#d7e56c,#d9e56d,#d6e56c,#d3e46a,#d7e56c,#dbe66e,#d9e56d,#dce66e,#dde670,#dfe771,#dde66f,#d6e56c,#d3e46b,#d3e46b,#d3e46b,#cfe369,#d1e46a,#d0e46a,#c7e266,#c3e165,#c7e266,#c8e267,#c6e266,#c3e165,#c4e165,#c6e266,#c2e164,#c3e165,#c8e267,#c9e267,#c5e165,#bee063,#bbdf62,#bfe063,#c3e165,#c0e063,#bce062,#bde062,#c3e164,#c1e164,#bde062,#c0e063,#c4e165,#c5e166,#c3e164,#c0e063,#c3e165,#c9e267,#cae267,#c9e267,#c5e165,#bee063,#bce062,#bee063,#bbdf62,#b7df60,#b3de5f,#afdd5f,#a7db60,#9ad861,#98d861,#9dd961,#9ed960,#9dd961,#99d861,#9bd861,#9fd960,#9ed960,#9fd960,#a2da60,#a3da60,#a3da60,#a1da60,#9cd961,#9bd861,#98d861,#9cd961,#a3da60,#a3da60,#b4de5f,#c3e165,#d3e46b,#dae66d,#d9e56d,#d8e56c,#d3e46b,#d4e46b,#dae66d,#d8e56d,#d5e56b,#d7e56c,#d5e56b,#cee369,#cfe369,#d4e46b,#d2e46a,#d6e56c,#d9e56d,#d6e56c,#cfe369,#cfe369,#d4e46b,#d5e56b,#d2e46a,#cee369,#cfe369,#d0e469,#cfe369,#cce368,#c9e267,#cae267,#c8e266,#cae267,#c6e266,#c2e164,#c5e165,#c7e266,#c6e266,#c5e165,#c9e267,#cfe369,#cee369,#cae267,#c1e164,#c0e063,#c2e164,#bee063,#bee063,#c2e164,#c4e165,#c1e164,#bfe063,#c0e063,#c6e266,#c8e266,#c7e266,#c7e266,#c8e267,#c6e266,#c8e266,#c9e267,#c7e266,#c6e266,#c6e266,#c5e165,#c3e164,#c6e266,#c8e267,#c3e165,#c1e164,#c6e266,#c9e267,#c5e166,#c5e165,#bfe063,#b7df60,#b7df60,#bee063,#c0e064,#badf61,#bce062,#badf61,#bde062,#c4e165,#c5e165,#c0e064,#c0e063,#c4e165,#c7e266,#c4e165,#c2e164,#bee063,#b9df61,#b3de5f,#aedd5f,#aadc60,#a3da60,#a2da60,#a8db60,#aadc60,#acdc60,#aadc60,#a6db60,#a3da60,#a7db60,#a8db60,#a4da60,#a1da60,#9fd960,#9fd960,#a1da60)"></div>
<div style="top:160px;height:50.6px;background:linear-gradient(90deg,#d7e56c,#d3e46b,#d1e46a,#d9e56d,#dce66e,#d4e46b,#d4e46b,#d8e56d,#d8e56c,#d7e56c,#d9e56d,#d6e56c,#d3e46a,#d7e56c,#dbe66e,#d9e56d,#dce66e,#dde670,#dfe771,#dde66f,#d6e56c,#d3e46b,#d3e46b,#d3e46b,#cfe369,#d1e46a,#d0e46a,#c7e266,#c3e165,#c7e266,#c8e267,#c6e266,#c3e165,#c4e165,#c6e266,#c2e164,#c3e165,#c8e267,#c9e267,#c5e165,#bee063,#bbdf62,#bfe063,#c3e165,#c0e063,#bce062,#bde062,#c3e164,#c1e164,#bde062,#c0e063,#c4e165,#c5e166,#c3e164,#c0e063,#c3e165,#c9e267,#cae267,#c9e267,#c5e165,#bee063,#bce062,#bee063,#bbdf62,#b7df60,#b3de5f,#afdd5f,#a7db60,#9ad861,#98d861,#9dd961,#9ed960,#9dd961,#99d861,#9bd861,#9fd960,#9ed960,#9fd960,#a2da60,#a3da60,#a3da60,#a1da60,#9cd961,#9bd861,#98d861,#9cd961,#a3da60,#a3da60,#b4de5f,#c3e165,#d3e46b,#dae66d,#d9e56d,#d8e56c,#d3e46b,#d4e46b,#dae66d,#d8e56d,#d5e56b,#d7e56c,#d5e56b,#cee369,#cfe369,#d4e46b,#d2e46a,#d6e56c,#d9e56d,#d6e56c,#cfe369,#cfe369,#d4e46b,#d5e56b,#d2e46a,#cee369,#cfe369,#d0e469,#cfe369,#cce368,#c9e267,#cae267,#c8e266,#cae267,#c6e266,#c2e164,#c5e165,#c7e266,#c6e266,#c5e165,#c9e267,#cfe369,#cee369,#cae267,#c1e164,#c0e063,#c2e164,#bee063,#bee063,#c2e164,#c4e165,#c1e164,#bfe063,#c0e063,#c6e266,#c8e266,#c7e266,#c7e266,#c8e267,#c6e266,#c8e266,#c9e267,#c7e266,#c6e266,#c6e266,#c5e165,#c3e164,#c6e266,#c8e267,#c3e165,#c1e164,#c6e266,#c9e267,#c5e166,#c5e165,#bfe063,#b7df60,#b7df60,#bee063,#c0e064,#badf61,#bce062,#badf61,#bde062,#c4e165,#c5e165,#c0e064,#c0e063,#c4e165,#c7e266,#c4e165,#c2e164,#bee063,#b9df61,#b3de5f,#aedd5f,#aadc60,#a3da60,#a2da60,#a8db60,#aadc60,#acdc60,#aadc60,#a6db60,#a3da60,#a7db60,#a8db60,#a4da60,#a1da60,#9fd960,#9fd960,#a1da60)"></div>
</div>
<div style="top:140.5px;height:27px;background:linear-gradient(90deg,#b8df60,#b8df60,#b5de5f,#aadc60,#a2da60,#a0da60,#9fd960,#9ed960,#a1da60,#a8db60,#a8db60,#cfe369,#dae66d,#dbe66e,#dbe66e,#dbe66e,#dce66e,#dde66f,#dde66f,#dde66f,#dde66f,#dde66f,#dde66f,#dee770,#e1e874,#e8ea7c,#edeb82,#edec83,#efec85,#efec85,#ebeb80,#e5e979,#e4e877,#e6e97b,#e9ea7e,#ebeb80,#edeb83,#efec84,#edeb82,#eaeb7f,#e9ea7e,#eaea7e,#eaea7f,#eaeb7f,#ebeb80,#eaea7f,#e9ea7e,#eaea7f,#eceb81,#edec83,#eeec84,#edec83,#eceb81,#eaeb7f,#e8ea7d,#e7ea7b,#e9ea7e,#eceb81,#eceb81,#ebeb7f,#eaea7f,#e9ea7e,#e9ea7d,#eaeb7f,#eceb82,#eeec84,#eeec84,#eeec83,#eceb82,#ebeb80,#e8ea7c,#e4e978,#e3e876,#e3e876,#e6e979,#eaea7f,#eceb82,#eceb81,#ebeb80,#eceb81,#edeb82,#eceb81,#edeb82,#efec85,#f2ed88,#f1ed87,#efec85,#eeec84,#eceb81,#e9ea7d,#e5e979,#d1e46a,#cae267,#cee369,#cce368,#c8e267,#c5e165,#c4e165,#c5e165,#c8e267,#cae267,#c9e267,#c6e266,#c3e165,#c5e165,#c7e266,#c5e165,#c3e165,#c4e165,#c3e165,#c2e164,#c0e064,#bfe063,#c2e164,#c8e267,#cce368,#cce368,#cbe368,#c9e267,#c6e266,#c5e166,#c5e165,#c5e165,#c7e266,#cee369,#d0e46a,#cde369,#d1e46a,#d8e56c,#dce66e,#dde66f,#dde66f,#dde66f,#dee770,#dfe771,#dde66f,#d8e56c,#d3e46b,#d4e46b,#dae66d,#dce66e,#d9e56d,#d9e56d,#dde66f,#dde66f,#d9e56d,#d7e56c,#dae66d,#dbe66e,#dae66d,#d7e56c,#d3e46b,#d2e46a,#d3e46b,#d5e56b,#d7e56c,#dae66d,#dde66f,#dde670,#cfe369,#bce062,#bce062,#badf61,#b7df60,#b6de60,#b7df60,#badf61,#bbdf62,#bce062,#c0e064,#c1e164,#bbdf62,#b8df60,#b8df60,#b7df60,#b5de5f,#b6de60,#b8df60,#b8df61,#b8df60,#b7df60,#b6de60,#b5de60,#b4de5f,#b2de5f,#b1dd5f,#b3de5f,#b1dd5f,#acdc60,#aadc60,#acdc60,#addc5f,#acdc60,#addc5f,#aedd5f,#afdd5f,#b0dd5f,#b1dd5f,#afdd5f,#addd5f)"></div>
<div style="top:167px;height:34.5px;background:linear-gradient(90deg,#9ed960,#9ed960,#a0da60,#a4db60,#a5db60,#a5db60,#a7db60,#a7db60,#a4da60,#a2da60,#a4da60,#d2e46a,#dee771,#dfe772,#e0e773,#dfe771,#dde670,#dee770,#dfe772,#dee770,#d9e56d,#d6e56c,#d8e56c,#eeec84,#f1ed87,#f7ee8f,#fdef9a,#fdef9a,#fdef9a,#fdef9a,#fcef99,#f9ee92,#f4ee8a,#f1ed88,#f1ed88,#f3ee8a,#f8ee90,#faef95,#faef94,#f8ee91,#f5ee8d,#f2ed88,#efec85,#f0ec86,#f5ee8c,#f9ee92,#f8ee91,#f6ee8d,#f4ee8b,#f3ed89,#f3ed89,#f3ed89,#f3ed8a,#f4ee8b,#f7ee8f,#fbef96,#fdef9a,#fcef97,#f5ee8c,#f2ed88,#f2ed89,#f5ee8c,#f6ee8e,#f6ee8d,#f5ee8d,#f5ee8b,#f3ed8a,#f3ed8a,#f3ed8a,#f3ed89,#f6ee8d,#f9ef93,#f9ee93,#f7ee8f,#f6ee8e,#f6ee8d,#f6ee8e,#f8ee91,#f9ee92,#f7ee90,#f9ee93,#fcef98,#fcef98,#f8ee92,#f3ed8a,#f0ec86,#f2ed88,#f7ee90,#fdef9a,#fdef9a,#f9ee92,#e2e875,#cde368,#cfe369,#d4e46b,#d6e56c,#d4e46b,#d5e56c,#dae66d,#dbe66e,#d8e56d,#d4e46b,#d5e56b,#d9e56d,#dae66d,#d7e56c,#d6e56c,#d7e56c,#d3e46b,#cde368,#cbe367,#cde368,#d8e56c,#e2e876,#e7e97b,#e7ea7b,#e7ea7b,#e7e97b,#e6e97a,#e5e978,#e4e978,#e4e977,#e5e978,#e7e97b,#e8ea7d,#e8ea7c,#e7ea7b,#e7e97b,#e7ea7b,#e8ea7d,#e9ea7d,#e9ea7e,#e9ea7e,#e7ea7b,#e6e979,#e5e979,#e4e978,#e4e978,#e4e978,#e7ea7b,#eceb81,#eeec84,#eceb82,#e9ea7d,#e6e97a,#e6e97b,#e7ea7c,#e8ea7d,#eaeb7f,#edec83,#f0ec86,#efec85,#edeb82,#eaea7e,#e7e97b,#e6e97a,#e8ea7c,#e9ea7e,#e9ea7d,#e8ea7d,#dae66d,#cbe368,#cbe367,#cbe368,#cee369,#d2e46a,#d2e46a,#cce368,#c3e165,#c1e164,#c7e266,#cfe369,#d4e46b,#d3e46b,#d0e469,#cfe369,#d2e46a,#d4e46b,#cee369,#c7e266,#c5e165,#c7e266,#c8e266,#c6e266,#c3e165,#c3e165,#c6e266,#c9e267,#c9e267,#c9e267,#c8e267,#c6e266,#c5e166,#c8e266,#c9e267,#c8e267,#c7e266,#c4e165,#c4e165,#c6e266)"></div>
</div>
<div class="p" style="top:3013.7px">
<div class="bl2">
<div style="top:0px;height:40.6px;background:linear-gradient(90deg,#6843a1,#6642a2,#6743a1,#6a44a0,#6d46a0,#6642a2,#6944a1,#6e479f,#6642a1,#5f3fa3,#553aa5,#5339a6,#583ba5,#5a3ca4,#5d3ea3,#583ba5,#5038a6,#4b35a7,#4734a8,#4734a8,#4734a8,#4f37a6,#543aa5,#4a35a8,#4334a6,#4233a6,#3b33a3,#30329e,#3f33a5,#4935a8,#4033a5,#4734a8,#5038a6,#4d36a7,#4e37a7,#5e3ea3,#73499e,#875298,#9b5691,#b25b85,#c96177,#de6968,#ec705c,#f27852,#f78148,#fa8d41,#fb973e,#fc9f3a,#fca73a,#fdaf3b,#fdb63b,#febd3c,#fdc53e,#fcce40,#fbdb44,#f7e64a,#f2f053,#ecf95a,#e8fa5b,#e8fa5b,#e8fa5b,#e8fa5b,#e8fa5b,#e8fa5b,#e8fa5b,#e8fa5b,#e8fa5b,#e8fa5b,#e8fa5b,#e8fa5b,#e8fa5b,#febc3c,#feb83c,#fdb33b,#fdaf3b,#fdaa3b,#fca53a,#fb9b3c,#fa9240,#f98844,#f88545,#f88247,#f68049,#f57d4c,#f47b4e,#f27951,#eb6f5d,#d6656e,#bc5d7f,#ac5a88,#a7598b,#a8598a,#ae5a87,#9f578f,#9a5691,#9b5690,#995692,#965592,#925494,#8c5396,#905495,#975592,#915495,#885298,#875298,#865199,#7f4f9b,#7d4e9c,#7a4d9c,#794c9d,#754a9e,#72489f,#70479f,#6f479f,#6a44a0,#6341a2,#5e3ea3,#553aa5,#4c36a7,#4434a6,#4334a6,#4734a8,#4d37a7,#5138a6,#563aa5,#593ca4,#593ca4,#593ca4,#573ba5,#543aa5,#5339a6,#5239a6,#5038a6,#4f37a7,#4f37a6,#5f3fa3,#6f479f,#80509b,#915495,#a9598a,#c15f7c,#d8666d,#ed715a,#f88545,#fca33a,#fec03d,#fae146,#eef85a,#e9fa5b,#e8fa5b,#e8fa5b,#e8fa5b,#e8fa5b,#e8fa5b,#e8fa5b,#e8fa5b,#e8fa5b,#e8fa5b,#e8fa5b,#e8fa5b,#e8fa5b,#e8fa5b,#e8fa5b,#e8fa5b,#e8fa5b,#e8fa5b,#e8fa5b,#e8fa5b,#e8fa5b,#e8fa5b,#e8fa5b,#e8fa5b,#e8fa5b,#e8fa5b,#e8fa5b,#e8fa5b,#e8fa5b,#e8fa5b,#fca53a,#bc5d80,#ac5a88,#a8598a,#a4588c,#a3588c,#9c5690,#985692,#955593,#915494,#915495,#8b5397,#8c5396,#885298,#875298,#865199,#855199,#845199,#83519a,#82509a,#81509b,#80509b)"></div>
<div style="top:40px;height:6.6px;background:linear-gradient(90deg,#6843a1,#6642a2,#6743a1,#6a44a0,#6d46a0,#6642a2,#6944a1,#6e479f,#6642a1,#5f3fa3,#553aa5,#5339a6,#583ba5,#5a3ca4,#5d3ea3,#583ba5,#5038a6,#4b35a7,#4734a8,#4734a8,#4734a8,#4f37a6,#543aa5,#4a35a8,#4334a6,#4334a6,#3b33a3,#31329e,#3f33a5,#4935a8,#4033a5,#4734a8,#5038a6,#4d36a7,#4e37a7,#4734a8,#6e46a0,#855199,#9a5691,#b25b85,#c96177,#de6968,#ec705c,#f17852,#f78048,#f98d42,#fb963e,#fc9e3b,#fca63a,#fdaf3b,#fdb63b,#febd3c,#fdc53e,#fccd40,#fbda44,#f7e64a,#f2ef53,#edf85a,#e8fa5b,#e8fa5b,#e8fa5b,#e8fa5b,#e8fa5b,#e8fa5b,#e8fa5b,#e8fa5b,#e8fa5b,#e8fa5b,#e8fa5b,#e8fa5b,#e8fa5b,#febc3c,#feb73c,#fdb33b,#fdaf3b,#fdaa3b,#fca53a,#fb9b3c,#fa9240,#f98844,#f88545,#f88147,#f67f49,#f57d4c,#f47b4e,#f27951,#eb6f5d,#d6656e,#bc5d7f,#ac5a88,#a7598b,#a8598a,#ae5a87,#9f578f,#9a5691,#9b5690,#995692,#965592,#925494,#8c5396,#905495,#975592,#915495,#885298,#875298,#865199,#7e4f9b,#7b4e9c,#774b9d,#774b9d,#71489f,#6b45a0,#6843a1,#6944a1,#603fa3,#553aa5,#5138a6,#4334a6,#3933a2,#2e329b,#2f329c,#3532a1,#3d33a4,#3d33a4,#4534a7,#5038a6,#5138a6,#5439a6,#5038a6,#4c36a7,#4c36a7,#4e37a7,#4a35a8,#4935a8,#4b35a7,#4f37a7,#5c3da4,#754a9e,#8a5297,#a4588c,#bd5d7f,#d5646f,#eb6f5d,#f88246,#fca13a,#febe3c,#fae046,#eef759,#eaf95b,#e8fa5b,#e8fa5b,#e8fa5b,#e8fa5b,#e8fa5b,#e8fa5b,#e8fa5b,#e8fa5b,#e8fa5b,#e8fa5b,#e8fa5b,#e8fa5b,#e8fa5b,#e8fa5b,#e8fa5b,#e8fa5b,#e8fa5b,#e8fa5b,#e8fa5b,#e8fa5b,#e8fa5b,#e8fa5b,#e8fa5b,#e8fa5b,#e8fa5b,#e8fa5b,#e8fa5b,#e8fa5b,#e8fa5b,#fca53a,#bc5d80,#ac5a88,#a8598a,#a4588c,#a3588c,#9c5690,#985692,#955593,#915494,#915495,#8b5397,#8c5396,#885298,#875298,#865199,#855199,#845199,#83519a,#82509a,#81509b,#80509b)"></div>
<div style="top:46px;height:6.6px;background:linear-gradient(90deg,#6843a1,#6642a2,#6743a1,#6a44a0,#6d46a0,#6642a2,#6944a1,#6e479f,#6642a1,#5f3fa3,#553aa5,#5339a6,#583ba5,#5a3ca4,#5d3ea3,#583ba5,#5038a6,#4b35a7,#4734a8,#4734a8,#4734a8,#4f37a6,#543aa5,#4a35a8,#4334a6,#4334a6,#3c33a4,#3232a0,#4033a5,#4a35a8,#4033a5,#4734a8,#5038a6,#4d36a7,#4e37a7,#4634a7,#5038a6,#794c9d,#935494,#ac5a88,#c45f7b,#d9676c,#e86e60,#f07655,#f57e4b,#f98943,#fa933f,#fb9b3c,#fca33a,#fdab3b,#fdb33b,#feba3c,#fec23d,#fdcb40,#fbd843,#f8e449,#f4ed51,#eef85a,#e8fa5b,#e8fa5b,#e8fa5b,#e8fa5b,#e8fa5b,#e8fa5b,#e8fa5b,#e8fa5b,#e8fa5b,#e8fa5b,#e8fa5b,#e8fa5b,#e8fa5b,#febb3c,#feb73c,#fdb23b,#fdae3b,#fda93b,#fca43a,#fb9a3c,#fa9140,#f98744,#f88445,#f78147,#f67f4a,#f57d4c,#f37b4f,#f27951,#ea6f5e,#d6656f,#bc5d7f,#ac5a88,#a6588b,#a8598a,#ae5a87,#9f578f,#9a5691,#9b5690,#995692,#965592,#925494,#8c5396,#905495,#975592,#915495,#885298,#875298,#865199,#7e4f9b,#7b4e9c,#774b9d,#774b9d,#71489f,#6b45a0,#6843a1,#6944a1,#603fa3,#553aa5,#5138a6,#4434a7,#3a33a3,#2f329c,#30329d,#3632a1,#3d33a4,#3e33a4,#4534a7,#5038a6,#5138a6,#5439a6,#5038a6,#4c36a7,#4c36a7,#4e37a7,#4a35a8,#4935a8,#4b35a7,#4f37a7,#4d36a7,#6742a1,#6341a2,#81509b,#9c5690,#b35b85,#ce6274,#f07654,#fa9240,#fdaf3b,#fcd142,#f3ef52,#eff658,#ecf95a,#e8fa5b,#e8fa5b,#e8fa5b,#e8fa5b,#e8fa5b,#e8fa5b,#e8fa5b,#e8fa5b,#e8fa5b,#e8fa5b,#e8fa5b,#e8fa5b,#e8fa5b,#e8fa5b,#e8fa5b,#e8fa5b,#e8fa5b,#e8fa5b,#e8fa5b,#e8fa5b,#e8fa5b,#e8fa5b,#e8fa5b,#e8fa5b,#e8fa5b,#e8fa5b,#e8fa5b,#e8fa5b,#fca43a,#bc5d80,#ac5a88,#a8598a,#a4588c,#a3588c,#9c5690,#985692,#955593,#915494,#915495,#8b5397,#8c5396,#885298,#875298,#865199,#855199,#845199,#83519a,#82509a,#81509b,#80509b)"></div>
<div style="top:52px;height:6.6px;background:linear-gradient(90deg,#6843a1,#6642a2,#6743a1,#6a44a0,#6d46a0,#6642a2,#6944a1,#6e479f,#6642a1,#5f3fa3,#553aa5,#5339a6,#583ba5,#5a3ca4,#5d3ea3,#583ba5,#5038a6,#4b35a7,#4734a8,#4734a8,#4734a8,#4f37a6,#543aa5,#4a35a8,#4334a6,#4434a6,#3e33a4,#3432a1,#4233a6,#4b35a7,#4133a5,#4734a8,#5038a6,#4d36a7,#4e37a7,#4634a7,#5e3ea3,#6140a3,#865199,#9f578e,#b95c81,#d06372,#e06a66,#ec705b,#f37a50,#f88246,#f98b42,#fa943f,#fc9d3b,#fca53a,#fdad3b,#fdb43b,#febd3c,#fdc63e,#fcd442,#fae046,#f6e94d,#f0f456,#e9fa5b,#e8fa5b,#e8fa5b,#e8fa5b,#e8fa5b,#e8fa5b,#e8fa5b,#e8fa5b,#e8fa5b,#e8fa5b,#e8fa5b,#e8fa5b,#e8fa5b,#feb93c,#fdb53b,#fdb03b,#fdac3b,#fca73a,#fca23a,#fb983d,#fa8f41,#f88545,#f88246,#f78048,#f57e4b,#f47c4d,#f37a50,#f17852,#e96e5f,#d46470,#bc5d80,#ac5a88,#a6588b,#a8598a,#ae5a87,#9f578f,#9a5691,#9b5690,#995692,#965592,#925494,#8c5396,#905495,#975592,#915495,#885298,#875298,#865199,#7e4f9b,#7b4e9c,#774b9d,#774b9d,#71489f,#6b45a0,#6843a1,#6944a1,#603fa3,#553aa5,#5238a6,#4534a7,#3b33a3,#31329f,#3232a0,#3833a2,#3e33a5,#3e33a5,#4634a7,#5038a6,#5138a6,#5439a6,#5038a6,#4c36a7,#4c36a7,#4e37a7,#4a35a8,#4935a8,#4b35a7,#4f37a7,#4d36a7,#6541a2,#6743a1,#6c46a0,#74499e,#7a4d9c,#855199,#bd5e7f,#eb705d,#f78147,#fdb03b,#fbdc45,#f7e74b,#f4ec4f,#f0f557,#eaf95b,#e8fa5b,#e8fa5b,#e8fa5b,#e8fa5b,#e8fa5b,#e8fa5b,#e8fa5b,#e8fa5b,#e8fa5b,#e8fa5b,#e8fa5b,#e8fa5b,#e8fa5b,#e8fa5b,#e8fa5b,#e8fa5b,#e8fa5b,#e8fa5b,#e8fa5b,#e8fa5b,#e8fa5b,#e8fa5b,#e8fa5b,#e8fa5b,#e8fa5b,#e8fa5b,#fca33a,#bb5d80,#ac5a88,#a8598a,#a4588c,#a3588c,#9c5690,#985692,#945593,#915494,#915495,#8b5397,#8c5396,#885298,#875298,#865199,#855199,#84519a,#83519a,#82509a,#81509b,#80509b)"></div>
<div style="top:58px;height:6.6px;background:linear-gradient(90deg,#6843a1,#6642a2,#6743a1,#6a44a0,#6d46a0,#6642a2,#6944a1,#6e479f,#6642a1,#5f3fa3,#553aa5,#5339a6,#583ba5,#5a3ca4,#5d3ea3,#583ba5,#5038a6,#4b35a7,#4734a8,#4734a8,#4734a8,#4f37a6,#543aa5,#4a35a8,#4434a6,#4534a7,#4133a5,#3732a2,#4534a7,#4c36a7,#4133a5,#4734a8,#5038a6,#4d36a7,#4e37a7,#4634a7,#563ba5,#6140a3,#70479f,#8e5396,#a95989,#c15f7c,#d36471,#e26b64,#ee7358,#f47c4d,#f78147,#f98a43,#fa943f,#fb9c3c,#fca43a,#fdac3b,#feb73c,#febf3c,#fccd40,#fbd944,#f9e348,#f4ed51,#edf85a,#e8fa5b,#e8fa5b,#e8fa5b,#e8fa5b,#e8fa5b,#e8fa5b,#e8fa5b,#e8fa5b,#e8fa5b,#e8fa5b,#e8fa5b,#e8fa5b,#fdb63b,#fdb23b,#fdae3b,#fda93b,#fca43a,#fc9f3a,#fb963e,#f98c42,#f88346,#f78148,#f67f4a,#f47c4d,#f37a4f,#f27852,#f07654,#e76d60,#d26471,#bc5d80,#ac5a88,#a6588b,#a8598a,#ae5a87,#9f578f,#9a5691,#9b5690,#995692,#965592,#925494,#8c5396,#905495,#975592,#915495,#885298,#875298,#865199,#7e4f9b,#7b4e9c,#774b9d,#774b9d,#71489f,#6b45a0,#6843a1,#6944a1,#613fa3,#553aa5,#5239a6,#4734a8,#3e33a4,#3432a1,#3432a1,#3a33a3,#4033a5,#3f33a5,#4634a7,#5038a6,#5138a6,#5439a6,#5038a6,#4c36a7,#4c36a7,#4e37a7,#4a35a8,#4935a8,#4b35a7,#4f37a7,#4d36a7,#5d3ea3,#5f3fa3,#6341a2,#6542a2,#6642a2,#6944a1,#754a9e,#855199,#8e5395,#c96177,#fa9240,#fdb53b,#fdb63b,#fbd743,#f3ee51,#f0f557,#eef85a,#edf85a,#ecf95a,#ebf95b,#eaf95b,#e8fa5b,#e8fa5b,#e8fa5b,#e8fa5b,#e8fa5b,#e8fa5b,#e8fa5b,#e8fa5b,#e8fa5b,#e8fa5b,#e8fa5b,#e8fa5b,#e8fa5b,#e8fa5b,#e8fa5b,#e8fa5b,#e8fa5b,#e8fa5b,#e8fa5b,#e8fa5b,#fca13a,#bb5d80,#ab5988,#a7598a,#a4588c,#a3588c,#9c5690,#985592,#945593,#915494,#915495,#8b5397,#8c5396,#885298,#875298,#865199,#845199,#83519a,#82519a,#81509a,#80509b,#7f509b)"></div>
<div style="top:64px;height:6.6px;background:linear-gradient(90deg,#6843a1,#6642a2,#6743a1,#6a44a0,#6d46a0,#6642a2,#6944a1,#6e479f,#6642a1,#5f3fa3,#553aa5,#5339a6,#583ba5,#5a3ca4,#5d3ea3,#583ba5,#5038a6,#4b35a7,#4734a8,#4734a8,#4734a8,#4f37a6,#543aa5,#4a35a8,#4434a7,#4634a7,#4434a6,#3b33a3,#4834a8,#4d36a7,#4133a6,#4734a8,#5038a6,#4d36a7,#4e37a7,#4634a7,#5038a6,#5f3fa3,#6441a2,#754a9e,#905495,#a6588b,#b95c82,#d36471,#e56c62,#ee7358,#f17852,#f67f4a,#f98744,#fa8f41,#fb983d,#fca23a,#fdae3b,#feb73c,#fdc43e,#fccf41,#fbd944,#f8e54a,#f2f154,#edf85a,#ebf95a,#eaf95b,#e8fa5b,#e8fa5b,#e8fa5b,#e8fa5b,#e8fa5b,#e8fa5b,#e8fa5b,#e8fa5b,#e8fa5b,#fdb33b,#fdae3b,#fdaa3b,#fca53a,#fca13a,#fb9b3c,#fa9240,#f98943,#f78048,#f67f4a,#f47d4d,#f37a4f,#f27852,#f07754,#ef7457,#e46c62,#d06373,#bb5d80,#ac5a88,#a5588b,#a8598a,#ae5a87,#9f578f,#9a5691,#9b5690,#995692,#965592,#925494,#8c5396,#905495,#975592,#915495,#885298,#875298,#865199,#7e4f9b,#7b4e9c,#774b9d,#774b9d,#71489f,#6b45a0,#6843a1,#6944a1,#613fa3,#563aa5,#5339a6,#4834a8,#4033a5,#3732a2,#3833a2,#3d33a4,#4233a6,#4033a5,#4734a7,#5038a6,#5138a6,#5439a6,#5138a6,#4c36a7,#4c36a7,#4e37a7,#4a35a8,#4935a8,#4b35a7,#4f37a7,#4d36a7,#583ca4,#5a3ca4,#5c3da4,#5d3ea3,#5e3ea3,#6140a3,#6441a2,#6441a2,#6542a2,#71489f,#885298,#a0578e,#9e578f,#d7656e,#febc3c,#f9e348,#f5eb4f,#f4ed50,#f3ee51,#f2f154,#f1f356,#eef75a,#ecf95a,#eaf95b,#e9fa5b,#e8fa5b,#e8fa5b,#e8fa5b,#e8fa5b,#e8fa5b,#e8fa5b,#e8fa5b,#e8fa5b,#e8fa5b,#e8fa5b,#e8fa5b,#e8fa5b,#e8fa5b,#e8fa5b,#e8fa5b,#e8fa5b,#fc9e3b,#bb5d80,#ab5989,#a7598b,#a3588c,#a3588c,#9b5690,#975592,#945593,#915494,#915495,#8b5397,#8c5396,#875298,#865199,#855199,#845199,#83519a,#82509a,#81509b,#80509b,#7f4f9b)"></div>
<div style="top:70px;height:6.6px;background:linear-gradient(90deg,#6843a1,#6642a2,#6743a1,#6a44a0,#6d46a0,#6642a2,#6944a1,#6e479f,#6642a1,#5f3fa3,#553aa5,#5339a6,#583ba5,#5a3ca4,#5d3ea3,#583ba5,#5038a6,#4b35a7,#4734a8,#4734a8,#4734a8,#4f37a6,#543aa5,#4a35a8,#4434a7,#4834a8,#4734a8,#3f33a5,#4b35a7,#4e37a7,#4233a6,#4734a8,#5038a6,#4d36a7,#4e37a7,#4634a7,#4c36a7,#583ba5,#5c3da4,#6341a2,#6c45a0,#754a9e,#784c9d,#a2588d,#ce6274,#dc686a,#de6968,#ed725a,#f37a4f,#f67f4a,#f98744,#fa943f,#fca33a,#fdad3b,#feb93c,#fdc33d,#fccc40,#fbd844,#f7e74c,#f2f154,#f0f356,#f0f557,#eef85a,#ecf95a,#e9fa5b,#e8fa5b,#e8fa5b,#e8fa5b,#e8fa5b,#e8fa5b,#e8fa5b,#fdae3b,#fdaa3b,#fca53a,#fca13a,#fb9c3c,#fb973e,#fa8d41,#f88445,#f57e4b,#f47c4d,#f37a50,#f17852,#f07655,#ef7457,#ed7259,#e16b65,#cc6275,#ba5d80,#ac5a88,#a5588b,#a8598a,#ae5a87,#9f578f,#9a5691,#9b5690,#995692,#965592,#925494,#8c5396,#905495,#975592,#915495,#885298,#875298,#865199,#7e4f9b,#7b4e9c,#774b9d,#774b9d,#71489f,#6b45a0,#6843a1,#6944a1,#6140a3,#563ba5,#543aa5,#4a35a8,#4334a6,#3b33a3,#3c33a3,#4033a5,#4434a7,#4233a6,#4734a8,#5138a6,#5138a6,#5439a6,#5138a6,#4c36a7,#4c36a7,#4e37a7,#4a35a8,#4935a8,#4b35a7,#4f37a7,#4d36a7,#553aa5,#563ba5,#583ba5,#593ca4,#593ca4,#5c3da4,#5e3ea3,#5c3da4,#5d3ea4,#6441a2,#6944a1,#6843a1,#6c45a0,#784c9d,#a8598a,#f98744,#fec03d,#fccd40,#fcd141,#fbdc45,#f9e348,#f4ec4f,#f1f154,#f0f456,#eff658,#eef759,#eef85a,#edf85a,#eaf95b,#e8fa5b,#e8fa5b,#e8fa5b,#e8fa5b,#e8fa5b,#e8fa5b,#e8fa5b,#e8fa5b,#e8fa5b,#e8fa5b,#e8fa5b,#e8fa5b,#fb9a3c,#ba5d81,#aa5989,#a6588b,#a3588d,#a3588c,#9b5691,#975592,#935494,#915494,#915495,#8b5397,#8c5396,#875298,#865199,#855199,#84519a,#83519a,#81509a,#80509b,#7f509b,#7e4f9b)"></div>
<div style="top:76px;height:6.6px;background:linear-gradient(90deg,#6843a1,#6642a2,#6743a1,#6a44a0,#6d46a0,#6642a2,#6944a1,#6e479f,#6642a1,#5f3fa3,#553aa5,#5339a6,#583ba5,#5a3ca4,#5d3ea3,#583ba5,#5038a6,#4b35a7,#4734a8,#4734a8,#4734a8,#4f37a6,#543aa5,#4a35a8,#4534a7,#4934a8,#4935a8,#4434a6,#4d37a7,#5038a6,#4334a6,#4834a8,#5038a6,#4d36a7,#4e37a7,#4634a7,#4a35a8,#5339a6,#543aa5,#593ca4,#5a3ca4,#5f3ea3,#5a3ca4,#6642a2,#80509b,#8b5397,#865199,#a9598a,#c76078,#cb6176,#e06a66,#f47d4c,#fb963e,#fca13a,#fdad3b,#fdb63b,#feb93c,#fdc33e,#fbd843,#f7e64a,#f6e94d,#f5eb4f,#f2f053,#f1f356,#eff659,#ecf95a,#ecf95a,#ebf95b,#e9fa5b,#e8fa5b,#eaf95b,#fda83b,#fca43a,#fca03a,#fb9c3c,#fb973e,#fa9140,#f98844,#f78048,#f37b4f,#f27951,#f17753,#ef7556,#ee7358,#ed715b,#eb6f5d,#de6968,#c86078,#ba5c81,#ac5a88,#a5588b,#a8598a,#ae5a87,#9f578f,#9a5691,#9b5690,#995692,#965592,#925494,#8c5396,#905495,#975592,#915495,#885298,#875298,#865199,#7e4f9b,#7b4e9c,#774b9d,#774b9d,#71489f,#6b45a0,#6843a1,#6944a1,#6140a3,#573ba5,#553aa5,#4c36a7,#4634a7,#3e33a4,#3f33a5,#4334a6,#4634a7,#4334a6,#4834a8,#5138a6,#5138a6,#5439a6,#5138a6,#4c36a7,#4c36a7,#4e37a7,#4a35a8,#4935a8,#4b35a7,#4f37a7,#4d36a7,#5339a6,#5439a6,#553aa5,#563aa5,#563ba5,#593ca4,#5a3ca4,#573ba5,#583ca5,#5e3ea3,#6240a2,#5f3fa3,#6340a2,#6b45a0,#764b9d,#885298,#b35b85,#c96177,#cf6373,#ed725a,#fa9140,#fccf41,#f8e449,#f6e84c,#f5eb4f,#f3ed51,#f3ef52,#f2f154,#f0f557,#eef85a,#edf85a,#edf85a,#ecf95a,#ebf95a,#eaf95b,#e8fa5b,#e8fa5b,#e8fa5b,#e9fa5b,#e8fa5b,#e8fa5b,#fb963e,#b95c81,#aa5989,#a6588b,#a2588d,#a3588c,#9a5691,#965592,#935494,#915494,#915495,#8b5397,#8c5396,#865199,#855199,#845199,#83519a,#82509a,#81509b,#80509b,#7f4f9b,#7e4f9c)"></div>
<div style="top:82px;height:6.6px;background:linear-gradient(90deg,#6843a1,#6642a2,#6743a1,#6a44a0,#6d46a0,#6642a2,#6944a1,#6e479f,#6642a1,#5f3fa3,#553aa5,#5339a6,#583ba5,#5a3ca4,#5d3ea3,#583ba5,#5038a6,#4b35a7,#4734a8,#4734a8,#4734a8,#4f37a6,#543aa5,#4a35a8,#4534a7,#4a35a8,#4c36a7,#4734a8,#5038a6,#5138a6,#4334a6,#4834a8,#5038a6,#4d36a7,#4e37a7,#4634a7,#4834a8,#5038a6,#4f37a6,#5339a6,#5339a6,#573ba5,#5138a6,#573ba5,#5c3da4,#603fa3,#6340a2,#70479f,#72499e,#70489f,#784c9d,#9c5690,#f37b4f,#f98d42,#fb9b3c,#fb9c3c,#f67e4a,#f17754,#fc9f3b,#fdc83f,#fbd643,#fbdb44,#f8e549,#f6e94d,#f3ee51,#f1f355,#f0f356,#f0f557,#eff659,#eef85a,#eff659,#fca23a,#fc9e3b,#fb9a3d,#fb953e,#fa9040,#f98b43,#f88246,#f47d4d,#f17753,#f07655,#ef7457,#ed715a,#eb705c,#e96f5e,#e66d61,#d9676c,#c35f7b,#b95c81,#ac5a88,#a5588b,#a8598a,#ae5a87,#9f578f,#9a5691,#9b5690,#995692,#965592,#925494,#8c5396,#905495,#975592,#915495,#885298,#875298,#865199,#7e4f9b,#7b4e9c,#774b9d,#774b9d,#71489f,#6b45a0,#6843a1,#6944a1,#6140a3,#573ba5,#563aa5,#4d36a7,#4934a8,#4233a6,#4334a6,#4634a7,#4834a8,#4434a6,#4834a8,#5138a6,#5238a6,#5439a5,#5138a6,#4c36a7,#4c36a7,#4e37a7,#4a35a8,#4935a8,#4b35a7,#4f37a7,#4d36a7,#5239a6,#5239a6,#5339a6,#5439a6,#543aa5,#573ba5,#573ba5,#543aa5,#553aa5,#5b3da4,#5e3ea3,#5a3ca4,#5e3ea3,#6542a2,#6e46a0,#72489f,#7a4d9c,#7e4f9c,#774b9d,#784c9d,#865199,#cb6176,#fca73a,#fec23d,#fbd643,#fadd45,#fae146,#f8e549,#f5eb4f,#f3ef52,#f2f053,#f1f254,#f1f356,#f0f456,#eff558,#eef85a,#edf85a,#eef85a,#eef759,#edf85a,#ecf95a,#fa9140,#b85c82,#a9598a,#a5588c,#a2588d,#a3588c,#995691,#965593,#925494,#915494,#915495,#8b5397,#8c5396,#855199,#845199,#83519a,#82519a,#81509b,#80509b,#7f4f9b,#7e4f9c,#7d4e9c)"></div>
<div style="top:88px;height:6.6px;background:linear-gradient(90deg,#6843a1,#6642a2,#6743a1,#6a44a0,#6d46a0,#6642a2,#6944a1,#6e479f,#6642a1,#5f3fa3,#553aa5,#5339a6,#583ba5,#5a3ca4,#5d3ea3,#583ba5,#5038a6,#4b35a7,#4734a8,#4734a8,#4734a8,#4f37a6,#543aa5,#4a35a8,#4534a7,#4b35a7,#4e37a7,#4a35a8,#5239a6,#5239a6,#4334a6,#4834a8,#5038a6,#4d36a7,#4e37a7,#4634a7,#4734a8,#4e37a7,#4c36a7,#4f37a7,#4e37a7,#5239a6,#4c36a7,#5138a6,#5339a6,#573ba5,#5a3ca4,#6542a2,#6240a3,#5f3fa3,#603fa3,#6944a1,#915495,#bb5d80,#d06372,#b25b85,#875298,#7c4e9c,#885298,#c25f7b,#ef7457,#f67f4a,#febe3c,#fbd542,#f9e247,#f6e94d,#f5ea4e,#f4ec4f,#f3ee51,#f2f053,#f3ee52,#fb9a3c,#fb973e,#fa923f,#fa8e41,#f98943,#f88345,#f57d4c,#f27852,#ee7358,#ed725a,#ec705c,#e86e5f,#e66d61,#e46c63,#e16b65,#d46470,#bd5d7f,#b85c82,#ac5a88,#a5588b,#a8598a,#ae5a87,#9f578f,#9a5691,#9b5690,#995692,#965592,#925494,#8c5396,#905495,#975592,#915495,#885298,#875298,#865199,#7e4f9b,#7b4e9c,#774b9d,#774b9d,#71489f,#6b45a0,#6843a1,#6944a1,#6140a3,#573ba5,#563ba5,#4f37a7,#4b35a7,#4534a7,#4634a7,#4834a8,#4935a8,#4534a7,#4834a8,#5138a6,#5238a6,#5439a5,#5138a6,#4c36a7,#4c36a7,#4e37a7,#4a35a8,#4935a8,#4b35a7,#4f37a7,#4d36a7,#5138a6,#5138a6,#5239a6,#5239a6,#5339a6,#553aa5,#563aa5,#5239a6,#5339a6,#583ca5,#5b3da4,#573ba5,#5b3da4,#6240a2,#6944a1,#6c45a0,#71489f,#73499e,#6b45a0,#6742a1,#6c45a0,#71489f,#895298,#aa5989,#df6967,#f57e4b,#fa9140,#fdab3b,#fbd743,#f8e449,#f8e64a,#f7e84c,#f6e94d,#f5ea4e,#f4ed50,#f2f053,#f1f255,#f2f053,#f3ef52,#f2f053,#f1f255,#f98c42,#b75c82,#a8598a,#a4588c,#a2588d,#a3588c,#995692,#955593,#915494,#915494,#915495,#8b5397,#8c5396,#855199,#84519a,#82519a,#81509a,#80509b,#7f509b,#7e4f9b,#7d4e9c,#7c4e9c)"></div>
<div style="top:94px;height:6.6px;background:linear-gradient(90deg,#6843a1,#6642a2,#6743a1,#6a44a0,#6d46a0,#6642a2,#6944a1,#6e479f,#6642a1,#5f3fa3,#553aa5,#5339a6,#583ba5,#5a3ca4,#5d3ea3,#583ba5,#5038a6,#4b35a7,#4734a8,#4734a8,#4734a8,#4f37a6,#543aa5,#4a35a8,#4634a7,#4c36a7,#5038a6,#4d36a7,#543aa5,#5339a6,#4434a6,#4834a8,#5038a6,#4d36a7,#4e37a7,#4634a7,#4634a7,#4c36a7,#4a35a8,#4c36a7,#4b36a7,#4f37a6,#4935a8,#4d36a7,#4e37a7,#5239a6,#553aa5,#603fa3,#5b3da4,#593ca4,#593ca4,#603fa3,#6843a1,#6f479f,#71489f,#70479f,#6f479f,#6743a1,#6240a2,#6a44a1,#794c9d,#7c4e9c,#aa5989,#e36b64,#fca73a,#fbd743,#fbd743,#fbda44,#fae046,#f8e449,#f8e449,#fa9240,#fa8e41,#f98a43,#f98644,#f78147,#f57e4b,#f27852,#ee7458,#ea6f5e,#e86e5f,#e66d61,#e26b64,#e06a66,#de6967,#dc686a,#ce6274,#b65c83,#b75c83,#ac5a88,#a5588b,#a8598a,#ae5a87,#9f578f,#9a5691,#9b5690,#995692,#965592,#925494,#8c5396,#905495,#975592,#915495,#885298,#875298,#865199,#7e4f9b,#7b4e9c,#774b9d,#774b9d,#71489f,#6b45a0,#6843a1,#6944a1,#6140a3,#583ba5,#573ba5,#5038a6,#4d36a7,#4734a8,#4834a8,#4a35a8,#4b35a7,#4634a7,#4934a8,#5138a6,#5238a6,#5439a5,#5138a6,#4c36a7,#4c36a7,#4e37a7,#4a35a8,#4935a8,#4b35a7,#4f37a7,#4d36a7,#5038a6,#5038a6,#5138a6,#5138a6,#5239a6,#543aa5,#543aa5,#5138a6,#5239a6,#573ba5,#593ca4,#553aa5,#593ca4,#603fa3,#6642a2,#6843a1,#6c45a0,#6e469f,#6642a2,#6140a3,#6642a2,#6441a2,#6340a2,#6642a1,#6f479f,#7e4f9c,#875298,#935494,#e46c63,#fdb13b,#feba3c,#fdc73f,#fcd141,#fbd442,#fade45,#f7e64b,#f6e94d,#f8e549,#fae146,#f8e549,#f6e84c,#f88645,#b65c83,#a7598b,#a3588d,#a2588d,#a3588c,#985592,#945593,#905495,#915494,#915495,#8b5397,#8c5396,#84519a,#83519a,#82509a,#81509b,#7f509b,#7e4f9b,#7e4f9b,#7c4e9c,#7b4d9c)"></div>
<div style="top:100px;height:6.6px;background:linear-gradient(90deg,#6843a1,#6642a2,#6743a1,#6a44a0,#6d46a0,#6642a2,#6944a1,#6e479f,#6642a1,#5f3fa3,#553aa5,#5339a6,#583ba5,#5a3ca4,#5d3ea3,#583ba5,#5038a6,#4b35a7,#4734a8,#4734a8,#4734a8,#4f37a6,#543aa5,#4a35a8,#4634a7,#4c36a7,#5138a6,#4e37a7,#563aa5,#543aa5,#4434a7,#4834a8,#5038a6,#4d36a7,#4e37a7,#4634a7,#4534a7,#4b36a7,#4834a8,#4b35a7,#4935a8,#4d36a7,#4734a8,#4a35a7,#4b35a7,#4f37a7,#5239a6,#5c3da4,#573ba5,#553aa5,#553aa5,#5b3da4,#603fa3,#6340a2,#6240a2,#6642a2,#6843a1,#6140a3,#5a3ca4,#5e3ea3,#6742a1,#6742a1,#6e469f,#744a9e,#8f5495,#e46c63,#e16b65,#ed715b,#f88246,#fc9d3b,#feb83c,#f98943,#f88545,#f88247,#f67f4a,#f47b4e,#f17852,#ee7358,#ea6f5e,#e36c63,#e26b65,#e06a66,#dc686a,#da676b,#d8666d,#d5656f,#c66079,#af5a86,#b65c83,#ac5a88,#a5588b,#a8598a,#ae5a87,#9f578f,#9a5691,#9b5690,#995692,#965592,#925494,#8c5396,#905495,#975592,#915495,#885298,#875298,#865199,#7e4f9b,#7b4e9c,#774b9d,#774b9d,#71489f,#6b45a0,#6843a1,#6944a1,#6140a3,#583ba5,#573ba5,#5138a6,#4e37a7,#4934a8,#4a35a8,#4b36a7,#4c36a7,#4634a7,#4934a8,#5138a6,#5238a6,#5439a5,#5138a6,#4c36a7,#4c36a7,#4e37a7,#4a35a8,#4935a8,#4b35a7,#4f37a7,#4d36a7,#5038a6,#5038a6,#5138a6,#5138a6,#5138a6,#543aa5,#5439a5,#5038a6,#5138a6,#563aa5,#583ba5,#5339a6,#583ba5,#5e3ea3,#6441a2,#6542a2,#6944a1,#6b45a0,#6240a2,#5d3ea3,#6240a3,#5f3fa3,#5b3da4,#5c3da4,#603fa3,#6944a1,#6d46a0,#6d46a0,#7a4d9d,#9e578f,#a7598a,#bb5d80,#d26372,#d9666c,#f47d4d,#febd3c,#fccb40,#fca63a,#f88545,#fc9d3b,#feba3c,#f78048,#b55b84,#a6588b,#a2588d,#a2588d,#a3588c,#975592,#935494,#8f5395,#915494,#915495,#8b5397,#8c5396,#83519a,#82509a,#81509b,#7f509b,#7e4f9b,#7d4e9c,#7e4f9b,#7c4e9c,#7a4d9c)"></div>
<div style="top:106px;height:6.6px;background:linear-gradient(90deg,#6843a1,#6642a2,#6743a1,#6a44a0,#6d46a0,#6642a2,#6944a1,#6e479f,#6642a1,#5f3fa3,#553aa5,#5339a6,#583ba5,#5a3ca4,#5d3ea3,#583ba5,#5038a6,#4b35a7,#4734a8,#4734a8,#4734a8,#4f37a6,#543aa5,#4a35a8,#4634a7,#4d36a7,#5239a6,#5038a6,#573ba5,#553aa5,#4434a7,#4834a8,#5038a6,#4d36a7,#4e37a7,#4634a7,#4534a7,#4b35a7,#4734a8,#4a35a8,#4834a8,#4c36a7,#4634a7,#4934a8,#4934a8,#4d36a7,#5038a6,#5a3ca4,#553aa5,#5339a6,#5239a6,#573ba5,#5b3da4,#5d3ea3,#5c3da4,#603fa3,#6441a2,#5d3ea3,#563aa5,#593ca4,#613fa3,#603fa3,#6541a2,#6542a2,#6b45a0,#6c45a0,#6e479f,#7a4d9d,#81509b,#8b5397,#a1578d,#f47b4e,#f37a4f,#f27951,#f07754,#ec705c,#e96f5e,#e46c63,#e06a66,#db676b,#da676b,#d8666c,#d46470,#d26371,#d06373,#cd6275,#be5e7e,#a7598b,#b45b84,#ac5a88,#a5588b,#a8598a,#ae5a87,#9f578f,#9a5691,#9b5690,#995692,#965592,#925494,#8c5396,#905495,#975592,#915495,#885298,#875298,#865199,#7e4f9b,#7b4e9c,#774b9d,#774b9d,#71489f,#6b45a0,#6843a1,#6944a1,#6140a3,#583ba5,#583ba5,#5138a6,#4f37a7,#4a35a8,#4b35a7,#4c36a7,#4c36a7,#4734a8,#4935a8,#5138a6,#5238a6,#5439a5,#5138a6,#4c36a7,#4c36a7,#4e37a7,#4a35a8,#4935a8,#4b35a7,#4f37a7,#4d36a7,#5038a6,#5038a6,#5038a6,#5138a6,#5138a6,#5439a6,#5339a6,#4f37a6,#5038a6,#553aa5,#573ba5,#5339a6,#573ba5,#5d3ea3,#6340a2,#6341a2,#6743a1,#6943a1,#603fa3,#5b3da4,#5f3fa3,#5c3da4,#573ba5,#573ba5,#5a3da4,#6340a2,#6642a1,#6642a2,#6b45a0,#774b9d,#784c9d,#784c9d,#7b4d9c,#794c9d,#865199,#ae5a87,#c66079,#9a5691,#8b5397,#8d5396,#a8598a,#f47c4e,#b35b84,#a4588c,#a0578e,#a2588d,#a3588c,#955593,#925494,#8f5395,#915494,#915495,#8b5397,#8c5396,#82509a,#80509b,#7f509b,#7e4f9b,#7d4e9c,#7c4e9c,#7e4f9b,#7c4e9c,#7a4d9c)"></div>
<div style="top:112px;height:6.6px;background:linear-gradient(90deg,#6843a1,#6642a2,#6743a1,#6a44a0,#6d46a0,#6642a2,#6944a1,#6e479f,#6642a1,#5f3fa3,#553aa5,#5339a6,#583ba5,#5a3ca4,#5d3ea3,#583ba5,#5038a6,#4b35a7,#4734a8,#4734a8,#4734a8,#4f37a6,#543aa5,#4a35a8,#4634a7,#4d36a7,#5339a6,#5138a6,#583ba5,#553aa5,#4434a7,#4834a8,#5038a6,#4d36a7,#4e37a7,#4634a7,#4534a7,#4a35a7,#4734a8,#4934a8,#4734a8,#4b35a7,#4534a7,#4834a8,#4834a8,#4b36a7,#4f37a6,#583ca4,#5339a6,#5138a6,#5138a6,#553aa5,#583ca5,#5a3ca4,#593ca4,#5d3ea3,#6140a3,#5a3da4,#5339a6,#553aa5,#5d3ea4,#5c3da4,#603fa3,#5f3fa3,#6341a2,#5c3da4,#5f3fa3,#6944a1,#6b45a0,#6f479f,#71489f,#ab5988,#b65c83,#bb5d80,#b95c81,#a2588d,#a8598a,#ab5988,#ba5d81,#be5e7e,#c66079,#c96177,#be5e7e,#c25f7b,#c35f7b,#c15f7c,#b55b84,#9e578f,#b35b85,#ac5a88,#a5588b,#a8598a,#ae5a87,#9f578f,#9a5691,#9b5690,#995692,#965592,#925494,#8c5396,#905495,#975592,#915495,#885298,#875298,#865199,#7e4f9b,#7b4e9c,#774b9d,#774b9d,#71489f,#6b45a0,#6843a1,#6944a1,#6240a3,#583ba5,#583ba5,#5238a6,#5038a6,#4b35a7,#4c36a7,#4d36a7,#4d36a7,#4734a8,#4935a8,#5138a6,#5238a6,#5439a5,#5138a6,#4c36a7,#4c36a7,#4e37a7,#4a35a8,#4935a8,#4b35a7,#4f37a7,#4d36a7,#4f37a6,#5038a6,#5038a6,#5038a6,#5138a6,#5339a6,#5339a6,#4f37a6,#5038a6,#553aa5,#573ba5,#5239a6,#573ba5,#5c3da4,#6240a2,#6240a2,#6642a2,#6743a1,#5f3fa3,#593ca4,#5d3ea3,#5a3ca4,#5439a5,#5439a5,#573ba5,#5f3fa3,#6240a2,#6140a3,#6542a2,#6f479f,#70479f,#6e46a0,#6f479f,#6c45a0,#74499e,#7e4f9c,#81509b,#7d4f9c,#784c9d,#71489f,#7d4e9c,#f07654,#b25b85,#a3588d,#9f578e,#a2588d,#a3588c,#955593,#905495,#8f5395,#915494,#915495,#8b5397,#8c5396,#80509b,#7f509b,#7e4f9b,#7d4e9c,#7c4e9c,#7b4d9c,#7e4f9b,#7c4e9c,#7a4d9c)"></div>
<div style="top:118px;height:6.6px;background:linear-gradient(90deg,#6843a1,#6642a2,#6743a1,#6a44a0,#6d46a0,#6642a2,#6944a1,#6e479f,#6642a1,#5f3fa3,#553aa5,#5339a6,#583ba5,#5a3ca4,#5d3ea3,#583ba5,#5038a6,#4b35a7,#4734a8,#4734a8,#4734a8,#4f37a6,#543aa5,#4a35a8,#4634a7,#4e37a7,#5339a6,#5238a6,#583ca4,#553aa5,#4534a7,#4834a8,#5038a6,#4d36a7,#4e37a7,#4634a7,#4534a7,#4a35a8,#4634a7,#4834a8,#4634a7,#4a35a7,#4434a6,#4734a8,#4734a8,#4a35a7,#4e37a7,#573ba5,#5239a6,#5038a6,#5038a6,#543aa5,#563ba5,#573ba5,#563ba5,#5b3da4,#603fa3,#593ca4,#5138a6,#5339a6,#5b3da4,#5a3ca4,#5d3ea4,#5c3da4,#5f3fa3,#563aa5,#593ca4,#6441a2,#6542a2,#6843a1,#6944a1,#74499e,#7a4d9d,#7d4f9c,#794c9d,#774b9d,#80509b,#7f4f9b,#845199,#8a5297,#905495,#965593,#915495,#995691,#a1578e,#a9598a,#a8598a,#9c5690,#b15b85,#ac5a88,#a5588b,#a8598a,#ae5a87,#9f578f,#9a5691,#9b5690,#995692,#965592,#925494,#8c5396,#905495,#975592,#915495,#885298,#875298,#865199,#7e4f9b,#7b4e9c,#774b9d,#774b9d,#71489f,#6b45a0,#6843a1,#6944a1,#6240a3,#583ca5,#583ca5,#5239a6,#5038a6,#4b36a7,#4c36a7,#4e37a7,#4d36a7,#4734a8,#4935a8,#5138a6,#5238a6,#5439a5,#5138a6,#4c36a7,#4c36a7,#4e37a7,#4a35a8,#4935a8,#4b35a7,#4f37a7,#4d36a7,#4f37a6,#4f37a6,#5038a6,#5038a6,#5138a6,#5339a6,#5339a6,#4f37a7,#5038a6,#543aa5,#563ba5,#5238a6,#563ba5,#5c3da4,#6140a3,#6240a3,#6541a2,#6642a1,#5e3ea3,#583ba5,#5c3da4,#583ba5,#5239a6,#5239a6,#553aa5,#5d3ea4,#5f3fa3,#5e3ea3,#6240a2,#6b45a0,#6b45a0,#6944a1,#6a44a0,#6642a1,#6d46a0,#754a9e,#774b9d,#764b9d,#72489f,#6a44a1,#754a9e,#e86e5f,#b05a86,#a1578d,#9e578f,#a2588d,#a3588c,#955593,#8f5395,#8f5395,#915494,#915495,#8b5397,#8c5396,#7f4f9b,#7e4f9c,#7d4e9c,#7c4e9c,#7b4d9c,#7a4d9d,#7e4f9b,#7c4e9c,#7a4d9c)"></div>
<div style="top:124px;height:6.6px;background:linear-gradient(90deg,#6843a1,#6642a2,#6743a1,#6a44a0,#6d46a0,#6642a2,#6944a1,#6e479f,#6642a1,#5f3fa3,#553aa5,#5339a6,#583ba5,#5a3ca4,#5d3ea3,#583ba5,#5038a6,#4b35a7,#4734a8,#4734a8,#4734a8,#4f37a6,#543aa5,#4a35a8,#4634a7,#4e37a7,#5439a5,#5239a6,#593ca4,#563aa5,#4534a7,#4834a8,#5038a6,#4d36a7,#4e37a7,#4634a7,#4534a7,#4a35a8,#4634a7,#4834a8,#4634a7,#4a35a8,#4334a6,#4634a7,#4634a7,#4a35a8,#4e37a7,#573ba5,#5238a6,#4f37a6,#4f37a7,#5339a6,#553aa5,#563aa5,#553aa5,#5a3ca4,#5f3ea3,#583ba5,#5038a6,#5239a6,#593ca4,#583ca5,#5b3da4,#593ca4,#5c3da4,#5239a6,#563aa5,#603fa3,#6140a3,#6441a2,#6441a2,#6a44a1,#6f479f,#72489f,#6d46a0,#6e479f,#774b9d,#754a9e,#784c9d,#7d4e9c,#7e4f9c,#80509b,#82509a,#885298,#8d5396,#975592,#985692,#995691,#af5a86,#ac5a88,#a5588b,#a8598a,#ae5a87,#9f578f,#9a5691,#9b5690,#995692,#965592,#925494,#8c5396,#905495,#975592,#915495,#885298,#875298,#865199,#7e4f9b,#7b4e9c,#774b9d,#774b9d,#71489f,#6b45a0,#6843a1,#6a44a1,#6240a3,#583ca5,#583ca4,#5239a6,#5038a6,#4c36a7,#4d36a7,#4e37a7,#4d36a7,#4734a8,#4935a8,#5138a6,#5238a6,#5439a5,#5138a6,#4c36a7,#4c36a7,#4e37a7,#4a35a8,#4935a8,#4b35a7,#4f37a7,#4d36a7,#4f37a6,#4f37a6,#5038a6,#5038a6,#5038a6,#5339a6,#5339a6,#4f37a7,#5038a6,#543aa5,#563ba5,#5138a6,#563aa5,#5c3da4,#6140a3,#6140a3,#6441a2,#6642a2,#5d3ea3,#573ba5,#5b3da4,#573ba5,#5138a6,#5038a6,#5339a6,#5b3da4,#5e3ea3,#5d3ea4,#5f3fa3,#6843a1,#6843a1,#6642a2,#6742a1,#6340a2,#6a44a1,#70489f,#72499e,#72499e,#6e46a0,#6642a2,#70479f,#b35b84,#ae5a87,#a0578e,#9c5690,#a2588d,#a3588c,#955593,#8e5396,#8f5395,#915494,#915495,#8b5397,#8c5396,#7e4f9c,#7c4e9c,#7b4d9c,#7a4d9c,#7b4d9c,#7a4d9d,#7e4f9b,#7c4e9c,#7a4d9c)"></div>
<div style="top:130px;height:6.6px;background:linear-gradient(90deg,#6843a1,#6642a2,#6743a1,#6a44a0,#6d46a0,#6642a2,#6944a1,#6e479f,#6642a1,#5f3fa3,#553aa5,#5339a6,#583ba5,#5a3ca4,#5d3ea3,#583ba5,#5038a6,#4b35a7,#4734a8,#4734a8,#4734a8,#4f37a6,#543aa5,#4a35a8,#4634a7,#4e37a7,#543aa5,#5239a6,#593ca4,#563aa5,#4534a7,#4834a8,#5038a6,#4d36a7,#4e37a7,#4634a7,#4534a7,#4a35a8,#4634a7,#4834a8,#4634a7,#4a35a8,#4334a6,#4634a7,#4634a7,#4935a8,#4d36a7,#563ba5,#5138a6,#4f37a7,#4e37a7,#5239a6,#543aa5,#553aa5,#5439a6,#593ca4,#5e3ea3,#573ba5,#4f37a6,#5138a6,#583ba5,#573ba5,#593ca4,#583ba5,#5a3da4,#5038a6,#5339a6,#5e3ea3,#5f3fa3,#6140a3,#6140a3,#6541a2,#6a44a1,#6c46a0,#6743a1,#6944a1,#72499e,#70479f,#72499e,#764b9d,#774b9d,#784c9d,#7c4e9c,#81509b,#865199,#905495,#905495,#925494,#ad5a87,#ac5a88,#a5588b,#a8598a,#ae5a87,#9f578f,#9a5691,#9b5690,#995692,#965592,#925494,#8c5396,#905495,#975592,#915495,#885298,#875298,#865199,#7e4f9b,#7b4e9c,#774b9d,#774b9d,#71489f,#6b45a0,#6843a1,#6a44a1,#6240a3,#583ca5,#583ca4,#5239a6,#5138a6,#4c36a7,#4d36a7,#4e37a7,#4e37a7,#4734a8,#4935a8,#5138a6,#5238a6,#5439a5,#5138a6,#4c36a7,#4c36a7,#4e37a7,#4a35a8,#4935a8,#4b35a7,#4f37a7,#4d36a7,#4f37a6,#4f37a6,#5038a6,#5038a6,#5038a6,#5339a6,#5339a6,#4f37a7,#5038a6,#543aa5,#563ba5,#5138a6,#563aa5,#5c3da4,#6140a3,#6140a3,#6441a2,#6542a2,#5d3ea4,#573ba5,#5b3da4,#573ba5,#5038a6,#5038a6,#5239a6,#5a3ca4,#5d3ea4,#5b3da4,#5e3ea3,#6642a1,#6642a1,#6441a2,#6541a2,#613fa3,#6743a1,#6d46a0,#6f479f,#6f479f,#6b45a0,#6341a2,#6d46a0,#925494,#ac5a88,#9e578f,#9c5690,#a2588d,#a3588c,#955593,#8c5396,#8f5395,#915494,#915495,#8b5397,#8c5396,#7e4f9c,#7b4d9c,#7a4d9c,#784c9d,#7b4d9c,#7a4d9d,#7e4f9b,#7c4e9c,#7a4d9c)"></div>
<div style="top:136px;height:6.6px;background:linear-gradient(90deg,#6843a1,#6642a2,#6743a1,#6a44a0,#6d46a0,#6642a2,#6944a1,#6e479f,#6642a1,#5f3fa3,#553aa5,#5339a6,#583ba5,#5a3ca4,#5d3ea3,#583ba5,#5038a6,#4b35a7,#4734a8,#4734a8,#4734a8,#4f37a6,#543aa5,#4a35a8,#4634a7,#4e37a7,#543aa5,#5339a6,#593ca4,#563aa5,#4534a7,#4834a8,#5038a6,#4d36a7,#4e37a7,#4634a7,#4434a7,#4a35a8,#4634a7,#4834a8,#4634a7,#4a35a8,#4334a6,#4634a7,#4534a7,#4935a8,#4d36a7,#563ba5,#5138a6,#4f37a7,#4e37a7,#5239a6,#5439a6,#543aa5,#5339a6,#583ca5,#5d3ea3,#573ba5,#4f37a7,#5038a6,#573ba5,#563ba5,#593ca4,#573ba5,#593ca4,#4e37a7,#5239a6,#5c3da4,#5d3ea3,#603fa3,#5f3fa3,#6140a3,#6642a1,#6944a1,#6441a2,#6642a1,#6f479f,#6c45a0,#6f479f,#73499e,#73499e,#74499e,#784b9d,#7d4e9c,#82509a,#8b5397,#8b5397,#8c5396,#ab5988,#ac5a88,#a5588b,#a8598a,#ae5a87,#9f578f,#9a5691,#9b5690,#995692,#965592,#925494,#8c5396,#905495,#975592,#915495,#885298,#875298,#865199,#7e4f9b,#7b4e9c,#774b9d,#774b9d,#71489f,#6b45a0,#6843a1,#6a44a1,#6240a3,#583ca5,#593ca4,#5239a6,#5138a6,#4c36a7,#4d36a7,#4e37a7,#4e37a7,#4834a8,#4a35a8,#5138a6,#5238a6,#5439a5,#5138a6,#4c36a7,#4c36a7,#4e37a7,#4a35a8,#4935a8,#4b35a7,#4f37a7,#4d36a7,#4f37a6,#4f37a6,#5038a6,#5038a6,#5038a6,#5339a6,#5239a6,#4e37a7,#5038a6,#543aa5,#563ba5,#5138a6,#563aa5,#5c3da4,#613fa3,#613fa3,#6441a2,#6542a2,#5d3ea4,#573ba5,#5b3da4,#563ba5,#4f37a6,#4f37a7,#5138a6,#593ca4,#5c3da4,#5b3da4,#5d3ea4,#6542a2,#6542a2,#6240a2,#6341a2,#5f3fa3,#6642a2,#6b45a0,#6d46a0,#6e46a0,#6a44a1,#6140a3,#6b45a0,#8a5297,#aa5989,#9c5690,#9c5690,#a2588d,#a3588c,#955593,#8b5297,#8f5395,#915494,#915495,#8b5397,#8c5396,#7e4f9c,#7b4d9c,#7a4d9c,#774b9d,#7b4d9c,#7a4d9d,#7e4f9b,#7c4e9c,#7a4d9c)"></div>
<div style="top:142px;height:6.6px;background:linear-gradient(90deg,#6843a1,#6642a2,#6743a1,#6a44a0,#6d46a0,#6642a2,#6944a1,#6e479f,#6642a1,#5f3fa3,#553aa5,#5339a6,#583ba5,#5a3ca4,#5d3ea3,#583ba5,#5038a6,#4b35a7,#4734a8,#4734a8,#4734a8,#4f37a6,#543aa5,#4a35a8,#4634a7,#4e37a7,#543aa5,#5339a6,#593ca4,#563aa5,#4534a7,#4834a8,#5038a6,#4d36a7,#4e37a7,#4634a7,#4434a7,#4a35a8,#4634a7,#4834a8,#4534a7,#4a35a8,#4334a6,#4634a7,#4534a7,#4934a8,#4d36a7,#563aa5,#5138a6,#4e37a7,#4e37a7,#5239a6,#5339a6,#543aa5,#5339a6,#583ba5,#5d3ea3,#563ba5,#4e37a7,#5038a6,#573ba5,#563aa5,#583ba5,#563ba5,#583ca4,#4d37a7,#5138a6,#5b3da4,#5c3da4,#5e3ea3,#5e3ea3,#5f3fa3,#6441a2,#6742a1,#6240a3,#6441a2,#6d46a0,#6a44a0,#6c45a0,#70479f,#70479f,#71489f,#754a9e,#7a4d9d,#7f4f9b,#895298,#885298,#895298,#a95989,#ac5a88,#a5588b,#a8598a,#ae5a87,#9f578f,#9a5691,#9b5690,#995692,#965592,#925494,#8c5396,#905495,#975592,#915495,#885298,#875298,#865199,#7e4f9b,#7b4e9c,#774b9d,#774b9d,#71489f,#6b45a0,#6843a1,#6a44a1,#6240a3,#583ca5,#593ca4,#5339a6,#5138a6,#4c36a7,#4d36a7,#4e37a7,#4e37a7,#4834a8,#4a35a8,#5138a6,#5238a6,#5439a5,#5138a6,#4c36a7,#4c36a7,#4e37a7,#4a35a8,#4935a8,#4b35a7,#4f37a7,#4d36a7,#4f37a6,#4f37a6,#5038a6,#5038a6,#5038a6,#5339a6,#5239a6,#4e37a7,#5037a6,#543aa5,#563aa5,#5138a6,#563aa5,#5b3da4,#613fa3,#613fa3,#6441a2,#6542a2,#5c3ea4,#573ba5,#5a3da4,#563aa5,#4f37a6,#4f37a7,#5138a6,#593ca4,#5b3da4,#5a3ca4,#5c3da4,#6441a2,#6441a2,#6140a3,#6240a2,#5e3ea3,#6541a2,#6a44a0,#6c45a0,#6d46a0,#6944a1,#603fa3,#6a44a0,#865199,#a8598a,#9a5691,#9c5690,#a2588d,#a3588c,#955593,#895297,#8f5395,#915494,#915495,#8b5397,#8c5396,#7e4f9c,#7b4d9c,#7a4d9c,#774b9d,#7b4d9c,#7a4d9d,#7e4f9b,#7c4e9c,#7a4d9c)"></div>
<div style="top:148px;height:6.6px;background:linear-gradient(90deg,#6843a1,#6642a2,#6743a1,#6a44a0,#6d46a0,#6642a2,#6944a1,#6e479f,#6642a1,#5f3fa3,#553aa5,#5339a6,#583ba5,#5a3ca4,#5d3ea3,#583ba5,#5038a6,#4b35a7,#4734a8,#4734a8,#4734a8,#4f37a6,#543aa5,#4a35a8,#4634a7,#4e37a7,#543aa5,#5339a6,#593ca4,#563aa5,#4534a7,#4834a8,#5038a6,#4d36a7,#4e37a7,#4634a7,#4434a7,#4a35a8,#4634a7,#4734a8,#4534a7,#4935a8,#4334a6,#4534a7,#4534a7,#4934a8,#4d36a7,#563aa5,#5038a6,#4e37a7,#4e37a7,#5238a6,#5339a6,#5439a6,#5239a6,#583ba5,#5d3ea4,#563ba5,#4e37a7,#5038a6,#573ba5,#563aa5,#583ba5,#563aa5,#583ba5,#4d36a7,#5038a6,#5a3da4,#5b3da4,#5e3ea3,#5d3ea3,#5e3ea3,#6340a2,#6542a2,#603fa3,#6340a2,#6c45a0,#6944a1,#6b45a0,#6e479f,#6e469f,#6f479f,#73499e,#784c9d,#7d4e9c,#875298,#865199,#875298,#a7598b,#ac5a88,#a5588b,#a8598a,#ae5a87,#9f578f,#9a5691,#9b5690,#995692,#965592,#925494,#8c5396,#905495,#975592,#915495,#885298,#875298,#865199,#7e4f9b,#7b4e9c,#774b9d,#774b9d,#71489f,#6b45a0,#6843a1,#6a44a1,#6240a3,#583ca5,#593ca4,#5339a6,#5138a6,#4c36a7,#4d37a7,#4e37a7,#4e37a7,#4834a8,#4a35a8,#5138a6,#5238a6,#5439a5,#5138a6,#4c36a7,#4c36a7,#4e37a7,#4a35a8,#4935a8,#4b35a7,#4f37a7,#4d36a7,#4f37a6,#4f37a6,#5038a6,#5038a6,#5038a6,#5339a6,#5239a6,#4e37a7,#4f37a6,#543aa5,#563aa5,#5138a6,#563aa5,#5b3da4,#613fa3,#603fa3,#6441a2,#6541a2,#5c3da4,#563ba5,#5a3ca4,#563aa5,#4f37a7,#4e37a7,#5138a6,#583ca4,#5b3da4,#5a3ca4,#5c3da4,#6441a2,#6441a2,#6140a3,#6240a3,#5e3ea3,#6441a2,#6944a1,#6b45a0,#6c45a0,#6843a1,#603fa3,#6944a1,#83519a,#a6588b,#985692,#9c5690,#a2588d,#a3588c,#955593,#895297,#8f5395,#915494,#915495,#8b5397,#8c5396,#7e4f9c,#7b4d9c,#7a4d9c,#774b9d,#7b4d9c,#7a4d9d,#7e4f9b,#7c4e9c,#7a4d9c)"></div>
<div style="top:154px;height:6.6px;background:linear-gradient(90deg,#6843a1,#6642a2,#6743a1,#6a44a0,#6d46a0,#6642a2,#6944a1,#6e479f,#6642a1,#5f3fa3,#553aa5,#5339a6,#583ba5,#5a3ca4,#5d3ea3,#583ba5,#5038a6,#4b35a7,#4734a8,#4734a8,#4734a8,#4f37a6,#543aa5,#4a35a8,#4634a7,#4e37a7,#543aa5,#5339a6,#593ca4,#563aa5,#4534a7,#4834a8,#5038a6,#4d36a7,#4e37a7,#4634a7,#4434a7,#4a35a8,#4634a7,#4734a8,#4534a7,#4935a8,#4334a6,#4534a7,#4534a7,#4934a8,#4d36a7,#563aa5,#5038a6,#4e37a7,#4e37a7,#5238a6,#5339a6,#5339a6,#5239a6,#573ba5,#5d3ea4,#563aa5,#4e37a7,#4f37a6,#563ba5,#553aa5,#573ba5,#553aa5,#583ba5,#4c36a7,#5038a6,#5a3ca4,#5b3da4,#5d3ea3,#5d3ea4,#5d3ea4,#6240a2,#6441a2,#5f3fa3,#6240a2,#6b45a0,#6843a1,#6a44a1,#6d46a0,#6d46a0,#6e46a0,#72489f,#774b9d,#7c4e9c,#855199,#855199,#855199,#a5588c,#ac5a88,#a5588b,#a8598a,#ae5a87,#9f578f,#9a5691,#9b5690,#995692,#965592,#925494,#8c5396,#905495,#975592,#915495,#885298,#875298,#865199,#7e4f9b,#7b4e9c,#774b9d,#774b9d,#71489f,#6b45a0,#6843a1,#6a44a1,#6240a3,#583ca5,#593ca4,#5339a6,#5138a6,#4d36a7,#4d37a7,#4e37a7,#4e37a7,#4834a8,#4a35a8,#5138a6,#5238a6,#5439a5,#5138a6,#4c36a7,#4c36a7,#4e37a7,#4a35a8,#4935a8,#4b35a7,#4f37a7,#4d36a7,#4f37a6,#4f37a6,#5038a6,#5038a6,#5038a6,#5339a6,#5239a6,#4e37a7,#4f37a6,#543aa5,#563aa5,#5138a6,#563aa5,#5b3da4,#603fa3,#603fa3,#6341a2,#6541a2,#5c3da4,#563ba5,#5a3ca4,#563aa5,#4f37a7,#4e37a7,#5138a6,#583ca5,#5b3da4,#5a3ca4,#5c3da4,#6441a2,#6341a2,#603fa3,#6140a3,#5d3ea3,#6441a2,#6944a1,#6a44a0,#6b45a0,#6843a1,#5f3fa3,#6944a1,#81509b,#a3588c,#975592,#9c5690,#a2588d,#a3588c,#955593,#895297,#8f5395,#915494,#915495,#8b5397,#8c5396,#7e4f9c,#7b4d9c,#7a4d9c,#774b9d,#7b4d9c,#7a4d9d,#7e4f9b,#7c4e9c,#7a4d9c)"></div>
<div style="top:160px;height:6.6px;background:linear-gradient(90deg,#6843a1,#6642a2,#6743a1,#6a44a0,#6d46a0,#6642a2,#6944a1,#6e479f,#6642a1,#5f3fa3,#553aa5,#5339a6,#583ba5,#5a3ca4,#5d3ea3,#583ba5,#5038a6,#4b35a7,#4734a8,#4734a8,#4734a8,#4f37a6,#543aa5,#4a35a8,#4634a7,#4e37a7,#543aa5,#5339a6,#593ca4,#563aa5,#4534a7,#4834a8,#5038a6,#4d36a7,#4e37a7,#4634a7,#4434a7,#4a35a8,#4634a7,#4734a8,#4534a7,#4935a8,#4334a6,#4534a7,#4534a7,#4934a8,#4d36a7,#563aa5,#5038a6,#4e37a7,#4e37a7,#5238a6,#5339a6,#5339a6,#5239a6,#573ba5,#5d3ea4,#563aa5,#4e37a7,#4f37a6,#563ba5,#553aa5,#573ba5,#553aa5,#573ba5,#4c36a7,#4f37a6,#5a3ca4,#5b3da4,#5d3ea4,#5d3ea4,#5c3da4,#6140a3,#6441a2,#5e3ea3,#6140a3,#6a44a0,#6743a1,#6944a1,#6d46a0,#6c45a0,#6d46a0,#71489f,#764b9e,#7b4d9c,#855199,#84519a,#845199,#a2588d,#ac5a88,#a5588b,#a8598a,#ae5a87,#9f578f,#9a5691,#9b5690,#995692,#965592,#925494,#8c5396,#905495,#975592,#915495,#885298,#875298,#865199,#7e4f9b,#7b4e9c,#774b9d,#774b9d,#71489f,#6b45a0,#6843a1,#6a44a1,#6240a3,#583ca5,#593ca4,#5339a6,#5138a6,#4d36a7,#4d37a7,#4f37a7,#4e37a7,#4834a8,#4a35a8,#5138a6,#5238a6,#5439a5,#5138a6,#4c36a7,#4c36a7,#4e37a7,#4a35a8,#4935a8,#4b35a7,#4f37a7,#4d36a7,#4f37a6,#4f37a6,#5038a6,#5038a6,#5038a6,#5339a6,#5239a6,#4e37a7,#4f37a6,#543aa5,#563aa5,#5138a6,#563aa5,#5b3da4,#603fa3,#603fa3,#6341a2,#6541a2,#5c3da4,#563ba5,#5a3ca4,#563aa5,#4f37a7,#4e37a7,#5038a6,#583ba5,#5b3da4,#593ca4,#5b3da4,#6341a2,#6341a2,#603fa3,#6140a3,#5d3ea4,#6341a2,#6943a1,#6a44a1,#6b45a0,#6743a1,#5f3fa3,#6843a1,#80509b,#a1578e,#975592,#9c5690,#a2588d,#a3588c,#955593,#895297,#8f5395,#915494,#915495,#8b5397,#8c5396,#7e4f9c,#7b4d9c,#7a4d9c,#774b9d,#7b4d9c,#7a4d9d,#7e4f9b,#7c4e9c,#7a4d9c)"></div>
<div style="top:166px;height:6.6px;background:linear-gradient(90deg,#6843a1,#6642a2,#6743a1,#6a44a0,#6d46a0,#6642a2,#6944a1,#6e479f,#6642a1,#5f3fa3,#553aa5,#5339a6,#583ba5,#5a3ca4,#5d3ea3,#583ba5,#5038a6,#4b35a7,#4734a8,#4734a8,#4734a8,#4f37a6,#543aa5,#4a35a8,#4634a7,#4e37a7,#543aa5,#5339a6,#593ca4,#563aa5,#4534a7,#4834a8,#5038a6,#4d36a7,#4e37a7,#4634a7,#4434a7,#4a35a8,#4634a7,#4734a8,#4534a7,#4935a8,#4334a6,#4534a7,#4534a7,#4934a8,#4d36a7,#563aa5,#5038a6,#4e37a7,#4d37a7,#5138a6,#5339a6,#5339a6,#5239a6,#573ba5,#5d3ea4,#563aa5,#4e37a7,#4f37a6,#563ba5,#553aa5,#573ba5,#553aa5,#573ba5,#4c36a7,#4f37a6,#593ca4,#5a3da4,#5d3ea4,#5c3da4,#5c3da4,#613fa3,#6341a2,#5e3ea3,#6140a3,#6a44a1,#6742a1,#6943a1,#6c45a0,#6c45a0,#6c45a0,#71489f,#754a9e,#7a4d9c,#845199,#83519a,#84519a,#a0578e,#ac5a88,#a5588b,#a8598a,#ae5a87,#9f578f,#9a5691,#9b5690,#995692,#965592,#925494,#8c5396,#905495,#975592,#915495,#885298,#875298,#865199,#7e4f9b,#7b4e9c,#774b9d,#774b9d,#71489f,#6b45a0,#6843a1,#6a44a1,#6240a3,#583ca5,#593ca4,#5339a6,#5138a6,#4d36a7,#4d37a7,#4f37a7,#4e37a7,#4834a8,#4a35a8,#5138a6,#5238a6,#5439a5,#5138a6,#4c36a7,#4c36a7,#4e37a7,#4a35a8,#4935a8,#4b35a7,#4f37a7,#4d36a7,#4f37a6,#4f37a6,#5038a6,#5038a6,#5038a6,#5339a6,#5239a6,#4e37a7,#4f37a6,#543aa5,#563aa5,#5138a6,#563aa5,#5b3da4,#603fa3,#603fa3,#6341a2,#6541a2,#5c3da4,#563ba5,#5a3ca4,#563aa5,#4f37a7,#4e37a7,#5038a6,#583ba5,#5b3da4,#593ca4,#5b3da4,#6341a2,#6341a2,#603fa3,#6140a3,#5d3ea4,#6341a2,#6843a1,#6a44a1,#6b45a0,#6743a1,#5f3ea3,#6843a1,#7f4f9b,#9e578f,#975592,#9c5690,#a2588d,#a3588c,#955593,#895297,#8f5395,#915494,#915495,#8b5397,#8c5396,#7e4f9c,#7b4d9c,#7a4d9c,#774b9d,#7b4d9c,#7a4d9d,#7e4f9b,#7c4e9c,#7a4d9c)"></div>
<div style="top:172px;height:6.6px;background:linear-gradient(90deg,#6843a1,#6642a2,#6743a1,#6a44a0,#6d46a0,#6642a2,#6944a1,#6e479f,#6642a1,#5f3fa3,#553aa5,#5339a6,#583ba5,#5a3ca4,#5d3ea3,#583ba5,#5038a6,#4b35a7,#4734a8,#4734a8,#4734a8,#4f37a6,#543aa5,#4a35a8,#4634a7,#4e37a7,#543aa5,#5339a6,#593ca4,#563aa5,#4534a7,#4834a8,#5038a6,#4d36a7,#4e37a7,#4634a7,#4434a7,#4a35a8,#4634a7,#4734a8,#4534a7,#4935a8,#4334a6,#4534a7,#4534a7,#4934a8,#4d36a7,#563aa5,#5038a6,#4e37a7,#4d37a7,#5138a6,#5339a6,#5339a6,#5239a6,#573ba5,#5d3ea4,#563aa5,#4e37a7,#4f37a6,#563ba5,#553aa5,#573ba5,#553aa5,#573ba5,#4c36a7,#4f37a6,#593ca4,#5a3ca4,#5d3ea4,#5c3da4,#5c3da4,#603fa3,#6341a2,#5e3ea3,#613fa3,#6a44a1,#6742a1,#6843a1,#6c45a0,#6b45a0,#6c45a0,#70489f,#754a9e,#7a4d9d,#84519a,#83519a,#83519a,#a0578e,#ac5a88,#a5588b,#a8598a,#ae5a87,#9f578f,#9a5691,#9b5690,#995692,#965592,#925494,#8c5396,#905495,#975592,#915495,#885298,#875298,#865199,#7e4f9b,#7b4e9c,#774b9d,#774b9d,#71489f,#6b45a0,#6843a1,#6a44a1,#6240a3,#583ca5,#593ca4,#5339a6,#5138a6,#4d36a7,#4d37a7,#4f37a7,#4e37a7,#4834a8,#4a35a8,#5138a6,#5238a6,#5439a5,#5138a6,#4c36a7,#4c36a7,#4e37a7,#4a35a8,#4935a8,#4b35a7,#4f37a7,#4d36a7,#4f37a6,#4f37a6,#5038a6,#5038a6,#5038a6,#5339a6,#5239a6,#4e37a7,#4f37a6,#543aa5,#563aa5,#5138a6,#563aa5,#5b3da4,#603fa3,#603fa3,#6341a2,#6541a2,#5c3da4,#563ba5,#5a3ca4,#553aa5,#4f37a7,#4e37a7,#5038a6,#583ba5,#5b3da4,#593ca4,#5b3da4,#6341a2,#6340a2,#603fa3,#613fa3,#5d3ea4,#6341a2,#6843a1,#6a44a1,#6b45a0,#6743a1,#5e3ea3,#6843a1,#7e4f9b,#9b5691,#975592,#9c5690,#a2588d,#a3588c,#955593,#895297,#8f5395,#915494,#915495,#8b5397,#8c5396,#7e4f9c,#7b4d9c,#7a4d9c,#774b9d,#7b4d9c,#7a4d9d,#7e4f9b,#7c4e9c,#7a4d9c)"></div>
<div style="top:156px;height:50.6px;background:linear-gradient(90deg,#6843a1,#6642a2,#6743a1,#6a44a0,#6d46a0,#6642a2,#6944a1,#6e479f,#6642a1,#5f3fa3,#553aa5,#5339a6,#583ba5,#5a3ca4,#5d3ea3,#583ba5,#5038a6,#4b35a7,#4734a8,#4734a8,#4734a8,#4f37a6,#543aa5,#4a35a8,#4634a7,#4e37a7,#543aa5,#5339a6,#593ca4,#563aa5,#4534a7,#4834a8,#5038a6,#4d36a7,#4e37a7,#4634a7,#4434a7,#4a35a8,#4634a7,#4734a8,#4534a7,#4935a8,#4334a6,#4534a7,#4534a7,#4934a8,#4d36a7,#563aa5,#5038a6,#4e37a7,#4d37a7,#5138a6,#5339a6,#5339a6,#5239a6,#573ba5,#5d3ea4,#563aa5,#4e37a7,#4f37a6,#563ba5,#553aa5,#573ba5,#553aa5,#573ba5,#4c36a7,#4f37a6,#593ca4,#5a3ca4,#5d3ea4,#5c3da4,#5b3da4,#603fa3,#6340a2,#5e3ea3,#603fa3,#6a44a1,#6642a1,#6843a1,#6c45a0,#6b45a0,#6c45a0,#70489f,#754a9e,#7a4d9d,#84519a,#83519a,#83519a,#a0578e,#ac5a88,#a5588b,#a8598a,#ae5a87,#9f578f,#9a5691,#9b5690,#995692,#965592,#925494,#8c5396,#905495,#975592,#915495,#885298,#875298,#865199,#7e4f9b,#7b4e9c,#774b9d,#774b9d,#71489f,#6b45a0,#6843a1,#6a44a1,#6240a3,#583ca5,#593ca4,#5339a6,#5138a6,#4d36a7,#4d37a7,#4f37a7,#4e37a7,#4834a8,#4a35a8,#5138a6,#5238a6,#5439a5,#5138a6,#4c36a7,#4c36a7,#4e37a7,#4a35a8,#4935a8,#4b35a7,#4f37a7,#4d36a7,#4f37a6,#4f37a6,#5038a6,#5038a6,#5038a6,#5339a6,#5239a6,#4e37a7,#4f37a6,#543aa5,#563aa5,#5138a6,#563aa5,#5b3da4,#603fa3,#603fa3,#6341a2,#6541a2,#5c3da4,#563ba5,#5a3ca4,#553aa5,#4e37a7,#4e37a7,#5038a6,#583ba5,#5b3da4,#593ca4,#5b3da4,#6341a2,#6340a2,#603fa3,#613fa3,#5d3ea4,#6341a2,#6843a1,#6944a1,#6b45a0,#6743a1,#5e3ea3,#6843a1,#7e4f9c,#985692,#975592,#9c5690,#a2588d,#a3588c,#955593,#895297,#8f5395,#915494,#915495,#8b5397,#8c5396,#7e4f9c,#7b4d9c,#7a4d9c,#774b9d,#7b4d9c,#7a4d9d,#7e4f9b,#7c4e9c,#7a4d9c)"></div>
</div>
<div style="top:140.5px;height:27px;background:linear-gradient(90deg,#784c9d,#764b9e,#794c9d,#774b9d,#7c4e9c,#6f479f,#6b45a0,#6c45a0,#6a44a0,#6d46a0,#6642a2,#5c3da4,#6642a1,#6743a1,#5e3ea3,#6441a2,#5c3da4,#553aa5,#4d36a7,#4d36a7,#4b35a7,#4f37a7,#6240a2,#5138a6,#4834a8,#4c36a7,#5339a6,#5339a6,#6441a2,#5e3ea3,#4c36a7,#5239a6,#5b3da4,#5439a5,#5339a6,#4c36a7,#4e37a7,#5038a6,#4b35a7,#4c36a7,#5038a6,#5339a6,#4734a8,#4b35a7,#4434a6,#4b35a7,#4f37a7,#5d3ea3,#5339a6,#5339a6,#5e3ea3,#5b3da4,#5b3da4,#583ca5,#593ca4,#5b3da4,#6441a2,#593ca4,#5339a6,#5b3da4,#573ba5,#5239a6,#543aa5,#6140a3,#603fa3,#5239a6,#5439a6,#6843a1,#6240a2,#5d3ea3,#5e3ea3,#6843a1,#71489f,#6541a2,#5e3ea3,#6140a3,#6d46a0,#6d46a0,#6f479f,#6a44a0,#6c45a0,#70479f,#70479f,#774b9d,#7d4e9c,#895298,#8a5297,#965593,#bc5d80,#d36471,#cb6176,#c15e7c,#b55b84,#a5588b,#9e578f,#a1578d,#a1578e,#985692,#965593,#925494,#925494,#965593,#945593,#8e5395,#8d5396,#885298,#865199,#82509a,#80509b,#80509b,#764b9d,#754a9e,#774b9d,#784c9d,#6e479f,#5d3ea3,#6441a2,#563ba5,#5a3da4,#5339a6,#5339a6,#563aa5,#5a3ca4,#4a35a8,#4634a7,#5339a6,#583ca4,#5a3ca4,#5138a6,#5339a6,#5138a6,#5138a6,#4d36a7,#5038a6,#5339a6,#5239a6,#5238a6,#5339a6,#5239a6,#4e37a7,#4e37a7,#593ca4,#5c3da4,#5e3ea3,#563ba5,#5a3ca4,#5c3da4,#5d3ea3,#563ba5,#5d3ea4,#6642a1,#6d46a0,#6a44a1,#6642a2,#6542a2,#6340a2,#5a3ca4,#6140a3,#5a3ca4,#5339a6,#5339a6,#5a3ca4,#6441a2,#5b3da4,#5b3da4,#5d3ea4,#6240a3,#6642a2,#6340a2,#6d46a0,#6743a1,#6742a1,#764b9d,#72489f,#764b9d,#6e46a0,#6a44a1,#6b45a0,#7e4f9b,#935494,#925494,#9c5690,#a8598a,#b15b86,#a0578e,#945593,#9a5691,#975592,#995691,#945593,#8a5297,#82509a,#81509b,#7f4f9b,#83519a,#7a4d9c,#774b9d,#7e4f9b,#845199,#875298)"></div>
<div style="top:167px;height:34.5px;background:linear-gradient(90deg,#845199,#84519a,#7c4e9c,#865199,#744a9e,#6f479f,#764b9d,#83519a,#7d4e9c,#774b9d,#6944a1,#6642a2,#6642a1,#72499e,#744a9e,#6340a2,#5c3da4,#583ba5,#5239a6,#4d36a7,#4c36a7,#603fa3,#613fa3,#5038a6,#4d37a7,#583ca4,#603fa3,#563ba5,#6240a2,#6642a1,#4d36a7,#5339a6,#5138a6,#553aa5,#5b3da4,#5038a6,#5138a6,#5339a6,#4f37a6,#593ca4,#5d3ea3,#543aa5,#5439a6,#5439a6,#553aa5,#563aa5,#593ca4,#6340a2,#573ba5,#583ca5,#4634a7,#4934a8,#6240a2,#563ba5,#553aa5,#6240a3,#6e479f,#6c45a0,#6240a2,#6441a2,#593ca4,#603fa3,#70489f,#5c3da4,#4e37a7,#4634a7,#543aa5,#6e46a0,#71489f,#6c45a0,#6b45a0,#6b45a0,#6843a1,#603fa3,#6441a2,#6944a1,#6f479f,#6d46a0,#7b4d9c,#764b9d,#7c4e9c,#7c4e9c,#754a9e,#794c9d,#81509b,#8d5396,#8d5396,#965593,#ca6177,#e26b64,#dc686a,#cf6373,#c96177,#bc5d7f,#aa5989,#a3588d,#a5588b,#a9598a,#9d5790,#995692,#955593,#9d578f,#985592,#975592,#985592,#925494,#885298,#83519a,#7f4f9b,#8a5297,#7f4f9b,#73499e,#764b9e,#784c9d,#6b45a0,#6c45a0,#6e479f,#6240a2,#5c3da4,#4d36a7,#543aa5,#543aa5,#5138a6,#5c3da4,#563aa5,#593ca4,#5b3da4,#573ba5,#4934a8,#5038a6,#5138a6,#5138a6,#563ba5,#6441a2,#553aa5,#5038a6,#5c3da4,#6140a3,#563aa5,#5038a6,#613fa3,#603fa3,#5e3ea3,#5d3ea4,#603fa3,#5e3ea3,#6441a2,#5d3ea3,#4e37a7,#563aa5,#6843a1,#764b9d,#6e46a0,#6742a1,#6441a2,#5a3ca4,#5c3da4,#6944a1,#6240a2,#5339a6,#5038a6,#5038a6,#5339a6,#593ca4,#5a3ca4,#5c3da4,#6340a2,#6b45a0,#72489f,#71489f,#5d3ea4,#593ca4,#6d46a0,#6a44a0,#70479f,#73499e,#6642a1,#6e469f,#955593,#b25b85,#a6588b,#aa5989,#b75c83,#ad5a87,#9a5691,#865199,#8e5396,#9b5691,#9d578f,#905495,#965593,#82509a,#865199,#8f5395,#905495,#83519a,#81509b,#875298,#7f4f9b,#7c4e9c)"></div>
</div>
<div class="p" style="top:3291.7px">
<div style="top:0px;height:141px;background:linear-gradient(90deg,#f4edea,#f1e5e0,#f4eeec,#f3ebe9,#f4edea,#f2e9e6,#f2e7e3,#f4edeb,#f1e7e3,#f0e4df,#efe1dc,#bd4329,#b22d22,#f1e7e3,#f1e6e2,#f0e3de,#dda892,#dda993,#e3baab,#ead1c7,#e2b7a7,#e4beb0,#deac98,#dfad99,#e3baab,#ebd6cd,#efe0da,#f3ecea,#f3ebe8,#f2eae7,#f3ece9,#f4eeec,#f3ebe8,#f1e7e3,#f3ebe8,#e9cec4,#d69075,#d58e73,#e8cabf,#dba189,#e5c3b6,#f1e7e3,#efe1db,#e6c6b9,#e3bcae,#eddbd3,#ebd5cc,#eeddd6,#f3ece9,#f2e7e3,#d58f74,#cb6a4a,#cb6b4b,#cb6a4a,#cb6b4b,#cf7a5b,#f4edeb,#f0e4df,#f1e5e1,#f1e5e1,#f0e4df,#f1e5e0,#f0e4df,#eeddd6,#ecd7ce,#ebd5cd,#ebd6cd,#efe0db,#f1e7e2,#f3ecea,#e5c2b6,#dfaf9b,#dfaf9c,#ebd6cd,#f3ecea,#e2b7a7,#e2b9a9,#f3ebe8,#f4eeec,#f3ecea,#f3ece9,#f3ece9,#f3ecea,#f3ebe8,#f3ecea,#f3ebe8,#f3ebe8,#f3ece9,#f3ecea,#f4edeb,#f4edeb,#f4edeb,#f4edea,#da9e86,#cc6c4c,#cc6d4d,#dba38c,#f4eeec,#f2e8e5,#f0e3de,#f0e4df,#f3eae7,#f3eae7,#f3ebe8,#f1e6e1,#f0e4e0,#eedfd8,#efdfd9,#efe1db,#efdfd9,#efe0da,#f4eeec,#f4edea,#f2e8e4,#f1e5e1,#f0e2dd,#f0e2dd,#f0e4df,#efe1db,#f1e6e1,#f2e9e6,#f3eae7,#efe0da,#eedfd8,#f3ebe8,#f4edeb,#f1e6e1,#ecd8d0,#f3edea,#9d1725,#f2e9e6,#ebd6cd,#e9cfc5,#efe1dc,#ecd8d0,#eddcd5,#f2e8e4,#f3ece9,#e7c9be,#e7c9bd,#f3edea,#f3eae7,#f2e9e6,#f4edeb,#f4edea,#f3ebe8,#f2e8e4,#f2e8e4,#f2e9e6,#f1e7e3,#f2e8e4,#f3ece9,#f4edeb,#f4edeb,#f4edeb,#f3ecea,#f2eae7,#f3edea,#f4eeec,#f4edeb,#f3ecea,#f3ebe9,#f3ebe8,#f3ebe9,#f2e8e5,#f2e8e5,#f2e9e5,#f2e8e5,#f2e8e4,#f2eae7,#f3ece9,#f2e9e5,#f2eae7,#f3ebe9,#f3ecea,#f3ebe8,#f2eae6,#f3eae7,#f3ebe8,#f3ecea,#f4edeb,#f3ebe9,#f3ebe9,#e7c7bc,#e7c6ba,#f3ecea,#f3ece9,#f3ecea,#f3ebe8,#f4eeec,#f4edeb,#f4edea,#f2e7e4,#f2e8e4,#f3ebe8,#f0e3de,#ebd5cc,#e0b19e,#e6c3b7,#e0b29f,#ecd8d0,#f3ecea,#f4eeec,#f3ecea,#f3ebe8,#f3ebe8,#f3ece9,#f4edeb,#f4edea,#f4edeb,#f3ece9,#f2e9e5,#f2e8e4,#f2e8e4,#f2e8e5,#f2eae7,#f2e8e5,#eedfd8,#f2e9e5,#f3ece9,#f3ece9,#f2e9e5,#f3ece9,#f4edea,#f4edeb,#f4edeb,#f4edeb,#f3ecea,#f3ebe8,#f3eae7,#f2e9e5,#f2e8e4,#f2e8e4,#f2e7e3,#f2e9e6,#f3ebe8,#f3ece9,#f3ece9,#f2eae7,#f3ece9,#f4edeb,#f3edea,#f3ece9,#f3ebe9,#f3ece9,#f4edeb,#f3ebe8,#e8cabe,#eddad3,#f1e7e3,#f2e8e5,#eddbd4,#e2b6a6,#cb6a4a,#cb6b4b,#e9cfc5,#f3eae7,#f3ecea,#f2e9e6,#efdfd9,#efdfd9,#efdfd9,#eedfd9,#f1e5e1,#f2e8e4,#f0e4df,#eedfd8,#f0e2dd,#efe0da,#f2e8e4,#f3ecea,#f2e8e4,#f4eeec,#f3ece9,#f0e2dd,#f0e3de,#f3ecea,#f4edeb,#f4edeb,#f4edeb,#f4edeb,#f4edeb,#f3ecea,#f2e9e5,#f2eae7,#f2e9e5,#f2e9e6,#f3ebe8,#f2e8e5,#f0e4e0,#f3ebe8,#f3ebe9,#f2e9e6,#f2e9e5,#f3ebe8,#f4edeb,#f4eeec,#f3ece9,#f4edea,#f3edea,#f3eae7,#f2e8e4,#f2e8e4,#f3ebe8,#f3ebe8,#f1e6e2,#f1e6e2,#f0e3de,#f0e3df,#f1e5e1,#f3eae7,#f2e8e4,#f3ebe9,#f3ecea,#f4edeb,#f4eeec,#f3ebe8,#f3ecea,#f2e9e6,#f0e4e0,#f0e4df,#f3ebe9,#f3ebe9,#f3ebe9,#f2e7e3,#f1e6e2,#f2e9e6,#f3ecea,#efe1db,#deab97,#d69076,#d69277,#d69278,#d69177,#d69277,#e1b3a1,#efe1dc,#f3eae7,#f3ece9,#f4eeeb,#e7c7bc,#dead98,#e3bcae,#cb6a4a,#cb6a4a,#e8cabf,#ead1c7,#dca68f,#e9cfc4,#f3ece9,#eeded7,#f1e5e1,#f1e5e1,#f2e8e5,#f4edeb,#f3ebe9,#f2e8e4,#f4eeeb,#f3ecea,#f1e5e0,#f0e3de,#f1e5e1,#f3ebe9,#f4edeb,#f3ebe8,#f2eae6,#f2e9e6,#f3ebe8,#f3ecea,#f4edea,#f2e9e5,#f2eae7,#f1e6e2,#f3ebe8,#f2e8e5,#f0e4e0,#f1e4e0,#f3ebe8,#f3ebe8,#f1e7e3,#f1e4e0,#f0e3de,#f3eae8,#f3ebe9,#f4edeb,#f4edeb,#f2eae6,#f3eae7,#f3ebe8,#f3ebe9,#f1e6e1,#f2eae7,#c65a3a,#9c1526,#c75e3e,#f3ece9,#f2e9e6,#f3eae7,#f3ebe9,#f3ebe8,#f3ebe9,#f3ebe8,#f4edeb,#f4edeb,#f4edeb,#f4edeb,#f3ece9,#f3ebe9,#f3eae7,#f3ebe8,#f3eae7,#f3eae7,#f2e8e5,#f3eae7,#f3ebe9,#f4edea,#f3ebe8,#f1e6e2,#f3ebe8,#f3ebe9,#f3ece9,#f4edeb,#f4eeec,#f3edea,#f3ebe9,#dba088,#4b0817,#3c0912,#3c0912,#3c0912,#440815,#d3886b,#ebd5cc,#f1e6e2,#f2e7e4,#c24f2f,#3c0912,#3c0912,#c24f2f,#f0e2dc,#f2e7e4,#f3ebe8,#f3ebe9,#f4edeb,#f4edeb,#f4edeb,#f4edeb,#f4eeec,#f4eeec,#f4edeb,#f3ece9,#f3eae7,#f3eae7,#f3ece9,#f3ecea,#f3ece9,#f3eae7,#efdfd9,#d7947a,#c96646,#c96646,#ca6747,#d8977e,#f0e3dd,#f3ece9,#f3ece9,#f3ece9,#f3ecea,#f3ece9,#f3ebe8,#f3ebe8,#f3edea,#f4edeb,#f3edea,#f3ecea,#f2e9e6,#f3eae7,#f4edeb,#f4eeec,#f4edeb,#f4edeb,#f4edea,#f3eae8,#f3ebe8,#f3ebe9,#f3eae7,#f2e8e5,#f1e6e2,#f2e8e5,#f2e9e6,#f2e8e4,#f1e7e3,#f1e7e3,#f1e6e2,#f1e7e3,#f2eae7,#f3ecea,#f3ebe9,#f3ecea,#f3ebe9,#f2e8e5,#f3eae7,#f3eae7,#f4edeb,#f3ecea,#f4eeec,#e2b6a6,#dca690,#dca790,#eddad3,#f3ebe9,#f3ecea,#f4eeec,#f4edeb,#f4edea,#f3ebe8,#f1e5e1,#f1e5e0,#f3ebe8,#f3ebe8,#f3ebe8,#f3eae7,#f0e2dd,#e8cdc2,#d48a6e,#c45636,#c45636,#ead2c9,#e3bbac,#c55737,#c55838,#dda791,#e1b5a3,#dca58d,#dca58e,#e6c4b7,#ecd8cf,#eddbd4,#dda993,#c65c3c,#d4886c,#c75f3f,#c75f3f,#c75e3e,#c75e3e,#c75f3f,#c86141,#dfad99,#eedfd9,#dca68f,#c86343,#e1b5a4,#e9cfc5,#f1e6e2,#f0e2dd,#e2b9a9,#dba189,#ca6848,#cc6e4e,#eddcd5,#f1e7e3,#eddad2,#f1e5e1,#f2e8e4,#f2eae6,#f0e4df,#f0e4df,#f2eae7,#f3eae7,#f1e5e1,#efe0da,#efe0da,#f2e8e5,#e3bbac,#dfaf9b,#dfb09d,#ebd6ce,#f3ecea,#f1e5e1,#f1e7e3,#f0e4df,#f0e2dd,#f0e4df,#f1e6e1,#f1e5e1,#f1e5e0,#f2e7e4,#f1e6e2,#f1e4e0,#f4edea,#f4edeb,#f3ecea,#f3ece9,#f3ece9,#f3ebe8,#f1e5e1,#f0e4e0,#f3eae7,#f4edeb,#f3ecea,#f3ebe8,#f3eae7,#f4edea,#f4edeb,#f3ebe8,#ad2620,#ad2620,#f3ecea,#f3ece9,#f3ecea,#f4edea,#f4eeec,#f3ecea,#f3ece9,#f3ece9,#f3edea,#f3ecea,#f4edea,#f3ece9,#f3eae7,#f3eae7,#e8cabf,#e5c2b5,#e5c2b5,#e8cabf,#f1e6e2,#f4edea,#f3eae7,#f3eae7,#f3ebe8,#f4edeb,#f4edeb,#f4edeb,#f3ece9,#f3ebe9,#f4eeec,#f3ece9,#f2eae7,#f2eae6,#f3ebe8,#f3ebe9,#f3ecea,#f4eeec,#f3ecea,#f3ebe9,#f3ebe8,#f4eeeb,#f3ece9,#f4edea,#f3ecea,#f3eae7,#f2eae6,#f3eae8,#e5c2b5,#d07c5e,#d07b5d,#d07b5c,#d48b6f,#ebd4cb,#f4edeb,#f3eae7,#f3ece9,#f4eeec,#f2eae7,#efe0db,#f1e7e2,#f3ebe9,#f3ece9,#f3eae7,#efdfd9,#f0e2dd,#f2e7e3,#f1e6e2,#f2e8e4,#efe0da,#eeded8,#f2e7e3,#f3ecea,#f4edeb,#f1e6e2,#efe0da,#f0e2dd,#efe1dc,#f0e4e0,#f2eae7,#f3ebe9,#f2e9e6,#f3eae7,#f3ecea,#f4edeb,#f3ece9,#f3ebe8,#f2e8e4,#f3ebe8,#f4eeec,#f2eae7,#f1e6e2,#efe0da,#efe1db,#f1e6e2,#f2eae6,#f2e9e5,#eddbd4,#f1e7e3,#f1e6e2,#f3eae7,#f1e7e3,#f2e9e6,#f3ebe9,#f2e8e4,#f2e8e5,#f0e4df,#eeddd6,#f2e7e3,#f0e4e0,#efdfd9,#f1e5e0,#f4edea,#f2eae6,#f1e5e0,#f4edea,#f4edeb,#f3ecea,#f3ebe8,#efe1db,#f1e6e2,#f4edeb,#f3ece9,#f3eae7,#f2e9e6,#eeded8,#efe0da,#f2e8e4,#efe0da,#efdfd9,#efe0da,#f1e6e2,#f4edeb,#f4edeb,#f3edea,#f2e9e5,#f1e5e0,#f0e3df,#f2e8e5,#f2e9e6,#f2e9e6,#f2eae7,#f2e9e5,#f2eae6,#f4edeb,#f4eeec,#ecd8d1,#bb3d27,#ecd6ce,#f3ebe8,#f4eeec,#f4edeb,#f4edea,#f4edeb,#f4eeec,#f4edea,#f3ebe8,#f3edea,#f4edeb,#f3ecea,#f3ebe9,#f1e4e0,#f0e2dd,#f2e9e6,#f3eae8,#f4edeb,#f3ebe8,#f2e8e4,#f1e7e3,#f3ebe9,#f4eeeb,#f3eae8,#f3eae7,#f1e6e2,#f3ecea,#ebd4cb,#dda993,#d69176,#e5c1b4,#ead3c9,#f2eae6,#f4eeec,#f4eeec,#f3ece9,#f2eae6,#f3ebe8,#f4edeb,#f4edeb,#f2e9e5,#f2e8e4,#f2e9e5,#f2e7e3,#f1e7e3,#f3eae7,#f3ecea,#f3ecea,#f4edeb,#f4edeb,#f3eae7,#f3ece9,#f3ebe9,#f4edea,#f4eeec,#f4edeb,#f2e8e5,#f2e9e6,#f2e7e4,#f1e6e1,#f0e4df,#f1e6e1,#f1e5e1,#efe1dc,#f0e4df,#f1e6e2,#f1e7e3,#f2e9e5,#f2e7e4,#f1e6e2,#f1e7e3,#f2e9e6,#f1e7e3,#f2e8e4,#f1e6e1,#f1e6e1,#f1e6e1,#f2e9e6,#f3ecea,#f4edea,#f3ecea,#f3ece9,#f3ecea,#f3ecea,#f3ece9,#f3ece9,#f3ecea,#f4edea,#f3ebe9,#f3eae7,#f2e8e4,#f2e8e4,#f3ebe9,#f3ece9,#f3ece9,#f3ece9,#f3ebe8,#f3eae7,#f1e7e3,#f3ebe9,#f2e9e6,#f1e7e3,#f1e6e2,#f2e7e4,#f2e9e5,#f2e8e5,#f2e9e6,#f2eae6,#f3ebe8,#f0e2dd,#eeddd6,#eeddd6,#d58c71,#dda892,#ecd8d0,#d8987f,#d38568,#d8977d,#ddaa94,#e4bdaf,#f0e2dd,#f4eeeb,#f4eeec,#d69176,#630820,#490817,#480817,#480817,#5e081e,#cb6b4b,#e8cbc0,#f1e6e2,#eedcd6,#dfaf9c,#dca48d,#dba38b,#dca48d,#dca48d,#d38569,#d28366,#d28366,#d28366,#d28568,#dda791,#e3baab,#dca58e,#dca48d,#dca58e,#e8cabf,#f1e4e0,#f2e7e3,#f2e9e5,#f2e9e5,#f1e6e2,#f2e8e4,#f4edeb,#f3ecea,#f2e9e5,#f3eae8,#f4edeb,#f3ebe8,#f2eae7,#f4edeb,#f4edeb,#f4edea,#f4edeb,#d3886c,#880d28,#880d28,#f1e5e0,#e4bfb1,#eddad3,#ebd3ca,#d48b6f,#cc6d4d,#cb6a4a,#cb6b4b,#e6c4b7,#f3ebe8,#f2e9e6,#f3ecea,#f3ebe9,#f2e9e6,#f2eae7,#f3ebe8,#f2e9e5,#f0e4df,#f2e9e5,#f3eae7,#f3ebe8,#f4edeb,#e1b5a4,#670821,#670821,#860c28,#f1e5e0,#ecd6ce,#ebd4cc,#ead2c8,#e2b6a6,#ebd4cb,#ead2c9,#e5c2b5,#e6c4b7,#e1b6a5,#e0b3a1,#e0b29f,#e0b19f,#e8cbc0,#efe0da,#e8cbc0,#e0b19f,#e8cbc0,#f0e4df,#f0e3dd,#ecd7cf,#eeded8,#f4edeb,#deab97,#9f1825,#9c1626,#9b1526)"></div>
<div style="top:140.5px;height:27px;background:linear-gradient(90deg,#f3ecea,#f1e6e2,#f4edeb,#f3ece9,#f4edea,#f2eae7,#f2e8e4,#f3edea,#f2e7e3,#f0e4e0,#eedcd5,#c35333,#bb3f27,#efe0da,#f1e6e2,#efe1dc,#dfad99,#dfad99,#e4bdaf,#ead0c7,#e3bbac,#e4c0b2,#e0b09d,#e0b19e,#e4bdaf,#ebd6ce,#efe1db,#f3ece9,#f3ebe8,#f3eae7,#f3ece9,#f4eeeb,#f3ebe8,#f2e8e4,#f2eae7,#e9cfc4,#d8977e,#d7957c,#e7c8bc,#dda892,#e6c5b8,#f1e6e1,#efe1db,#e7c8bd,#e5c0b3,#eddad3,#ecd6ce,#eeded8,#f3ebe8,#f0e4e0,#d8967c,#cd7353,#cd7253,#cd7252,#cd7354,#d28467,#f2e8e5,#f1e5e1,#f1e6e1,#f1e6e1,#f1e4e0,#f1e5e1,#f0e4df,#eeded7,#ecd8d0,#ecd7ce,#ecd7cf,#efe1db,#f1e7e3,#f3eae7,#e6c5b9,#e0b3a1,#e1b3a2,#ebd6ce,#f2eae6,#e3bcad,#e4bdaf,#f2e9e5,#f4eeec,#f3edea,#f3ece9,#f3ecea,#f3ecea,#f3ebe8,#f3ecea,#f3ebe9,#f3ebe9,#f3ece9,#f3ecea,#f4edeb,#f4edeb,#f4edeb,#f2eae6,#dca38c,#ce7557,#ce7657,#dda892,#f3eae7,#f2e8e5,#f0e4df,#f1e5e0,#f3eae7,#f3eae7,#f3ebe8,#f1e6e2,#f1e5e0,#efe0da,#efe0da,#efe1dc,#efe0da,#efe1db,#f4edeb,#f3edea,#f2e8e5,#f1e6e1,#f0e3de,#f0e3de,#f0e4e0,#efe2dc,#f1e6e2,#f2e9e6,#f3eae7,#efe1db,#efe0da,#f3ebe8,#f4edeb,#f1e6e2,#eddad3,#f0e4df,#b33022,#efe1db,#ecd7cf,#ead2c8,#efe1db,#eddad2,#eeddd6,#f2e8e4,#f3eae7,#e8ccc2,#e8ccc1,#f3ebe8,#f3ebe8,#f2eae6,#f4edeb,#f4edea,#f3ebe8,#f2e8e5,#f2e8e5,#f2e9e6,#f2e7e4,#f2e8e5,#f3ece9,#f4edeb,#f4edeb,#f4edeb,#f3ecea,#f3eae7,#f3edea,#f4eeec,#f4edeb,#f3ecea,#f3ebe9,#f3ebe8,#f3ebe9,#f2e9e5,#f2e8e5,#f2e9e5,#f2e8e5,#f2e8e4,#f3eae7,#f3ece9,#f2e9e6,#f3eae7,#f3ebe9,#f3ecea,#f3ebe8,#f3eae7,#f3eae7,#f3ebe8,#f3ecea,#f4edeb,#f3ebe9,#f3eae7,#e8cbc0,#e8cabe,#f3ebe8,#f3ecea,#f3ecea,#f3ebe8,#f4eeeb,#f4edeb,#f3edea,#f2e8e4,#f2e8e5,#f3eae7,#f0e3de,#ebd5cc,#e1b6a5,#e6c4b7,#e2b7a6,#ecd8d1,#f3ebe9,#f4eeec,#f3ecea,#f3ebe8,#f3ebe8,#f3ecea,#f4edeb,#f4edeb,#f4edeb,#f3ece9,#f2e9e6,#f2e8e5,#f2e8e5,#f2e9e5,#f3eae7,#f2e8e5,#efe0da,#f2e9e5,#f3ece9,#f3ece9,#f2e9e6,#f3ece9,#f4edea,#f4edeb,#f4edeb,#f4edeb,#f3ecea,#f3ebe9,#f3eae7,#f2e9e6,#f2e8e5,#f2e8e5,#f2e8e4,#f2eae6,#f3ebe8,#f3ece9,#f3ece9,#f3eae7,#f3ece9,#f4edeb,#f3edea,#f3ece9,#f3ece9,#f3ece9,#f4edeb,#f3eae7,#e9cdc3,#eddbd4,#f1e7e3,#f2e8e4,#eddbd4,#e2b8a7,#ce7556,#ce7657,#e9cec3,#f2e9e6,#f3ecea,#f2e9e6,#efe0da,#efe0da,#efe0da,#efe0da,#f1e6e1,#f2e8e4,#f0e4e0,#efe0da,#f0e2dd,#efe1db,#f2e8e4,#f3ece9,#f2e9e5,#f4edeb,#f3ece9,#f0e3de,#f0e4df,#f3ecea,#f4edeb,#f4edeb,#f4edeb,#f4edeb,#f4edeb,#f3ecea,#f2e9e6,#f3eae7,#f2e9e5,#f2e9e6,#f3ebe8,#f2e8e5,#f1e5e1,#f3eae8,#f3ebe9,#f2e9e6,#f2e9e6,#f3ebe8,#f4edeb,#f4eeeb,#f3ece9,#f4edea,#f3edea,#f3ebe8,#f2e8e5,#f2e8e5,#f3ebe8,#f3ebe8,#f1e6e2,#f1e7e3,#f0e4df,#f0e4df,#f1e6e2,#f2eae7,#f2e8e5,#f3ebe9,#f3edea,#f4edeb,#f4eeec,#f3ebe8,#f3ecea,#f2e9e6,#f1e5e0,#f1e4e0,#f3ebe8,#f3ece9,#f3ebe9,#f2e8e4,#f1e7e3,#f2e9e6,#f3ece9,#efe0da,#dfb09c,#d8967d,#d8967d,#d8977d,#d8967c,#d8987e,#e2b7a6,#efe0da,#f3eae7,#f3ece9,#f3ece9,#e8cabe,#e0b19f,#e3bbac,#ce7556,#ce7657,#e7c9bd,#ead0c6,#deac98,#e9d0c6,#f3eae7,#efdfd9,#f1e5e1,#f1e6e1,#f2e9e5,#f4edeb,#f3ece9,#f2e8e5,#f4edeb,#f3ecea,#f1e5e1,#f0e3df,#f1e6e2,#f3ebe9,#f4edeb,#f3ebe8,#f2eae7,#f2eae6,#f3ebe8,#f3ecea,#f3edea,#f2e9e6,#f2eae7,#f1e7e3,#f3ebe8,#f2e8e5,#f1e5e0,#f1e5e1,#f3ebe8,#f3ebe8,#f2e7e3,#f1e5e1,#f0e4df,#f3eae7,#f3ece9,#f4edeb,#f4edeb,#f3eae7,#f3eae7,#f3ebe8,#f3ebe9,#f1e6e2,#f1e4e0,#ca6646,#ac2520,#cb6a4a,#f1e7e2,#f2eae6,#f3eae7,#f3ece9,#f3ebe8,#f3ebe9,#f3ebe9,#f4edeb,#f4edeb,#f4edeb,#f4edeb,#f3ecea,#f3ebe9,#f3eae7,#f3ebe8,#f3eae8,#f3eae7,#f2e9e5,#f3eae7,#f3ece9,#f4edea,#f3ebe8,#f1e7e3,#f3ebe8,#f3ebe9,#f3ecea,#f4edeb,#f4eeec,#f3edea,#f2e9e5,#daa088,#640820,#4b0818,#4b0817,#4b0818,#5b081d,#d4896d,#ebd4cb,#f1e6e1,#f0e2dd,#c55838,#51081a,#51081a,#c55838,#eeddd6,#f2e8e4,#f3ebe8,#f3ece9,#f4edeb,#f4edeb,#f4edeb,#f4edeb,#f4eeec,#f4eeec,#f4edeb,#f3ece9,#f3eae7,#f3eae7,#f3ece9,#f3ecea,#f3ece9,#f3eae7,#eeddd7,#d99a81,#cc6f50,#cc6e4e,#cd7151,#da9d84,#efe1db,#f3ebe9,#f3ece9,#f3ece9,#f3ecea,#f3ece9,#f3ebe9,#f3ebe9,#f3edea,#f4edeb,#f4edea,#f3ecea,#f2eae7,#f3eae7,#f4edeb,#f4eeec,#f4edeb,#f4edeb,#f4edea,#f3ebe8,#f3ebe8,#f3ebe9,#f3eae7,#f2e9e5,#f1e7e3,#f2e8e5,#f2e9e6,#f2e8e5,#f2e7e4,#f2e7e3,#f1e7e3,#f2e7e3,#f3eae7,#f3ecea,#f3ece9,#f3ecea,#f3ebe9,#f2e9e5,#f3eae7,#f3ebe8,#f4edeb,#f3edea,#f3ece9,#e3bbab,#deaa95,#deac97,#eddad3,#f3ebe8,#f3ecea,#f4eeeb,#f4edeb,#f4edea,#f3ebe8,#f1e6e1,#f1e6e1,#f3ebe8,#f3ebe8,#f3ebe8,#f3eae7,#f0e2dd,#e8ccc2,#d69075,#c86141,#c96444,#e9cec4,#e3bbac,#c96444,#c96444,#dda993,#e2b6a5,#dda993,#deaa94,#e6c5b9,#ecd8d0,#eddad2,#deac97,#cb6a4a,#d48b6f,#cb6949,#ca6747,#ca6646,#ca6747,#ca6848,#cb6c4c,#dfb09c,#eddbd4,#dda994,#cd7152,#e1b6a5,#ead0c6,#f1e5e1,#efe1dc,#e3bcad,#dca48d,#cd7253,#cf795b,#ecd9d1,#f1e6e2,#eddcd5,#f1e5e1,#f2e8e5,#f2eae6,#f1e4e0,#f1e4e0,#f2eae7,#f3eae7,#f1e6e1,#efe1db,#efe1dc,#f1e7e3,#e4bfb1,#e0b2a0,#e1b4a3,#ecd7ce,#f3ebe9,#f1e6e2,#f1e7e3,#f1e5e0,#f0e3de,#f1e5e0,#f1e6e2,#f1e6e2,#f1e5e1,#f2e8e4,#f1e6e2,#f1e5e1,#f3ecea,#f4edeb,#f3ecea,#f3ece9,#f3ecea,#f3ebe8,#f1e6e1,#f1e5e1,#f3eae7,#f4edeb,#f3ecea,#f3ebe8,#f3eae8,#f4edea,#f4edeb,#f0e4df,#b73524,#b73624,#f1e5e0,#f3ece9,#f3ecea,#f4edea,#f4eeec,#f3ecea,#f3ece9,#f3ece9,#f3edea,#f3ecea,#f4edea,#f3ece9,#f3ebe8,#f2e9e6,#e9cdc3,#e6c5b8,#e6c4b8,#e8ccc2,#f1e5e1,#f3ecea,#f3ebe8,#f3eae7,#f3ebe8,#f4edeb,#f4edeb,#f4edeb,#f3ece9,#f3ece9,#f4eeec,#f3ece9,#f3eae7,#f2eae7,#f3ebe8,#f3ece9,#f3ecea,#f4eeec,#f3ecea,#f3ebe9,#f3ebe9,#f4edeb,#f3ece9,#f4edea,#f3ecea,#f3eae7,#f2eae7,#f2e9e6,#e6c3b6,#d38569,#d18164,#d28164,#d69278,#ebd3ca,#f3ecea,#f3ebe8,#f3ecea,#f4eeec,#f2eae7,#f0e2dc,#f1e7e3,#f3ebe9,#f3ece9,#f3eae7,#efe1db,#f0e3de,#f2e7e3,#f1e7e2,#f2e8e4,#efe1dc,#efe0da,#f2e7e4,#f3ece9,#f3edea,#f1e7e2,#efe1db,#f0e3de,#f0e2dd,#f1e5e0,#f3eae7,#f3ebe9,#f2eae6,#f3eae7,#f3ecea,#f4edeb,#f3ecea,#f3ebe8,#f2e8e5,#f3ebe8,#f4eeec,#f3eae7,#f1e6e2,#efe1db,#efe2dc,#f1e6e2,#f2eae6,#f2e8e5,#eeddd7,#f1e7e3,#f1e7e3,#f3eae7,#f2e7e4,#f2eae6,#f3ebe8,#f2e8e5,#f2e8e5,#f1e4e0,#eedfd8,#f1e7e3,#f1e5e0,#efe0db,#f1e5e1,#f3ecea,#f2eae7,#f1e6e2,#f3edea,#f4edeb,#f3edea,#f3ebe8,#f0e2dd,#f1e6e2,#f4edeb,#f3ece9,#f3eae7,#f2e9e6,#efe0da,#efe1db,#f2e7e4,#efe1db,#efe0da,#efe0db,#f1e7e3,#f4edeb,#f4edeb,#f3edea,#f2e9e6,#f1e5e1,#f0e4df,#f2e8e5,#f2e9e6,#f2e9e6,#f3eae7,#f2e9e6,#f3eae7,#f4edeb,#f4edeb,#ebd5cc,#c45434,#ead3ca,#f3eae7,#f4eeec,#f4edeb,#f4edea,#f4edeb,#f4eeeb,#f4edea,#f3ebe8,#f3edea,#f4edeb,#f3ecea,#f3ebe8,#f1e5e1,#f0e3de,#f2e9e6,#f3ebe8,#f4edeb,#f3ebe9,#f2e8e4,#f2e8e4,#f3ebe9,#f4edeb,#f3ebe8,#f3eae7,#f2e7e3,#f3ebe9,#ebd4cb,#dfad99,#d8997f,#e5c2b5,#ebd4cb,#f2e9e6,#f4eeec,#f4eeec,#f3ece9,#f3eae7,#f3ebe8,#f4edeb,#f4edea,#f2e9e6,#f2e8e5,#f2e9e5,#f2e8e4,#f1e7e3,#f3eae7,#f3ecea,#f3ecea,#f4edeb,#f4edeb,#f3eae7,#f3ece9,#f3ece9,#f4edea,#f4eeeb,#f4edeb,#f2e9e6,#f2e9e6,#f2e8e4,#f1e6e2,#f1e5e0,#f1e6e2,#f1e5e1,#f0e2dd,#f0e4df,#f1e7e3,#f2e7e3,#f2e9e6,#f2e8e4,#f1e7e3,#f2e8e4,#f2e9e6,#f2e7e4,#f2e8e4,#f1e6e2,#f1e6e2,#f1e6e2,#f2e9e6,#f3ecea,#f4edeb,#f3ecea,#f3ecea,#f3ecea,#f3ecea,#f3ece9,#f3ece9,#f3ecea,#f4edea,#f3ebe9,#f3eae7,#f2e8e4,#f2e8e5,#f3ebe9,#f3ece9,#f3ece9,#f3ece9,#f3ebe8,#f3eae7,#f2e8e4,#f3ebe9,#f2e9e6,#f2e7e3,#f1e7e3,#f2e8e4,#f2e9e6,#f2e9e5,#f2eae6,#f2eae7,#f3ebe8,#f0e3de,#eeded7,#eddad3,#d7967c,#deac97,#ebd4cc,#da9e86,#d58c70,#d99b82,#dfad99,#e5c0b3,#efe2dc,#f4edeb,#f3eae7,#d79379,#7a0a27,#5a081d,#59081c,#59081c,#740925,#cd7151,#e8cabf,#f1e5e1,#eddcd5,#e1b3a1,#dda893,#dda790,#dda891,#dda790,#d58c70,#d4896c,#d4886c,#d4896c,#d48c70,#deaa95,#e3bbac,#dda994,#dda892,#deaa95,#e8cbc0,#f0e4df,#f2e8e4,#f2e9e6,#f2e9e6,#f1e7e3,#f2e8e5,#f4edeb,#f3ecea,#f2e9e6,#f3ebe8,#f4edea,#f3ebe8,#f3eae7,#f4edea,#f4edeb,#f4edea,#f2e9e6,#d58d71,#9b1526,#9f1825,#eddbd4,#e6c4b7,#eddad2,#ead2c9,#d69277,#ce7556,#cd7252,#ce7657,#e6c4b7,#f2eae6,#f2eae6,#f3ecea,#f3ebe9,#f2e9e6,#f3eae7,#f3ebe8,#f2e9e5,#f1e5e1,#f2e9e5,#f3eae8,#f3ebe8,#f3ebe8,#e0b3a1,#810b28,#790a27,#9d1626,#eddcd5,#ecd8d0,#ebd6cd,#ead2c9,#e3bbac,#ebd4cb,#ead3ca,#e6c5b9,#e6c5b9,#e2b9a9,#e1b6a5,#e1b5a3,#e1b5a4,#e8ccc2,#efdfd9,#e8ccc2,#e2b6a6,#e8ccc2,#f0e3df,#f0e3de,#ecd9d1,#efdfd9,#f3eae7,#deac97,#ae2721,#a72022,#a71f22)"></div>
<div style="top:167px;height:34.5px;background:linear-gradient(90deg,#f3ece9,#f3ece9,#f3ebe8,#f3eae7,#f3eae7,#f3eae7,#f3ebe8,#f3ebe9,#f3ebe8,#f3eae7,#f3ebe8,#f3ebe8,#f3eae7,#f2e9e6,#f3ebe8,#f3ebe9,#f3ebe8,#f3ebe8,#f3ebe8,#f3ebe8,#f3ece9,#f3ece9,#f3ebe9,#f3eae7,#f3ebe8,#f3ebe9,#f3ebe9,#f3ebe9,#f3ebe9,#f3ebe9,#f3ebe9,#f3ebe8,#f3ebe8,#f3ebe8,#f3ebe9,#f3ece9,#f3ece9,#f3ece9,#f3ece9,#f3ece9,#f3ece9,#f3ece9,#f3ece9,#f3ece9,#f3ece9,#f3ebe9,#f3ece9,#f3ece9,#f3ebe8,#f3ebe8,#f3ece9,#f3ece9,#f3ece9,#f3ebe9,#f3ece9,#f3ece9,#f3ece9,#f3ece9,#f3ece9,#f3ece9,#f3ebe9,#f3ebe8,#f3eae7,#f3ebe8,#f3ebe9,#f3ebe9,#f3ebe9,#f3ece9,#f3ece9,#f3ece9,#f3ece9,#f3ece9,#f3ece9,#f3ece9,#f3ece9,#f3ebe9,#f3ebe9,#f3ece9,#f3ece9,#f3ece9,#f3ebe8,#f3eae7,#f3eae7,#f3ebe8,#f3eae7,#f3eae7,#f3ebe8,#f3ece9,#f3ece9,#f3ece9,#f3ece9,#f3ece9,#f3ebe9,#f3ebe9,#f3ece9,#f3ebe9,#f3eae7,#f3eae7,#f3ebe9,#f3ece9,#f3ece9,#f3ece9,#f3ece9,#f3ebe9,#f2eae6,#f1e6e2,#f2e8e5,#f2e8e5,#f3eae7,#f3ece9,#f3ece9,#f3ece9,#f3ebe8,#f2eae6,#f3ebe8,#f3ece9,#f3ece9,#f3ece9,#f3ece9,#f3ece9,#f3ece9,#f3ece9,#f3ece9,#f3ece9,#f3ebe8,#f3ebe8,#f3ece9,#f3ebe9,#f3ebe8,#f2e9e6,#f2e9e6,#f3eae7,#f2eae6,#f2e8e5,#f2e9e6,#f3eae7,#f3eae7,#f3eae7,#f3ebe8,#f3ebe9,#f3ebe8,#f3ebe8,#f3ebe9,#f3ebe9,#f3ebe9,#f3ece9,#f3ece9,#f3ece9,#f3ebe8,#f3eae7,#f3ebe9,#f3ece9,#f3ebe9,#f3ebe8,#f3ebe9,#f3ece9,#f3ece9,#f3ece9,#f3ece9,#f3ece9,#f3ebe8,#f3eae7,#f3ebe8,#f3ece9,#f3ebe9,#f3ebe9,#f3ebe9,#f3ebe9,#f3ece9,#f3ece9,#f3ece9,#f3ebe9,#f3ebe9,#f3ebe9,#f3ebe9,#f3ebe9,#f3ebe9,#f3ece9,#f3ece9,#f3ebe9,#f3ebe9,#f3ece9,#f3ece9,#f3ebe9,#f3ebe8,#f3ebe8,#f3ece9,#f3ece9,#f3ece9,#f3ece9,#f3ece9,#f3ebe8,#f3ebe8,#f3ebe9,#f3ece9,#f3ece9,#f3ece9,#f3ece9,#f3ece9,#f3ebe9,#f3ebe9,#f3ebe9,#f3ebe9,#f3ebe9,#f3ece9,#f3ece9,#f3ece9,#f3ece9,#f3ece9,#f3ece9,#f3ece9,#f3ebe9,#f3ebe8,#f3eae7,#f3eae7,#f2e8e5,#f1e7e3,#f2eae6,#f2eae7,#f2e9e6,#f2eae6,#f3ebe8,#f3ebe9,#f3ece9,#f3ece9,#f3ebe8,#f2e9e6,#f2eae7,#f3eae7,#f3ebe9,#f3ece9,#f3ebe8,#f2e9e5,#f3eae7,#f3ebe8,#f3eae7,#f3ebe8,#f3ebe8,#f2eae7,#f2e8e4)"></div>
</div>
<div class="cb" style="top:695.8px;background:linear-gradient(0deg,#181c43,#1e245b,#242d79,#2a3ba1,#254bb8,#185bc6,#1268c9,#1873c3,#2c82c1,#4592c1,#60a2c2,#7bb0c5,#9ac0cd,#b6ced7,#d0dae1,#e5e7ec,#f3eeed,#eee0da,#e9cec3,#e4b8a9,#dda28e,#d68c73,#d17a61,#cc694f,#c5573d,#be452b,#b23229,#a51f28,#921528,#7b1028,#660d24,#510b1b,#3c0912)"></div>
<div class="cb" style="top:973.5px;background:linear-gradient(0deg,#181c43,#1e245b,#242d79,#2a3ba1,#254bb8,#185bc6,#1268c9,#1873c3,#2c82c1,#4592c1,#60a2c2,#7bb0c5,#9ac0cd,#b6ced7,#d0dae1,#e5e7ec,#f3eeed,#eee0da,#e9cec3,#e4b8a9,#dda28e,#d68c73,#d17a61,#cc694f,#c5573d,#be452b,#b23229,#a51f28,#921528,#7b1028,#660d24,#510b1b,#3c0912)"></div>
<div class="cb" style="top:1251px;background:linear-gradient(0deg,#2a186c,#2c1880,#2b1d93,#2a22a5,#202da3,#1638a0,#12429d,#0f4c99,#105596,#145d93,#196590,#1f6b8f,#25728e,#2b7a8d,#30828c,#368b8a,#3b9388,#409b86,#44a283,#4bab7f,#52b57a,#5abc75,#63c370,#6dca6b,#7acf66,#88d462,#9dd961,#b2de5f,#c4e165,#d7e56c,#e4e978,#efec85,#fdef9a)"></div>
<div class="cb" style="top:1528.5px;background:linear-gradient(0deg,#042333,#062742,#0a2c53,#0e3167,#18337b,#24338e,#31329f,#4033a5,#4e37a7,#5b3da4,#6843a1,#754a9e,#81509b,#8d5396,#995691,#a6588b,#b45b84,#c15e7c,#ce6274,#d9676b,#e46c62,#ee7259,#f37b4f,#f88346,#fa9140,#fc9e3b,#fdac3b,#feba3c,#fdc93f,#fbda44,#f6e84c,#f0f456,#e8fa5b)"></div>
<div class="cb" style="top:1806px;background:linear-gradient(0deg,#f4eeec,#f1e5e0,#eddcd5,#ead3c9,#e8cabf,#e5c1b4,#e2b8a8,#dfb09d,#dda791,#da9e86,#d7957b,#d58c70,#d28265,#cf785a,#cc6f4f,#c96444,#c65939,#c24f2f,#be442a,#b93925,#b43023,#ae2821,#a61f22,#9d1626,#920f28,#870c28,#7c0a28,#700924,#650820,#5a081d,#4f0819,#450815,#3c0912)"></div>
<div class="cb" style="top:2181px;background:linear-gradient(0deg,#181c43,#1e245b,#242d79,#2a3ba1,#254bb8,#185bc6,#1268c9,#1873c3,#2c82c1,#4592c1,#60a2c2,#7bb0c5,#9ac0cd,#b6ced7,#d0dae1,#e5e7ec,#f3eeed,#eee0da,#e9cec3,#e4b8a9,#dda28e,#d68c73,#d17a61,#cc694f,#c5573d,#be452b,#b23229,#a51f28,#921528,#7b1028,#660d24,#510b1b,#3c0912)"></div>
<div class="cb" style="top:2458px;background:linear-gradient(0deg,#181c43,#1e245b,#242d79,#2a3ba1,#254bb8,#185bc6,#1268c9,#1873c3,#2c82c1,#4592c1,#60a2c2,#7bb0c5,#9ac0cd,#b6ced7,#d0dae1,#e5e7ec,#f3eeed,#eee0da,#e9cec3,#e4b8a9,#dda28e,#d68c73,#d17a61,#cc694f,#c5573d,#be452b,#b23229,#a51f28,#921528,#7b1028,#660d24,#510b1b,#3c0912)"></div>
<div class="cb" style="top:2735.2px;background:linear-gradient(0deg,#2a186c,#2c1880,#2b1d93,#2a22a5,#202da3,#1638a0,#12429d,#0f4c99,#105596,#145d93,#196590,#1f6b8f,#25728e,#2b7a8d,#30828c,#368b8a,#3b9388,#409b86,#44a283,#4bab7f,#52b57a,#5abc75,#63c370,#6dca6b,#7acf66,#88d462,#9dd961,#b2de5f,#c4e165,#d7e56c,#e4e978,#efec85,#fdef9a)"></div>
<div class="cb" style="top:3013.2px;background:linear-gradient(0deg,#042333,#062742,#0a2c53,#0e3167,#18337b,#24338e,#31329f,#4033a5,#4e37a7,#5b3da4,#6843a1,#754a9e,#81509b,#8d5396,#995691,#a6588b,#b45b84,#c15e7c,#ce6274,#d9676b,#e46c62,#ee7259,#f37b4f,#f88346,#fa9140,#fc9e3b,#fdac3b,#feba3c,#fdc93f,#fbda44,#f6e84c,#f0f456,#e8fa5b)"></div>
<div class="cb" style="top:3291.2px;background:linear-gradient(0deg,#f4eeec,#f1e5e0,#eddcd5,#ead3c9,#e8cabf,#e5c1b4,#e2b8a8,#dfb09d,#dda791,#da9e86,#d7957b,#d58c70,#d28265,#cf785a,#cc6f4f,#c96444,#c65939,#c24f2f,#be442a,#b93925,#b43023,#ae2821,#a61f22,#9d1626,#920f28,#870c28,#7c0a28,#700924,#650820,#5a081d,#4f0819,#450815,#3c0912)"></div>
<svg width="2408" height="3561" viewBox="0 0 2408 3561">
<rect x="185.5" y="695.8" width="1949" height="201.5" fill="none" stroke="#9a9a9a" stroke-width="1" opacity="0.55"/>
<line x1="186" y1="696" x2="206" y2="696" stroke="#333" stroke-width="1.6"/>
<text x="175" y="709.7" font-size="33.8" text-anchor="end" fill="#262626" >0</text>
<text x="175" y="731.867" font-size="33.8" text-anchor="end" fill="#262626" >50</text>
<text x="175" y="754.034" font-size="33.8" text-anchor="end" fill="#262626" >100</text>
<text x="175" y="776.2" font-size="33.8" text-anchor="end" fill="#262626" >150</text>
<text x="175" y="798.367" font-size="33.8" text-anchor="end" fill="#262626" >200</text>
<text x="175" y="820.534" font-size="33.8" text-anchor="end" fill="#262626" >250</text>
<text x="175" y="842.7" font-size="33.8" text-anchor="end" fill="#262626" >300</text>
<text x="175" y="864.867" font-size="33.8" text-anchor="end" fill="#262626" >350</text>
<text x="175" y="887.034" font-size="33.8" text-anchor="end" fill="#262626" >400</text>
<text x="175" y="909.2" font-size="33.8" text-anchor="end" fill="#262626" >450</text>
<text transform="translate(101.72 795.55) rotate(-90)" font-size="37.5" text-anchor="middle" fill="#262626" >Depth [m]</text>
<text x="425.164" y="942.3" font-size="33.8" text-anchor="middle" fill="#262626" >Apr</text>
<text x="667.997" y="942.3" font-size="33.8" text-anchor="middle" fill="#262626" >Jul</text>
<text x="913.499" y="942.3" font-size="33.8" text-anchor="middle" fill="#262626" >Oct</text>
<text x="1159" y="942.3" font-size="33.8" text-anchor="middle" fill="#262626" >Jan</text>
<text x="1399.16" y="942.3" font-size="33.8" text-anchor="middle" fill="#262626" >Apr</text>
<text x="1642" y="942.3" font-size="33.8" text-anchor="middle" fill="#262626" >Jul</text>
<text x="1891.5" y="942.3" font-size="33.8" text-anchor="middle" fill="#262626" >Oct</text>
<text x="2239.5" y="708.682" font-size="29" text-anchor="start" fill="#262626" >0.5</text>
<text x="2239.5" y="808.932" font-size="29" text-anchor="start" fill="#262626" >0</text>
<text x="2239.5" y="909.182" font-size="29" text-anchor="start" fill="#262626" >-0.5</text>
<text transform="translate(2337.42 796.55) rotate(-90)" font-size="32.5" text-anchor="middle" fill="#262626" >v [m/s]</text>
<rect x="185.5" y="973.5" width="1949" height="201.5" fill="none" stroke="#9a9a9a" stroke-width="1" opacity="0.55"/>
<line x1="186" y1="973.7" x2="2134" y2="973.7" stroke="#808080" stroke-width="1.2"/>
<text x="175" y="987.4" font-size="33.8" text-anchor="end" fill="#262626" >0</text>
<text x="175" y="1009.57" font-size="33.8" text-anchor="end" fill="#262626" >50</text>
<text x="175" y="1031.73" font-size="33.8" text-anchor="end" fill="#262626" >100</text>
<text x="175" y="1053.9" font-size="33.8" text-anchor="end" fill="#262626" >150</text>
<text x="175" y="1076.07" font-size="33.8" text-anchor="end" fill="#262626" >200</text>
<text x="175" y="1098.23" font-size="33.8" text-anchor="end" fill="#262626" >250</text>
<text x="175" y="1120.4" font-size="33.8" text-anchor="end" fill="#262626" >300</text>
<text x="175" y="1142.57" font-size="33.8" text-anchor="end" fill="#262626" >350</text>
<text x="175" y="1164.73" font-size="33.8" text-anchor="end" fill="#262626" >400</text>
<text x="175" y="1186.9" font-size="33.8" text-anchor="end" fill="#262626" >450</text>
<text transform="translate(101.72 1073.25) rotate(-90)" font-size="37.5" text-anchor="middle" fill="#262626" >Depth [m]</text>
<text x="425.164" y="1220" font-size="33.8" text-anchor="middle" fill="#262626" >Apr</text>
<text x="667.997" y="1220" font-size="33.8" text-anchor="middle" fill="#262626" >Jul</text>
<text x="913.499" y="1220" font-size="33.8" text-anchor="middle" fill="#262626" >Oct</text>
<text x="1159" y="1220" font-size="33.8" text-anchor="middle" fill="#262626" >Jan</text>
<text x="1399.16" y="1220" font-size="33.8" text-anchor="middle" fill="#262626" >Apr</text>
<text x="1642" y="1220" font-size="33.8" text-anchor="middle" fill="#262626" >Jul</text>
<text x="1891.5" y="1220" font-size="33.8" text-anchor="middle" fill="#262626" >Oct</text>
<text x="2239.5" y="986.382" font-size="29" text-anchor="start" fill="#262626" >0.5</text>
<text x="2239.5" y="1086.63" font-size="29" text-anchor="start" fill="#262626" >0</text>
<text x="2239.5" y="1186.88" font-size="29" text-anchor="start" fill="#262626" >-0.5</text>
<text transform="translate(2337.42 1074.25) rotate(-90)" font-size="32.5" text-anchor="middle" fill="#262626" >u [m/s]</text>
<rect x="185.5" y="1251" width="1949" height="201.5" fill="none" stroke="#9a9a9a" stroke-width="1" opacity="0.55"/>
<text x="175" y="1264.9" font-size="33.8" text-anchor="end" fill="#262626" >0</text>
<text x="175" y="1287.07" font-size="33.8" text-anchor="end" fill="#262626" >50</text>
<text x="175" y="1309.23" font-size="33.8" text-anchor="end" fill="#262626" >100</text>
<text x="175" y="1331.4" font-size="33.8" text-anchor="end" fill="#262626" >150</text>
<text x="175" y="1353.57" font-size="33.8" text-anchor="end" fill="#262626" >200</text>
<text x="175" y="1375.73" font-size="33.8" text-anchor="end" fill="#262626" >250</text>
<text x="175" y="1397.9" font-size="33.8" text-anchor="end" fill="#262626" >300</text>
<text x="175" y="1420.07" font-size="33.8" text-anchor="end" fill="#262626" >350</text>
<text x="175" y="1442.23" font-size="33.8" text-anchor="end" fill="#262626" >400</text>
<text x="175" y="1464.4" font-size="33.8" text-anchor="end" fill="#262626" >450</text>
<text transform="translate(101.72 1350.75) rotate(-90)" font-size="37.5" text-anchor="middle" fill="#262626" >Depth [m]</text>
<text x="425.164" y="1497.5" font-size="33.8" text-anchor="middle" fill="#262626" >Apr</text>
<text x="667.997" y="1497.5" font-size="33.8" text-anchor="middle" fill="#262626" >Jul</text>
<text x="913.499" y="1497.5" font-size="33.8" text-anchor="middle" fill="#262626" >Oct</text>
<text x="1159" y="1497.5" font-size="33.8" text-anchor="middle" fill="#262626" >Jan</text>
<text x="1399.16" y="1497.5" font-size="33.8" text-anchor="middle" fill="#262626" >Apr</text>
<text x="1642" y="1497.5" font-size="33.8" text-anchor="middle" fill="#262626" >Jul</text>
<text x="1891.5" y="1497.5" font-size="33.8" text-anchor="middle" fill="#262626" >Oct</text>
<text x="2239.5" y="1294.38" font-size="29" text-anchor="start" fill="#262626" >35</text>
<text x="2239.5" y="1341.38" font-size="29" text-anchor="start" fill="#262626" >34.5</text>
<text x="2239.5" y="1387.38" font-size="29" text-anchor="start" fill="#262626" >34</text>
<text x="2239.5" y="1433.88" font-size="29" text-anchor="start" fill="#262626" >33.5</text>
<text transform="translate(2342.42 1351.75) rotate(-90)" font-size="32.5" text-anchor="middle" fill="#262626" >S [PSU]</text>
<rect x="185.5" y="1528.5" width="1949" height="201.5" fill="none" stroke="#9a9a9a" stroke-width="1" opacity="0.55"/>
<line x1="186" y1="1528.7" x2="206" y2="1528.7" stroke="#333" stroke-width="1.6"/>
<text x="175" y="1542.4" font-size="33.8" text-anchor="end" fill="#262626" >0</text>
<text x="175" y="1564.57" font-size="33.8" text-anchor="end" fill="#262626" >50</text>
<text x="175" y="1586.73" font-size="33.8" text-anchor="end" fill="#262626" >100</text>
<text x="175" y="1608.9" font-size="33.8" text-anchor="end" fill="#262626" >150</text>
<text x="175" y="1631.07" font-size="33.8" text-anchor="end" fill="#262626" >200</text>
<text x="175" y="1653.23" font-size="33.8" text-anchor="end" fill="#262626" >250</text>
<text x="175" y="1675.4" font-size="33.8" text-anchor="end" fill="#262626" >300</text>
<text x="175" y="1697.57" font-size="33.8" text-anchor="end" fill="#262626" >350</text>
<text x="175" y="1719.73" font-size="33.8" text-anchor="end" fill="#262626" >400</text>
<text x="175" y="1741.9" font-size="33.8" text-anchor="end" fill="#262626" >450</text>
<text transform="translate(101.72 1628.25) rotate(-90)" font-size="37.5" text-anchor="middle" fill="#262626" >Depth [m]</text>
<text x="425.164" y="1775" font-size="33.8" text-anchor="middle" fill="#262626" >Apr</text>
<text x="667.997" y="1775" font-size="33.8" text-anchor="middle" fill="#262626" >Jul</text>
<text x="913.499" y="1775" font-size="33.8" text-anchor="middle" fill="#262626" >Oct</text>
<text x="1159" y="1775" font-size="33.8" text-anchor="middle" fill="#262626" >Jan</text>
<text x="1399.16" y="1775" font-size="33.8" text-anchor="middle" fill="#262626" >Apr</text>
<text x="1642" y="1775" font-size="33.8" text-anchor="middle" fill="#262626" >Jul</text>
<text x="1891.5" y="1775" font-size="33.8" text-anchor="middle" fill="#262626" >Oct</text>
<text x="2239.5" y="1541.38" font-size="29" text-anchor="start" fill="#262626" >15</text>
<text x="2239.5" y="1641.63" font-size="29" text-anchor="start" fill="#262626" >10</text>
<text x="2239.5" y="1741.88" font-size="29" text-anchor="start" fill="#262626" >5</text>
<text transform="translate(2333.42 1638.25) rotate(-90)" font-size="32.5" text-anchor="middle" fill="#262626" >T [<tspan font-size="21" dy="-13" dx="5">&#176;</tspan><tspan dy="13">C]</tspan></text>
<rect x="185.5" y="1806" width="1949" height="201.5" fill="none" stroke="#9a9a9a" stroke-width="1" opacity="0.55"/>
<line x1="186" y1="1806.2" x2="206" y2="1806.2" stroke="#333" stroke-width="1.6"/>
<text x="175" y="1819.9" font-size="33.8" text-anchor="end" fill="#262626" >0</text>
<text x="175" y="1842.07" font-size="33.8" text-anchor="end" fill="#262626" >50</text>
<text x="175" y="1864.23" font-size="33.8" text-anchor="end" fill="#262626" >100</text>
<text x="175" y="1886.4" font-size="33.8" text-anchor="end" fill="#262626" >150</text>
<text x="175" y="1908.57" font-size="33.8" text-anchor="end" fill="#262626" >200</text>
<text x="175" y="1930.73" font-size="33.8" text-anchor="end" fill="#262626" >250</text>
<text x="175" y="1952.9" font-size="33.8" text-anchor="end" fill="#262626" >300</text>
<text x="175" y="1975.07" font-size="33.8" text-anchor="end" fill="#262626" >350</text>
<text x="175" y="1997.23" font-size="33.8" text-anchor="end" fill="#262626" >400</text>
<text x="175" y="2019.4" font-size="33.8" text-anchor="end" fill="#262626" >450</text>
<text transform="translate(101.72 1905.75) rotate(-90)" font-size="37.5" text-anchor="middle" fill="#262626" >Depth [m]</text>
<text x="425.164" y="2052.5" font-size="33.8" text-anchor="middle" fill="#262626" >Apr</text>
<text x="667.997" y="2052.5" font-size="33.8" text-anchor="middle" fill="#262626" >Jul</text>
<text x="913.499" y="2052.5" font-size="33.8" text-anchor="middle" fill="#262626" >Oct</text>
<text x="1159" y="2052.5" font-size="33.8" text-anchor="middle" fill="#262626" >Jan</text>
<text x="1399.16" y="2052.5" font-size="33.8" text-anchor="middle" fill="#262626" >Apr</text>
<text x="1642" y="2052.5" font-size="33.8" text-anchor="middle" fill="#262626" >Jul</text>
<text x="1891.5" y="2052.5" font-size="33.8" text-anchor="middle" fill="#262626" >Oct</text>
<text x="2239.5" y="1894.88" font-size="29" text-anchor="start" fill="#262626" >0.05</text>
<text x="2239.5" y="2019.38" font-size="29" text-anchor="start" fill="#262626" >0</text>
<text transform="translate(2354.42 1904.75) rotate(-90)" font-size="32.5" text-anchor="middle" fill="#262626" >EKE [m<tspan font-size="22" dy="-13">2</tspan><tspan dy="13">/s</tspan><tspan font-size="22" dy="-13">2</tspan><tspan dy="13">]</tspan></text>
<rect x="185.5" y="2181" width="1949" height="201.5" fill="none" stroke="#9a9a9a" stroke-width="1" opacity="0.55"/>
<line x1="186" y1="2181.2" x2="206" y2="2181.2" stroke="#333" stroke-width="1.6"/>
<text x="175" y="2195.4" font-size="33.8" text-anchor="end" fill="#262626" >0</text>
<text x="175" y="2260.65" font-size="33.8" text-anchor="end" fill="#262626" >50</text>
<text x="175" y="2325.9" font-size="33.8" text-anchor="end" fill="#262626" >100</text>
<text x="175" y="2391.15" font-size="33.8" text-anchor="end" fill="#262626" >150</text>
<text transform="translate(101.72 2280.75) rotate(-90)" font-size="37.5" text-anchor="middle" fill="#262626" >Depth [m]</text>
<text x="425.164" y="2427.5" font-size="33.8" text-anchor="middle" fill="#262626" >Apr</text>
<text x="667.997" y="2427.5" font-size="33.8" text-anchor="middle" fill="#262626" >Jul</text>
<text x="913.499" y="2427.5" font-size="33.8" text-anchor="middle" fill="#262626" >Oct</text>
<text x="1159" y="2427.5" font-size="33.8" text-anchor="middle" fill="#262626" >Jan</text>
<text x="1399.16" y="2427.5" font-size="33.8" text-anchor="middle" fill="#262626" >Apr</text>
<text x="1642" y="2427.5" font-size="33.8" text-anchor="middle" fill="#262626" >Jul</text>
<text x="1891.5" y="2427.5" font-size="33.8" text-anchor="middle" fill="#262626" >Oct</text>
<text x="2239.5" y="2193.88" font-size="29" text-anchor="start" fill="#262626" >0.5</text>
<text x="2239.5" y="2294.13" font-size="29" text-anchor="start" fill="#262626" >0</text>
<text x="2239.5" y="2394.38" font-size="29" text-anchor="start" fill="#262626" >-0.5</text>
<text transform="translate(2337.42 2281.75) rotate(-90)" font-size="32.5" text-anchor="middle" fill="#262626" >v [m/s]</text>
<rect x="185.5" y="2458" width="1949" height="201.5" fill="none" stroke="#9a9a9a" stroke-width="1" opacity="0.55"/>
<line x1="186" y1="2458.2" x2="2134" y2="2458.2" stroke="#808080" stroke-width="1.2"/>
<text x="175" y="2472.4" font-size="33.8" text-anchor="end" fill="#262626" >0</text>
<text x="175" y="2537.65" font-size="33.8" text-anchor="end" fill="#262626" >50</text>
<text x="175" y="2602.9" font-size="33.8" text-anchor="end" fill="#262626" >100</text>
<text x="175" y="2668.15" font-size="33.8" text-anchor="end" fill="#262626" >150</text>
<text transform="translate(101.72 2557.75) rotate(-90)" font-size="37.5" text-anchor="middle" fill="#262626" >Depth [m]</text>
<text x="425.164" y="2704.5" font-size="33.8" text-anchor="middle" fill="#262626" >Apr</text>
<text x="667.997" y="2704.5" font-size="33.8" text-anchor="middle" fill="#262626" >Jul</text>
<text x="913.499" y="2704.5" font-size="33.8" text-anchor="middle" fill="#262626" >Oct</text>
<text x="1159" y="2704.5" font-size="33.8" text-anchor="middle" fill="#262626" >Jan</text>
<text x="1399.16" y="2704.5" font-size="33.8" text-anchor="middle" fill="#262626" >Apr</text>
<text x="1642" y="2704.5" font-size="33.8" text-anchor="middle" fill="#262626" >Jul</text>
<text x="1891.5" y="2704.5" font-size="33.8" text-anchor="middle" fill="#262626" >Oct</text>
<text x="2239.5" y="2470.88" font-size="29" text-anchor="start" fill="#262626" >0.5</text>
<text x="2239.5" y="2571.13" font-size="29" text-anchor="start" fill="#262626" >0</text>
<text x="2239.5" y="2671.38" font-size="29" text-anchor="start" fill="#262626" >-0.5</text>
<text transform="translate(2337.42 2558.75) rotate(-90)" font-size="32.5" text-anchor="middle" fill="#262626" >u [m/s]</text>
<rect x="185.5" y="2735.2" width="1949" height="201.5" fill="none" stroke="#9a9a9a" stroke-width="1" opacity="0.55"/>
<text x="175" y="2749.6" font-size="33.8" text-anchor="end" fill="#262626" >0</text>
<text x="175" y="2814.85" font-size="33.8" text-anchor="end" fill="#262626" >50</text>
<text x="175" y="2880.1" font-size="33.8" text-anchor="end" fill="#262626" >100</text>
<text x="175" y="2945.35" font-size="33.8" text-anchor="end" fill="#262626" >150</text>
<text transform="translate(101.72 2834.95) rotate(-90)" font-size="37.5" text-anchor="middle" fill="#262626" >Depth [m]</text>
<text x="425.164" y="2981.7" font-size="33.8" text-anchor="middle" fill="#262626" >Apr</text>
<text x="667.997" y="2981.7" font-size="33.8" text-anchor="middle" fill="#262626" >Jul</text>
<text x="913.499" y="2981.7" font-size="33.8" text-anchor="middle" fill="#262626" >Oct</text>
<text x="1159" y="2981.7" font-size="33.8" text-anchor="middle" fill="#262626" >Jan</text>
<text x="1399.16" y="2981.7" font-size="33.8" text-anchor="middle" fill="#262626" >Apr</text>
<text x="1642" y="2981.7" font-size="33.8" text-anchor="middle" fill="#262626" >Jul</text>
<text x="1891.5" y="2981.7" font-size="33.8" text-anchor="middle" fill="#262626" >Oct</text>
<text x="2239.5" y="2785.58" font-size="29" text-anchor="start" fill="#262626" >35</text>
<text x="2239.5" y="2842.58" font-size="29" text-anchor="start" fill="#262626" >34.5</text>
<text x="2239.5" y="2899.58" font-size="29" text-anchor="start" fill="#262626" >34</text>
<text transform="translate(2342.42 2835.95) rotate(-90)" font-size="32.5" text-anchor="middle" fill="#262626" >S [PSU]</text>
<rect x="185.5" y="3013.2" width="1949" height="201.5" fill="none" stroke="#9a9a9a" stroke-width="1" opacity="0.55"/>
<line x1="186" y1="3013.4" x2="206" y2="3013.4" stroke="#333" stroke-width="1.6"/>
<text x="175" y="3027.6" font-size="33.8" text-anchor="end" fill="#262626" >0</text>
<text x="175" y="3092.85" font-size="33.8" text-anchor="end" fill="#262626" >50</text>
<text x="175" y="3158.1" font-size="33.8" text-anchor="end" fill="#262626" >100</text>
<text x="175" y="3223.35" font-size="33.8" text-anchor="end" fill="#262626" >150</text>
<text transform="translate(101.72 3112.95) rotate(-90)" font-size="37.5" text-anchor="middle" fill="#262626" >Depth [m]</text>
<text x="425.164" y="3259.7" font-size="33.8" text-anchor="middle" fill="#262626" >Apr</text>
<text x="667.997" y="3259.7" font-size="33.8" text-anchor="middle" fill="#262626" >Jul</text>
<text x="913.499" y="3259.7" font-size="33.8" text-anchor="middle" fill="#262626" >Oct</text>
<text x="1159" y="3259.7" font-size="33.8" text-anchor="middle" fill="#262626" >Jan</text>
<text x="1399.16" y="3259.7" font-size="33.8" text-anchor="middle" fill="#262626" >Apr</text>
<text x="1642" y="3259.7" font-size="33.8" text-anchor="middle" fill="#262626" >Jul</text>
<text x="1891.5" y="3259.7" font-size="33.8" text-anchor="middle" fill="#262626" >Oct</text>
<text x="2239.5" y="3026.08" font-size="29" text-anchor="start" fill="#262626" >15</text>
<text x="2239.5" y="3126.33" font-size="29" text-anchor="start" fill="#262626" >10</text>
<text x="2239.5" y="3226.58" font-size="29" text-anchor="start" fill="#262626" >5</text>
<text transform="translate(2333.42 3122.95) rotate(-90)" font-size="32.5" text-anchor="middle" fill="#262626" >T [<tspan font-size="21" dy="-13" dx="5">&#176;</tspan><tspan dy="13">C]</tspan></text>
<rect x="185.5" y="3291.2" width="1949" height="201.5" fill="none" stroke="#9a9a9a" stroke-width="1" opacity="0.55"/>
<line x1="186" y1="3291.4" x2="206" y2="3291.4" stroke="#333" stroke-width="1.6"/>
<text x="175" y="3305.6" font-size="33.8" text-anchor="end" fill="#262626" >0</text>
<text x="175" y="3370.85" font-size="33.8" text-anchor="end" fill="#262626" >50</text>
<text x="175" y="3436.1" font-size="33.8" text-anchor="end" fill="#262626" >100</text>
<text x="175" y="3501.35" font-size="33.8" text-anchor="end" fill="#262626" >150</text>
<text transform="translate(101.72 3390.95) rotate(-90)" font-size="37.5" text-anchor="middle" fill="#262626" >Depth [m]</text>
<text x="425.164" y="3537.7" font-size="33.8" text-anchor="middle" fill="#262626" >Apr</text>
<text x="667.997" y="3537.7" font-size="33.8" text-anchor="middle" fill="#262626" >Jul</text>
<text x="913.499" y="3537.7" font-size="33.8" text-anchor="middle" fill="#262626" >Oct</text>
<text x="1159" y="3537.7" font-size="33.8" text-anchor="middle" fill="#262626" >Jan</text>
<text x="1399.16" y="3537.7" font-size="33.8" text-anchor="middle" fill="#262626" >Apr</text>
<text x="1642" y="3537.7" font-size="33.8" text-anchor="middle" fill="#262626" >Jul</text>
<text x="1891.5" y="3537.7" font-size="33.8" text-anchor="middle" fill="#262626" >Oct</text>
<text x="2239.5" y="3380.08" font-size="29" text-anchor="start" fill="#262626" >0.05</text>
<text x="2239.5" y="3504.58" font-size="29" text-anchor="start" fill="#262626" >0</text>
<text transform="translate(2354.42 3389.95) rotate(-90)" font-size="32.5" text-anchor="middle" fill="#262626" >EKE [m<tspan font-size="22" dy="-13">2</tspan><tspan dy="13">/s</tspan><tspan font-size="22" dy="-13">2</tspan><tspan dy="13">]</tspan></text>
<text x="27" y="675.5" font-size="64" text-anchor="start" fill="#000" letter-spacing="-4">(A)</text>
<text x="22" y="967.5" font-size="64" text-anchor="start" fill="#000" letter-spacing="-4">(B)</text>
<text x="27" y="1245.5" font-size="64" text-anchor="start" fill="#000" letter-spacing="-4">(C)</text>
<text x="27" y="1523.5" font-size="64" text-anchor="start" fill="#000" letter-spacing="-4">(D)</text>
<text x="27" y="1800.5" font-size="64" text-anchor="start" fill="#000" letter-spacing="-4">(E)</text>
<text x="22" y="2157.5" font-size="64" text-anchor="start" fill="#000" letter-spacing="-4">(F)</text>
<text x="22" y="2439" font-size="64" text-anchor="start" fill="#000" letter-spacing="-4">(G)</text>
<text x="22" y="2722.5" font-size="64" text-anchor="start" fill="#000" letter-spacing="-4">(H)</text>
<text x="22" y="3002.5" font-size="64" text-anchor="start" fill="#000" letter-spacing="-4">(I)</text>
<text x="27" y="3280" font-size="64" text-anchor="start" fill="#000" letter-spacing="-4">(J)</text>
<text x="276" y="669.5" font-size="54" text-anchor="start" fill="#000" font-weight="bold" font-style="italic">T2.2</text>
<text x="283" y="2157" font-size="54" text-anchor="start" fill="#000" font-weight="bold" font-style="italic">T1.2</text>
<g fill="none" stroke="#000">
<rect x="212.7" y="224" width="430" height="296" stroke-width="7.5" stroke-dasharray="22.3 13.5" stroke-dashoffset="4"/>
<rect x="769.4" y="223.8" width="411" height="296.3" stroke-width="8" stroke-dasharray="70.5 26.5 9 26.5"/>
<rect x="1314" y="224" width="343" height="296" stroke-width="8.5" stroke-dasharray="9.2 9.3" stroke-dashoffset="4"/>
</g>
<text x="243" y="289" font-size="49" text-anchor="start" fill="#000" textLength="297.7" lengthAdjust="spacingAndGlyphs">Strong north-</text>
<text x="243" y="354.7" font-size="49" text-anchor="start" fill="#000" textLength="296" lengthAdjust="spacingAndGlyphs">easterly wind</text>
<text x="243" y="420.4" font-size="49" text-anchor="start" fill="#000" textLength="289.4" lengthAdjust="spacingAndGlyphs">events at Ska</text>
<text x="243" y="486.1" font-size="49" text-anchor="start" fill="#000" textLength="131" lengthAdjust="spacingAndGlyphs">(WS1)</text>
<text x="799.5" y="289" font-size="49" text-anchor="start" fill="#000" textLength="143" lengthAdjust="spacingAndGlyphs">Strong</text>
<text x="799.5" y="354.7" font-size="49" text-anchor="start" fill="#000" textLength="209" lengthAdjust="spacingAndGlyphs">southerly</text>
<text x="799.5" y="420.4" font-size="49" text-anchor="start" fill="#000" textLength="287.8" lengthAdjust="spacingAndGlyphs">winds at 60N</text>
<text x="799.5" y="486.1" font-size="49" text-anchor="start" fill="#000" textLength="129" lengthAdjust="spacingAndGlyphs">(WS2)</text>
<text x="1344.5" y="289" font-size="49" text-anchor="start" fill="#000" textLength="143" lengthAdjust="spacingAndGlyphs">Strong</text>
<text x="1344.5" y="354.7" font-size="49" text-anchor="start" fill="#000" textLength="160.4" lengthAdjust="spacingAndGlyphs">northly</text>
<text x="1344.5" y="420.4" font-size="49" text-anchor="start" fill="#000" textLength="185.2" lengthAdjust="spacingAndGlyphs">winds at</text>
<text x="1344.5" y="486.1" font-size="49" text-anchor="start" fill="#000" textLength="234.9" lengthAdjust="spacingAndGlyphs">60N (WS3)</text>
<g id="map">
<polygon points="2153.9,5.9 2174.5,48 2138.2,100 2140.2,137.2 2151,248.8 2164.7,274.3 2169.6,290 2197,334 2164.7,391.9 2178.4,453.6 2248.9,442.4 2201.9,499.6 2192,575.3 2404,575.3 2404,5.9" fill="#a6a6a6"/>
<g stroke="#9c9c9c" stroke-width="1.3" stroke-dasharray="1.3 3.2" fill="none" opacity="0.75">
<path d="M1828 122 L2404 147"/>
<path d="M1828 301.5 L2404 330"/>
<path d="M1828 483.4 L2404 510"/>
<path d="M1887.6 7 L1843 575"/>
<path d="M2064.5 7 L2037.7 575"/>
</g>
<g stroke="#6e6e6e" stroke-width="1.3" stroke-dasharray="1.3 3.2" fill="none" opacity="0.8">
<path d="M2240 7 L2232 575"/>
</g>
<g stroke="#3c3c3c" stroke-width="1.5" fill="none" stroke-linejoin="miter">
<path d="M1859.6 6.4 L1881 19"/>
<path d="M1928.3 57.3 L2012.3 164 L2050.5 6.4"/>
<path d="M1839.3 68.2 L1899 124.7"/>
<path d="M1938.5 174.3 L1965.2 218.8 L1974 290 L1984.3 400.7 L2026.3 501.2 L2036.5 533 L2054.8 575.3"/>
<path d="M2092 11.5 L2082.8 45.8 L2102.6 162.8 L2108.2 290 L2110.5 410 L2124.5 542.7"/>
<path d="M2126.8 6.4 L2114.6 47 L2119.2 152.7 L2131.5 290 L2141 408 L2174.5 503.6"/>
<path d="M2148.4 6.4 L2132.6 47 L2138.2 142.5 L2154 290 L2160.7 332"/>
<path d="M2165.6 366.4 L2170.5 386"/>
<path d="M2187.2 453.6 L2200.9 507.5"/>
<path d="M1863.4 508.3 L1897.8 515.2 L1913 572.4"/>
</g>
<text transform="translate(1905 38) rotate(36)" font-size="27" text-anchor="middle" fill="#3c3c3c" dy="9.72" letter-spacing="2.5">-300</text>
<text transform="translate(1920 150) rotate(50)" font-size="27" text-anchor="middle" fill="#3c3c3c" dy="9.72" letter-spacing="2.5">-200</text>
<text transform="translate(2161 349) rotate(78)" font-size="24" text-anchor="middle" fill="#3c3c3c" dy="8.64" letter-spacing="0">0</text>
<text transform="translate(2186 545) rotate(60)" font-size="24" text-anchor="middle" fill="#3c3c3c" dy="8.64" letter-spacing="0">100</text>
<text transform="translate(2128 566) rotate(76)" font-size="24" text-anchor="middle" fill="#3c3c3c" dy="8.64" letter-spacing="0">200</text>
<rect x="1815" y="575.6" width="593" height="30" fill="#fff"/>
<rect x="1820.2" y="6" width="8.2" height="569.5" fill="#4d4d4d"/>
<rect x="1824" y="117.5" width="11.5" height="7" fill="#4d4d4d"/>
<rect x="1824" y="298" width="11.5" height="7" fill="#4d4d4d"/>
<rect x="1824" y="478.5" width="11.5" height="7" fill="#4d4d4d"/>
<text x="1809" y="133.5" font-size="43.5" text-anchor="end" fill="#595959">61&#176;N</text>
<text x="1809" y="314.5" font-size="43.5" text-anchor="end" fill="#595959">60&#176;N</text>
<text x="1809" y="495.5" font-size="43.5" text-anchor="end" fill="#595959">59&#176;N</text>
<rect x="1911.8" y="101.65" width="11.5" height="10.5" fill="#000"/>
<rect x="1935.54" y="102.217" width="11.5" height="10.5" fill="#000"/>
<rect x="1959.29" y="102.783" width="11.5" height="10.5" fill="#000"/>
<rect x="1983.03" y="103.35" width="11.5" height="10.5" fill="#000"/>
<rect x="2006.78" y="103.917" width="11.5" height="10.5" fill="#000"/>
<rect x="2030.52" y="104.483" width="11.5" height="10.5" fill="#000"/>
<rect x="2054.27" y="105.05" width="11.5" height="10.5" fill="#000"/>
<rect x="2078.01" y="105.617" width="11.5" height="10.5" fill="#000"/>
<rect x="2101.76" y="106.183" width="11.5" height="10.5" fill="#000"/>
<rect x="2125.5" y="106.75" width="11.5" height="10.5" fill="#000"/>
<rect x="2040.3" y="89" width="11" height="47" fill="#000"/>
<rect x="1900.3" y="501.05" width="11.5" height="10.5" fill="#000"/>
<rect x="1923.97" y="501.95" width="11.5" height="10.5" fill="#000"/>
<rect x="1947.65" y="502.85" width="11.5" height="10.5" fill="#000"/>
<rect x="1971.32" y="503.75" width="11.5" height="10.5" fill="#000"/>
<rect x="1994.99" y="504.65" width="11.5" height="10.5" fill="#000"/>
<rect x="2018.66" y="505.55" width="11.5" height="10.5" fill="#000"/>
<rect x="2042.34" y="506.45" width="11.5" height="10.5" fill="#000"/>
<rect x="2066.01" y="507.35" width="11.5" height="10.5" fill="#000"/>
<rect x="2089.68" y="508.25" width="11.5" height="10.5" fill="#000"/>
<rect x="2113.35" y="509.15" width="11.5" height="10.5" fill="#000"/>
<rect x="2137.03" y="510.05" width="11.5" height="10.5" fill="#000"/>
<rect x="2160.7" y="510.95" width="11.5" height="10.5" fill="#000"/>
<rect x="2025" y="489.2" width="11" height="43" fill="#000"/>
<polygon points="1899,139.7 1925,128.2 1925,136.4 2008,136.4 2008,128.2 2034,139.7 2008,151.2 2008,143 1925,143 1925,151.2" fill="#1fa650"/>
<polygon points="1894,533.5 1920,522 1920,530.2 2001.6,530.2 2001.6,522 2027.6,533.5 2001.6,545 2001.6,536.8 1920,536.8 1920,545" fill="#1fa650"/>
<text transform="translate(2156 133.5) rotate(3.7)" font-size="54" font-weight="bold" font-style="italic" fill="#000">T2.2</text>
<text transform="translate(2222 541) rotate(5)" font-size="54" font-weight="bold" font-style="italic" fill="#000">T1.2</text>
</g>
<path d="M186.0 1304.9 L188.5 1299.8 L191.0 1289.4 L193.5 1279.1 L196.0 1269.2 L198.5 1269.0 L201.0 1268.2 L203.5 1266.8 L206.0 1267.9 L208.5 1267.6 L211.0 1268.4 L213.5 1270.3 L216.0 1272.5 L218.5 1273.8 L221.0 1275.3 L223.5 1276.2 L226.0 1280.9 L228.5 1279.6 L231.0 1276.0 L233.5 1271.9 L236.0 1271.3 L238.5 1268.6 L241.0 1266.6 L243.5 1267.2 L246.0 1267.0 L248.5 1266.6 L251.0 1267.6 L253.5 1267.7 L256.0 1270.8 L258.5 1270.7 L261.0 1269.8 L263.5 1270.0 L266.0 1267.9 L268.5 1267.9 L271.0 1266.0 L273.5 1265.8 L276.0 1269.2 L278.5 1275.4 L281.0 1279.7 L283.5 1280.2 L286.0 1282.6 L288.5 1283.3 L291.0 1285.2 L293.5 1284.0 L296.0 1281.8 L298.5 1280.4 L301.0 1283.4 L303.5 1284.3 L306.0 1279.5 L308.5 1276.8 L311.0 1277.4 L313.5 1274.2 L316.0 1275.3 L318.5 1277.9 L321.0 1279.8 L323.5 1281.4 L326.0 1283.8 L328.5 1291.3 L331.0 1296.0 L333.5 1303.8 L336.0 1307.2 L338.5 1311.1 L341.0 1313.4 L343.5 1312.8 L346.0 1302.0 L348.5 1293.8 L351.0 1288.3 L353.5 1286.9 L356.0 1286.6 L358.5 1286.8 L361.0 1296.1 L363.5 1297.7 L366.0 1304.9 L368.5 1315.8 L371.0 1322.4 L373.5 1323.3 L376.0 1320.8 L378.5 1318.6 L381.1 1312.7 L383.6 1312.5 L386.1 1322.2 L388.6 1327.8 L391.1 1319.9 L393.6 1309.0 L396.1 1304.9 L398.6 1302.7 L401.1 1294.9 L403.6 1283.9 L406.1 1275.2 L408.6 1270.2 L411.1 1273.5 L413.6 1277.0 L416.1 1277.6 L418.6 1278.3 L421.1 1278.9 L423.6 1281.7 L426.1 1284.9 L428.6 1282.6 L431.1 1279.6 L433.6 1278.4 L436.1 1277.8 L438.6 1279.2 L441.1 1278.7 L443.6 1276.3 L446.1 1277.7 L448.6 1276.7 L451.1 1275.6 L453.6 1272.1 L456.1 1269.7 L458.6 1265.3 L461.1 1262.0 L463.6 1259.0 L466.1 1260.3 L468.6 1261.5 L471.1 1262.3 L473.6 1263.5 L476.1 1262.9 L478.6 1262.1 L481.1 1261.6 L483.6 1261.4 L486.1 1260.7 L488.6 1261.1 L491.1 1262.1 L493.6 1262.7 L496.1 1263.3 L498.6 1263.8 L501.1 1262.7 L503.6 1261.7 L506.1 1260.7 L508.6 1259.5 L511.1 1259.0 L513.6 1260.7 L516.1 1262.3 L518.6 1264.1 L521.1 1263.5 L523.6 1262.1 L526.1 1261.4 L528.6 1259.8 L531.1 1259.4 L533.6 1259.7 L536.1 1259.5 L538.6 1259.5 L541.1 1259.2 L543.6 1258.9 L546.1 1258.7 L548.6 1258.8 L551.1 1258.7 L553.6 1258.5 L556.1 1258.4 L558.6 1258.1 L561.1 1258.2 L563.6 1257.8 L566.1 1258.0 L568.6 1258.2 L571.1 1258.3 L573.6 1258.1 L576.1 1257.4 L578.6 1257.6 L581.1 1257.7 L583.6 1257.5 L586.1 1257.0 L588.6 1257.1 L591.1 1257.2 L593.6 1256.5 L596.1 1256.7 L598.6 1256.7 L601.1 1256.3 L603.6 1256.3 L606.1 1256.7 L608.6 1257.6 L611.1 1258.5 L613.6 1259.6 L616.1 1260.5 L618.6 1260.2 L621.1 1259.2 L623.6 1258.8 L626.1 1258.4 L628.6 1257.6 L631.1 1257.2 L633.6 1257.5 L636.1 1257.4 L638.6 1257.5 L641.1 1257.6 L643.6 1257.8 L646.1 1257.5 L648.6 1257.0 L651.1 1257.1 L653.6 1257.5 L656.1 1257.5 L658.6 1257.7 L661.1 1257.6 L663.6 1257.4 L666.1 1257.6 L668.6 1257.2 L671.1 1257.1 L673.6 1257.7 L676.1 1257.2 L678.6 1257.6 L681.1 1257.8 L683.6 1257.7 L686.1 1257.4 L688.6 1257.9 L691.1 1257.6 L693.6 1257.6 L696.1 1258.0 L698.6 1258.4 L701.1 1258.5 L703.6 1258.6 L706.1 1258.5 L708.6 1258.5 L711.1 1258.4 L713.6 1258.5 L716.1 1258.6 L718.6 1258.4 L721.1 1258.3 L723.6 1258.0 L726.1 1257.9 L728.6 1257.9 L731.1 1257.9 L733.6 1257.9 L736.1 1257.8 L738.6 1258.0 L741.1 1257.5 L743.6 1257.4 L746.1 1257.4 L748.6 1257.8 L751.1 1258.0 L753.6 1257.8 L756.1 1258.1 L758.6 1258.3 L761.1 1258.3 L763.6 1258.3 L766.1 1258.7 L768.6 1258.7 L771.2 1258.8 L773.7 1259.0 L776.2 1258.9 L778.7 1258.4 L781.2 1258.2 L783.7 1258.3 L786.2 1258.0 L788.7 1257.7 L791.2 1258.1 L793.7 1258.0 L796.2 1257.9 L798.7 1257.5 L801.2 1257.8 L803.7 1257.4 L806.2 1257.2 L808.7 1256.9 L811.2 1257.0 L813.7 1257.0 L816.2 1256.9 L818.7 1257.0 L821.2 1256.9 L823.7 1256.9 L826.2 1256.5 L828.7 1256.2 L831.2 1256.3 L833.7 1256.5 L836.2 1256.6 L838.7 1256.4 L841.2 1255.9 L843.7 1256.3 L846.2 1256.6 L848.7 1256.3 L851.2 1256.1 L853.7 1256.2 L856.2 1256.2 L858.7 1256.3 L861.2 1256.3 L863.7 1256.6 L866.2 1256.6 L868.7 1258.0 L871.2 1260.0 L873.7 1261.8 L876.2 1262.7 L878.7 1263.3 L881.2 1263.7 L883.7 1266.0 L886.2 1265.3 L888.7 1263.8 L891.2 1263.6 L893.7 1264.1 L896.2 1264.2 L898.7 1263.3 L901.2 1262.5 L903.7 1261.3 L906.2 1260.6 L908.7 1260.3 L911.2 1260.4 L913.7 1260.6 L916.2 1261.1 L918.7 1261.0 L921.2 1263.3 L923.7 1266.6 L926.2 1269.8 L928.7 1270.9 L931.2 1272.5 L933.7 1271.7 L936.2 1272.8 L938.7 1272.0 L941.2 1269.7 L943.7 1270.2 L946.2 1269.8 L948.7 1269.2 L951.2 1270.1 L953.7 1271.5 L956.2 1269.9 L958.7 1267.2 L961.2 1265.6 L963.7 1263.7 L966.2 1262.6 L968.7 1261.3 L971.2 1260.0 L973.7 1259.2 L976.2 1260.0 L978.7 1260.7 L981.2 1261.8 L983.7 1263.5 L986.2 1264.6 L988.7 1264.9 L991.2 1264.8 L993.7 1265.3 L996.2 1266.9 L998.7 1268.3 L1001.2 1269.3 L1003.7 1273.8 L1006.2 1276.2 L1008.7 1276.9 L1011.2 1277.4 L1013.7 1278.3 L1016.2 1277.3 L1018.7 1276.8 L1021.2 1276.4 L1023.7 1273.2 L1026.2 1272.3 L1028.7 1269.5 L1031.2 1269.4 L1033.7 1269.1 L1036.2 1277.4 L1038.7 1281.6 L1041.2 1285.2 L1043.7 1288.8 L1046.2 1290.6 L1048.7 1294.8 L1051.2 1300.9 L1053.7 1305.9 L1056.2 1308.8 L1058.7 1301.1 L1061.2 1304.7 L1063.7 1301.7 L1066.2 1293.6 L1068.7 1287.7 L1071.2 1292.0 L1073.7 1295.8 L1076.2 1294.9 L1078.7 1304.2 L1081.2 1308.9 L1083.7 1312.2 L1086.2 1317.0 L1088.7 1313.6 L1091.2 1305.6 L1093.7 1302.1 L1096.2 1299.1 L1098.7 1297.9 L1101.2 1300.0 L1103.7 1303.7 L1106.2 1302.5 L1108.7 1301.8 L1111.2 1308.9 L1113.7 1307.2 L1116.2 1311.7 L1118.7 1313.8 L1121.2 1306.1 L1123.7 1299.9 L1126.2 1300.7 L1128.7 1308.0 L1131.2 1308.3 L1133.7 1314.4 L1136.2 1320.2 L1138.7 1327.3 L1141.2 1337.2 L1143.7 1345.4 L1146.2 1338.9 L1148.7 1327.5 L1151.2 1320.6 L1153.7 1313.5 L1156.2 1306.0 L1158.7 1295.0 L1161.3 1293.0 L1163.8 1298.4 L1166.3 1298.8 L1168.8 1300.9 L1171.3 1301.8 L1173.8 1307.2 L1176.3 1302.9 L1178.8 1300.7 L1181.3 1305.5 L1183.8 1305.7 L1186.3 1304.2 L1188.8 1305.8 L1191.3 1302.4 L1193.8 1307.2 L1196.3 1307.6 L1198.8 1304.5 L1201.3 1309.8 L1203.8 1306.3 L1206.3 1307.5 L1208.8 1305.3 L1211.3 1307.9 L1213.8 1307.3 L1216.3 1299.5 L1218.8 1292.7 L1221.3 1292.8 L1223.8 1292.8 L1226.3 1289.2 L1228.8 1287.4 L1231.3 1286.8 L1233.8 1280.6 L1236.3 1282.1 L1238.8 1281.6 L1241.3 1283.4 L1243.8 1284.0 L1246.3 1285.1 L1248.8 1287.9 L1251.3 1288.6 L1253.8 1293.6 L1256.3 1295.3 L1258.8 1301.6 L1261.3 1308.8 L1263.8 1314.1 L1266.3 1304.9 L1268.8 1297.4 L1271.3 1287.8 L1273.8 1281.6 L1276.3 1281.6 L1278.8 1280.9 L1281.3 1285.5 L1283.8 1288.9 L1286.3 1292.5 L1288.8 1299.3 L1291.3 1303.4 L1293.8 1290.5 L1296.3 1285.1 L1298.8 1280.7 L1301.3 1279.5 L1303.8 1277.0 L1306.3 1274.7 L1308.8 1270.0 L1311.3 1270.2 L1313.8 1269.6 L1316.3 1269.3 L1318.8 1268.0 L1321.3 1267.3 L1323.8 1267.8 L1326.3 1267.5 L1328.8 1264.6 L1331.3 1265.1 L1333.8 1265.2 L1336.3 1265.3 L1338.8 1265.4 L1341.3 1265.2 L1343.8 1266.1 L1346.3 1267.8 L1348.8 1268.9 L1351.3 1268.9 L1353.8 1268.8 L1356.3 1270.1 L1358.8 1270.9 L1361.3 1271.0 L1363.8 1269.6 L1366.3 1268.0 L1368.8 1267.3 L1371.3 1269.5 L1373.8 1274.3 L1376.3 1277.6 L1378.8 1277.4 L1381.3 1275.2 L1383.8 1269.5 L1386.3 1267.9 L1388.8 1265.7 L1391.3 1263.1 L1393.8 1263.4 L1396.3 1263.6 L1398.8 1264.1 L1401.3 1266.7 L1403.8 1271.4 L1406.3 1275.8 L1408.8 1280.8 L1411.3 1284.6 L1413.8 1281.2 L1416.3 1275.6 L1418.8 1271.2 L1421.3 1269.0 L1423.8 1273.1 L1426.3 1277.2 L1428.8 1278.4 L1431.3 1280.2 L1433.8 1287.3 L1436.3 1280.9 L1438.8 1267.7 L1441.3 1263.6 L1443.8 1259.9 L1446.3 1260.1 L1448.8 1260.6 L1451.3 1260.7 L1453.8 1262.4 L1456.3 1266.7 L1458.8 1269.6 L1461.3 1271.0 L1463.8 1272.4 L1466.3 1272.8 L1468.8 1269.0 L1471.3 1266.4 L1473.8 1263.2 L1476.3 1260.9 L1478.8 1259.5 L1481.3 1259.6 L1483.8 1259.7 L1486.3 1259.7 L1488.8 1260.2 L1491.3 1259.8 L1493.8 1259.8 L1496.3 1260.1 L1498.8 1260.8 L1501.3 1261.3 L1503.8 1261.4 L1506.3 1262.0 L1508.8 1262.5 L1511.3 1262.0 L1513.8 1261.1 L1516.3 1260.0 L1518.8 1259.2 L1521.3 1258.7 L1523.8 1259.0 L1526.3 1259.9 L1528.8 1260.2 L1531.3 1260.4 L1533.8 1261.0 L1536.3 1260.8 L1538.8 1260.7 L1541.3 1260.6 L1543.8 1259.8 L1546.3 1259.5 L1548.8 1259.5 L1551.4 1259.0 L1553.9 1258.6 L1556.4 1258.1 L1558.9 1257.5 L1561.4 1257.5 L1563.9 1257.1 L1566.4 1257.1 L1568.9 1256.9 L1571.4 1256.8 L1573.9 1257.1 L1576.4 1256.9 L1578.9 1256.3 L1581.4 1256.4 L1583.9 1256.7 L1586.4 1256.8 L1588.9 1256.4 L1591.4 1256.2 L1593.9 1256.1 L1596.4 1256.8 L1598.9 1256.5 L1601.4 1256.5 L1603.9 1256.5 L1606.4 1256.5 L1608.9 1256.4 L1611.4 1256.2 L1613.9 1256.4 L1616.4 1256.4 L1618.9 1256.5 L1621.4 1256.1 L1623.9 1256.1 L1626.4 1256.4 L1628.9 1256.6 L1631.4 1256.3 L1633.9 1256.1 L1636.4 1256.1 L1638.9 1256.2 L1641.4 1256.7 L1643.9 1256.6 L1646.4 1256.6 L1648.9 1256.3 L1651.4 1256.2 L1653.9 1256.6 L1656.4 1256.7 L1658.9 1256.5 L1661.4 1256.3 L1663.9 1256.5 L1666.4 1256.2 L1668.9 1256.3 L1671.4 1256.0 L1673.9 1256.0 L1676.4 1256.3 L1678.9 1256.4 L1681.4 1256.7 L1683.9 1256.3 L1686.4 1256.1 L1688.9 1255.8 L1691.4 1255.6 L1693.9 1255.7 L1696.4 1256.2 L1698.9 1256.0 L1701.4 1256.5 L1703.9 1256.6 L1706.4 1256.3 L1708.9 1256.6 L1711.4 1256.4 L1713.9 1256.5 L1716.4 1256.3 L1718.9 1256.4 L1721.4 1256.1 L1723.9 1256.4 L1726.4 1256.4 L1728.9 1256.6 L1731.4 1256.9 L1733.9 1256.9 L1736.4 1257.0 L1738.9 1257.3 L1741.4 1257.4 L1743.9 1257.1 L1746.4 1257.8 L1748.9 1259.1 L1751.4 1260.2 L1753.9 1261.6 L1756.4 1262.5 L1758.9 1264.4 L1761.4 1264.9 L1763.9 1263.2 L1766.4 1261.4 L1768.9 1259.2 L1771.4 1257.5 L1773.9 1256.9 L1776.4 1256.7 L1778.9 1256.3 L1781.4 1256.4 L1783.9 1256.5 L1786.4 1256.4 L1788.9 1256.4 L1791.4 1256.0 L1793.9 1255.9 L1796.4 1256.1 L1798.9 1256.3 L1801.4 1256.3 L1803.9 1256.3 L1806.4 1256.4 L1808.9 1256.2 L1811.4 1256.3 L1813.9 1256.5 L1816.4 1256.2 L1818.9 1256.5 L1821.4 1256.9 L1823.9 1256.8 L1826.4 1256.8 L1828.9 1256.8 L1831.4 1257.2 L1833.9 1256.5 L1836.4 1256.6 L1838.9 1257.0 L1841.4 1257.6 L1843.9 1257.6 L1846.4 1257.5 L1848.9 1258.1 L1851.4 1259.2 L1853.9 1259.9 L1856.4 1260.4 L1858.9 1260.9 L1861.4 1262.0 L1863.9 1263.5 L1866.4 1264.7 L1868.9 1265.2 L1871.4 1265.1 L1873.9 1264.7 L1876.4 1265.7 L1878.9 1265.7 L1881.4 1266.6 L1883.9 1267.1 L1886.4 1266.6 L1888.9 1266.7 L1891.4 1267.8 L1893.9 1267.3 L1896.4 1265.9 L1898.9 1264.4 L1901.4 1265.8 L1903.9 1267.0 L1906.4 1267.6 L1908.9 1266.7 L1911.4 1266.9 L1913.9 1268.5 L1916.4 1270.6 L1918.9 1270.5 L1921.4 1271.8 L1923.9 1271.9 L1926.4 1272.8 L1928.9 1271.9 L1931.4 1272.7 L1933.9 1271.1 L1936.4 1270.0 L1938.9 1269.5 L1941.5 1268.6 L1944.0 1266.3 L1946.5 1266.8 L1949.0 1268.1 L1951.5 1269.2 L1954.0 1271.9 L1956.5 1273.0 L1959.0 1275.1 L1961.5 1274.7 L1964.0 1275.9 L1966.5 1280.9 L1969.0 1284.5 L1971.5 1284.5 L1974.0 1285.9 L1976.5 1285.0 L1979.0 1285.0 L1981.5 1290.0 L1984.0 1295.1 L1986.5 1290.3 L1989.0 1292.8 L1991.5 1293.0 L1994.0 1300.7 L1996.5 1305.0 L1999.0 1302.1 L2001.5 1306.5 L2004.0 1313.3 L2006.5 1312.8 L2009.0 1312.0 L2011.5 1313.1 L2014.0 1311.0 L2016.5 1315.7 L2019.0 1315.0 L2021.5 1320.6 L2024.0 1323.0 L2026.5 1326.3 L2029.0 1336.5 L2031.5 1346.0 L2034.0 1326.4 L2036.5 1309.3 L2039.0 1291.6 L2041.5 1288.2 L2044.0 1278.1 L2046.5 1271.6 L2049.0 1271.3 L2051.5 1270.7 L2054.0 1269.0 L2056.5 1265.8 L2059.0 1264.2 L2061.5 1265.9 L2064.0 1270.5 L2066.5 1274.3 L2069.0 1278.0 L2071.5 1283.9 L2074.0 1293.3 L2076.5 1292.9 L2079.0 1293.5 L2081.5 1291.3 L2084.0 1289.2 L2086.5 1281.7 L2089.0 1280.1 L2091.5 1277.4 L2094.0 1280.6 L2096.5 1284.6 L2099.0 1293.1 L2101.5 1299.8 L2104.0 1299.4 L2106.5 1291.9 L2109.0 1286.1 L2111.5 1283.4 L2114.0 1277.7 L2116.5 1272.1 L2119.0 1270.3 L2121.5 1268.8 L2124.0 1269.7 L2126.5 1269.0 L2129.0 1268.4 L2131.5 1268.3 L2134.0 1268.4" fill="none" stroke="#0a0a0a" stroke-width="1.7" stroke-linejoin="round"/>
<path d="M186.0 2852.8 L188.5 2850.8 L191.0 2840.4 L193.5 2839.0 L196.0 2843.5 L198.5 2859.6 L201.0 2860.1 L203.5 2858.4 L206.0 2853.0 L208.5 2850.1 L211.0 2849.3 L213.5 2857.9 L216.0 2850.3 L218.5 2846.4 L221.0 2844.8 L223.5 2846.2 L226.0 2851.2 L228.5 2850.5 L231.0 2848.4 L233.5 2844.2 L236.0 2842.3 L238.5 2839.7 L241.0 2842.0 L243.5 2846.5 L246.0 2847.9 L248.5 2856.9 L251.0 2863.1 L253.5 2866.8 L256.0 2863.6 L258.5 2859.9 L261.0 2862.3 L263.5 2857.1 L266.0 2853.8 L268.5 2850.9 L271.0 2846.6 L273.5 2842.4 L276.0 2848.9 L278.5 2850.2 L281.0 2854.4 L283.5 2856.4 L286.0 2857.3 L288.5 2861.7 L291.0 2862.3 L293.5 2861.2 L296.0 2860.1 L298.5 2862.1 L301.0 2863.3 L303.5 2856.9 L306.0 2845.0 L308.5 2849.6 L311.0 2839.6 L313.5 2834.8 L316.0 2836.7 L318.5 2833.3 L321.0 2838.0 L323.5 2834.7 L326.0 2827.2 L328.5 2827.2 L331.0 2836.1 L333.5 2844.2 L336.0 2851.6 L338.5 2863.9 L341.0 2859.8 L343.5 2855.0 L346.0 2849.3 L348.5 2848.0 L351.0 2843.5 L353.5 2836.0 L356.0 2839.8 L358.5 2832.5 L361.0 2835.3 L363.5 2841.2 L366.0 2845.4 L368.5 2852.4 L371.0 2853.2 L373.5 2840.6 L376.0 2836.6 L378.5 2828.7 L381.1 2821.1 L383.6 2814.7 L386.1 2795.3 L388.6 2795.6 L391.1 2813.9 L393.6 2826.5 L396.1 2839.4 L398.6 2832.8 L401.1 2814.3 L403.6 2789.2 L406.1 2769.2 L408.6 2762.4 L411.1 2765.1 L413.6 2766.3 L416.1 2769.5 L418.6 2781.4 L421.1 2797.3 L423.6 2801.3 L426.1 2805.7 L428.6 2815.9 L431.1 2815.4 L433.6 2820.0 L436.1 2825.2 L438.6 2825.1 L441.1 2824.4 L443.6 2819.9 L446.1 2816.4 L448.6 2813.1 L451.1 2797.1 L453.6 2786.3 L456.1 2793.1 L458.6 2799.7 L461.1 2779.2 L463.6 2767.1 L466.1 2766.8 L468.6 2762.4 L471.1 2760.0 L473.6 2759.4 L476.1 2755.6 L478.6 2753.0 L481.1 2752.0 L483.6 2750.8 L486.1 2750.1 L488.6 2752.1 L491.1 2755.4 L493.6 2756.4 L496.1 2757.9 L498.6 2759.9 L501.1 2758.3 L503.6 2755.9 L506.1 2756.1 L508.6 2758.4 L511.1 2758.8 L513.6 2758.2 L516.1 2760.0 L518.6 2762.3 L521.1 2759.8 L523.6 2761.6 L526.1 2760.3 L528.6 2761.0 L531.1 2764.4 L533.6 2768.5 L536.1 2770.0 L538.6 2766.6 L541.1 2764.3 L543.6 2759.5 L546.1 2756.8 L548.6 2757.9 L551.1 2758.4 L553.6 2760.1 L556.1 2758.4 L558.6 2754.0 L561.1 2753.4 L563.6 2754.8 L566.1 2756.2 L568.6 2756.9 L571.1 2760.3 L573.6 2764.5 L576.1 2768.5 L578.6 2768.4 L581.1 2769.8 L583.6 2767.8 L586.1 2761.7 L588.6 2759.7 L591.1 2760.6 L593.6 2760.6 L596.1 2758.2 L598.6 2757.9 L601.1 2757.8 L603.6 2758.7 L606.1 2757.0 L608.6 2754.3 L611.1 2753.8 L613.6 2757.6 L616.1 2760.0 L618.6 2765.2 L621.1 2768.0 L623.6 2766.6 L626.1 2764.8 L628.6 2766.3 L631.1 2763.9 L633.6 2760.1 L636.1 2757.0 L638.6 2757.8 L641.1 2757.7 L643.6 2758.0 L646.1 2759.6 L648.6 2762.3 L651.1 2762.8 L653.6 2763.1 L656.1 2758.8 L658.6 2758.9 L661.1 2758.8 L663.6 2756.7 L666.1 2759.7 L668.6 2758.1 L671.1 2759.9 L673.6 2763.4 L676.1 2761.2 L678.6 2765.4 L681.1 2764.6 L683.6 2765.3 L686.1 2768.2 L688.6 2769.6 L691.1 2771.1 L693.6 2767.2 L696.1 2763.5 L698.6 2760.0 L701.1 2759.0 L703.6 2758.3 L706.1 2763.3 L708.6 2766.1 L711.1 2768.2 L713.6 2766.3 L716.1 2761.4 L718.6 2761.7 L721.1 2762.3 L723.6 2765.4 L726.1 2770.7 L728.6 2773.6 L731.1 2770.6 L733.6 2767.1 L736.1 2764.3 L738.6 2760.4 L741.1 2759.9 L743.6 2759.8 L746.1 2756.9 L748.6 2757.9 L751.1 2761.8 L753.6 2763.0 L756.1 2764.0 L758.6 2765.5 L761.1 2765.5 L763.6 2760.9 L766.1 2758.8 L768.6 2758.5 L771.2 2755.9 L773.7 2754.1 L776.2 2752.4 L778.7 2751.8 L781.2 2752.0 L783.7 2751.6 L786.2 2751.7 L788.7 2755.0 L791.2 2757.2 L793.7 2757.5 L796.2 2759.0 L798.7 2761.0 L801.2 2758.7 L803.7 2759.2 L806.2 2761.5 L808.7 2763.7 L811.2 2765.9 L813.7 2764.9 L816.2 2760.9 L818.7 2763.0 L821.2 2761.7 L823.7 2759.0 L826.2 2760.4 L828.7 2759.8 L831.2 2760.1 L833.7 2762.3 L836.2 2766.9 L838.7 2766.0 L841.2 2768.7 L843.7 2772.1 L846.2 2772.0 L848.7 2775.1 L851.2 2778.9 L853.7 2782.8 L856.2 2777.5 L858.7 2780.0 L861.2 2777.4 L863.7 2771.1 L866.2 2769.2 L868.7 2774.8 L871.2 2781.0 L873.7 2788.9 L876.2 2792.2 L878.7 2788.8 L881.2 2788.1 L883.7 2784.1 L886.2 2777.2 L888.7 2774.6 L891.2 2780.8 L893.7 2782.9 L896.2 2780.9 L898.7 2782.7 L901.2 2786.7 L903.7 2779.1 L906.2 2773.7 L908.7 2779.7 L911.2 2784.7 L913.7 2787.9 L916.2 2788.3 L918.7 2792.4 L921.2 2787.0 L923.7 2787.6 L926.2 2790.6 L928.7 2788.1 L931.2 2783.9 L933.7 2792.6 L936.2 2792.4 L938.7 2789.3 L941.2 2792.7 L943.7 2791.2 L946.2 2786.5 L948.7 2783.1 L951.2 2783.4 L953.7 2787.6 L956.2 2785.1 L958.7 2781.5 L961.2 2773.6 L963.7 2778.1 L966.2 2778.7 L968.7 2784.0 L971.2 2788.5 L973.7 2782.3 L976.2 2780.8 L978.7 2778.6 L981.2 2779.6 L983.7 2778.9 L986.2 2776.1 L988.7 2774.1 L991.2 2769.2 L993.7 2775.4 L996.2 2784.5 L998.7 2788.6 L1001.2 2794.7 L1003.7 2792.3 L1006.2 2792.8 L1008.7 2792.9 L1011.2 2790.2 L1013.7 2796.8 L1016.2 2795.8 L1018.7 2800.4 L1021.2 2800.6 L1023.7 2803.0 L1026.2 2807.0 L1028.7 2806.3 L1031.2 2806.6 L1033.7 2811.6 L1036.2 2823.3 L1038.7 2823.0 L1041.2 2822.4 L1043.7 2827.7 L1046.2 2833.9 L1048.7 2825.2 L1051.2 2814.8 L1053.7 2812.8 L1056.2 2819.5 L1058.7 2822.9 L1061.2 2816.1 L1063.7 2816.4 L1066.2 2813.7 L1068.7 2824.2 L1071.2 2824.2 L1073.7 2824.6 L1076.2 2831.0 L1078.7 2837.2 L1081.2 2843.8 L1083.7 2846.9 L1086.2 2846.5 L1088.7 2844.2 L1091.2 2852.1 L1093.7 2858.7 L1096.2 2863.6 L1098.7 2862.9 L1101.2 2864.5 L1103.7 2872.0 L1106.2 2863.8 L1108.7 2857.5 L1111.2 2860.8 L1113.7 2863.7 L1116.2 2859.0 L1118.7 2852.9 L1121.2 2855.4 L1123.7 2854.7 L1126.2 2842.8 L1128.7 2844.1 L1131.2 2849.7 L1133.7 2853.0 L1136.2 2847.6 L1138.7 2843.5 L1141.2 2835.9 L1143.7 2838.4 L1146.2 2837.5 L1148.7 2839.0 L1151.2 2841.2 L1153.7 2835.4 L1156.2 2826.3 L1158.7 2820.3 L1161.3 2822.2 L1163.8 2826.5 L1166.3 2820.5 L1168.8 2806.6 L1171.3 2812.4 L1173.8 2822.5 L1176.3 2825.2 L1178.8 2826.2 L1181.3 2830.3 L1183.8 2829.4 L1186.3 2824.8 L1188.8 2816.7 L1191.3 2812.4 L1193.8 2806.7 L1196.3 2806.2 L1198.8 2801.2 L1201.3 2797.0 L1203.8 2798.1 L1206.3 2793.8 L1208.8 2796.5 L1211.3 2806.8 L1213.8 2819.4 L1216.3 2825.0 L1218.8 2836.4 L1221.3 2846.2 L1223.8 2831.4 L1226.3 2826.1 L1228.8 2828.5 L1231.3 2836.8 L1233.8 2837.0 L1236.3 2840.2 L1238.8 2837.7 L1241.3 2833.8 L1243.8 2828.5 L1246.3 2839.7 L1248.8 2845.0 L1251.3 2846.7 L1253.8 2840.5 L1256.3 2845.8 L1258.8 2848.1 L1261.3 2844.5 L1263.8 2842.9 L1266.3 2846.8 L1268.8 2850.8 L1271.3 2839.4 L1273.8 2829.6 L1276.3 2834.3 L1278.8 2834.2 L1281.3 2839.8 L1283.8 2838.5 L1286.3 2841.7 L1288.8 2848.7 L1291.3 2846.0 L1293.8 2838.6 L1296.3 2838.9 L1298.8 2843.0 L1301.3 2839.9 L1303.8 2848.4 L1306.3 2839.7 L1308.8 2833.1 L1311.3 2830.2 L1313.8 2826.8 L1316.3 2829.7 L1318.8 2836.2 L1321.3 2829.7 L1323.8 2822.7 L1326.3 2820.7 L1328.8 2817.6 L1331.3 2813.7 L1333.8 2806.4 L1336.3 2801.8 L1338.8 2806.6 L1341.3 2810.7 L1343.8 2816.8 L1346.3 2808.8 L1348.8 2806.7 L1351.3 2806.0 L1353.8 2800.0 L1356.3 2794.0 L1358.8 2788.6 L1361.3 2785.3 L1363.8 2779.7 L1366.3 2779.1 L1368.8 2780.1 L1371.3 2778.0 L1373.8 2786.9 L1376.3 2803.6 L1378.8 2811.1 L1381.3 2810.3 L1383.8 2819.8 L1386.3 2820.9 L1388.8 2819.6 L1391.3 2807.8 L1393.8 2809.9 L1396.3 2808.2 L1398.8 2804.8 L1401.3 2803.8 L1403.8 2794.7 L1406.3 2785.0 L1408.8 2794.6 L1411.3 2808.6 L1413.8 2812.9 L1416.3 2822.6 L1418.8 2825.0 L1421.3 2816.0 L1423.8 2814.0 L1426.3 2822.8 L1428.8 2831.9 L1431.3 2815.0 L1433.8 2795.9 L1436.3 2788.2 L1438.8 2783.3 L1441.3 2776.7 L1443.8 2766.5 L1446.3 2757.3 L1448.8 2754.9 L1451.3 2754.2 L1453.8 2752.8 L1456.3 2753.2 L1458.8 2756.7 L1461.3 2758.6 L1463.8 2773.3 L1466.3 2805.5 L1468.8 2812.1 L1471.3 2806.4 L1473.8 2806.2 L1476.3 2798.8 L1478.8 2789.4 L1481.3 2789.3 L1483.8 2794.5 L1486.3 2785.7 L1488.8 2787.1 L1491.3 2796.9 L1493.8 2805.2 L1496.3 2807.7 L1498.8 2815.3 L1501.3 2802.3 L1503.8 2772.9 L1506.3 2762.2 L1508.8 2757.9 L1511.3 2756.5 L1513.8 2756.3 L1516.3 2760.0 L1518.8 2763.5 L1521.3 2772.0 L1523.8 2774.3 L1526.3 2766.2 L1528.8 2758.5 L1531.3 2758.1 L1533.8 2757.2 L1536.3 2757.6 L1538.8 2757.6 L1541.3 2760.0 L1543.8 2758.4 L1546.3 2756.4 L1548.8 2756.7 L1551.4 2760.9 L1553.9 2761.8 L1556.4 2760.3 L1558.9 2760.0 L1561.4 2761.4 L1563.9 2759.8 L1566.4 2756.1 L1568.9 2759.1 L1571.4 2760.6 L1573.9 2760.5 L1576.4 2759.4 L1578.9 2758.3 L1581.4 2755.9 L1583.9 2755.4 L1586.4 2755.6 L1588.9 2755.7 L1591.4 2753.1 L1593.9 2752.7 L1596.4 2753.2 L1598.9 2751.7 L1601.4 2751.7 L1603.9 2751.3 L1606.4 2753.3 L1608.9 2754.9 L1611.4 2754.1 L1613.9 2753.3 L1616.4 2752.7 L1618.9 2752.4 L1621.4 2752.4 L1623.9 2755.1 L1626.4 2756.0 L1628.9 2755.8 L1631.4 2756.8 L1633.9 2757.5 L1636.4 2755.6 L1638.9 2755.5 L1641.4 2754.3 L1643.9 2754.7 L1646.4 2755.7 L1648.9 2757.6 L1651.4 2759.6 L1653.9 2758.4 L1656.4 2757.4 L1658.9 2754.5 L1661.4 2753.5 L1663.9 2751.9 L1666.4 2751.2 L1668.9 2751.6 L1671.4 2750.6 L1673.9 2751.0 L1676.4 2752.4 L1678.9 2754.1 L1681.4 2756.0 L1683.9 2755.3 L1686.4 2756.5 L1688.9 2759.4 L1691.4 2760.5 L1693.9 2757.6 L1696.4 2757.7 L1698.9 2758.0 L1701.4 2759.8 L1703.9 2763.5 L1706.4 2765.0 L1708.9 2764.9 L1711.4 2766.3 L1713.9 2764.7 L1716.4 2764.9 L1718.9 2760.9 L1721.4 2759.6 L1723.9 2757.0 L1726.4 2754.2 L1728.9 2754.0 L1731.4 2755.8 L1733.9 2757.3 L1736.4 2757.4 L1738.9 2762.1 L1741.4 2767.2 L1743.9 2772.3 L1746.4 2780.9 L1748.9 2783.1 L1751.4 2770.9 L1753.9 2767.5 L1756.4 2762.5 L1758.9 2760.5 L1761.4 2756.4 L1763.9 2753.6 L1766.4 2753.3 L1768.9 2753.4 L1771.4 2755.4 L1773.9 2758.2 L1776.4 2757.9 L1778.9 2757.3 L1781.4 2755.4 L1783.9 2754.0 L1786.4 2753.1 L1788.9 2754.9 L1791.4 2756.6 L1793.9 2756.2 L1796.4 2755.5 L1798.9 2755.5 L1801.4 2754.7 L1803.9 2754.1 L1806.4 2753.9 L1808.9 2752.2 L1811.4 2751.8 L1813.9 2752.1 L1816.4 2752.0 L1818.9 2753.8 L1821.4 2754.2 L1823.9 2753.8 L1826.4 2753.1 L1828.9 2752.8 L1831.4 2752.4 L1833.9 2754.6 L1836.4 2756.1 L1838.9 2757.1 L1841.4 2758.8 L1843.9 2758.8 L1846.4 2761.2 L1848.9 2762.6 L1851.4 2763.9 L1853.9 2766.5 L1856.4 2768.2 L1858.9 2768.2 L1861.4 2774.3 L1863.9 2771.8 L1866.4 2774.2 L1868.9 2774.5 L1871.4 2774.2 L1873.9 2773.6 L1876.4 2773.6 L1878.9 2774.9 L1881.4 2778.1 L1883.9 2779.0 L1886.4 2778.7 L1888.9 2785.5 L1891.4 2779.7 L1893.9 2778.6 L1896.4 2778.0 L1898.9 2777.4 L1901.4 2774.7 L1903.9 2775.7 L1906.4 2775.7 L1908.9 2779.9 L1911.4 2782.8 L1913.9 2786.5 L1916.4 2788.5 L1918.9 2794.1 L1921.4 2797.4 L1923.9 2805.7 L1926.4 2804.5 L1928.9 2803.8 L1931.4 2799.3 L1933.9 2801.4 L1936.4 2801.2 L1938.9 2787.7 L1941.5 2807.7 L1944.0 2824.3 L1946.5 2806.7 L1949.0 2790.6 L1951.5 2790.8 L1954.0 2795.4 L1956.5 2803.9 L1959.0 2813.0 L1961.5 2813.3 L1964.0 2811.4 L1966.5 2807.8 L1969.0 2803.2 L1971.5 2798.4 L1974.0 2787.3 L1976.5 2785.9 L1979.0 2785.4 L1981.5 2788.7 L1984.0 2789.3 L1986.5 2783.5 L1989.0 2780.1 L1991.5 2776.1 L1994.0 2775.9 L1996.5 2777.9 L1999.0 2781.7 L2001.5 2793.7 L2004.0 2793.8 L2006.5 2793.1 L2009.0 2792.3 L2011.5 2790.7 L2014.0 2795.9 L2016.5 2803.5 L2019.0 2810.3 L2021.5 2814.8 L2024.0 2817.1 L2026.5 2791.2 L2029.0 2800.6 L2031.5 2810.0 L2034.0 2815.4 L2036.5 2822.9 L2039.0 2836.7 L2041.5 2837.8 L2044.0 2843.5 L2046.5 2847.0 L2049.0 2844.6 L2051.5 2835.3 L2054.0 2832.5 L2056.5 2831.0 L2059.0 2836.3 L2061.5 2842.9 L2064.0 2844.4 L2066.5 2858.6 L2069.0 2867.4 L2071.5 2854.5 L2074.0 2854.3 L2076.5 2852.7 L2079.0 2855.3 L2081.5 2857.8 L2084.0 2859.4 L2086.5 2856.7 L2089.0 2852.4 L2091.5 2855.6 L2094.0 2860.2 L2096.5 2852.4 L2099.0 2847.4 L2101.5 2841.6 L2104.0 2850.6 L2106.5 2857.8 L2109.0 2853.9 L2111.5 2852.3 L2114.0 2843.6 L2116.5 2839.4 L2119.0 2836.0 L2121.5 2840.1 L2124.0 2842.8 L2126.5 2847.6 L2129.0 2836.1 L2131.5 2830.4 L2134.0 2828.3" fill="none" stroke="#0a0a0a" stroke-width="1.7" stroke-linejoin="round"/>
<g fill="none" stroke="#000">
<rect x="1773.2" y="702" width="96.5" height="2788.4" stroke-width="8.4" stroke-dasharray="70 27 9 27"/>
<rect x="1944.7" y="701.9" width="100.7" height="2788.5" stroke-width="8.1" stroke-dasharray="8.1 9.571"/>
<rect x="1996.3" y="2189.3" width="125.3" height="1301.1" stroke-width="8.3" stroke-dasharray="26.6 8.8"/>
</g>
</svg>
</body></html>
